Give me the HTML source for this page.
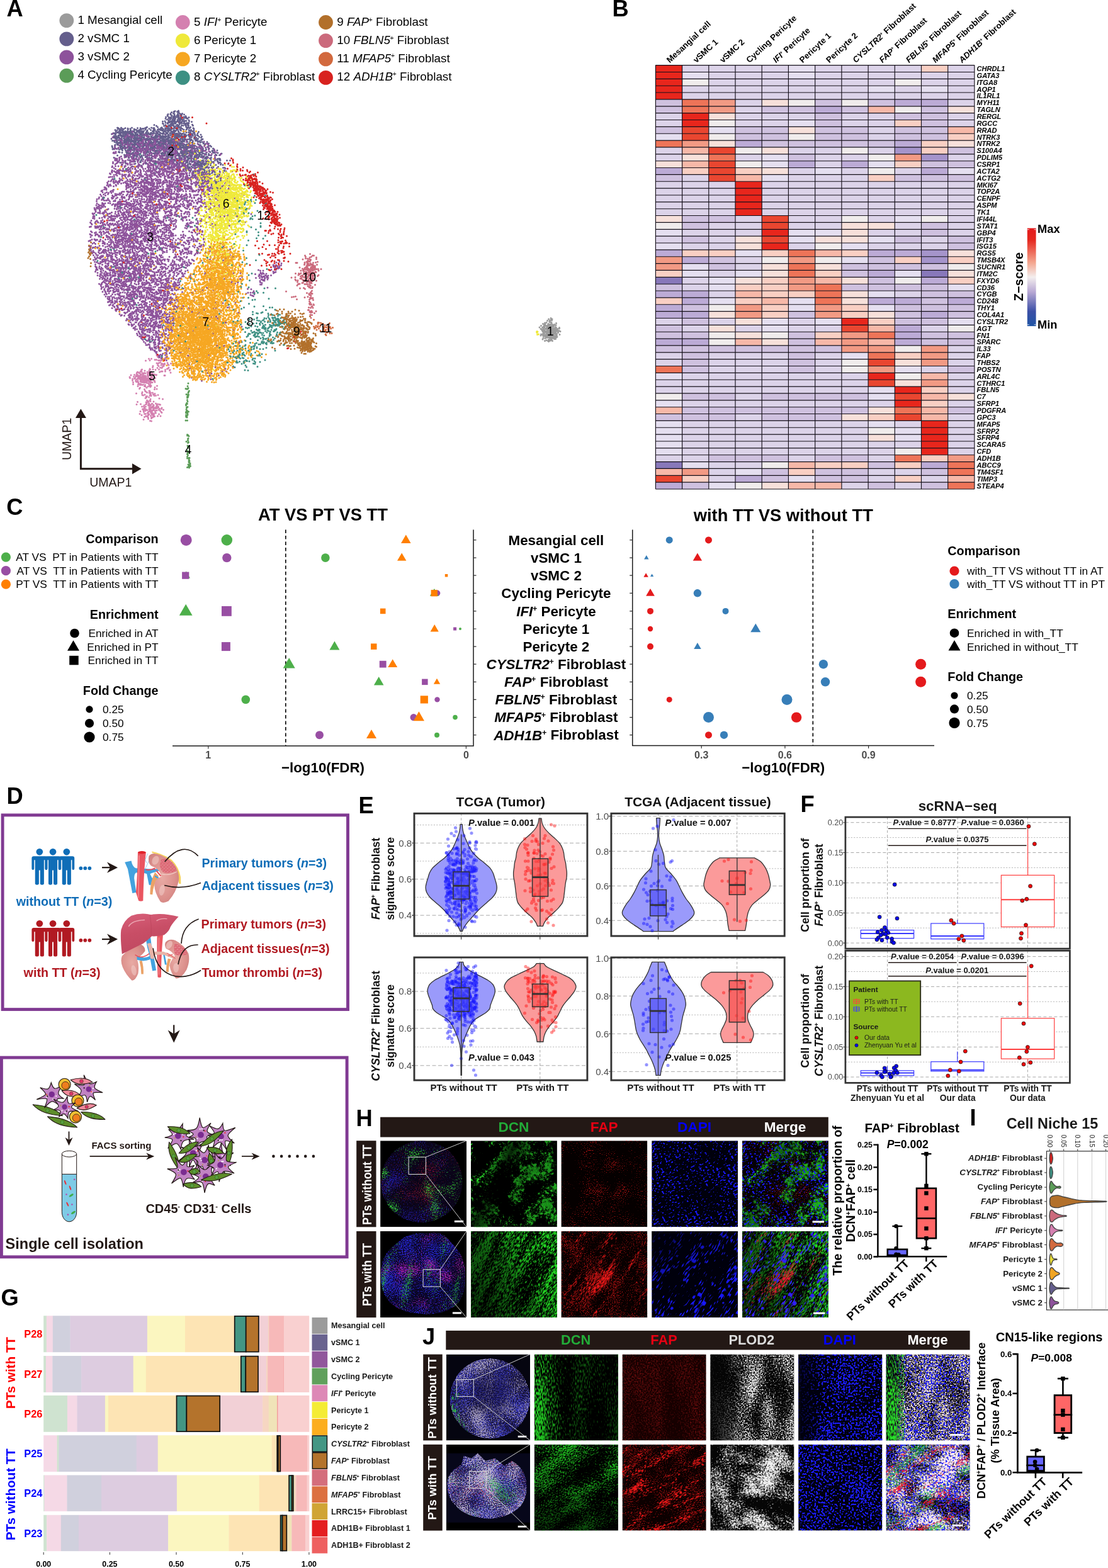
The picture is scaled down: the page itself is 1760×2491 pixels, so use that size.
<!DOCTYPE html>
<html lang="en"><head><meta charset="utf-8"><title>Figure</title>
<style>
html,body{margin:0;padding:0;background:#fff}
body{width:1760px;height:2491px;overflow:hidden}
svg{display:block;font-family:"Liberation Sans",Arial,Helvetica,sans-serif}
text{white-space:pre}
</style></head><body>
<svg width="1760" height="2491" viewBox="0 0 1760 2491">
<defs>
<linearGradient id="zsc" x1="0" y1="0" x2="0" y2="1"><stop offset="0" stop-color="#e31a1c"/><stop offset="0.12" stop-color="#e5281f"/><stop offset="0.35" stop-color="#f4a58e"/><stop offset="0.5" stop-color="#f3eeee"/><stop offset="0.65" stop-color="#b8a8d4"/><stop offset="0.85" stop-color="#3b4fa6"/><stop offset="1" stop-color="#1f55a5"/></linearGradient>
<radialGradient id="kid" cx="0.45" cy="0.5" r="0.7"><stop offset="0" stop-color="#e8aaa4"/><stop offset="0.6" stop-color="#dc908c"/><stop offset="1" stop-color="#c87a78"/></radialGradient><linearGradient id="liv" x1="0" y1="0" x2="0.3" y2="1"><stop offset="0" stop-color="#d8607a"/><stop offset="0.5" stop-color="#c84e66"/><stop offset="1" stop-color="#c04860"/></linearGradient><pattern id="tumtex" width="60" height="60" patternUnits="userSpaceOnUse"><circle cx="15" cy="15" r="11" fill="#eba0a4"/><circle cx="45" cy="40" r="12" fill="#e8969c"/><circle cx="20" cy="48" r="7" fill="#efb0b0"/><circle cx="48" cy="10" r="6" fill="#efb0b0"/></pattern>
<clipPath id="ovc1"><circle cx="65.7" cy="65.1" r="65"/></clipPath><clipPath id="ovc2"><path d="M1 72Q-2 40 25 20Q45 0 75 3Q100 -2 112 18Q132 35 135 62Q138 100 120 118Q95 135 62 131Q20 128 6 100Q1 88 1 72Z"/></clipPath>
<clipPath id="ovc3"><circle cx="69.5" cy="70.1" r="63.5"/></clipPath><clipPath id="ovc4"><path d="M2 68Q0 50 12 40L24 32L28 18L40 22L50 14L62 26L78 22L92 34L104 26Q120 34 126 52Q132 80 118 98Q100 116 70 118Q30 116 14 96Q2 84 2 68Z"/></clipPath><clipPath id="jarc"><path d="M16 45Q2 75 12 100L30 130L36 126Q18 95 22 50Z"/></clipPath><clipPath id="jleft"><rect width="30" height="137"/></clipPath>
<filter id="n1" x="0" y="0" width="1" height="1" color-interpolation-filters="sRGB"><feTurbulence type="fractalNoise" baseFrequency="0.02 0.02" numOctaves="2" seed="3" result="a"/><feTurbulence type="fractalNoise" baseFrequency="0.6 0.6" numOctaves="1" seed="4"/><feComposite in2="a" operator="arithmetic" k2="0.6" k3="0.4"/><feColorMatrix values="0 0 0 0 0.141 0 0 0 0 0.125 0 0 0 0 0.784 0 0 0 5 -2.75"/></filter><filter id="n2" x="0" y="0" width="1" height="1" color-interpolation-filters="sRGB"><feTurbulence type="fractalNoise" baseFrequency="0.02 0.02" numOctaves="2" seed="5" result="a"/><feTurbulence type="fractalNoise" baseFrequency="0.6 0.6" numOctaves="1" seed="6"/><feComposite in2="a" operator="arithmetic" k2="0.6" k3="0.4"/><feColorMatrix values="0 0 0 0 0.627 0 0 0 0 0.078 0 0 0 0 0.188 0 0 0 5 -2.85"/></filter><filter id="n3" x="0" y="0" width="1" height="1" color-interpolation-filters="sRGB"><feTurbulence type="fractalNoise" baseFrequency="0.03 0.03" numOctaves="2" seed="7" result="a"/><feTurbulence type="fractalNoise" baseFrequency="0.6 0.6" numOctaves="1" seed="8"/><feComposite in2="a" operator="arithmetic" k2="0.5" k3="0.5"/><feColorMatrix values="0 0 0 0 0.22 0 0 0 0 0.878 0 0 0 0 0.22 0 0 0 8 -4.7"/></filter><clipPath id="c1"><rect width="136.9" height="137.1"/></clipPath><filter id="n4" x="0" y="0" width="1" height="1" color-interpolation-filters="sRGB"><feTurbulence type="fractalNoise" baseFrequency="0.03 0.03" numOctaves="2" seed="4" result="a"/><feTurbulence type="fractalNoise" baseFrequency="0.22 0.22" numOctaves="2" seed="3"/><feComposite in2="a" operator="arithmetic" k2="0.5" k3="0.5"/><feColorMatrix values="0 0 0 0 0.173 0 0 0 0 0.902 0 0 0 0 0.173 0 0 0 10 -5.35"/></filter><filter id="n5" x="0" y="0" width="1" height="1" color-interpolation-filters="sRGB"><feTurbulence type="fractalNoise" baseFrequency="0.03 0.03" numOctaves="2" seed="4" result="a"/><feTurbulence type="fractalNoise" baseFrequency="0.6 0.6" numOctaves="1" seed="9"/><feComposite in2="a" operator="arithmetic" k2="0.45" k3="0.55"/><feColorMatrix values="0 0 0 0 0.122 0 0 0 0 0.722 0 0 0 0 0.122 0 0 0 8 -4.3"/></filter><linearGradient id="g6" x1="0" y1="0" x2="1" y2="0.5"><stop offset="0" stop-color="#000" stop-opacity="0"/><stop offset="0.25" stop-color="#000" stop-opacity="0"/><stop offset="0.42" stop-color="#000" stop-opacity="0.8"/><stop offset="0.6" stop-color="#000" stop-opacity="0.4"/><stop offset="1" stop-color="#000" stop-opacity="0.25"/></linearGradient><filter id="n7" x="0" y="0" width="1" height="1" color-interpolation-filters="sRGB"><feTurbulence type="fractalNoise" baseFrequency="0.03 0.03" numOctaves="2" seed="11" result="a"/><feTurbulence type="fractalNoise" baseFrequency="0.6 0.6" numOctaves="1" seed="12"/><feComposite in2="a" operator="arithmetic" k2="0.7" k3="0.3"/><feColorMatrix values="0 0 0 0 0.753 0 0 0 0 0.078 0 0 0 0 0.078 0 0 0 7 -4.1"/></filter><filter id="n8" x="0" y="0" width="1" height="1" color-interpolation-filters="sRGB"><feTurbulence type="fractalNoise" baseFrequency="0.02 0.02" numOctaves="1" seed="22" result="a"/><feTurbulence type="fractalNoise" baseFrequency="0.3 0.45" numOctaves="1" seed="21"/><feComposite in2="a" operator="arithmetic" k2="0.8" k3="0.2"/><feColorMatrix values="0 0 0 0 0.094 0 0 0 0 0.094 0 0 0 0 1 0 0 0 17 -9.6"/></filter><linearGradient id="g9" x1="0" y1="0" x2="1" y2="0.5"><stop offset="0" stop-color="#000" stop-opacity="0"/><stop offset="0.25" stop-color="#000" stop-opacity="0"/><stop offset="0.42" stop-color="#000" stop-opacity="0.8"/><stop offset="0.6" stop-color="#000" stop-opacity="0.4"/><stop offset="1" stop-color="#000" stop-opacity="0.25"/></linearGradient><linearGradient id="g10" x1="0" y1="0" x2="1" y2="0.5"><stop offset="0" stop-color="#000" stop-opacity="0"/><stop offset="0.3" stop-color="#000" stop-opacity="0.1"/><stop offset="0.42" stop-color="#000" stop-opacity="0.5"/><stop offset="0.6" stop-color="#000" stop-opacity="0.3"/><stop offset="1" stop-color="#000" stop-opacity="0.1"/></linearGradient><filter id="n11" x="0" y="0" width="1" height="1" color-interpolation-filters="sRGB"><feTurbulence type="fractalNoise" baseFrequency="0.02 0.02" numOctaves="1" seed="22" result="a"/><feTurbulence type="fractalNoise" baseFrequency="0.3 0.45" numOctaves="1" seed="21"/><feComposite in2="a" operator="arithmetic" k2="0.8" k3="0.2"/><feColorMatrix values="0 0 0 0 0.094 0 0 0 0 0.094 0 0 0 0 1 0 0 0 17 -9.5"/></filter><filter id="n12" x="0" y="0" width="1" height="1" color-interpolation-filters="sRGB"><feTurbulence type="fractalNoise" baseFrequency="0.02 0.02" numOctaves="2" seed="13" result="a"/><feTurbulence type="fractalNoise" baseFrequency="0.6 0.6" numOctaves="1" seed="14"/><feComposite in2="a" operator="arithmetic" k2="0.65" k3="0.35"/><feColorMatrix values="0 0 0 0 0.149 0 0 0 0 0.149 0 0 0 0 0.847 0 0 0 7 -3.5"/></filter><filter id="n13" x="0" y="0" width="1" height="1" color-interpolation-filters="sRGB"><feTurbulence type="fractalNoise" baseFrequency="0.025 0.025" numOctaves="2" seed="15" result="a"/><feTurbulence type="fractalNoise" baseFrequency="0.6 0.6" numOctaves="1" seed="16"/><feComposite in2="a" operator="arithmetic" k2="0.5" k3="0.5"/><feColorMatrix values="0 0 0 0 0.69 0 0 0 0 0.125 0 0 0 0 0.69 0 0 0 7 -3.85"/></filter><filter id="n14" x="0" y="0" width="1" height="1" color-interpolation-filters="sRGB"><feTurbulence type="fractalNoise" baseFrequency="0.01 0.04" numOctaves="2" seed="17" result="a"/><feTurbulence type="fractalNoise" baseFrequency="0.5 0.6" numOctaves="1" seed="18"/><feComposite in2="a" operator="arithmetic" k2="0.5" k3="0.5"/><feColorMatrix values="0 0 0 0 0.157 0 0 0 0 0.722 0 0 0 0 0.251 0 0 0 8 -4.5"/></filter><filter id="n15" x="0" y="0" width="1" height="1" color-interpolation-filters="sRGB"><feTurbulence type="fractalNoise" baseFrequency="0.008 0.07" numOctaves="3" seed="31" result="a"/><feTurbulence type="fractalNoise" baseFrequency="0.2 0.7" numOctaves="2" seed="32"/><feComposite in2="a" operator="arithmetic" k2="0.68" k3="0.32"/><feColorMatrix values="0 0 0 0 0.141 0 0 0 0 0.886 0 0 0 0 0.141 0 0 0 6 -2.68"/></filter><linearGradient id="g16" x1="0" y1="0.7" x2="1" y2="0.3"><stop offset="0" stop-color="#000" stop-opacity="0.7"/><stop offset="0.45" stop-color="#000" stop-opacity="0.45"/><stop offset="0.75" stop-color="#000" stop-opacity="0.05"/><stop offset="1" stop-color="#000" stop-opacity="0"/></linearGradient><filter id="n17" x="0" y="0" width="1" height="1" color-interpolation-filters="sRGB"><feTurbulence type="fractalNoise" baseFrequency="0.01 0.09" numOctaves="3" seed="41" result="a"/><feTurbulence type="fractalNoise" baseFrequency="0.2 0.7" numOctaves="2" seed="42"/><feComposite in2="a" operator="arithmetic" k2="0.5" k3="0.5"/><feColorMatrix values="0 0 0 0 0.941 0 0 0 0 0.094 0 0 0 0 0.094 0 0 0 7 -3.8"/></filter><filter id="n18" x="0" y="0" width="1" height="1" color-interpolation-filters="sRGB"><feTurbulence type="fractalNoise" baseFrequency="0.03 0.03" numOctaves="2" seed="45" result="a"/><feTurbulence type="fractalNoise" baseFrequency="0.6 0.6" numOctaves="1" seed="46"/><feComposite in2="a" operator="arithmetic" k2="0.7" k3="0.3"/><feColorMatrix values="0 0 0 0 0.627 0 0 0 0 0.063 0 0 0 0 0.063 0 0 0 7 -3.8"/></filter><filter id="n19" x="0" y="0" width="1" height="1" color-interpolation-filters="sRGB"><feTurbulence type="fractalNoise" baseFrequency="0.015 0.06" numOctaves="2" seed="52" result="a"/><feTurbulence type="fractalNoise" baseFrequency="0.12 0.5" numOctaves="1" seed="51"/><feComposite in2="a" operator="arithmetic" k2="0.7" k3="0.3"/><feColorMatrix values="0 0 0 0 0.094 0 0 0 0 0.094 0 0 0 0 1 0 0 0 16 -8.95"/></filter><linearGradient id="g20" x1="0" y1="0" x2="0.6" y2="0.8"><stop offset="0" stop-color="#00000c" stop-opacity="0.9"/><stop offset="0.45" stop-color="#00000c" stop-opacity="0.3"/><stop offset="1" stop-color="#00000c" stop-opacity="0"/></linearGradient><linearGradient id="g21" x1="0" y1="0.7" x2="1" y2="0.3"><stop offset="0" stop-color="#000" stop-opacity="0.7"/><stop offset="0.45" stop-color="#000" stop-opacity="0.45"/><stop offset="0.75" stop-color="#000" stop-opacity="0.05"/><stop offset="1" stop-color="#000" stop-opacity="0"/></linearGradient><filter id="n22" x="0" y="0" width="1" height="1" color-interpolation-filters="sRGB"><feTurbulence type="fractalNoise" baseFrequency="0.01 0.09" numOctaves="3" seed="41" result="a"/><feTurbulence type="fractalNoise" baseFrequency="0.2 0.7" numOctaves="2" seed="42"/><feComposite in2="a" operator="arithmetic" k2="0.5" k3="0.5"/><feColorMatrix values="0 0 0 0 0.941 0 0 0 0 0.094 0 0 0 0 0.188 0 0 0 7 -3.95"/></filter><filter id="n23" x="0" y="0" width="1" height="1" color-interpolation-filters="sRGB"><feTurbulence type="fractalNoise" baseFrequency="0.015 0.06" numOctaves="2" seed="52" result="a"/><feTurbulence type="fractalNoise" baseFrequency="0.12 0.5" numOctaves="1" seed="51"/><feComposite in2="a" operator="arithmetic" k2="0.7" k3="0.3"/><feColorMatrix values="0 0 0 0 0.188 0 0 0 0 0.125 0 0 0 0 1 0 0 0 16 -9.0"/></filter><filter id="n24" x="0" y="0" width="1" height="1" color-interpolation-filters="sRGB"><feTurbulence type="fractalNoise" baseFrequency="0.02 0.02" numOctaves="2" seed="103" result="a"/><feTurbulence type="fractalNoise" baseFrequency="0.6 0.6" numOctaves="1" seed="104"/><feComposite in2="a" operator="arithmetic" k2="0.7" k3="0.3"/><feColorMatrix values="0 0 0 0 0.204 0 0 0 0 0.204 0 0 0 0 0.753 0 0 0 7 -3.2"/></filter><filter id="n25" x="0" y="0" width="1" height="1" color-interpolation-filters="sRGB"><feTurbulence type="fractalNoise" baseFrequency="0.025 0.025" numOctaves="2" seed="105" result="a"/><feTurbulence type="fractalNoise" baseFrequency="0.6 0.6" numOctaves="1" seed="106"/><feComposite in2="a" operator="arithmetic" k2="0.6" k3="0.4"/><feColorMatrix values="0 0 0 0 0.667 0 0 0 0 0.635 0 0 0 0 0.769 0 0 0 7 -3.5"/></filter><radialGradient id="g26" cx="0.55" cy="0.45" r="0.35"><stop offset="0" stop-color="#0c0830" stop-opacity="0.5"/><stop offset="0.6" stop-color="#0c0830" stop-opacity="0.3"/><stop offset="1" stop-color="#0c0830" stop-opacity="0"/></radialGradient><filter id="n27" x="0" y="0" width="1" height="1" color-interpolation-filters="sRGB"><feTurbulence type="fractalNoise" baseFrequency="0.03 0.004" numOctaves="2" seed="107" result="a"/><feTurbulence type="fractalNoise" baseFrequency="0.5 0.15" numOctaves="1" seed="108"/><feComposite in2="a" operator="arithmetic" k2="0.6" k3="0.4"/><feColorMatrix values="0 0 0 0 0.188 0 0 0 0 0.816 0 0 0 0 0.251 0 0 0 6 -2.9"/></filter><clipPath id="c2"><rect width="133.2" height="136.8"/></clipPath><filter id="n28" x="0" y="0" width="1" height="1" color-interpolation-filters="sRGB"><feTurbulence type="fractalNoise" baseFrequency="0.03 0.004" numOctaves="2" seed="81" result="a"/><feTurbulence type="fractalNoise" baseFrequency="0.55 0.2" numOctaves="1" seed="82"/><feComposite in2="a" operator="arithmetic" k2="0.6" k3="0.4"/><feColorMatrix values="0 0 0 0 0.141 0 0 0 0 0.847 0 0 0 0 0.141 0 0 0 6 -2.9"/></filter><linearGradient id="g29" x1="0" y1="0" x2="1" y2="0"><stop offset="0" stop-color="#000" stop-opacity="0"/><stop offset="0.2" stop-color="#000" stop-opacity="0.25"/><stop offset="0.45" stop-color="#000" stop-opacity="0.55"/><stop offset="1" stop-color="#000" stop-opacity="0.7"/></linearGradient><filter id="n30" x="0" y="0" width="1" height="1" color-interpolation-filters="sRGB"><feTurbulence type="fractalNoise" baseFrequency="0.03 0.01" numOctaves="2" seed="91" result="a"/><feTurbulence type="fractalNoise" baseFrequency="0.5 0.4" numOctaves="1" seed="92"/><feComposite in2="a" operator="arithmetic" k2="0.7" k3="0.3"/><feColorMatrix values="0 0 0 0 0.502 0 0 0 0 0.063 0 0 0 0 0.063 0 0 0 3 -1.45"/></filter><filter id="n31" x="0" y="0" width="1" height="1" color-interpolation-filters="sRGB"><feTurbulence type="fractalNoise" baseFrequency="0.03 0.012" numOctaves="2" seed="61" result="a"/><feTurbulence type="fractalNoise" baseFrequency="0.45 0.45" numOctaves="2" seed="62"/><feComposite in2="a" operator="arithmetic" k2="0.6" k3="0.4"/><feColorMatrix values="0 0 0 0 0.91 0 0 0 0 0.91 0 0 0 0 0.91 0 0 0 6 -2.78"/></filter><linearGradient id="g32" x1="0" y1="0" x2="1" y2="0"><stop offset="0" stop-color="#050505" stop-opacity="0.9"/><stop offset="0.2" stop-color="#050505" stop-opacity="0.7"/><stop offset="0.4" stop-color="#050505" stop-opacity="0"/><stop offset="1" stop-color="#050505" stop-opacity="0"/></linearGradient><filter id="n33" x="0" y="0" width="1" height="1" color-interpolation-filters="sRGB"><feTurbulence type="fractalNoise" baseFrequency="0.02 0.02" numOctaves="1" seed="72" result="a"/><feTurbulence type="fractalNoise" baseFrequency="0.35 0.35" numOctaves="1" seed="71"/><feComposite in2="a" operator="arithmetic" k2="0.8" k3="0.2"/><feColorMatrix values="0 0 0 0 0.11 0 0 0 0 0.11 0 0 0 0 1 0 0 0 16 -8.35"/></filter><linearGradient id="g34" x1="0" y1="0" x2="1" y2="0"><stop offset="0" stop-color="#00000e" stop-opacity="0.9"/><stop offset="0.15" stop-color="#00000e" stop-opacity="0.6"/><stop offset="0.3" stop-color="#00000e" stop-opacity="0"/><stop offset="1" stop-color="#00000e" stop-opacity="0"/></linearGradient><filter id="n35" x="0" y="0" width="1" height="1" color-interpolation-filters="sRGB"><feTurbulence type="fractalNoise" baseFrequency="0.03 0.012" numOctaves="2" seed="61" result="a"/><feTurbulence type="fractalNoise" baseFrequency="0.45 0.45" numOctaves="2" seed="62"/><feComposite in2="a" operator="arithmetic" k2="0.7" k3="0.3"/><feColorMatrix values="0 0 0 0 0.965 0 0 0 0 0.902 0 0 0 0 0.902 0 0 0 6 -2.55"/></filter><filter id="n36" x="0" y="0" width="1" height="1" color-interpolation-filters="sRGB"><feTurbulence type="fractalNoise" baseFrequency="0.02 0.02" numOctaves="1" seed="72" result="a"/><feTurbulence type="fractalNoise" baseFrequency="0.35 0.35" numOctaves="1" seed="71"/><feComposite in2="a" operator="arithmetic" k2="0.8" k3="0.2"/><feColorMatrix values="0 0 0 0 0.125 0 0 0 0 0.125 0 0 0 0 0.941 0 0 0 16 -8.45"/></filter><linearGradient id="g37" x1="0" y1="0" x2="1" y2="0"><stop offset="0" stop-color="#020802" stop-opacity="0.95"/><stop offset="0.1" stop-color="#020802" stop-opacity="0.8"/><stop offset="0.22" stop-color="#020802" stop-opacity="0"/><stop offset="1" stop-color="#020802" stop-opacity="0"/></linearGradient><filter id="n38" x="0" y="0" width="1" height="1" color-interpolation-filters="sRGB"><feTurbulence type="fractalNoise" baseFrequency="0.02 0.006" numOctaves="2" seed="81" result="a"/><feTurbulence type="fractalNoise" baseFrequency="0.6 0.5" numOctaves="1" seed="82"/><feComposite in2="a" operator="arithmetic" k2="0.6" k3="0.4"/><feColorMatrix values="0 0 0 0 0.157 0 0 0 0 0.878 0 0 0 0 0.157 0 0 0 6 -2.75"/></filter><filter id="n39" x="0" y="0" width="1" height="1" color-interpolation-filters="sRGB"><feTurbulence type="fractalNoise" baseFrequency="0.03 0.004" numOctaves="2" seed="81" result="a"/><feTurbulence type="fractalNoise" baseFrequency="0.55 0.2" numOctaves="1" seed="82"/><feComposite in2="a" operator="arithmetic" k2="0.6" k3="0.4"/><feColorMatrix values="0 0 0 0 0.157 0 0 0 0 0.878 0 0 0 0 0.157 0 0 0 6 -3.0"/></filter><filter id="n40" x="0" y="0" width="1" height="1" color-interpolation-filters="sRGB"><feTurbulence type="fractalNoise" baseFrequency="0.02 0.02" numOctaves="2" seed="113" result="a"/><feTurbulence type="fractalNoise" baseFrequency="0.6 0.6" numOctaves="1" seed="114"/><feComposite in2="a" operator="arithmetic" k2="0.7" k3="0.3"/><feColorMatrix values="0 0 0 0 0.251 0 0 0 0 0.251 0 0 0 0 0.816 0 0 0 7 -3.25"/></filter><filter id="n41" x="0" y="0" width="1" height="1" color-interpolation-filters="sRGB"><feTurbulence type="fractalNoise" baseFrequency="0.025 0.025" numOctaves="2" seed="115" result="a"/><feTurbulence type="fractalNoise" baseFrequency="0.6 0.6" numOctaves="1" seed="116"/><feComposite in2="a" operator="arithmetic" k2="0.6" k3="0.4"/><feColorMatrix values="0 0 0 0 0.737 0 0 0 0 0.69 0 0 0 0 0.816 0 0 0 7 -3.3"/></filter><filter id="n42" x="0" y="0" width="1" height="1" color-interpolation-filters="sRGB"><feTurbulence type="fractalNoise" baseFrequency="0.02 0.02" numOctaves="2" seed="117" result="a"/><feTurbulence type="fractalNoise" baseFrequency="0.6 0.6" numOctaves="1" seed="118"/><feComposite in2="a" operator="arithmetic" k2="0.5" k3="0.5"/><feColorMatrix values="0 0 0 0 0.251 0 0 0 0 0.784 0 0 0 0 0.376 0 0 0 8 -4.55"/></filter><filter id="n43" x="0" y="0" width="1" height="1" color-interpolation-filters="sRGB"><feTurbulence type="fractalNoise" baseFrequency="0.02 0.02" numOctaves="2" seed="119" result="a"/><feTurbulence type="fractalNoise" baseFrequency="0.6 0.6" numOctaves="1" seed="120"/><feComposite in2="a" operator="arithmetic" k2="0.7" k3="0.3"/><feColorMatrix values="0 0 0 0 0.816 0 0 0 0 0.157 0 0 0 0 0.282 0 0 0 8 -4.85"/></filter><filter id="n44" x="0" y="0" width="1" height="1" color-interpolation-filters="sRGB"><feTurbulence type="fractalNoise" baseFrequency="0.015 0.03" numOctaves="3" seed="131" result="a"/><feTurbulence type="fractalNoise" baseFrequency="0.4 0.6" numOctaves="1" seed="132"/><feComposite in2="a" operator="arithmetic" k2="0.65" k3="0.35"/><feColorMatrix values="0 0 0 0 0.141 0 0 0 0 0.878 0 0 0 0 0.141 0 0 0 6 -2.85"/></filter><linearGradient id="g45" x1="0.5" y1="0" x2="0.3" y2="1"><stop offset="0" stop-color="#000" stop-opacity="0.1"/><stop offset="0.5" stop-color="#000" stop-opacity="0.3"/><stop offset="1" stop-color="#000" stop-opacity="0.7"/></linearGradient><filter id="n46" x="0" y="0" width="1" height="1" color-interpolation-filters="sRGB"><feTurbulence type="fractalNoise" baseFrequency="0.02 0.06" numOctaves="3" seed="141" result="a"/><feTurbulence type="fractalNoise" baseFrequency="0.25 0.6" numOctaves="2" seed="142"/><feComposite in2="a" operator="arithmetic" k2="0.5" k3="0.5"/><feColorMatrix values="0 0 0 0 0.957 0 0 0 0 0.094 0 0 0 0 0.094 0 0 0 8 -4.3"/></filter><filter id="n47" x="0" y="0" width="1" height="1" color-interpolation-filters="sRGB"><feTurbulence type="fractalNoise" baseFrequency="0.03 0.03" numOctaves="2" seed="145" result="a"/><feTurbulence type="fractalNoise" baseFrequency="0.6 0.6" numOctaves="1" seed="146"/><feComposite in2="a" operator="arithmetic" k2="0.7" k3="0.3"/><feColorMatrix values="0 0 0 0 0.627 0 0 0 0 0.063 0 0 0 0 0.063 0 0 0 6 -3.3"/></filter><filter id="n48" x="0" y="0" width="1" height="1" color-interpolation-filters="sRGB"><feTurbulence type="fractalNoise" baseFrequency="0.02 0.03" numOctaves="3" seed="151" result="a"/><feTurbulence type="fractalNoise" baseFrequency="0.45 0.45" numOctaves="2" seed="152"/><feComposite in2="a" operator="arithmetic" k2="0.55" k3="0.45"/><feColorMatrix values="0 0 0 0 0.941 0 0 0 0 0.941 0 0 0 0 0.941 0 0 0 6 -2.8"/></filter><filter id="n49" x="0" y="0" width="1" height="1" color-interpolation-filters="sRGB"><feTurbulence type="fractalNoise" baseFrequency="0.02 0.02" numOctaves="1" seed="162" result="a"/><feTurbulence type="fractalNoise" baseFrequency="0.35 0.35" numOctaves="1" seed="161"/><feComposite in2="a" operator="arithmetic" k2="0.8" k3="0.2"/><feColorMatrix values="0 0 0 0 0.11 0 0 0 0 0.11 0 0 0 0 1 0 0 0 16 -8.25"/></filter><filter id="n50" x="0" y="0" width="1" height="1" color-interpolation-filters="sRGB"><feTurbulence type="fractalNoise" baseFrequency="0.02 0.03" numOctaves="3" seed="151" result="a"/><feTurbulence type="fractalNoise" baseFrequency="0.45 0.45" numOctaves="2" seed="152"/><feComposite in2="a" operator="arithmetic" k2="0.55" k3="0.45"/><feColorMatrix values="0 0 0 0 0.965 0 0 0 0 0.91 0 0 0 0 0.965 0 0 0 6 -2.5"/></filter><filter id="n51" x="0" y="0" width="1" height="1" color-interpolation-filters="sRGB"><feTurbulence type="fractalNoise" baseFrequency="0.02 0.02" numOctaves="1" seed="162" result="a"/><feTurbulence type="fractalNoise" baseFrequency="0.35 0.35" numOctaves="1" seed="161"/><feComposite in2="a" operator="arithmetic" k2="0.8" k3="0.2"/><feColorMatrix values="0 0 0 0 0.157 0 0 0 0 0.157 0 0 0 0 1 0 0 0 16 -8.3"/></filter><filter id="n52" x="0" y="0" width="1" height="1" color-interpolation-filters="sRGB"><feTurbulence type="fractalNoise" baseFrequency="0.015 0.03" numOctaves="3" seed="131" result="a"/><feTurbulence type="fractalNoise" baseFrequency="0.4 0.6" numOctaves="1" seed="132"/><feComposite in2="a" operator="arithmetic" k2="0.5" k3="0.5"/><feColorMatrix values="0 0 0 0 0.141 0 0 0 0 0.784 0 0 0 0 0.235 0 0 0 7 -3.85"/></filter><filter id="n53" x="0" y="0" width="1" height="1" color-interpolation-filters="sRGB"><feTurbulence type="fractalNoise" baseFrequency="0.02 0.06" numOctaves="3" seed="141" result="a"/><feTurbulence type="fractalNoise" baseFrequency="0.25 0.6" numOctaves="2" seed="142"/><feComposite in2="a" operator="arithmetic" k2="0.5" k3="0.5"/><feColorMatrix values="0 0 0 0 0.957 0 0 0 0 0.094 0 0 0 0 0.188 0 0 0 8 -4.45"/></filter>
</defs>
<rect width="1760" height="2491" fill="#fff"/>
<g id="panelA">
<text x="10.5" y="26.3" font-size="36.3" font-weight="bold">A</text>
<circle cx="105.8" cy="32.6" r="11.4" fill="#9b9b9b"/>
<text x="123.4" y="38.3" font-size="18.8">1 Mesangial cell</text>
<circle cx="105.8" cy="61.9" r="11.4" fill="#645e8c"/>
<text x="123.4" y="67.1" font-size="18.8">2 vSMC 1</text>
<circle cx="105.8" cy="90.9" r="11.4" fill="#8d529b"/>
<text x="123.4" y="95.9" font-size="18.8">3 vSMC 2</text>
<circle cx="105.8" cy="120.2" r="11.4" fill="#5b9c58"/>
<text x="123.4" y="124.7" font-size="18.8">4 Cycling Pericyte</text>
<circle cx="290.3" cy="35.5" r="11.4" fill="#d480b0"/>
<text x="308" y="41.2" font-size="18.8">5 <tspan font-style="italic">IFI</tspan><tspan dx="-0.03em" dy="-0.62em" font-size="55%" font-style="normal">+</tspan><tspan dy="0.341em">​</tspan> Pericyte</text>
<circle cx="290.3" cy="64.6" r="11.4" fill="#efe93a"/>
<text x="308" y="70" font-size="18.8">6 Pericyte 1</text>
<circle cx="290.3" cy="93.9" r="11.4" fill="#f6a722"/>
<text x="308" y="98.8" font-size="18.8">7 Pericyte 2</text>
<circle cx="290.3" cy="123.4" r="11.4" fill="#3d9083"/>
<text x="308" y="127.6" font-size="18.8">8 <tspan font-style="italic">CYSLTR2</tspan><tspan dx="-0.03em" dy="-0.62em" font-size="55%" font-style="normal">+</tspan><tspan dy="0.341em">​</tspan> Fibroblast</text>
<circle cx="517.5" cy="35.5" r="11.4" fill="#b2702b"/>
<text x="535.3" y="41.2" font-size="18.8">9 <tspan font-style="italic">FAP</tspan><tspan dx="-0.03em" dy="-0.62em" font-size="55%" font-style="normal">+</tspan><tspan dy="0.341em">​</tspan> Fibroblast</text>
<circle cx="517.5" cy="64.6" r="11.4" fill="#cb6a7c"/>
<text x="535.3" y="70" font-size="18.8">10 <tspan font-style="italic">FBLN5</tspan><tspan dx="-0.03em" dy="-0.62em" font-size="55%" font-style="normal">+</tspan><tspan dy="0.341em">​</tspan> Fibroblast</text>
<circle cx="517.5" cy="93.9" r="11.4" fill="#d2693e"/>
<text x="535.3" y="98.8" font-size="18.8">11 <tspan font-style="italic">MFAP5</tspan><tspan dx="-0.03em" dy="-0.62em" font-size="55%" font-style="normal">+</tspan><tspan dy="0.341em">​</tspan> Fibroblast</text>
<circle cx="517.5" cy="123.4" r="11.4" fill="#d8221f"/>
<text x="535.3" y="127.6" font-size="18.8">12 <tspan font-style="italic">ADH1B</tspan><tspan dx="-0.03em" dy="-0.62em" font-size="55%" font-style="normal">+</tspan><tspan dy="0.341em">​</tspan> Fibroblast</text>
<path d="M1729 1031h0m13-2h0m1-15h0m3 9h0m0-3h0m2 10h0m2-19h0m1 5h0m3-2h0m13 13h0m13 26h0m-3-9h0m-1 7h0m-4-6h0m0 6h0m-6-18h0m-2 13h0m-3 1h0m-1-14h0m0 2h0m-1 14h0m-1-11h0m-3 0h0m-1-6h0m-2 18h0m-1-2h0m-1-11h0m-2 7h0m0-2h0m-2 9h0m0-19h0m-2 23h0m0-7h0m-3-16h0m0 9h0m-1-3h0m-2 2h0m0-5h0m-1 2h0m-1 5h0m0 13h0m-2-20h0m-2 17h0m-2-15h0m-1-3h0m0 18h0m-1-16h0m-1 17h0m-1-7h0m-2 7h0m-3-6h0m-2-12h0m-5 5h0m5 22h0m5 16h0m0-14h0m2 4h0m0 6h0m1-10h0m3 4h0m0-3h0m2 10h0m0-6h0m3-2h0m1-10h0m3 0h0m0 9h0m1 6h0m0-11h0m1-5h0m4 17h0m0-6h0m1-10h0m1 15h0m0 2h0m1-8h0m2 10h0m3-9h0m5 2h0m6 4h0m1 4h0m2-7h0m11-7h0m-23 20h0m-9-3h0m-10 1h0" stroke="#9b9b9b" stroke-width="6" stroke-linecap="round" fill="none" transform="scale(.5)"/>
<path d="M545 357h0m7-2h0m2 0h0m2-2h0m10 5h0m1-6h0m33 30h0m-4-5h0m-3-1h0m-4-2h0m-3-2h0m-1-8h0m-2 8h0m-3 8h0m-1-19h0m-1 18h0m-2-9h0m-1 7h0m-1-4h0m-3 4h0m-1 3h0m-2-8h0m-1-6h0m0 12h0m-1-3h0m-1-13h0m-3 5h0m-5 10h0m-1 2h0m0-10h0m-2-5h0m0 4h0m0-6h0m-1 19h0m-2-21h0m-1 12h0m-1 11h0m-3-16h0m-2 5h0m-2-8h0m-2 10h0m-3-1h0m-1 9h0m-9-10h0m-1 5h0m-153 29h0m3 1h0m9-1h0m52 1h0m9 0h0m15 0h0m4-2h0m2-1h0m20 3h0m3 0h0m0-10h0m21 10h0m3-2h0m3-13h0m0-6h0m2 8h0m2 6h0m11-9h0m1 2h0m1-4h0m1 13h0m2 5h0m2-21h0m3 9h0m1-10h0m1 9h0m2-7h0m1 5h0m2 4h0m1 3h0m1-1h0m0-5h0m2 10h0m2 3h0m0-16h0m8 6h0m5 9h0m0-5h0m2-5h0m0 9h0m1-11h0m1-6h0m3 16h0m2-11h0m1-6h0m3-2h0m4 0h0m0 4h0m0 3h0m3 6h0m3 5h0m3-11h0m1 6h0m2-6h0m1 12h0m3-18h0m10 11h0m2 3h0m25 29h0m-7-9h0m-2 12h0m-1-7h0m-2 5h0m-7-2h0m-3-13h0m-3 11h0m-3 4h0m-5-7h0m0-4h0m-2-3h0m-3 12h0m0 2h0m-8 2h0m0-19h0m-1 17h0m-5 1h0m-2-11h0m0-7h0m-5-3h0m-2 21h0m-6 0h0m-1-4h0m-2-5h0m0 8h0m0-10h0m-2-3h0m-1-5h0m-3 13h0m-3 1h0m-2-8h0m-1 12h0m-2-15h0m0 3h0m-2-3h0m0-6h0m-2 12h0m-1-2h0m-2 13h0m-2-11h0m-9-11h0m0 22h0m-1-3h0m0-16h0m-5 2h0m-6 1h0m-3 10h0m-2-14h0m0 10h0m-2 10h0m-3-7h0m0-10h0m-1-5h0m-2 2h0m-2 2h0m0 9h0m-1 5h0m-2-8h0m-3 7h0m-1-10h0m-6 3h0m-1 5h0m-3-12h0m-7 12h0m-5 1h0m-1 3h0m0-15h0m-1 10h0m-2 4h0m-2-18h0m-1 17h0m-2-4h0m-3 6h0m-2-10h0m-2 11h0m-1-6h0m-1-11h0m-5 4h0m-4-7h0m0 21h0m-5-6h0m0 3h0m-2-15h0m-1 4h0m-5 4h0m-3 8h0m0 3h0m0-5h0m-3-6h0m-2 5h0m-2-3h0m0 3h0m-2-4h0m-2-11h0m-2 7h0m-1 10h0m-2-10h0m-2 4h0m-1 3h0m-1 7h0m-2-18h0m0 12h0m-1-6h0m0-10h0m-4 16h0m-4-13h0m-1 5h0m-4 11h0m-3-11h0m-3 3h0m-2 2h0m0 8h0m-2-2h0m0 3h0m0-14h0m-1-3h0m-1 7h0m-6 7h0m0-14h0m-2 16h0m0-3h0m-4-18h0m0 13h0m-1 8h0m-1-21h0m-7 16h0m-2-2h0m-3 1h0m-3-1h0m-5 3h0m-1 15h0m7-4h0m1-5h0m2 19h0m2-17h0m1 6h0m3 5h0m1-3h0m3 11h0m2 2h0m2-19h0m1 17h0m0-15h0m1 2h0m1 15h0m2-14h0m1-9h0m11 3h0m0 11h0m5 7h0m3-2h0m1-6h0m0 4h0m1 4h0m1-12h0m2 13h0m0-19h0m2 10h0m0 3h0m1-12h0m1 8h0m2 11h0m12-10h0m2-11h0m0 9h0m1-11h0m0 7h0m3 0h0m0 10h0m2-11h0m2 4h0m0-5h0m1 16h0m2-2h0m0-19h0m3 17h0m1-12h0m3 6h0m2 0h0m1-8h0m0 4h0m1 11h0m1-3h0m1-4h0m2 11h0m8-10h0m3 2h0m1 8h0m5-9h0m0-12h0m0 3h0m2 15h0m0-5h0m5-4h0m0 13h0m2-16h0m0-5h0m1 8h0m4 2h0m1 9h0m1-17h0m2 15h0m0-11h0m1 7h0m1-7h0m2-7h0m3-1h0m1 20h0m2-10h0m2 7h0m1-17h0m1 19h0m3 0h0m2-16h0m1 10h0m2 5h0m2 5h0m2-13h0m3 10h0m2 2h0m0-17h0m2-4h0m1 22h0m3-8h0m0 7h0m1-22h0m0 3h0m2 14h0m4-17h0m2 21h0m2-4h0m1-12h0m1 14h0m2-7h0m0 4h0m2 3h0m3-11h0m0 8h0m2-15h0m1 21h0m3-13h0m0 13h0m3-9h0m2 6h0m1-13h0m2 3h0m1 8h0m4 0h0m0-10h0m4 15h0m1-19h0m2 10h0m2-11h0m3 16h0m6-2h0m0-10h0m0-5h0m1 12h0m1 5h0m1-4h0m1-4h0m1-5h0m2-3h0m0 9h0m6 0h0m5-1h0m2-1h0m0 11h0m7 1h0m2 0h0m1-5h0m4-11h0m3 4h0m1 6h0m1-1h0m5 2h0m6-13h0m0 13h0m3 5h0m3-16h0m2 6h0m1 8h0m48 27h0m-9-1h0m-5 2h0m-8-16h0m-4 10h0m-1-17h0m-4 11h0m-15 12h0m-1-4h0m-1-8h0m-3-2h0m-2-4h0m-3 0h0m-1 9h0m-3 8h0m-7-6h0m-1 7h0m-2-16h0m-2 14h0m0-21h0m-8 19h0m-5-9h0m-2 3h0m-4-12h0m0 22h0m-1-15h0m-4-6h0m0 17h0m-2-2h0m-1-13h0m-1 17h0m-3-10h0m-1 2h0m-1 2h0m-3-8h0m-3-2h0m-2 16h0m-3-21h0m0 8h0m-1-5h0m0 13h0m-1-15h0m-2 5h0m-2 5h0m-4-7h0m0 15h0m-1-6h0m-1-4h0m-4-9h0m-1 12h0m-2-5h0m-1 2h0m0 6h0m-3-12h0m-1-3h0m-1 7h0m-2 2h0m-2-5h0m-9 16h0m-2-2h0m-4-7h0m-1-4h0m0 8h0m-1 2h0m-2 5h0m-1-21h0m-1 22h0m0-11h0m-4-1h0m-2-2h0m-3 9h0m-5-11h0m-1 3h0m-1-5h0m-1 7h0m-1 6h0m-2-12h0m-1 2h0m-1-7h0m-1 14h0m-5-10h0m-1 18h0m-3-14h0m-1 4h0m-6-8h0m-1-2h0m0 17h0m-2-20h0m-3 11h0m-3-9h0m-2 15h0m-1 2h0m-1-13h0m-1-1h0m-4 16h0m-6-16h0m0-2h0m-2-3h0m-1 18h0m-1-10h0m0-3h0m-4 16h0m-2-21h0m-2 8h0m-2 10h0m0-16h0m0 21h0m-3-10h0m-6-3h0m-9 6h0m-2-16h0m-2 8h0m0-5h0m0 12h0m-4-3h0m-1-5h0m0-2h0m-1 6h0m-2 6h0m-3-6h0m-5-3h0m-2 2h0m-3-6h0m-4 11h0m-3-5h0m-2-3h0m-1 4h0m-4-9h0m-5 16h0m-1-7h0m0-6h0m-2 8h0m-3 6h0m-4-18h0m-4 16h0m-5-13h0m-3 14h0m-3-1h0m-4-9h0m17 30h0m22-2h0m6-9h0m12 10h0m7-7h0m6-6h0m2 13h0m5 3h0m6-11h0m5-5h0m6 14h0m2 5h0m4-14h0m0 8h0m6 6h0m0-19h0m0 9h0m4-4h0m1-3h0m1 9h0m7-3h0m4-4h0m12 12h0m6-9h0m2 3h0m13-3h0m4-2h0m1 9h0m6-4h0m1-8h0m2 0h0m3-1h0m2 11h0m1-5h0m0-5h0m1 16h0m2-5h0m1 6h0m6-1h0m1-4h0m1 9h0m0-3h0m1-12h0m3 12h0m0-5h0m1-13h0m4 5h0m3 12h0m8-13h0m1 6h0m2 2h0m1 2h0m0-6h0m1 12h0m3-3h0m4-16h0m2 19h0m0-8h0m2 2h0m2-15h0m0 3h0m0 3h0m2 7h0m1-3h0m3-1h0m1-8h0m9 14h0m4-13h0m1 8h0m1 8h0m6-12h0m5 2h0m2 11h0m1-3h0m1-2h0m2-11h0m6 16h0m2-18h0m2 16h0m2-6h0m3-6h0m2 13h0m2-1h0m1-5h0m3 5h0m0-16h0m4 16h0m0-10h0m7 3h0m1 7h0m3 0h0m4-9h0m4 14h0m1-20h0m3 18h0m0-7h0m7-9h0m4 0h0m3 6h0m7-5h0m5 7h0m7-5h0m27 22h0m-6 11h0m-17 3h0m-6-4h0m-2-11h0m-3-1h0m-1-4h0m-1 13h0m-4-5h0m0-7h0m-2 3h0m-6 2h0m-5 4h0m-5 1h0m-3 4h0m-8-2h0m0 4h0m-3 0h0m-2-8h0m-4 8h0m-2-2h0m-1 6h0m-3-2h0m-1-3h0m0-11h0m-3 10h0m0-2h0m-3 10h0m-1-9h0m-1 3h0m-2-4h0m-2-2h0m-1 11h0m0-3h0m-1-7h0m-2 8h0m0-11h0m-3 12h0m-4-19h0m0 18h0m-1-6h0m-1-10h0m-1 7h0m-2-10h0m0 12h0m0 9h0m-2-4h0m-2-9h0m-4 2h0m-2-6h0m-5 3h0m0 8h0m-1-2h0m-5 4h0m-1-6h0m-7-12h0m-10 14h0m-4-1h0m-5-7h0m-11 14h0m-7-7h0m-2-5h0m-2 5h0m-1-13h0m-3 5h0m-4-1h0m-14 7h0m-3-9h0m-1 7h0m-8-7h0m-28 8h0m-23 6h0m-8-14h0m-5 20h0m-1-18h0m-2 7h0m-2 0h0m-5-7h0m-1 2h0m-9 10h0m-19-11h0m-13 7h0m-16 1h0m37 12h0m74 21h0m4-13h0m47-7h0m23 10h0m17-12h0m12 0h0m0 2h0m2 1h0m3 11h0m4 0h0m3-13h0m7 21h0m19-14h0m0 11h0m6-17h0m6 19h0m2-12h0m7-5h0m9 0h0m11 6h0m18-8h0m16 18h0m5-15h0m4 11h0m-26 16h0m-2-5h0m-1 7h0m-27 11h0m-7-16h0m-10 3h0m0 13h0m-1-16h0m-1 7h0m-3-10h0m-7 18h0m0-14h0m-6 4h0m-6-4h0m-2 5h0m-2-7h0m-6-1h0m-9 2h0m-6 11h0m-6 1h0m49 16h0m3-1h0m23-8h0m8 4h0m6 17h0m9-2h0m6-19h0m3 13h0m3 0h0m7-10h0m2 10h0m19-12h0m1 14h0m-37 14h0m-3-1h0m-30 10h0" stroke="#645e8c" stroke-width="6" stroke-linecap="round" fill="none" transform="scale(.5)"/>
<path d="M607 431h0m-82-4h0m-26-5h0m-44 5h0m-97-2h0m0 11h0m27 4h0m2 15h0m1-9h0m1 9h0m8-14h0m2 3h0m7 7h0m7-2h0m11-2h0m14-6h0m5 13h0m23-12h0m1-8h0m4 14h0m12-12h0m10 16h0m1-5h0m5-2h0m8-2h0m2 11h0m9 0h0m10-9h0m3 5h0m19 0h0m98 0h0m32 24h0m-17 1h0m-2-17h0m-8-1h0m0 12h0m-14-1h0m-25-5h0m-5 15h0m-15-9h0m-10-12h0m0 11h0m-4-12h0m-21 15h0m-1-11h0m-9 13h0m-6 3h0m-3 0h0m-2-13h0m-7 13h0m-3-20h0m-5 10h0m0-8h0m-7 12h0m-4 5h0m-1-3h0m-10-13h0m-2 5h0m-6-3h0m-4 3h0m0 9h0m-1-16h0m-4 14h0m-3 5h0m-2-19h0m-12 13h0m0-3h0m-3 1h0m-1 3h0m-2-15h0m-3 16h0m-2 7h0m-4-6h0m-2 6h0m-5-2h0m-3-5h0m-3 7h0m-7-9h0m-1 3h0m-10-16h0m-9 2h0m-8 8h0m0 12h0m-6-22h0m-8 4h0m-13 0h0m-1 8h0m0 3h0m-8 0h0m-8 14h0m3 1h0m3 16h0m2-21h0m0 4h0m11 15h0m1-1h0m5-3h0m11 3h0m0-3h0m4 2h0m8 2h0m1-11h0m4-5h0m10 9h0m1-5h0m0 14h0m1-6h0m2-7h0m2-2h0m3 14h0m2-10h0m2 2h0m1-7h0m1-6h0m3 8h0m2 6h0m7-14h0m7 6h0m0-6h0m4 2h0m4 13h0m3 0h0m1 6h0m2-8h0m3-4h0m2 4h0m7 1h0m0 3h0m0-11h0m5 10h0m4 5h0m3-14h0m1-5h0m5 6h0m3-5h0m1 3h0m3 12h0m1 4h0m3-5h0m3-4h0m7-13h0m1 14h0m2 7h0m9-14h0m3 1h0m8 8h0m6-9h0m4-8h0m3 22h0m5-14h0m7 0h0m3 7h0m6-11h0m7 1h0m0 17h0m9-22h0m6 7h0m7-6h0m5 1h0m9 6h0m35-4h0m7-3h0m3 12h0m6-4h0m10 10h0m4-15h0m7 35h0m-34 6h0m-15-10h0m-20-3h0m-7 1h0m-11-1h0m-1 9h0m-9-11h0m-1 2h0m-4 15h0m-1-17h0m-1 2h0m-10 3h0m-2 8h0m-3-10h0m-3 5h0m-3-10h0m-2 19h0m0-6h0m-4-1h0m-2-3h0m-2-9h0m-10 7h0m0-8h0m-1 14h0m-7-2h0m-3-4h0m-1 8h0m-1-17h0m0 12h0m-3-9h0m0 15h0m-1-7h0m-3 0h0m-1-5h0m-4-2h0m0 4h0m-2 8h0m-3-4h0m-2 2h0m-1-6h0m-3 3h0m-1 5h0m-7-2h0m0-5h0m-3 12h0m0-9h0m-9-7h0m0 6h0m-4 7h0m-2 3h0m-2-4h0m0-19h0m-4 22h0m-4-22h0m0 13h0m-2 10h0m-4-21h0m-1 18h0m-2-16h0m0 12h0m-7-7h0m-6 9h0m-3-18h0m-10 3h0m-5 4h0m-16-5h0m-2 16h0m-2-9h0m-2-4h0m-1 15h0m-1-5h0m-7-11h0m0 12h0m0 3h0m-7 4h0m-2-15h0m-5 5h0m-5-1h0m0 6h0m-1 3h0m-6-20h0m-1 4h0m-2 5h0m-4 3h0m0-5h0m-1-8h0m-1 6h0m-1-5h0m-3 2h0m-1 15h0m-7-7h0m-10 36h0m7-10h0m0-10h0m0 17h0m1-5h0m5-9h0m5-6h0m3 19h0m2-5h0m3 6h0m1-20h0m1 23h0m11-8h0m2 1h0m1-3h0m5-10h0m0-3h0m6 16h0m2-8h0m4 6h0m1-3h0m4-3h0m3-4h0m1 15h0m1 3h0m3-14h0m9 11h0m4-18h0m4 17h0m1-13h0m7 15h0m1-6h0m2-12h0m3 2h0m3 5h0m8 9h0m4-4h0m6-10h0m4 8h0m2-7h0m0 3h0m0 12h0m7-13h0m1-4h0m1 20h0m0-17h0m4 4h0m2 5h0m2-13h0m0 3h0m3-2h0m1 17h0m3 1h0m3-14h0m1 4h0m0 8h0m2-18h0m6 6h0m0 16h0m2-8h0m1 5h0m1-10h0m1 13h0m2-11h0m1-4h0m1 2h0m2 2h0m3 3h0m1 5h0m5-11h0m4-2h0m1 12h0m2-2h0m1-12h0m4 8h0m1-10h0m5 2h0m2-4h0m7 4h0m2 15h0m1-4h0m0-10h0m7 8h0m0-9h0m2 18h0m1-22h0m0 15h0m4 0h0m4-3h0m0 2h0m6-6h0m1 12h0m2-6h0m2-9h0m0 16h0m6-15h0m2 15h0m2-16h0m1 11h0m5 5h0m7-17h0m1-4h0m2 13h0m7 0h0m2 9h0m3-12h0m1 3h0m5-2h0m5 6h0m18 5h0m14-15h0m8 4h0m29 1h0m11 27h0m-1 7h0m-26-14h0m-31 3h0m-1-5h0m-5-4h0m-3 6h0m-4 12h0m-2-4h0m-9 1h0m-2-1h0m0-9h0m-16 3h0m-1-8h0m-15 19h0m-8-7h0m-1 3h0m-3-13h0m-1 9h0m-2-6h0m-2 1h0m-1 4h0m-4-12h0m-2 0h0m-2 13h0m-2 9h0m0-23h0m-3 22h0m-1-2h0m0-18h0m-4 0h0m-6 12h0m-1-5h0m0-9h0m-4 9h0m-2 13h0m-4-21h0m-3 3h0m-2 1h0m-1 6h0m-3 7h0m-6-7h0m0-10h0m-4 7h0m-1 5h0m-2-7h0m-2-5h0m-1 19h0m-2 2h0m-3-6h0m-1-3h0m-2-10h0m-1 20h0m-4-18h0m-5 5h0m-1 9h0m0 2h0m-3-16h0m-3-4h0m0 2h0m-5 15h0m0-9h0m-1-2h0m0 14h0m-8-20h0m0 3h0m-1 14h0m-3 2h0m-2-13h0m-3 14h0m-1-13h0m-2 3h0m-1-7h0m-2 0h0m-1 13h0m-5-13h0m0 13h0m-1-3h0m-2 8h0m-4-9h0m-2-11h0m-1 12h0m0 6h0m-2 0h0m-2 2h0m-4-15h0m0 3h0m-3-8h0m-6 12h0m-4 2h0m-3-10h0m-3 9h0m-3 2h0m0 5h0m-6-10h0m-3-3h0m-7-2h0m-8 12h0m-10-16h0m-6 3h0m-1-4h0m-3 17h0m-5-4h0m-1 7h0m-7-16h0m-4 16h0m-5-12h0m-4 7h0m-2 0h0m-6-16h0m0 9h0m-5 1h0m-14 32h0m3 1h0m3 3h0m2-10h0m2-5h0m3 9h0m0-17h0m1 13h0m4-3h0m2-10h0m0 14h0m8-12h0m1 14h0m5-13h0m3 11h0m6-6h0m1-7h0m4-1h0m5 7h0m7-2h0m8 1h0m1 12h0m0-18h0m2 10h0m0 11h0m1-15h0m2 3h0m1-9h0m0 11h0m1 9h0m0-11h0m3 9h0m3-9h0m2 8h0m3-3h0m1-13h0m3 17h0m4-4h0m4 7h0m7-21h0m2 20h0m2-13h0m4-4h0m2-2h0m0 12h0m1 3h0m0-11h0m2-3h0m4 0h0m4 4h0m3 0h0m2 0h0m3-3h0m1 18h0m0-15h0m2-2h0m3-2h0m4 6h0m1-4h0m1 2h0m0 15h0m1-11h0m2 2h0m0 9h0m2-5h0m1-4h0m1-12h0m2 8h0m0 6h0m1 8h0m1-17h0m0 4h0m3 8h0m4 0h0m1-12h0m0 14h0m1 4h0m1-16h0m3-6h0m4 5h0m2-4h0m2 3h0m6 2h0m0-5h0m8 2h0m6 13h0m0-17h0m3 22h0m4-15h0m0 7h0m0-10h0m1 18h0m2-12h0m0 6h0m1-15h0m0 17h0m1-9h0m2 4h0m2-1h0m1 6h0m4-12h0m0 3h0m2-6h0m1 17h0m3-15h0m2 13h0m2-11h0m4 1h0m0 4h0m1 5h0m4-9h0m0 10h0m1-13h0m2 12h0m0 6h0m3-16h0m5-7h0m1 8h0m1 3h0m2 11h0m1-9h0m4-1h0m2 10h0m1-7h0m1-14h0m2 12h0m1 2h0m0-11h0m4 12h0m5-10h0m1 4h0m1 13h0m12-11h0m4-2h0m0-7h0m8 16h0m4-13h0m5 12h0m1-15h0m0 12h0m3-7h0m4-4h0m3 12h0m4-8h0m2 7h0m3-10h0m8 14h0m6-2h0m4-17h0m2 17h0m33-10h0m0 16h0m2-19h0m9 10h0m49 29h0m-7-4h0m-46-4h0m-16-3h0m-19 10h0m-6 4h0m-1-13h0m-2 4h0m-4 9h0m-10-21h0m0 17h0m-2-14h0m-2 1h0m0 13h0m-8-7h0m-5-7h0m-1 4h0m-4-1h0m-4 16h0m-6-17h0m-2-4h0m-1 16h0m-4 2h0m-1-15h0m-3 15h0m-1-12h0m-3-1h0m-7-4h0m-5-3h0m-2 7h0m-6-6h0m-4 18h0m-2-3h0m-2 5h0m-7-14h0m-7 15h0m-4-15h0m-2-3h0m0 13h0m-5-14h0m0 14h0m-1-10h0m-3 8h0m-15-2h0m-3-11h0m-1 14h0m-3-11h0m-1 7h0m-3 9h0m-1-21h0m-1 6h0m-4-6h0m-1 20h0m-1 3h0m-1-17h0m-1 5h0m0 5h0m-4-2h0m-1 7h0m-3-20h0m0 18h0m0-8h0m-1 5h0m-2 0h0m0-11h0m-3 16h0m-3-4h0m-2 6h0m-9-23h0m0 22h0m-2-4h0m-2-2h0m-1-15h0m-1 11h0m-1 7h0m-2-1h0m-1-5h0m-1-4h0m-1-2h0m0 13h0m-2-4h0m-5 6h0m-2-18h0m-1 5h0m-2 2h0m-2-1h0m0-8h0m-3-1h0m0 14h0m-2 8h0m-1-6h0m0-7h0m-3 13h0m-1-6h0m-4-9h0m-4-5h0m0 4h0m-3 7h0m-1-14h0m-3 10h0m-2 13h0m-4-7h0m-10 3h0m-4-8h0m-3-4h0m-2 2h0m-4 7h0m-1-9h0m-2 3h0m-6-2h0m-1 2h0m-1 7h0m-2-9h0m-1 13h0m-1-20h0m-10 17h0m-6-3h0m-4 4h0m-1-5h0m-14 2h0m-5-13h0m-2 6h0m-1-4h0m-1 16h0m-12-8h0m-6-2h0m-4 10h0m-4-19h0m-2 16h0m-3-7h0m-1-6h0m-3 2h0m0 16h0m-3-5h0m-11 15h0m6-2h0m1-4h0m8 8h0m3-6h0m2-2h0m6 19h0m7-10h0m2-5h0m1 14h0m5-5h0m6-12h0m1 3h0m3-7h0m7 15h0m3-9h0m4 16h0m2 0h0m6-12h0m1 9h0m2 2h0m2-18h0m3-1h0m2 13h0m2-12h0m2-1h0m0 14h0m11 7h0m4-3h0m1-16h0m3 19h0m0-23h0m3 15h0m2-14h0m5 8h0m1 6h0m2 2h0m3-6h0m3-9h0m3 14h0m0-5h0m8 3h0m3 2h0m1 7h0m0-9h0m1-6h0m2-6h0m7 7h0m1 10h0m1-3h0m4-15h0m2 1h0m0 11h0m8-5h0m1-6h0m1 18h0m4-19h0m3-1h0m1 4h0m1 16h0m3-9h0m6-3h0m2 0h0m10 9h0m0-6h0m3-1h0m1-7h0m5 10h0m7 3h0m0-11h0m1-5h0m3 16h0m1 4h0m4-17h0m0 14h0m4 4h0m6-19h0m3-1h0m1 6h0m1-4h0m7 0h0m5 5h0m1 12h0m2 3h0m0-7h0m0-10h0m1 6h0m6-8h0m2 12h0m6-11h0m0-5h0m9 12h0m1-3h0m7-2h0m0-3h0m2-3h0m0 16h0m1-3h0m1 6h0m5-18h0m1 10h0m6 3h0m1-2h0m2 2h0m5-12h0m0 2h0m5 8h0m5 10h0m1-4h0m3-3h0m0-10h0m4 11h0m5 2h0m0-16h0m10 8h0m1 9h0m13-18h0m4 15h0m2-5h0m13-5h0m1-4h0m8 0h0m7 10h0m24-10h0m11 44h0m-20-11h0m-16-9h0m-1 6h0m-4-5h0m-38 4h0m-8-8h0m-9 5h0m-6 7h0m-3 2h0m-1 6h0m-5-4h0m-7-8h0m-8-5h0m-4 0h0m-1 14h0m-3-15h0m0 4h0m-1 4h0m-4 5h0m-13-8h0m-3-5h0m-8 3h0m-2 11h0m-2-11h0m-3 9h0m-1-6h0m-2 15h0m-1-2h0m-5-20h0m-2 2h0m-2 7h0m-1-2h0m-4 4h0m-1 8h0m-1-14h0m-2 13h0m0 4h0m-7 0h0m-5-8h0m-1-3h0m-2 5h0m-1-6h0m0-7h0m-2-3h0m-3 19h0m-3-8h0m0-5h0m-2 1h0m-4 0h0m0-5h0m-2 10h0m-3 4h0m-1-15h0m-4 0h0m-1 19h0m-2-14h0m0 2h0m-4-6h0m-3 14h0m0-13h0m-2-2h0m-3 11h0m-1-4h0m-2 8h0m-4-11h0m-1 11h0m-1-13h0m-2 9h0m-5 8h0m-1-5h0m-3-6h0m-2 5h0m-1-7h0m-3 3h0m0 12h0m-4 0h0m-4-17h0m-6 4h0m-3 6h0m-4-1h0m-1 3h0m-5-17h0m-4 22h0m-1-5h0m-2-12h0m-3-5h0m-4 7h0m-2 4h0m-1 6h0m-6-3h0m-1 4h0m-6 0h0m0-18h0m-6 15h0m-3-3h0m-3-13h0m-2 19h0m-6-19h0m-1 12h0m0 3h0m-1-10h0m-1-5h0m-2 8h0m-2 14h0m-1-21h0m-2 6h0m-2-5h0m-1 13h0m-4-14h0m0 4h0m-2-1h0m-1 11h0m-4-15h0m-4 3h0m-12 13h0m-10-7h0m-1 14h0m-3-21h0m0 3h0m-2-3h0m-1 8h0m-1-2h0m-4-3h0m-5 7h0m0 9h0m0-16h0m-1 12h0m-2-9h0m-3 1h0m-10 9h0m-7 12h0m5 8h0m1-8h0m4-5h0m10 3h0m4 2h0m0-5h0m6 19h0m5-12h0m3 8h0m3-2h0m6-1h0m0-6h0m1 2h0m1 13h0m5-4h0m2-12h0m2 10h0m1 4h0m0 3h0m2-20h0m0 12h0m10 1h0m1-9h0m0 15h0m5-11h0m4-11h0m0 14h0m2-6h0m3 5h0m1 8h0m6-11h0m3-4h0m1 12h0m1-14h0m1 2h0m1-4h0m3 21h0m7-22h0m0 20h0m3-12h0m1 8h0m1-11h0m0 7h0m2-13h0m4 3h0m7-2h0m1 3h0m0 11h0m2-15h0m4 17h0m6-16h0m0 19h0m3-4h0m0-8h0m7 11h0m2-18h0m2 18h0m0-7h0m1-11h0m0 9h0m0 12h0m2-17h0m2-2h0m1 17h0m1-5h0m1-7h0m4 14h0m0-18h0m1 9h0m4-1h0m0-10h0m0 2h0m8 1h0m4-5h0m1 8h0m5 7h0m2 2h0m1-3h0m1-13h0m1 16h0m4-9h0m0-8h0m3 16h0m0-9h0m5 1h0m0 13h0m1-6h0m18 3h0m5 0h0m1-15h0m4-2h0m3 15h0m2-5h0m4-10h0m1 4h0m2 16h0m2-8h0m1-9h0m2 5h0m2 13h0m7-14h0m0-5h0m2 7h0m4-1h0m6 5h0m2 3h0m6-4h0m3 5h0m4 2h0m2-2h0m3-14h0m2 16h0m2-3h0m3-15h0m4-1h0m3 8h0m22-5h0m24 11h0m7-13h0m12 19h0m19-7h0m112-6h0m-19 26h0m-51-5h0m-54 10h0m-36 8h0m-8-7h0m-1-5h0m-1-5h0m-4 8h0m-11-3h0m-10 2h0m-3 7h0m-4-7h0m-2 10h0m-1-20h0m-12 2h0m-5-4h0m-16 3h0m-3-2h0m-1 13h0m-3-9h0m-2 0h0m-4 2h0m-2 6h0m-3-12h0m0 7h0m-1 8h0m-4-14h0m-2 17h0m-3-1h0m-4 4h0m0-18h0m0 14h0m-6-4h0m-2-14h0m0 18h0m-1-13h0m0 4h0m-7-3h0m-1 7h0m-2-3h0m-2-7h0m-1 3h0m-4 14h0m-1-13h0m-1 14h0m-3-13h0m0-8h0m-7 13h0m-3 7h0m0-4h0m-2-17h0m-1 8h0m0 7h0m-3-10h0m0 11h0m-4-6h0m-2 3h0m-1 9h0m-2-9h0m-1 7h0m-6-11h0m-1 10h0m-1-7h0m-1 4h0m-3-1h0m-3-6h0m-2-1h0m-2 9h0m-2-13h0m-1 10h0m-1 4h0m-7-5h0m0-11h0m-2 18h0m-3-18h0m0 15h0m-4-10h0m0 12h0m-1-2h0m0-4h0m-2-7h0m-1 16h0m-2-2h0m0-11h0m-1 8h0m-5 4h0m-1-3h0m0-8h0m-1 13h0m-2-21h0m-2 15h0m-1 5h0m-4-20h0m-2 16h0m-1-8h0m-3-7h0m0 13h0m-2 2h0m-3-11h0m-1 8h0m-2 4h0m-8-1h0m-3-16h0m-3 14h0m-4-9h0m-2 10h0m-4-8h0m-2 9h0m-6-13h0m-1-4h0m-3 0h0m-1 13h0m-1-9h0m-1-3h0m-3 16h0m-2-4h0m0-10h0m-4 17h0m-2-2h0m-4-9h0m-6 9h0m-7 1h0m0-10h0m-1 7h0m-1-14h0m-4 7h0m0 13h0m-1-17h0m-4 16h0m-7 1h0m0-14h0m-2-4h0m-4 3h0m0 7h0m-2-3h0m-10 5h0m-2-3h0m0-9h0m-3 6h0m2 28h0m3 3h0m9 2h0m2-16h0m2 14h0m1-18h0m8 0h0m2 18h0m0-9h0m6 10h0m5-12h0m8 13h0m2-10h0m2 7h0m1-11h0m4 13h0m0-3h0m3-7h0m1-8h0m4 12h0m8-1h0m1 3h0m4-3h0m0-7h0m3 0h0m4 5h0m0 4h0m1 6h0m0-18h0m3 17h0m4-18h0m0 13h0m0-11h0m8 14h0m1-6h0m2 9h0m0-14h0m2-1h0m1 18h0m0-21h0m2 19h0m5-17h0m0 2h0m0 3h0m1 3h0m3-5h0m4 4h0m3 1h0m0-4h0m1-7h0m1-1h0m2 8h0m1-6h0m1 5h0m2-4h0m3 3h0m2 16h0m1-8h0m3-14h0m1 10h0m1-8h0m1 16h0m1 4h0m2-16h0m1 17h0m1-13h0m5 4h0m4-13h0m0 13h0m0 2h0m3-7h0m9-9h0m2 8h0m1 11h0m1-17h0m3 9h0m2 3h0m2-6h0m1 12h0m2-13h0m1 14h0m6-19h0m0 14h0m0-16h0m2 23h0m4-7h0m1-11h0m3 10h0m1-15h0m0 7h0m3 5h0m0 6h0m3 4h0m2-17h0m2-3h0m1 13h0m1 4h0m1-3h0m5-6h0m2 6h0m1-5h0m5-5h0m1 13h0m3-1h0m1-14h0m4-1h0m6 8h0m8 7h0m0-18h0m2 4h0m9 5h0m5-2h0m26 9h0m7-12h0m8-3h0m5 14h0m4-15h0m0 2h0m16 17h0m5-8h0m1-7h0m6 17h0m10-4h0m34-17h0m22 11h0m-52 30h0m-21-15h0m-17 13h0m-2 4h0m-4-8h0m-5 1h0m-9-7h0m-4 7h0m-2-11h0m-1 4h0m-1 4h0m-3 10h0m-2-8h0m-1-8h0m-3 14h0m-6-3h0m-8-10h0m-7 9h0m-4-11h0m-1 5h0m-1-3h0m-2 13h0m-2 0h0m0-13h0m-2 5h0m-4-5h0m0 19h0m-7-20h0m-2 2h0m-4 10h0m0-9h0m-2 8h0m-4-14h0m-1 14h0m-1-12h0m-1 5h0m-3 16h0m-5-16h0m-1 9h0m-4-10h0m-7 12h0m-5-3h0m-1-14h0m-1 19h0m-1-16h0m0 9h0m-1 10h0m-7-2h0m-3-17h0m0-3h0m-2 4h0m0 7h0m-1-12h0m-2 21h0m-3-9h0m-2 8h0m-1-4h0m-2 7h0m-1-13h0m0 7h0m-1-10h0m0 13h0m0 3h0m0-10h0m-3-9h0m-1 10h0m-3-10h0m-1 19h0m-1-23h0m-3 5h0m-7 4h0m-2-1h0m-5 0h0m0 14h0m-1-7h0m-2-2h0m0-2h0m-4 6h0m-1-13h0m-1-3h0m-2 14h0m-1 7h0m-1-10h0m0-11h0m-1 19h0m0 3h0m-2-7h0m0 5h0m-2-19h0m-1 5h0m0 15h0m-1-18h0m-1 9h0m-1 5h0m0-13h0m-3-1h0m-2-2h0m0 17h0m-1 4h0m-3-20h0m-1 10h0m0 7h0m-2-18h0m-1 13h0m-1-9h0m0 7h0m-2 0h0m-2-3h0m0-7h0m-1 15h0m-1-2h0m0-13h0m-4 19h0m-1-17h0m-2 3h0m-3-5h0m-2 13h0m-2 4h0m0-15h0m-2-3h0m-5 3h0m-1-2h0m-2 15h0m-1-17h0m-1 8h0m0 4h0m-6-12h0m-1 8h0m-1 2h0m-1-7h0m-1 15h0m-2-15h0m-1 13h0m-2 2h0m-1-6h0m-4-5h0m-2 8h0m-8 1h0m-9 5h0m-7-5h0m-1 5h0m-2-17h0m-1 18h0m0-15h0m-5-7h0m-3-1h0m-1 18h0m-2 2h0m0-19h0m-4 15h0m-8 1h0m-4-8h0m0-7h0m-5 36h0m6-1h0m5 7h0m7-1h0m8-1h0m1 2h0m1-2h0m5-5h0m10-8h0m1 8h0m2-13h0m1 5h0m2 1h0m1-2h0m0 4h0m2 9h0m11-6h0m0-10h0m3 9h0m5-9h0m0 14h0m1 1h0m5-13h0m5 7h0m2 1h0m3 1h0m3-9h0m0 12h0m2-11h0m0 14h0m2-4h0m2-6h0m2 13h0m0-20h0m1 7h0m6 2h0m2-9h0m1 3h0m5 14h0m0 3h0m1-13h0m1-2h0m2 6h0m4-11h0m3 14h0m2-14h0m4 5h0m1 11h0m0-9h0m4-5h0m0 14h0m2 6h0m1-9h0m0-10h0m1-2h0m3 11h0m0 3h0m1-5h0m2 10h0m0-8h0m5 1h0m1-11h0m4 2h0m0 15h0m1-19h0m4 14h0m2-5h0m0 12h0m1-20h0m0 5h0m1 6h0m0-3h0m3 9h0m1-14h0m2 1h0m8 17h0m2-5h0m6-8h0m2-7h0m4 11h0m6-12h0m0 13h0m2 7h0m5 1h0m2-12h0m3-9h0m1 20h0m2-13h0m0 3h0m1-6h0m1 9h0m4-4h0m4 12h0m0-7h0m2 4h0m1-17h0m1 6h0m3-2h0m0 13h0m3 3h0m0-21h0m0 5h0m3 11h0m1-12h0m2 3h0m7 0h0m1 12h0m6-9h0m6 0h0m3 5h0m2 2h0m2-4h0m0-7h0m2 10h0m5 4h0m1-15h0m2 7h0m4 4h0m3-10h0m0 11h0m7-18h0m4 9h0m7 3h0m0-11h0m2 18h0m1 2h0m0-20h0m4 4h0m6-6h0m2 8h0m3-6h0m18 10h0m7 7h0m6-4h0m5 1h0m8-7h0m2 4h0m1-12h0m90 20h0m-8 21h0m-64-12h0m-27-4h0m-5 10h0m-6-2h0m-1 3h0m-7 2h0m-15-8h0m-5 6h0m-3-4h0m-2-7h0m-4-1h0m-5 10h0m-4 3h0m-2-8h0m-1-4h0m-2 6h0m-2 3h0m-1 6h0m-2-4h0m-2-8h0m-12 4h0m-2 7h0m-27-7h0m-7 0h0m-7-4h0m-6 18h0m-1-23h0m-2 19h0m-1-18h0m-6 3h0m-3 18h0m-8-8h0m-4 1h0m-1-3h0m-2 5h0m-1-13h0m-2 8h0m-4-11h0m-9 11h0m-2-3h0m-1 14h0m-2-16h0m0 14h0m-1-18h0m-3 17h0m-3-13h0m0-5h0m-1 15h0m-2-11h0m0 14h0m0 3h0m-3-20h0m-8 19h0m-1-13h0m-1-9h0m-3 14h0m-5 9h0m-1-5h0m-1-5h0m-2-2h0m-1 10h0m-3-11h0m-1-7h0m0 4h0m-7-7h0m-2 4h0m-1 15h0m-2-9h0m-2-3h0m-8-3h0m-1 16h0m0-18h0m-3 6h0m-1-7h0m-3 8h0m-1-3h0m-1 13h0m-4 0h0m-3-8h0m-4-6h0m-7 13h0m-12-5h0m-2 3h0m-4-15h0m-5 17h0m-1-8h0m-4-5h0m-6 5h0m0-6h0m-3 2h0m-3 6h0m0-11h0m-1 4h0m-1-3h0m-3 4h0m-4 15h0m-6-8h0m-2-10h0m-1 6h0m-2 10h0m-7-6h0m-7 6h0m-1-14h0m-1 4h0m-2 4h0m8 12h0m6 16h0m5 3h0m4 2h0m3-1h0m0-5h0m0-10h0m5 11h0m1-7h0m3-2h0m1 7h0m2-7h0m2 4h0m2 3h0m0 5h0m2-8h0m4 10h0m1-16h0m0-6h0m1 12h0m2 8h0m7-5h0m3-10h0m3 6h0m0 7h0m4-9h0m1 11h0m4 1h0m4-9h0m9-1h0m1 12h0m3 0h0m2-12h0m2 4h0m3-1h0m1-5h0m7-7h0m3 20h0m0-9h0m1-13h0m1 11h0m0-3h0m1-3h0m1 11h0m4-16h0m3 6h0m3-2h0m1 11h0m1-8h0m1 6h0m2-9h0m4 3h0m4-4h0m0 13h0m0-7h0m0 13h0m3-18h0m0 12h0m1-8h0m1-3h0m3-4h0m0 15h0m4 4h0m1-15h0m5 7h0m2-5h0m1-3h0m7-2h0m6 14h0m3-7h0m2-4h0m1 18h0m0-11h0m3-9h0m4 5h0m3-8h0m1 7h0m2 9h0m2-4h0m1-10h0m4 0h0m5 2h0m1 10h0m4 4h0m1-9h0m0-7h0m1 4h0m2 17h0m2-4h0m7-3h0m0-14h0m3 18h0m0-9h0m2 11h0m6-10h0m1-4h0m11 6h0m1-5h0m2-9h0m6 21h0m4-5h0m5-13h0m1 18h0m0-3h0m6-17h0m8 9h0m6-6h0m4 0h0m0 18h0m3-6h0m0-7h0m0 14h0m4-23h0m2 14h0m0 6h0m6-2h0m7-2h0m0-6h0m5 12h0m5-13h0m6 4h0m24-1h0m25 4h0m2-8h0m58 11h0m153-1h0m16 3h0m-1 6h0m-5 8h0m-11-9h0m0 15h0m-3-2h0m-1-2h0m-1-6h0m-2-4h0m-2 20h0m0-21h0m-47 16h0m-60-14h0m-38-2h0m-127 17h0m-1-16h0m0 2h0m-6 17h0m-1-12h0m-10-6h0m-1 5h0m-1 9h0m-1-16h0m-1 21h0m-2-12h0m-2 11h0m-1-10h0m0-7h0m-3 9h0m0-13h0m-6 4h0m-1-5h0m0 12h0m-1 4h0m-1 4h0m-4-19h0m0 22h0m-2-10h0m-2-7h0m0-4h0m-2 17h0m-2-3h0m-2 5h0m-2-19h0m-3 18h0m-3-13h0m-3 6h0m-5 2h0m-2-15h0m0 22h0m-5 1h0m-4-15h0m-2 6h0m-1 8h0m-2-22h0m-1 9h0m-2-9h0m-4 21h0m-2-2h0m-6-12h0m0 3h0m-4 3h0m-4 2h0m-3 8h0m-4-17h0m-1 3h0m0-8h0m-5 20h0m-1-5h0m-1-12h0m-2 6h0m-3-6h0m-2 9h0m0 9h0m-2-3h0m-1-17h0m-1 4h0m-2 6h0m-2 6h0m-2-12h0m0-4h0m-2 2h0m-7 10h0m-2-2h0m-2 8h0m-3-20h0m-6 14h0m-3 6h0m0-11h0m-1 6h0m-1-7h0m-1 15h0m-1-11h0m-2-12h0m-3 23h0m-3-12h0m-1-11h0m-5 16h0m-5 5h0m0 2h0m-1-10h0m-4-5h0m-1-5h0m-1 9h0m-1 5h0m-2-13h0m-4 18h0m-2-11h0m0 5h0m-2-5h0m-1-5h0m-1-3h0m-1 8h0m-2 5h0m-1 3h0m0 2h0m-2-4h0m0-6h0m-3 11h0m-1-13h0m-2 10h0m-3 2h0m-3 2h0m-2-19h0m-4 17h0m-3 2h0m0-23h0m-2 17h0m-4 2h0m-2-14h0m-1 14h0m0-3h0m-4 0h0m0 3h0m-4-7h0m0-11h0m-1 14h0m-3-1h0m-4-4h0m-2-3h0m-12 3h0m-1 11h0m-2-6h0m-3-9h0m-1 5h0m-8-2h0m0 4h0m-2-4h0m12 29h0m6-4h0m1-7h0m3 11h0m1 3h0m1 3h0m2-12h0m5 7h0m1-8h0m0-6h0m1 9h0m4 9h0m0-9h0m1 2h0m0-8h0m6 2h0m2 14h0m4-4h0m3-6h0m0-7h0m1 10h0m3-2h0m2 12h0m0-23h0m4 22h0m3 0h0m5-12h0m0 13h0m1-15h0m1 9h0m1-3h0m1-6h0m1-2h0m1-4h0m1 6h0m0 4h0m2 5h0m1-17h0m1 9h0m2 3h0m2-3h0m0-8h0m1 5h0m2 2h0m1 15h0m1-22h0m0 3h0m0 15h0m5-8h0m1-10h0m1 22h0m2-18h0m5 5h0m2-7h0m0 12h0m0-6h0m1 13h0m2-16h0m2 7h0m3-8h0m3 1h0m1-5h0m1 19h0m2-11h0m2 9h0m3 4h0m1-12h0m2 7h0m4-16h0m10 13h0m1 5h0m5 3h0m0-21h0m1 17h0m4-12h0m2 2h0m2 10h0m0-8h0m2 6h0m2-11h0m6 18h0m4-11h0m2 4h0m1-5h0m2 10h0m2-8h0m4 9h0m0-8h0m1-13h0m2 11h0m7-11h0m1 9h0m4-10h0m4 11h0m1-5h0m1-5h0m3 6h0m1 9h0m4-14h0m8 3h0m3 17h0m1-2h0m7 0h0m7 0h0m6-19h0m1 18h0m2 2h0m0-11h0m1-6h0m8-2h0m3 6h0m3-3h0m3 15h0m7-15h0m1 9h0m5 0h0m68-11h0m72 2h0m40-1h0m1-2h0m4 14h0m42-9h0m2 12h0m9-6h0m2-5h0m1 11h0m4-14h0m1 8h0m1 3h0m2 2h0m2-15h0m1 12h0m2-1h0m0-8h0m3 16h0m1-3h0m4-13h0m1 7h0m5 6h0m9-8h0m8-7h0m4-3h0m-33 27h0m-4-1h0m-4 8h0m-5 5h0m-1-11h0m-79 8h0m-10-7h0m-47 10h0m-24-15h0m-96 9h0m-8 9h0m-2-3h0m-1-16h0m-1 11h0m-2 12h0m0-4h0m-2-6h0m-1 9h0m-3-5h0m-6-12h0m-1 17h0m-3-1h0m-4-20h0m0 15h0m-5-11h0m-4 17h0m-1-21h0m-1 20h0m-4-4h0m-2-16h0m-1 9h0m-2 3h0m-3-10h0m-3 6h0m-5-3h0m-4 12h0m-1-13h0m-4-4h0m-2 9h0m0 3h0m-2 2h0m-6-12h0m-1 5h0m-3 2h0m-1-7h0m-1 17h0m-1-17h0m-3 10h0m-2 5h0m0-7h0m-3 0h0m-2-1h0m-3 4h0m-1-8h0m-4 10h0m-1 2h0m-2-8h0m-1-8h0m-5 7h0m-2 13h0m-1-20h0m-2 2h0m-2-3h0m-5 14h0m-6-15h0m-1 16h0m-3-13h0m0 3h0m-7-6h0m-6 0h0m-1 13h0m-6-7h0m-1-5h0m-4 22h0m-2-16h0m-2-3h0m0 17h0m-2-9h0m0 6h0m-2-12h0m-3 15h0m-7-9h0m-1-11h0m-4 6h0m-2-3h0m-1 5h0m0-2h0m-2-3h0m-2 4h0m-4-1h0m0 12h0m-2-3h0m-5-14h0m-2 16h0m-7-1h0m-2-4h0m-4-4h0m-1-9h0m-3 12h0m-3-8h0m-1 12h0m-4-11h0m0 8h0m-1 6h0m-3-18h0m0 9h0m-3-5h0m-4 4h0m-3 3h0m0 3h0m-3 2h0m-5-3h0m11 25h0m2-15h0m3 9h0m4 7h0m4 7h0m5-23h0m2 20h0m0-17h0m1 11h0m4-2h0m6 11h0m2-12h0m1-7h0m0 13h0m3-10h0m1 9h0m2-2h0m2-14h0m6 14h0m2 8h0m0-20h0m1 12h0m4 5h0m2-16h0m0 15h0m4-14h0m1 4h0m6 3h0m3 7h0m5-10h0m1 13h0m1-15h0m3 11h0m5-15h0m2 16h0m6-5h0m1 3h0m1-11h0m2 2h0m0 6h0m1 6h0m3-16h0m2-2h0m0 19h0m5 3h0m1-14h0m1 6h0m3-4h0m7-11h0m8 13h0m4-3h0m6 8h0m1-6h0m2 7h0m3-3h0m0-10h0m3 13h0m3-14h0m2 3h0m0 7h0m1-13h0m1 5h0m1 2h0m2 8h0m0-10h0m3 13h0m4-1h0m5-2h0m0-3h0m3 3h0m0 3h0m4-12h0m1 3h0m1-2h0m3 9h0m2-16h0m1 18h0m5-10h0m3-10h0m0 2h0m1 18h0m2-8h0m1-9h0m2 11h0m1-10h0m0 3h0m4-7h0m2 21h0m4-15h0m2 13h0m4-16h0m6 8h0m8 11h0m4-12h0m0-9h0m7 3h0m12 12h0m4-11h0m54 10h0m41-5h0m36 10h0m26 3h0m42-2h0m16-14h0m5 11h0m3-5h0m44-11h0m-45 27h0m-4-2h0m-162 7h0m-23 10h0m-50 2h0m-3-5h0m-3-2h0m-17 4h0m0-11h0m-1 5h0m-1 9h0m-9-19h0m-1 14h0m0-11h0m-1 6h0m-2 11h0m-1-6h0m-2-5h0m-3-11h0m-1 12h0m-4-5h0m0-5h0m-4 9h0m0 3h0m-1-12h0m-1 15h0m-4-1h0m-3 0h0m-2-6h0m-4 12h0m-2-15h0m-1 12h0m-3-13h0m-1 11h0m-3-2h0m-1-11h0m-2 8h0m-1-10h0m-4-2h0m-6 11h0m-7-5h0m-1-7h0m-2 9h0m-2 5h0m-2 7h0m-2-18h0m-1 4h0m0 3h0m0 12h0m-3-2h0m-2 3h0m-1-20h0m-2 2h0m-2 8h0m-3-13h0m-7 4h0m-3 8h0m-5 0h0m-3-11h0m-1 17h0m-3 1h0m-1-19h0m-1 9h0m-1 12h0m-1-16h0m-3 6h0m0-9h0m-5-2h0m-1 23h0m-3-11h0m0-10h0m-12 3h0m0 5h0m-2-4h0m-4 8h0m-6 7h0m-2 1h0m0-21h0m-3 8h0m0 3h0m0-11h0m-6 20h0m0-10h0m-9-3h0m-5 6h0m0-5h0m-2 10h0m-5 0h0m-6 4h0m0-8h0m-1-8h0m-1 5h0m13 12h0m1 19h0m2-8h0m5 3h0m1 2h0m2-15h0m5 10h0m1-11h0m2 11h0m1 11h0m0-5h0m10-7h0m9-9h0m0 22h0m2-13h0m2-5h0m5 4h0m6-6h0m1 4h0m5 14h0m2-2h0m1-10h0m4 4h0m1-4h0m1 11h0m1-20h0m0 2h0m3 6h0m1-6h0m4 14h0m2 1h0m2 1h0m0 4h0m2-20h0m2 8h0m3-2h0m5-2h0m2 5h0m2 5h0m4-9h0m3 1h0m1 5h0m1-12h0m3 2h0m0 6h0m2-6h0m1 12h0m3 1h0m3-2h0m2-6h0m1 11h0m5-15h0m0 7h0m5 12h0m0-10h0m1 8h0m0-10h0m3-9h0m4 2h0m0 5h0m2 3h0m5 1h0m0-7h0m0 12h0m2-3h0m4-6h0m7 4h0m4-13h0m4 4h0m3 7h0m1 11h0m10-18h0m1 19h0m3-1h0m6-21h0m3 12h0m8 0h0m5 6h0m37-1h0m1 3h0m83-20h0m8 7h0m36 8h0m20-14h0m11 31h0m-3 2h0m-8-7h0m-50 0h0m-66 5h0m-4 4h0m-75 2h0m-3-4h0m-6-11h0m-4 23h0m-1-8h0m-11 8h0m-2-11h0m-3-5h0m-2 6h0m-4 5h0m-4-11h0m-3-1h0m-3 5h0m0 11h0m-4-2h0m-2-14h0m-2 12h0m-1 5h0m-1-3h0m-2-11h0m-1 2h0m0 12h0m-8-1h0m-1-11h0m-1 3h0m-1 5h0m-2-2h0m-1-5h0m-2 6h0m-1-12h0m-1 10h0m-7-2h0m-1 2h0m-1-11h0m-6-4h0m-5 22h0m-3-20h0m-1 10h0m-2 3h0m0-10h0m0 17h0m-9-23h0m-1 5h0m-2 10h0m-1 4h0m-3-18h0m-5 4h0m-1 15h0m-1-13h0m-4 2h0m-3 5h0m-4-3h0m-1 4h0m-1 5h0m-3 2h0m0-7h0m-3-15h0m-9 10h0m-4 9h0m0-10h0m-5-8h0m-3 16h0m0-16h0m-3 18h0m-4-19h0m-1 5h0m-12-4h0m40 31h0m1 14h0m2-21h0m0 13h0m2-12h0m1 7h0m2-7h0m5 1h0m10 13h0m0-12h0m1 4h0m6-6h0m8 13h0m3-5h0m4-6h0m2 5h0m3 11h0m2-10h0m0-3h0m1 15h0m2-14h0m0 8h0m2 6h0m3-10h0m1 8h0m1-6h0m1-6h0m7 13h0m1-16h0m0 14h0m2-5h0m2-2h0m3-4h0m3 9h0m2 4h0m6-2h0m0-7h0m8-12h0m6 14h0m2-1h0m5-12h0m2 17h0m4-7h0m2 4h0m3-10h0m3 4h0m1 2h0m2 5h0m3-10h0m15 12h0m0-18h0m0 11h0m16-11h0m36 9h0m3-3h0m64-6h0m97 30h0m-24 4h0m-20 11h0m-87 1h0m-74-8h0m-12-12h0m-4 16h0m-3-18h0m-5 17h0m-7-7h0m-5 5h0m0 4h0m0-8h0m-7 6h0m0 6h0m-4-18h0m-7 4h0m0-7h0m-2 0h0m-1 20h0m-2-4h0m0-8h0m-4-5h0m-8 4h0m-2 8h0m0-7h0m0 3h0m-3-3h0m0-10h0m-1 17h0m-2-15h0m-4 1h0m-2 10h0m-5 0h0m-1 3h0m-3 0h0m-2-1h0m-4 1h0m-2-11h0m-2 14h0m-1-8h0m-2-9h0m0 13h0m-3-11h0m0 18h0m-1-5h0m-2 5h0m-4-14h0m-1 6h0m-10 0h0m-4-9h0m-2 11h0m-3-7h0m-4-8h0m-3 3h0m-1-3h0m25 26h0m2 3h0m2 6h0m1 6h0m1-4h0m2 7h0m0-7h0m3 0h0m1-12h0m4 19h0m3-16h0m1 9h0m1-5h0m6 3h0m2 10h0m2-12h0m2 13h0m0-23h0m0 15h0m11 8h0m1-16h0m2 1h0m4 14h0m3-9h0m1-11h0m2 12h0m4 3h0m0-9h0m2-1h0m10 7h0m0-10h0m2 2h0m5-2h0m1 19h0m2-9h0m19-6h0m28 6h0m3-11h0m40 7h0m151 18h0m-7 1h0m-104 7h0m-105-6h0m-5 5h0m-1-5h0m-2 1h0m-6 3h0m-4 10h0m-3-5h0m-14 8h0m-1-17h0m0 6h0m-7 0h0m0-8h0m-2 3h0m-1 2h0m-1 5h0m-1-3h0m-7 10h0m-2-7h0m-1-6h0m-3 8h0m-16-14h0m-2 12h0m-3-11h0m-4-1h0m-1 14h0m11 9h0m3 2h0m7 4h0m6-6h0m1 8h0m1 4h0m2-13h0m1 3h0m2 11h0m0 7h0m7-13h0m1-4h0m1 7h0m3 12h0m1-13h0m4-10h0m2 2h0m8 15h0m4 1h0m1 5h0m7-18h0m2 13h0m32-2h0m21-14h0m105 10h0m7 29h0m-41-17h0m-37 5h0m-4 15h0m-34-1h0m-57-13h0m-2 11h0m-1-10h0m-3-7h0m-1 12h0m-7 2h0m-2-13h0m0 8h0m-7-3h0m-1-5h0m-2 7h0m91 37h0m57-21h0m66 28h0m-24 13h0m-81-12h0m-5 19h0m32 10h0m29-5h0" stroke="#8d529b" stroke-width="6" stroke-linecap="round" fill="none" transform="scale(.5)"/>
<path d="M598 1218h0m0 15h0m-2-6h0m-3 9h0m2 28h0m0-4h0m1-6h0m2 4h0m0-10h0m1 6h0m-6 27h0m-2 7h0m0 24h0m1-11h0m3 10h0m1 4h0m0 3h0m1-10h0m2 0h0m-4 28h0m-1-10h0m6 60h0m-2-3h0m-6 20h0m5-8h0m2 10h0m2 30h0m-2 3h0m-3-22h0m-1 16h0m0 24h0m0-13h0m0 8h0m2-5h0m4 16h0m1-7h0m1 27h0m-2 4h0m0-16h0m-1 7h0" stroke="#5b9c58" stroke-width="6" stroke-linecap="round" fill="none" transform="scale(.5)"/>
<path d="M525 1137h0m-12 8h0m-2 1h0m-4-1h0m-4 0h0m-2-11h0m-3-5h0m-1 14h0m-5 0h0m-16 2h0m0 27h0m1 2h0m8-7h0m1-4h0m12-9h0m2 15h0m1-9h0m1-5h0m3 19h0m4-6h0m0-16h0m3 8h0m2 9h0m0-14h0m2 11h0m2-9h0m5 1h0m0-3h0m11 16h0m2-3h0m4 7h0m3-20h0m-1 29h0m-3-7h0m-14 3h0m-3 13h0m-10-13h0m-5 2h0m-19 7h0m-2 1h0m-2 5h0m-1-9h0m-2 3h0m-3 0h0m-4-12h0m-2 16h0m-2-2h0m-2-9h0m-4 15h0m-2-11h0m-2-8h0m-5 16h0m-6-3h0m-3-10h0m-2 14h0m-1-9h0m-2 8h0m-5 1h0m-1-11h0m-1 11h0m-3 2h0m-6 0h0m-9-5h0m-4 6h0m1 3h0m10 14h0m0 6h0m4-18h0m4 7h0m5 3h0m1-10h0m1 6h0m1 13h0m0-8h0m3-11h0m0-3h0m3 4h0m2-1h0m1-3h0m1 9h0m0 5h0m2-8h0m1 8h0m3 8h0m0-7h0m3-6h0m2-8h0m0 6h0m1 16h0m1-9h0m2-6h0m0-8h0m2 9h0m0-5h0m5-1h0m2 18h0m5-4h0m1-5h0m1-11h0m3 2h0m1 2h0m4 3h0m3 2h0m8 16h0m-19 0h0m-4 17h0m-1-18h0m-1 17h0m-4-14h0m-3 19h0m-4-3h0m-25-17h0m-5 23h0m22 6h0m9 4h0m1 3h0m2-4h0m10-10h0m1 19h0m2-10h0m15-1h0m7-2h0m4 11h0m11 2h0m-11 17h0m-3 7h0m0 3h0m-4-6h0m-2 2h0m-9-1h0m0-14h0m-1 17h0m-4 2h0m-4-8h0m-2-15h0m-2 14h0m-1 3h0m-1-8h0m-1-6h0m-4 1h0m-1-4h0m-2 12h0m-2 1h0m-12 7h0m-4-8h0m-10-7h0m-3 8h0m19 15h0m3 5h0m1-3h0m5 3h0m1 10h0m1-12h0m5 9h0m1 2h0m1-5h0m3-2h0m0 9h0m1-14h0m2-4h0m0 8h0m2-8h0m2 16h0m1-5h0m0 3h0m4 5h0m1-21h0m1 3h0m5 13h0m0-5h0m1-2h0m0-7h0m5-1h0m5 5h0m3-3h0m2 6h0m5-9h0m-4 26h0m-9 0h0m-10 1h0m-2-2h0m-3-1h0m-1 6h0m-4 3h0m-2-8h0m-2 16h0m-6-17h0m0 11h0m-3-7h0m-2-2h0m-7 3h0" stroke="#d480b0" stroke-width="6" stroke-linecap="round" fill="none" transform="scale(.5)"/>
<path d="M634 479h0m-46 13h0m146 32h0m-19 0h0m-34 2h0m-97 6h0m4 3h0m6 6h0m26 7h0m11-13h0m6 16h0m2-4h0m5-7h0m4 0h0m3 2h0m2-14h0m5 12h0m8 9h0m6-11h0m3-10h0m2 12h0m3 0h0m3-2h0m1 5h0m2 5h0m4-6h0m2 9h0m3 0h0m2-1h0m10-3h0m26-1h0m4-16h0m2 15h0m4-15h0m6 12h0m3-5h0m3 7h0m13 21h0m-8-1h0m-7-9h0m-5 18h0m-1-10h0m-3-3h0m-1 5h0m-4 4h0m-1-15h0m-1 17h0m-2-12h0m-2 6h0m-5-2h0m0-11h0m-1 5h0m-2-5h0m-1 8h0m-2 11h0m-1-9h0m0-10h0m-2 19h0m-3-7h0m0 9h0m0-5h0m-2-10h0m-2 17h0m-1-14h0m-6 3h0m0 9h0m0-15h0m-4 12h0m-1-11h0m0-7h0m-1 10h0m-1 4h0m-4 4h0m-4 0h0m-2-16h0m0 21h0m-5-15h0m0-3h0m0 13h0m-5-16h0m-9 5h0m-10 0h0m-2 13h0m-6-20h0m-4 5h0m-1 10h0m-10-5h0m-1-8h0m-1 13h0m-4-7h0m-1 4h0m-4 8h0m-14-4h0m-9 3h0m32 11h0m4 17h0m16-17h0m2-2h0m7 11h0m6-12h0m2-3h0m2 1h0m1 6h0m4 12h0m1-6h0m0-6h0m2-5h0m0 13h0m1-2h0m4-3h0m1 6h0m3-12h0m0 3h0m0 4h0m3 7h0m0-5h0m1 8h0m1-6h0m1 7h0m6-3h0m4 3h0m2-5h0m0-7h0m6 11h0m0-5h0m3-7h0m1 11h0m1-15h0m2-2h0m4 13h0m0-15h0m2 19h0m0-14h0m1 11h0m1-8h0m1-2h0m2-5h0m0 17h0m3-6h0m0-10h0m1 2h0m2 16h0m4-5h0m0 5h0m3-10h0m1-8h0m0 18h0m2-9h0m4-7h0m2 6h0m3 10h0m2-10h0m1 5h0m0 4h0m4-4h0m2 4h0m1-20h0m1 23h0m2-1h0m10-12h0m1 4h0m4-6h0m2 12h0m2-5h0m4 29h0m-5 0h0m-1-11h0m-1 14h0m-2-6h0m-3-6h0m-7-10h0m-4 7h0m0 13h0m0-10h0m-2 11h0m-1-17h0m-2 9h0m0 7h0m-7-14h0m-2 0h0m-1 16h0m-1-21h0m-2 8h0m0 4h0m-3-10h0m-3 0h0m-1 11h0m-1-3h0m-5-1h0m0-10h0m-2 20h0m-1-6h0m-3-5h0m0-5h0m-3 11h0m-3 0h0m0-6h0m-4 12h0m0-6h0m-1-13h0m-3 8h0m0-3h0m-5 4h0m-1-7h0m0 12h0m-3 4h0m0-7h0m-1-2h0m-2-11h0m-1 11h0m-4-10h0m-3 9h0m0-8h0m-1 11h0m-2-12h0m-1 15h0m-1-2h0m0 6h0m-2-4h0m-1-17h0m0 13h0m-3-1h0m-1-8h0m0 17h0m-3-10h0m-2-9h0m-1 13h0m-1 3h0m-1 3h0m-3-9h0m-1-7h0m0 9h0m-13 9h0m-1-12h0m-4 6h0m-1-4h0m-1-7h0m-1 17h0m-2-6h0m0-2h0m-10 3h0m7 6h0m1 14h0m7-10h0m4 14h0m2-9h0m1 12h0m1-15h0m1 12h0m1-18h0m2 9h0m6 13h0m1-13h0m1-6h0m4 8h0m0 4h0m1-6h0m5-6h0m8 9h0m2 8h0m1-5h0m4-4h0m4-11h0m3 0h0m7 22h0m1-19h0m1 13h0m1-11h0m4 18h0m2-5h0m1-18h0m0 3h0m1 18h0m3-15h0m4-4h0m2-1h0m2 10h0m2 12h0m0-5h0m0-17h0m2 9h0m0-5h0m2 9h0m2 4h0m2-5h0m1 5h0m2-13h0m1 12h0m0-8h0m3 8h0m2-8h0m4 7h0m1 5h0m1-3h0m1 5h0m0-23h0m1 6h0m2-5h0m4 0h0m1 22h0m3-13h0m0 9h0m2-4h0m6-14h0m5 2h0m5 12h0m5-6h0m8 7h0m-6 14h0m-6 2h0m-2 4h0m-2-10h0m-6 20h0m-5-4h0m0-7h0m-5 8h0m-1-3h0m-1-8h0m0 5h0m-3 2h0m-7-13h0m-4-1h0m-2 14h0m-2 8h0m-2-14h0m-2-6h0m-4 5h0m0-6h0m-3 18h0m0-10h0m-1-4h0m0-5h0m-5-1h0m-1 10h0m-3 5h0m0-14h0m-6 22h0m0-15h0m-1 11h0m-1-19h0m-3 18h0m-1-7h0m-1-4h0m-1-6h0m-1 4h0m0 12h0m-1-5h0m-2-11h0m-5 9h0m-1 5h0m0-11h0m-1 18h0m-1-4h0m0-5h0m0-11h0m-3 8h0m-2-4h0m-1 10h0m0-15h0m-3 16h0m-6-4h0m-1-2h0m-6-5h0m-1-3h0m-2 11h0m-1 4h0m-1-7h0m-1 2h0m-2 3h0m-1-11h0m-2 18h0m-4 0h0m0-7h0m-2-7h0m-2-3h0m0 17h0m-2-9h0m-1-3h0m-2-4h0m0-6h0m-7 11h0m-3 1h0m-5-10h0m-4 17h0m-3 0h0m-9 14h0m25 3h0m0 6h0m2-10h0m2-2h0m2 7h0m2 8h0m2-13h0m4 8h0m2-8h0m1-6h0m4 3h0m2 3h0m5 14h0m1-5h0m4-18h0m3 6h0m1 9h0m2-12h0m2-1h0m0 18h0m1-7h0m3-3h0m0 9h0m0 4h0m1-20h0m1 11h0m0-5h0m0 11h0m4-9h0m1-2h0m1 4h0m1 8h0m4-3h0m1-13h0m1-4h0m2-1h0m1 13h0m2 7h0m1-19h0m1 15h0m4-6h0m2-1h0m0 8h0m1 6h0m4-15h0m0 13h0m4-9h0m0-12h0m1 21h0m4-18h0m1 11h0m0 7h0m3-10h0m2-8h0m1 13h0m0-5h0m4-4h0m1 11h0m0-6h0m2-6h0m1 9h0m9-15h0m1 6h0m1 3h0m0 12h0m6-12h0m1 3h0m0-10h0m6-2h0m2 13h0m2 3h0m3-9h0m1 7h0m12-11h0m-13 41h0m-5-12h0m-7 2h0m-2 0h0m-3-1h0m-3 13h0m-1-14h0m-1 10h0m-1-13h0m-2 10h0m-4-11h0m-4 6h0m0-8h0m-11 15h0m-5 1h0m-2-3h0m-12 3h0m-2-9h0m0 13h0m-8 1h0m0-5h0m-1-13h0m0 15h0m-5-20h0m0 9h0m-4 3h0m-1-2h0m-3-5h0m-1 9h0m-1 3h0m-1-4h0m-1 7h0m-2 1h0m-2 1h0m-3-21h0m-3 21h0m0-10h0m0 3h0m-3 0h0m-2 3h0m-1 2h0m-6-19h0m-7 4h0m-3-5h0m-1 9h0m-5 1h0m-3 8h0m-5-4h0m0-12h0m-6 1h0m-2 18h0m-2-14h0m-2-4h0m-2 10h0m-3 4h0m4 25h0m8-17h0m5 22h0m1-11h0m7-2h0m7-7h0m2 15h0m4-14h0m5 15h0m7 3h0m1-15h0m3 14h0m1-12h0m5 5h0m4 4h0m1-16h0m2 3h0m0 3h0m1-7h0m1 15h0m1-14h0m1 3h0m3 1h0m1 12h0m3 0h0m2-3h0m1-8h0m1 15h0m3-9h0m10 6h0m4-17h0m1 20h0m2-13h0m3 14h0m2-13h0m9 3h0m1 5h0m0-14h0m6 6h0m7-5h0m2 3h0m5-2h0m1 8h0m1-7h0m19-7h0m-8 26h0m-8 4h0m-18 1h0m-4 0h0m-8-7h0m-14 7h0m-3 9h0m-1-5h0m-10 7h0m-2-14h0m-1 15h0m-2-14h0m-3 15h0m-1-17h0m-1 16h0m-1-14h0m0 4h0m-2 5h0m0 4h0m-4-6h0m-1 4h0m-3-11h0m0 9h0m-3-4h0m0-7h0m-1-2h0m-1 18h0m-6 1h0m0-11h0m0 9h0m-3-2h0m-1-4h0m-1 11h0m-3-16h0m-3 4h0m0-8h0m-1 11h0m-2 7h0m0-16h0m-1-3h0m-1 7h0m-1-3h0m-1 9h0m-5-14h0m-2 13h0m-6-6h0m-3 7h0m-1 3h0m-14 2h0m2 12h0m25 5h0m1-12h0m3 21h0m2-4h0m4-5h0m12-4h0m3 12h0m0-15h0m1 4h0m3 11h0m7-11h0m0-10h0m2 15h0m1 6h0m3-16h0m8 5h0m3 8h0m4-11h0m3 1h0m6 8h0m6 5h0m5-11h0m11 2h0m9 4h0m1-6h0m11 10h0m-45 21h0m-3 3h0m-7-3h0m-3-11h0m-16 13h0m-1-3h0m-7-14h0m-15 13h0m-1 4h0m-3-10h0m-11 10h0m-2 4h0m-6-5h0m-26-17h0m18 29h0m13 12h0m19 2h0m3-6h0m7 5h0m5 0h0m3-17h0m0 9h0m2 2h0m4 6h0m2-10h0m3 3h0m13-8h0m0 13h0m4-1h0m7 7h0m17-16h0m11 24h0m-17-4h0m-6 2h0m-19-3h0m-31 7h0m-3 4h0m-7 8h0m-2-3h0m-34-15h0m40 44h0m24-8h0m20-13h0m2-2h0m21 11h0m13 18h0m-27-5h0m-19 2h0m-12 13h0m-44 4h0m-45 3h0m13 5h0m116 13h0m8 5h0m-111 29h0m97 32h0m-15-2h0m-45-7h0m1030 70h0m-1092-1h0m-27-21h0m-10 4h0m36 31h0m1094-11h0m5 5h0m-971 27h0m-16 11h0m-155 31h0m-2 18h0m74 8h0" stroke="#efe93a" stroke-width="6" stroke-linecap="round" fill="none" transform="scale(.5)"/>
<path d="M623 417h0m-33 0h0m-26 34h0m87 10h0m-53 0h0m-2 24h0m83 20h0m-144 16h0m-154 16h0m15 9h0m152 5h0m73-12h0m-201 30h0m13 51h0m-95 46h0m-1 17h0m13 49h0m374 28h0m-3 1h0m-27-2h0m-20 4h0m-255-1h0m-58-9h0m-48 21h0m356 9h0m2-10h0m1 16h0m6-1h0m3-10h0m1-9h0m6 17h0m2-1h0m2-2h0m1-7h0m10-3h0m5-4h0m2 4h0m1 2h0m0 13h0m2-1h0m7-16h0m1 14h0m9-15h0m5 14h0m24 4h0m17 27h0m-2-7h0m-13 0h0m-4-2h0m-1-7h0m-6 14h0m-7-6h0m0-8h0m-4 11h0m-1-6h0m-4-1h0m-4 12h0m-1-11h0m-2-8h0m-4 9h0m-3-7h0m-4 14h0m-1-10h0m-3 12h0m-1-4h0m-2-12h0m-1 12h0m-1-10h0m-3 1h0m-9 3h0m-2 4h0m-3-9h0m0 13h0m-4-9h0m0 6h0m-5-17h0m0 13h0m-1-5h0m0-3h0m-3-5h0m-6 2h0m-2 20h0m-4-11h0m-1-11h0m-11 8h0m-2 5h0m-157 0h0m-160 13h0m82 5h0m28 13h0m28-19h0m144 21h0m11-18h0m5 15h0m3-2h0m1-11h0m1 7h0m10-7h0m1 2h0m1 6h0m4 2h0m4-14h0m4 17h0m4-5h0m2 8h0m1-7h0m5 2h0m5-1h0m2-10h0m3-1h0m0 14h0m4-8h0m0 5h0m1 6h0m2-2h0m0-16h0m2 4h0m3 14h0m2-18h0m5 17h0m2-15h0m6 12h0m2 2h0m1-4h0m2 1h0m2-11h0m2 4h0m2-10h0m0 6h0m7 3h0m3 5h0m6-3h0m1 10h0m0-19h0m1 3h0m1 14h0m2-19h0m7 23h0m2-22h0m2 17h0m3 0h0m3-9h0m1-3h0m2 17h0m3-17h0m13 3h0m1 15h0m-2 5h0m-5 15h0m-1-7h0m-6 6h0m-1-11h0m0 14h0m-5-3h0m-2-6h0m-8 5h0m0-9h0m-3 5h0m-4 7h0m-2-15h0m-1 5h0m-3 10h0m0-10h0m-4 0h0m0 12h0m-3-6h0m-3-17h0m0 15h0m-2-1h0m-3 5h0m-2-3h0m-2-6h0m-2-5h0m-2 16h0m-3-7h0m-5 0h0m0-6h0m-3 5h0m-4-7h0m0 7h0m-1-2h0m-1-7h0m-4-3h0m0 17h0m-5-7h0m-1 2h0m-2 8h0m-4 1h0m-3-13h0m-4 3h0m-3-12h0m0 18h0m-1-6h0m-2 3h0m-3 2h0m-3-4h0m-1-4h0m0-8h0m-2 17h0m-5-14h0m0 3h0m-2 4h0m-4-4h0m0 7h0m-6-6h0m-10-1h0m-7 1h0m0 3h0m-2 7h0m-5 4h0m-127-18h0m-11 12h0m-48-11h0m19 24h0m140 13h0m5 3h0m3-20h0m1 18h0m2-5h0m5 1h0m2 3h0m5 5h0m4-20h0m3 8h0m4-2h0m7 14h0m5-23h0m4 7h0m1 6h0m3 1h0m0-9h0m1 15h0m2-4h0m3 5h0m5-9h0m1 10h0m0-20h0m1 16h0m1 5h0m3-8h0m0 2h0m1-17h0m1 14h0m0-10h0m1 2h0m2 16h0m4-12h0m0-4h0m1 5h0m2 2h0m3 1h0m0-7h0m3 0h0m0 13h0m1-16h0m0 9h0m1 7h0m1-2h0m1-7h0m1 9h0m2-2h0m3 0h0m4-4h0m1-13h0m0 22h0m0-4h0m1-9h0m0-2h0m1-3h0m2 4h0m2 9h0m0-7h0m0-10h0m3 4h0m1 15h0m0-18h0m1 3h0m6 6h0m0 4h0m2-3h0m2-10h0m2 13h0m0-3h0m3 4h0m2-1h0m2 2h0m3-5h0m0-11h0m6 1h0m1 5h0m1-2h0m2 8h0m4-2h0m0 4h0m3-14h0m2 18h0m6-11h0m2 15h0m0-18h0m3 18h0m13-10h0m1 9h0m1-22h0m13 22h0m-3 18h0m-12-13h0m-4 8h0m0-5h0m-1 14h0m-1-20h0m-9 21h0m-1-13h0m-7-7h0m-3 18h0m-1-17h0m0 4h0m-3 6h0m-6 4h0m-5-4h0m-1 4h0m-2-6h0m-2 10h0m0-20h0m-1 7h0m-1 6h0m-1-11h0m-7 18h0m-1-8h0m-3-1h0m0 4h0m-1 3h0m0-9h0m-1-7h0m-1 4h0m-2 8h0m-1-11h0m-1 5h0m0 3h0m0-10h0m-1 1h0m0 18h0m-3 3h0m-1-4h0m-1-7h0m0 4h0m0-8h0m-2-2h0m-4 7h0m-5 10h0m0-23h0m-1 20h0m-1-8h0m-2-12h0m0 4h0m-1 4h0m-4 2h0m0 7h0m-2-13h0m-1-3h0m-2 1h0m-1 18h0m-1-3h0m-2-14h0m-1 8h0m-4 4h0m-1 6h0m-1-10h0m-1 7h0m-1-12h0m-3 0h0m-1 11h0m-3-7h0m-1 10h0m-1-11h0m-1 4h0m-3-12h0m-1 14h0m-5-15h0m-1 16h0m-7-7h0m-5-6h0m-2-2h0m-2 16h0m0 5h0m-3-5h0m-2-13h0m-8 17h0m-8-10h0m-9 0h0m-5 0h0m-1 10h0m-11-1h0m-33-9h0m-13 22h0m27-6h0m5-2h0m3 22h0m3-16h0m6 1h0m4-1h0m2 15h0m2 0h0m7-8h0m6 3h0m2 5h0m2-16h0m5 3h0m3 7h0m0 2h0m1-9h0m1-7h0m3 18h0m3 0h0m4-13h0m2 0h0m1 14h0m3-21h0m1 20h0m1-13h0m2 6h0m1 6h0m1-7h0m2-12h0m1 6h0m2 2h0m2 12h0m1-4h0m3-15h0m3 1h0m2 8h0m0 3h0m0-6h0m1-4h0m1 7h0m1 12h0m0-2h0m2-1h0m7-14h0m0 13h0m1 4h0m1-9h0m2-12h0m6 10h0m1 4h0m0-11h0m0 15h0m1-17h0m1 9h0m0-11h0m1 15h0m2 3h0m0-17h0m5 13h0m3 6h0m0-10h0m1-4h0m1-3h0m5 12h0m3-3h0m0 3h0m1-5h0m2-2h0m1 9h0m1 4h0m3-19h0m0 12h0m2-11h0m2 16h0m0 2h0m2-18h0m1 4h0m0 8h0m1-4h0m2 7h0m0 3h0m0-19h0m1 10h0m0 3h0m0-9h0m4-3h0m1 17h0m2-12h0m1 13h0m1-7h0m0 2h0m0-16h0m1 8h0m0 3h0m5-5h0m2-6h0m1 18h0m2-17h0m1 15h0m2 0h0m0 6h0m3-13h0m3 4h0m1-11h0m2 12h0m7-3h0m2-9h0m3 6h0m4 7h0m2 1h0m4-11h0m14 18h0m-13 21h0m-11-15h0m-2 14h0m-1-14h0m-1 18h0m-1-9h0m-3-1h0m-2 6h0m-4-18h0m-1 11h0m-1-2h0m-7 4h0m-2-8h0m-2 4h0m-3 2h0m-1-8h0m-2 16h0m-2 2h0m-6-14h0m-6 12h0m-1-6h0m0-3h0m-2-4h0m-1 2h0m-1-5h0m-1 18h0m-2-8h0m-2-4h0m-3-10h0m0 3h0m-5 8h0m-6-5h0m-2-4h0m-1 12h0m-2 1h0m-3-13h0m-2 13h0m0-3h0m-3 6h0m0-3h0m-3-6h0m0 3h0m-1 7h0m-1-6h0m-1-4h0m-1-5h0m-1 14h0m-3-13h0m-1 9h0m-1-6h0m-1-2h0m0 5h0m-5-3h0m-1 15h0m-6-8h0m-1 3h0m0-9h0m0 12h0m-3-13h0m-1 11h0m0-6h0m-3-1h0m0 6h0m-2-8h0m-2 8h0m-1-10h0m-2 10h0m0-3h0m-2-4h0m-3-4h0m-1 12h0m-1-10h0m-1 14h0m-3-18h0m-2 11h0m-3-4h0m-1-2h0m0-10h0m-1 2h0m-10 12h0m-1-7h0m-3-5h0m-5 14h0m0-11h0m0-5h0m-1 12h0m-1-8h0m-1 16h0m-2-13h0m0 3h0m0 4h0m-1-10h0m-2 4h0m-1 7h0m-1 5h0m-2-10h0m-1 11h0m-1-6h0m-1 3h0m0-10h0m-3 15h0m-3-5h0m0-18h0m-1 7h0m-3 9h0m-2-7h0m-3-2h0m-17 8h0m-172 15h0m117 8h0m49-4h0m6 13h0m2-16h0m2 0h0m3 7h0m2-4h0m9 0h0m2 1h0m3-8h0m1 3h0m4-2h0m2 14h0m1-9h0m1 3h0m3 6h0m0-2h0m4 5h0m0-21h0m0 2h0m1 11h0m5-9h0m1 6h0m2 10h0m0-19h0m4 6h0m4 4h0m0-7h0m0 13h0m2-13h0m2 16h0m1-19h0m3 4h0m0 13h0m1 5h0m2-14h0m1 13h0m0-5h0m2-17h0m3 2h0m7 6h0m6-5h0m1 16h0m2 4h0m2-8h0m4-7h0m5 6h0m0-14h0m1 17h0m1 4h0m1-19h0m3 19h0m1-11h0m0-6h0m1 4h0m1 8h0m2-2h0m0 4h0m1-16h0m2 4h0m0 5h0m2 1h0m5 5h0m1-10h0m1-3h0m2 12h0m0-6h0m1-4h0m4 16h0m3-6h0m0-5h0m1-8h0m3 7h0m2-3h0m1 10h0m2-14h0m2 8h0m3 2h0m9 4h0m1-3h0m5-3h0m1 12h0m2-3h0m2-4h0m2-10h0m4-3h0m5 6h0m8-5h0m1 5h0m2 7h0m1-3h0m2 2h0m6 8h0m1-16h0m2-1h0m2 15h0m0-12h0m3 1h0m2-10h0m4 18h0m3-7h0m0 25h0m-2-7h0m0-5h0m-2 18h0m-5-1h0m-1-6h0m-2-8h0m-1 17h0m-5-18h0m-6 0h0m-1 16h0m-2-14h0m-2 8h0m0-10h0m-4 2h0m-2 14h0m-3-16h0m-1 13h0m-3 4h0m0-17h0m-2 15h0m-6-8h0m-3 13h0m0-18h0m0 9h0m-1-11h0m-6 16h0m-1 4h0m-1-15h0m-2 16h0m-3-8h0m-4-3h0m0-4h0m-1 9h0m-2-14h0m-3 17h0m-2-12h0m-3-5h0m-1 17h0m0 3h0m0-10h0m-2 2h0m-3-11h0m-1 15h0m-2-6h0m-1 7h0m0-16h0m-4 6h0m-5 6h0m-2 7h0m-1-22h0m-3 4h0m-1 17h0m0-7h0m-2-1h0m-1 8h0m-1-18h0m-4 11h0m0 7h0m-2-22h0m-1 9h0m0 6h0m-3 6h0m0-18h0m-2 6h0m-1-8h0m0 13h0m-1-10h0m0 3h0m-5-4h0m-2 3h0m0 2h0m-2-8h0m-2 9h0m-2 3h0m-1-12h0m-2 8h0m-1-5h0m-1 15h0m0-8h0m-3-1h0m-3 0h0m0-5h0m0 13h0m-1 5h0m-1-17h0m0-4h0m-2-1h0m0 6h0m0 16h0m-4-15h0m0 2h0m-4-9h0m0 23h0m-2-9h0m-2 7h0m0-21h0m-1 19h0m-1-13h0m-3 3h0m0 4h0m-1 7h0m-2-5h0m-2-7h0m-3 2h0m-4 12h0m0-7h0m-8 0h0m-5 0h0m-3-4h0m-1-7h0m-2 5h0m-2-9h0m-4 7h0m-2 14h0m0-21h0m-4 8h0m-2-7h0m-1 7h0m-2 6h0m-9-1h0m-8-12h0m-26-1h0m-120 7h0m29 28h0m105 8h0m1-18h0m4 13h0m1-6h0m0 4h0m10 10h0m5 1h0m6-5h0m0 4h0m4-2h0m12 0h0m1-17h0m4 7h0m5 8h0m1-9h0m1 8h0m1 2h0m3-19h0m0 9h0m0 4h0m1-8h0m3 17h0m0-5h0m0-11h0m1 2h0m2 1h0m3 13h0m5-18h0m6 8h0m2-9h0m0 3h0m1 12h0m1-8h0m1-6h0m1 11h0m1-7h0m2 12h0m0 3h0m0-19h0m1 13h0m1-12h0m3 7h0m1-9h0m1 13h0m3-16h0m1 5h0m1 11h0m2-13h0m0 5h0m0 14h0m3-5h0m0-10h0m2 14h0m0-8h0m3 7h0m2-3h0m1-13h0m1 3h0m1 12h0m1-9h0m3-3h0m0 14h0m1-18h0m2 18h0m1-13h0m3 10h0m4 0h0m1-14h0m3 2h0m0-4h0m5 2h0m0 5h0m2 5h0m0 9h0m1-22h0m2 11h0m0-10h0m2 20h0m1-10h0m2-9h0m0 20h0m2-17h0m0 16h0m1-2h0m3-3h0m2 6h0m1-11h0m1-9h0m1 7h0m0-6h0m2 19h0m0-4h0m4-5h0m2-8h0m1 14h0m0-18h0m2 16h0m1-12h0m0-5h0m3 10h0m0 11h0m3-11h0m0-11h0m1 4h0m1 4h0m0 4h0m0 6h0m2-13h0m2 8h0m2-12h0m2 14h0m4 7h0m3-18h0m0 3h0m3 7h0m0 4h0m3-14h0m2 7h0m3 6h0m5 5h0m1-22h0m0 14h0m0-7h0m1 10h0m4-3h0m1 4h0m3-11h0m1-4h0m0 7h0m1 13h0m3-4h0m0-2h0m2-4h0m2-13h0m8 20h0m3-6h0m1-10h0m8 4h0m1 2h0m3 29h0m-2 2h0m-1-4h0m-1-4h0m-1 14h0m-2-15h0m-7 9h0m-2-11h0m-5 0h0m-3 10h0m-1 4h0m-4-5h0m0-12h0m-4 5h0m-3 1h0m-1 9h0m-3-2h0m0 2h0m-3 2h0m-2-11h0m0 4h0m-2 10h0m-1-12h0m-1 7h0m-1-9h0m-1-8h0m-4 21h0m-2-6h0m-2-2h0m-2 5h0m-3-16h0m0 15h0m-1 3h0m-3-4h0m-1 3h0m-3-7h0m-2 5h0m0-7h0m0-5h0m-3 4h0m-2 10h0m-1-20h0m-1 5h0m-1 6h0m0-11h0m-1 15h0m-1-9h0m-1 11h0m0-6h0m-2 2h0m-5-1h0m0 3h0m-1-8h0m0 2h0m-1 5h0m-2-7h0m-3-3h0m-2 17h0m0-9h0m-2 11h0m0-9h0m-1 3h0m-2-15h0m0 4h0m0 13h0m-4 0h0m-3 0h0m-4-8h0m-1 8h0m0-19h0m-4 12h0m0-11h0m0 18h0m-3-13h0m0 14h0m0-18h0m-1 13h0m-2-12h0m-2-3h0m-2 8h0m-1 6h0m-5-3h0m0 3h0m-1-14h0m-3 13h0m-1 4h0m0-17h0m-2 6h0m-1-4h0m0 11h0m-2 1h0m-1-8h0m0 15h0m-3-5h0m0-10h0m-2-3h0m-4 0h0m0 4h0m-2 7h0m-1-13h0m0 16h0m-2-3h0m-1-7h0m-2 9h0m-1 7h0m0-16h0m0 5h0m-1-8h0m0 12h0m-1 6h0m0-9h0m-2 4h0m-1-15h0m-4 19h0m0-6h0m-2-10h0m-4 9h0m-1 3h0m0-11h0m-3 5h0m-1-2h0m-1-8h0m0 16h0m-2-6h0m-2 7h0m-3-18h0m-1 7h0m-1 6h0m-1-9h0m-5 10h0m-1 3h0m0-17h0m-3 10h0m0-6h0m-1 18h0m-1-12h0m-5 4h0m-1 8h0m-1-3h0m-4-10h0m-4 3h0m-1-2h0m-2-5h0m-3-2h0m-3 20h0m-6-19h0m-5 7h0m-9 3h0m-5 9h0m-49-14h0m47 23h0m4 9h0m10-6h0m10 10h0m5-2h0m1-18h0m3 6h0m0 5h0m7-1h0m2-5h0m1 7h0m4-3h0m2 3h0m0-9h0m3 11h0m2 8h0m1-20h0m3 4h0m1 6h0m1 6h0m1-8h0m3-5h0m0 14h0m1-11h0m4 5h0m0-11h0m0 2h0m3 16h0m0-21h0m0 7h0m1 3h0m0 3h0m2-11h0m1 7h0m1-6h0m0 12h0m4-12h0m0 15h0m1-9h0m2 13h0m0-10h0m2 8h0m1-20h0m2 19h0m1 4h0m2-21h0m1 14h0m0-6h0m1 2h0m1-7h0m0 18h0m2-6h0m0-6h0m0 12h0m2-20h0m1 15h0m0-7h0m2-5h0m0-6h0m2 8h0m6 10h0m1-10h0m1 11h0m1-17h0m2 21h0m1-15h0m1-2h0m2 1h0m1 10h0m1-8h0m2-3h0m0 11h0m1-6h0m1 4h0m2-7h0m0 9h0m1-4h0m2 8h0m2-6h0m2 7h0m0-21h0m2 3h0m1 16h0m0-8h0m0 4h0m0-10h0m1 8h0m0-10h0m1-3h0m1 13h0m1 9h0m1-22h0m0 8h0m1 13h0m0-11h0m1 6h0m2-7h0m0 3h0m2-11h0m2 15h0m1-5h0m2 9h0m0-21h0m7 14h0m1-6h0m0 15h0m1-19h0m2 19h0m2-18h0m0 8h0m1-6h0m0-7h0m6 14h0m2-13h0m1 22h0m0-16h0m2-3h0m5 4h0m3 8h0m1-9h0m2-1h0m1 8h0m1-14h0m1 3h0m2 4h0m1 6h0m1-4h0m1-7h0m1-2h0m0 14h0m0-10h0m2 18h0m5-11h0m0-7h0m1 16h0m6-14h0m4 12h0m6-15h0m1 5h0m3 2h0m6-4h0m1 14h0m0-9h0m2-11h0m0 15h0m1 6h0m2-10h0m6 8h0m3-1h0m1-12h0m5 7h0m1 3h0m14 9h0m-5 19h0m-7-18h0m-3 3h0m-3 9h0m-1-3h0m-2 3h0m-1-5h0m0 12h0m-1-3h0m-3-11h0m-2 3h0m-4 9h0m-4 4h0m-5-21h0m-2 19h0m-4-17h0m-2 12h0m-1 5h0m0-20h0m-5 22h0m0-23h0m-1 20h0m-2-3h0m0 5h0m-3-19h0m-1-3h0m-1 18h0m0-8h0m-2-4h0m-1-6h0m-1 5h0m-2 15h0m-1-2h0m-1-14h0m0 16h0m-1-11h0m-1 10h0m0-6h0m-3-12h0m0 9h0m0 2h0m0 4h0m-2-7h0m0 14h0m-1-8h0m-3-6h0m-1-8h0m0 11h0m-4-10h0m-2 18h0m-1-3h0m-3-14h0m-2-1h0m-5 3h0m-3 18h0m-6-10h0m-1-2h0m-2 6h0m-1-6h0m-1-4h0m-2 11h0m0 3h0m-1 2h0m-1-12h0m-1-5h0m-2-3h0m-1 19h0m-1-21h0m-2 4h0m-1 13h0m-3-1h0m-6-13h0m-2 14h0m-1-3h0m-3 3h0m-3-1h0m0-17h0m-1 3h0m-1 11h0m-1-13h0m-1 14h0m-2-7h0m0 8h0m-4-9h0m-1 14h0m-3 1h0m-1-17h0m-1-3h0m-1 11h0m-4 1h0m-1-4h0m-3-5h0m0 13h0m0 3h0m-4-17h0m-1 8h0m-3-1h0m-1-2h0m-2-5h0m-3 3h0m-1 11h0m-2-6h0m0 3h0m0-8h0m0 12h0m-2-2h0m-2-11h0m0 3h0m-3 8h0m-1-8h0m-3 14h0m-1-7h0m-3-13h0m-6 9h0m-1-5h0m-1-5h0m-2 21h0m-1-11h0m-1 5h0m-1-3h0m-3-7h0m-1-4h0m-5 8h0m-2-9h0m-4 20h0m-3-2h0m-1-12h0m-1 15h0m-3-1h0m-12-3h0m-6 23h0m8-13h0m5-5h0m6 4h0m4 17h0m4-7h0m4-13h0m5 5h0m1 7h0m3 1h0m3-8h0m1 14h0m1-2h0m2-6h0m1-3h0m1-3h0m4 13h0m1-18h0m1 11h0m5-7h0m1 4h0m1-2h0m1 15h0m1-22h0m1 20h0m0-13h0m2-1h0m2 6h0m3 0h0m0-8h0m4-4h0m3 12h0m0 6h0m4 3h0m1-8h0m2-11h0m0 14h0m1-6h0m1-5h0m1 18h0m1-13h0m1 10h0m1-5h0m1-9h0m1 10h0m1 7h0m1-20h0m1 13h0m1 6h0m2-10h0m0-7h0m2-4h0m1 14h0m0-4h0m1-9h0m2 10h0m2-7h0m3 17h0m1-13h0m2 11h0m2-11h0m1 8h0m1 2h0m0-16h0m0 4h0m2 6h0m0-11h0m1 4h0m1 5h0m0-11h0m1 23h0m0-18h0m2 14h0m1-19h0m1 5h0m0 18h0m1-4h0m1-2h0m1-2h0m2 4h0m3 0h0m0-2h0m3-12h0m1 14h0m4-7h0m1-4h0m2 15h0m0-20h0m1 16h0m0-11h0m1 8h0m1 3h0m2-9h0m0 4h0m2-11h0m0 9h0m1 9h0m0-2h0m2-10h0m0 3h0m1-7h0m1 17h0m1-12h0m5-10h0m0 12h0m1 9h0m2-20h0m0 16h0m4-17h0m0 12h0m2-10h0m0 8h0m2 13h0m1-8h0m1 2h0m1 4h0m2 2h0m0-6h0m2-10h0m6-6h0m1 3h0m1 7h0m1 3h0m5 7h0m0-4h0m4 0h0m10 2h0m2-18h0m0 2h0m0 16h0m4-6h0m1-3h0m4 13h0m2-2h0m5-5h0m1-2h0m0-10h0m5-2h0m6 16h0m2-5h0m4-11h0m15 18h0m1-3h0m8-11h0m4 0h0m1 3h0m0-7h0m19 9h0m29 11h0m-14 9h0m-32 0h0m-2-3h0m-20 19h0m-8-21h0m-20 19h0m-4-14h0m-7 3h0m-7 2h0m-6 4h0m-1-3h0m-5 6h0m0-12h0m-2-6h0m-3 20h0m-2-19h0m-3-1h0m0 5h0m-1 11h0m-2-2h0m-2-6h0m-1-4h0m-2-2h0m-1 12h0m0-11h0m-1 3h0m-4-7h0m-3 18h0m-2-7h0m0 12h0m-1-4h0m0-5h0m0-10h0m-3 16h0m-2-19h0m-1 12h0m-1-12h0m-1 9h0m-1-8h0m-2 9h0m0 8h0m-1-11h0m-1 5h0m-2 9h0m-4-9h0m-2-10h0m-1 13h0m-1-4h0m-1-2h0m-3 3h0m-1 4h0m-1-11h0m0 16h0m-2-22h0m0 20h0m0-10h0m-1-6h0m-1 8h0m0-4h0m-4-1h0m-1 12h0m0 3h0m-2-17h0m-1 3h0m-2 9h0m-1-4h0m-1-7h0m0 14h0m-1-9h0m0 12h0m-1-6h0m-3 2h0m-3-2h0m-1-12h0m0-2h0m-3 14h0m-2 5h0m-1-6h0m0 4h0m0-10h0m-1-5h0m-2 3h0m-3 0h0m0 15h0m-3-16h0m0-6h0m-1 14h0m-3-5h0m-1 5h0m-1 4h0m0-19h0m-1 12h0m-2-9h0m-2 17h0m-1-5h0m-1-2h0m-2 3h0m-1-9h0m-1 16h0m0-18h0m-4 0h0m0 8h0m-2-1h0m-2-11h0m-2 13h0m-1 8h0m-2-4h0m-3 3h0m-3-14h0m-2-3h0m0 9h0m-1 3h0m-1-12h0m-2-4h0m-1 8h0m-1-6h0m-4 11h0m-2 7h0m0-14h0m-1 6h0m-4 1h0m-4 10h0m-2-18h0m-1 5h0m-1-10h0m-2 17h0m-1-9h0m0-3h0m-1 8h0m-2-4h0m-1-6h0m-1 8h0m-5-9h0m-25 17h0m11 14h0m22-5h0m0 15h0m0-10h0m5-8h0m2 2h0m1 9h0m1-11h0m2 5h0m0 9h0m6-6h0m5-3h0m0-6h0m1 12h0m1 6h0m1-8h0m3-8h0m2 2h0m0 19h0m1-17h0m0 15h0m3-20h0m0 2h0m2 8h0m2-5h0m2 7h0m3-12h0m2 9h0m1 2h0m2-11h0m0 6h0m0 3h0m2 1h0m4 5h0m2 6h0m0-4h0m1-2h0m0-10h0m1-2h0m0 15h0m5 4h0m0-5h0m2-2h0m4-8h0m0 12h0m5-5h0m1-7h0m1-5h0m1 2h0m1-4h0m0 7h0m8 1h0m1 10h0m3-12h0m3-7h0m0 9h0m1 3h0m6 6h0m1-15h0m1 13h0m2-5h0m1-11h0m2 12h0m1 8h0m0 2h0m2-5h0m1-9h0m4-7h0m2 0h0m0 8h0m1-5h0m3 1h0m0 4h0m0 12h0m1-2h0m2-7h0m1-7h0m7 6h0m1-3h0m4 12h0m4-5h0m3 0h0m2-10h0m1 8h0m6-11h0m4 4h0m0 5h0m1 3h0m1 9h0m3-23h0m0 13h0m0 5h0m3-16h0m1 5h0m10-1h0m9-6h0m1 5h0m1 9h0m-18 16h0m-5 11h0m-1 4h0m-1-7h0m-3 0h0m-2 5h0m0-3h0m-1-14h0m-2 10h0m-12 0h0m-2-2h0m-4-9h0m0 12h0m-6-2h0m-3 9h0m-5-2h0m-4-11h0m-1-7h0m0 18h0m-2-5h0m-2-5h0m-2 2h0m-2 9h0m-2-1h0m-2-17h0m-2 17h0m-1-3h0m-1-6h0m-5 9h0m-2-11h0m-2 9h0m0-12h0m-1 2h0m-4 14h0m-1-20h0m-2 12h0m-1 10h0m-3-20h0m0 4h0m-2 5h0m-2 5h0m0 2h0m-4 3h0m-4-9h0m-1 10h0m0-20h0m-1 3h0m0 14h0m-3-7h0m-1-2h0m-2 1h0m-2 1h0m-1-3h0m-1-8h0m-4 19h0m-4-2h0m-1-7h0m-2-5h0m-2 5h0m-1 4h0m-2-13h0m-5 2h0m-2 12h0m-3-7h0m-3-1h0m-1-4h0m35 27h0m1-7h0m1 4h0m5 2h0m2 2h0m4-6h0m15-2h0m2 6h0m44 1h0m1-3h0m8-3h0" stroke="#f6a722" stroke-width="6" stroke-linecap="round" fill="none" transform="scale(.5)"/>
<path d="M806 554h0m-344 17h0m101 21h0m214-3h0m13-1h0m-203 42h0m193 12h0m18-2h0m12 5h0m32 3h0m-24 22h0m-51-11h0m-385-1h0m-76 25h0m225 9h0m33-6h0m13 9h0m35-3h0m135-14h0m26-2h0m2 2h0m22 15h0m5-6h0m8-2h0m18 24h0m-69-5h0m-136-6h0m-25 21h0m-269 2h0m89 22h0m366-8h0m0 3h0m29-9h0m8 9h0m22 11h0m-7 9h0m-88-14h0m-184 33h0m220 2h0m-422 13h0m-52 37h0m349-10h0m111 14h0m14 5h0m-47 4h0m-360 42h0m277-13h0m139 20h0m-175 3h0m-45-1h0m-160 13h0m-7 18h0m43 5h0m130-14h0m146 14h0m65-16h0m25 12h0m60-9h0m-21 33h0m-65-3h0m-17 0h0m-8 11h0m-46-4h0m-3 2h0m-280-13h0m332 39h0m8-4h0m16-12h0m46 8h0m20 4h0m8 0h0m45 28h0m-26-6h0m-1 5h0m-16-3h0m-5-1h0m-10-4h0m-7-11h0m-11 7h0m-4 2h0m-11 2h0m-77-12h0m-45 13h0m-145 31h0m83-20h0m106 14h0m7 4h0m32-3h0m6 6h0m19-1h0m11-17h0m1 7h0m6 1h0m2 9h0m4-7h0m0 3h0m9-8h0m2-5h0m15 1h0m3 11h0m7-14h0m1 2h0m2 18h0m0-12h0m2-7h0m0 15h0m0-7h0m6 7h0m0-7h0m5-2h0m2 6h0m2 3h0m1-7h0m0-3h0m0 8h0m6-12h0m5 11h0m3-4h0m1 7h0m2-9h0m1 10h0m7 4h0m4 1h0m25 20h0m-45-14h0m-12-2h0m-5-1h0m0 11h0m-3-12h0m-6 20h0m-7-15h0m0-4h0m0 14h0m-2-12h0m-3-4h0m-1 7h0m-2 13h0m-1-10h0m-9 0h0m0 4h0m-4-1h0m-3-11h0m-2 8h0m-9-10h0m-4 15h0m-4-9h0m-3 9h0m-7 7h0m-10-3h0m-12-8h0m-7 12h0m-7-9h0m-151-6h0m-102-7h0m-57 45h0m322-8h0m4-6h0m2-4h0m11-3h0m3-1h0m2 10h0m3-4h0m2 9h0m0-14h0m4 12h0m6-10h0m4-3h0m10 16h0m2 3h0m9 1h0m6-2h0m5-10h0m0-5h0m3 5h0m13 11h0m6-13h0m2-6h0m8 2h0m1 4h0m1-6h0m19 4h0m24 4h0m-31 31h0m-16-11h0m-18-4h0m0 10h0m-4 1h0m-1-6h0m-2 2h0m-2 3h0m-13 4h0m-8-7h0m-3 4h0m-4-6h0m-1 4h0m-9 5h0m-6 9h0m-1-13h0m-5 7h0m-5 3h0m-10-11h0m-17 10h0m-10-12h0m-284-5h0m214 23h0m67 6h0m5 1h0m0-8h0m10 3h0m9 7h0m3 2h0m15-9h0m9-1h0m8 20h0m12-17h0m10-4h0m-4 39h0m-16-14h0m0 20h0m-16-11h0m-2 8h0m-4-8h0m-7-10h0m-12 18h0m-4-3h0m-3-14h0m-4 8h0m0 12h0m-4-13h0m-7 2h0m-22-6h0m-1 12h0m-10-14h0m-6 20h0m-98-3h0m115 16h0m10-12h0m17 4h0m7-2h0m8 12h0m22-11h0m5 1h0m8 9h0m-40 11h0m-136 4h0" stroke="#3d9083" stroke-width="6" stroke-linecap="round" fill="none" transform="scale(.5)"/>
<path d="M287 789h0m1-4h0m-1 25h0m-1-14h0m-1 11h0m-1-10h0m-1 18h0m0-23h0m-2 10h0m6 21h0m2 13h0m613 147h0m63 13h0m-3 10h0m-2-8h0m-5 9h0m-17-23h0m-1 14h0m-20-3h0m-5 6h0m-4 3h0m-12-14h0m0 6h0m-13-8h0m-1 8h0m-3 2h0m-7 4h0m-20 18h0m25 11h0m13-5h0m2-2h0m11-15h0m1 4h0m5-2h0m0 14h0m2-3h0m4-14h0m2 18h0m2-9h0m0 4h0m1-8h0m1 5h0m2 4h0m2-11h0m0 18h0m2-4h0m1 3h0m0 2h0m0-12h0m3 10h0m1-6h0m0-6h0m1-6h0m1 14h0m1 3h0m2-8h0m1 5h0m1-3h0m1-4h0m1 12h0m2-15h0m4-6h0m0 17h0m7-8h0m4 2h0m11 5h0m1-11h0m6 15h0m2-5h0m8 2h0m15 15h0m-18 5h0m-1-6h0m-3-1h0m-1 10h0m0-15h0m-1 2h0m-2-2h0m-2 12h0m-1-3h0m-6-2h0m0 4h0m-1 8h0m-2-6h0m0-4h0m-2-10h0m0 20h0m-2-5h0m-2-13h0m-9-2h0m0 9h0m-1-6h0m-2 5h0m-1 10h0m0 2h0m-1-15h0m-1 5h0m-2 0h0m-1-6h0m-2 13h0m0-14h0m0-3h0m0 9h0m-1-4h0m-2 8h0m0-3h0m-1-5h0m-1 2h0m-5 1h0m-3-1h0m-2 4h0m-1-5h0m-2 1h0m0 9h0m-1-15h0m-1 8h0m-3 8h0m-5-11h0m-1 4h0m-1-5h0m-3 7h0m-14-5h0m-37 39h0m24-10h0m6 3h0m1-2h0m8-6h0m0 13h0m2-20h0m6 2h0m4 18h0m4-17h0m8 9h0m1-6h0m1-5h0m3 20h0m2-15h0m1 7h0m3-9h0m0 19h0m2-21h0m2 9h0m0-4h0m3 6h0m2 5h0m1-3h0m0-6h0m3 3h0m2-11h0m4 8h0m3-3h0m5-3h0m9 11h0m0-7h0m0-5h0m3 0h0m0 10h0m3-11h0m0 9h0m1 2h0m3 2h0m2-5h0m3-8h0m4 16h0m2 3h0m7 3h0m4-4h0m10 16h0m-11-10h0m-1 4h0m-2-2h0m-3 2h0m-1 18h0m0-7h0m0-7h0m-4-9h0m-1 6h0m-1 16h0m0-19h0m-1 6h0m-1-7h0m0 19h0m0-3h0m-2-15h0m-3 13h0m-1-16h0m0 18h0m-7-5h0m-1 5h0m-1-6h0m0 4h0m-4 4h0m0-8h0m-1-9h0m-1 3h0m0 8h0m-6 0h0m-1-5h0m-3 8h0m0-3h0m-1-11h0m-1 9h0m-4-12h0m-2 7h0m-1 3h0m-5 8h0m-11 1h0m-2-9h0m-2 10h0m-1-16h0m-10-1h0m0 6h0m-7-9h0m-1 4h0m-7 7h0m-2-9h0m-2 14h0m-8-11h0m-27-4h0m-2 3h0m13 20h0m8 4h0m72-4h0m5 1h0m5 9h0m3-4h0m2-4h0m1 10h0m1-3h0m1-5h0m3 16h0m2-13h0m1-4h0m2 17h0m4-16h0m2-2h0m1 2h0m0 9h0m4-9h0m2 7h0m0 3h0m1-14h0m1 4h0m3 8h0m1-12h0m5 3h0m5 1h0" stroke="#b2702b" stroke-width="6" stroke-linecap="round" fill="none" transform="scale(.5)"/>
<path d="M997 812h0m-4 0h0m-8-5h0m-16 5h0m-1 26h0m14-15h0m2-5h0m3 7h0m2-9h0m6 19h0m10-17h0m4 14h0m11 23h0m-9 0h0m-5 0h0m-4 0h0m-1-10h0m-2 7h0m-1-4h0m-3 0h0m-1-6h0m-1-2h0m-2 7h0m0 9h0m-3-7h0m-1 10h0m0 4h0m-3-20h0m-4 14h0m-1-13h0m0-3h0m-1 18h0m-2-18h0m-2 4h0m0 11h0m-3-6h0m-3 2h0m-1 4h0m0-15h0m-6 13h0m-35 28h0m23-13h0m3 2h0m2 14h0m2-17h0m2 15h0m3-8h0m8 4h0m1-3h0m5 9h0m3-4h0m2-4h0m0-4h0m1-9h0m2 21h0m1-11h0m2-2h0m0-3h0m1 14h0m4-8h0m1 12h0m0-21h0m1 18h0m1-11h0m0-5h0m1 7h0m2 1h0m7-11h0m5 12h0m3-3h0m-14 14h0m-4 1h0m-6 2h0m-2 5h0m-2 7h0m-1-7h0m0-3h0m-4 1h0m-1 15h0m0-6h0m-5 0h0m-1-14h0m0 3h0m-4 11h0m-1-13h0m-5-1h0m-2 10h0m-8 3h0m-5 1h0m-1-12h0m-6 0h0m-31 35h0m73 7h0m6-5h0m3-4h0m1-9h0m0 18h0m1-21h0m1 35h0m-5 0h0m-1-7h0m-2 9h0m-1-3h0m-1-9h0m-1 21h0m-1-22h0m-4 7h0m-10 2h0m-25 6h0m-4-9h0m-12 2h0m54 33h0m4-9h0m1-6h0m1 16h0m7 0h0m2-11h0m1 2h0m2 26h0m-9-7h0m-2 2h0m-2 2h0m-2-1h0m-5-6h0m9 25h0" stroke="#cb6a7c" stroke-width="6" stroke-linecap="round" fill="none" transform="scale(.5)"/>
<path d="M1010 1029h0m3-4h0m6 1h0m7 3h0m31 12h0m-12-1h0m-3 4h0m0 4h0m-2-16h0m-3 8h0m-2 8h0m-3-15h0m-3 11h0m-1 9h0m-10-2h0m-2-13h0m-3 6h0m-3-8h0m-1 3h0m-5-4h0m-1 6h0m31 21h0m2 3h0m18-6h0" stroke="#d2693e" stroke-width="6" stroke-linecap="round" fill="none" transform="scale(.5)"/>
<path d="M611 373h0m-37-6h0m-7 20h0m-3 44h0m-2 6h0m57-1h0m135 86h0m-14-15h0m-14 12h0m-12 0h0m-152 20h0m7 6h0m3-6h0m151-3h0m27 9h0m3-17h0m1 3h0m10 11h0m0-5h0m7 5h0m1-10h0m13 8h0m10 5h0m24 3h0m-3 24h0m-3 0h0m-4-2h0m0-3h0m-2 2h0m-1-10h0m-4 13h0m-2-6h0m-2-9h0m-4 4h0m-1 11h0m-8 0h0m-2 1h0m-3 0h0m-9-16h0m-6 2h0m22 17h0m0 2h0m5 2h0m1 6h0m7-4h0m4 13h0m1-12h0m2 16h0m3-8h0m0-12h0m1 14h0m1-4h0m1-6h0m0 10h0m1-17h0m1 15h0m3-7h0m0-5h0m0 9h0m1 4h0m4-1h0m1 5h0m1-18h0m9 5h0m0 15h0m33 14h0m-8-2h0m-13-4h0m0 9h0m-3-5h0m0 2h0m-1-8h0m-2-4h0m-1 14h0m-4-8h0m-4 11h0m-3 3h0m-1-4h0m-1-12h0m-2 8h0m-1-8h0m-4-2h0m-4 3h0m-1 5h0m0-10h0m-1 13h0m0-5h0m-2-8h0m-1 6h0m-422 34h0m149-6h0m269-7h0m22 14h0m0-7h0m2-8h0m2 9h0m0-10h0m4 17h0m0-3h0m1-3h0m1 1h0m2-13h0m0 21h0m3-11h0m1 2h0m2-3h0m1 13h0m2-13h0m3 9h0m0-5h0m2 4h0m4-3h0m0 3h0m7-8h0m7 38h0m-3-3h0m-2 2h0m-1-8h0m-1-6h0m-4 4h0m0-7h0m-2 4h0m-1 9h0m0-13h0m-4 9h0m-1 3h0m-1-3h0m-1-10h0m-2 6h0m-1 6h0m-1-12h0m-6 9h0m0-7h0m-3 5h0m-2 35h0m16-5h0m1-16h0m1 14h0m2 2h0m5-5h0m2 10h0m2-3h0m1-8h0m2-9h0m2 6h0m0-7h0m1 13h0m1 9h0m0-2h0m1-13h0m2 15h0m0-10h0m2 9h0m3-15h0m2 9h0m6-6h0m1 10h0m5 21h0m-3 4h0m-3-9h0m0 9h0m-3-1h0m-1-9h0m-1 10h0m-2-16h0m-1-4h0m-2 4h0m0 5h0m-2 7h0m-1-14h0m-3 11h0m-2-3h0m-2-3h0m0-4h0m-8 7h0m-3 10h0m-3-20h0m-7-1h0m-304 20h0m-109 2h0m-102-15h0m286 31h0m16 0h0m219 6h0m5-10h0m1 3h0m15-13h0m9 8h0m2 14h0m17-6h0m1-6h0m4 34h0m-6-19h0m-2 10h0m-2 12h0m-2 0h0m0-13h0m-1-6h0m-1 9h0m-1-7h0m-7 5h0m-36 11h0m-521-11h0m483 25h0m23 5h0m4-8h0m35 2h0m4 12h0m6 0h0m1-6h0m0-15h0m6-2h0m1 5h0m9 15h0m7-17h0m12 3h0m0 9h0m3 23h0m-20-6h0m-9-3h0m-7 9h0m-2-9h0m-2 6h0m-10 3h0m-2 7h0m-15-4h0m-4 1h0m-18-4h0m-10 1h0m-197-8h0m-62 9h0m276 18h0m6 11h0m4-4h0m12-2h0m10 5h0m3-18h0m8 8h0m2 11h0m2-10h0m14-7h0m1 9h0m2-9h0m1-2h0m-26 35h0m-3-7h0m-18 13h0m-2-17h0m-2 15h0m-483 126h0m111-17h0m-25 36h0m-7 21h0m484 48h0m8 1h0m16-9h0m13-5h0m-36 27h0m-432 17h0m-2 25h0m412-20h0m3-1h0" stroke="#d8221f" stroke-width="6" stroke-linecap="round" fill="none" transform="scale(.5)"/>
<path d="M1725 1029h0m6-3h0m1 4h0m4-5h0m3-6h0m8-1h0m1 5h0m4 2h0m1 4h0m0-11h0m8 13h0m16 10h0m-4 13h0m-3-4h0m-1-4h0m-2 7h0m0-7h0m0-5h0m0 9h0m-1-7h0m-1-4h0m0 15h0m-1-14h0m-1 9h0m-1-6h0m0 8h0m-1 4h0m-2-9h0m0 8h0m-2-21h0m0 10h0m-1 12h0m0-7h0m0 3h0m-1-17h0m-1 21h0m0-5h0m0-5h0m-1-9h0m-1 18h0m-1-14h0m-2 12h0m0-17h0m0 11h0m-1-13h0m-1 14h0m0 2h0m0 6h0m-1-18h0m-1 5h0m0-7h0m-1 16h0m0-8h0m0-7h0m-1 17h0m-1-8h0m0-6h0m-1 9h0m0 4h0m0-17h0m-1 9h0m-1 11h0m-1-7h0m0 4h0m-1-6h0m-2 7h0m-1-8h0m0 10h0m-3-22h0m-1 15h0m0-7h0m-1 13h0m-1-5h0m0-7h0m-2 7h0m0-10h0m0 16h0m-3-14h0m-1 8h0m-4-4h0m0 21h0m7-6h0m2-2h0m3 1h0m3 6h0m2 6h0m1-10h0m0 3h0m1 9h0m2-4h0m0-6h0m3 2h0m0-5h0m1 19h0m0-10h0m1-10h0m2 6h0m1-3h0m2 8h0m0-12h0m1 6h0m1-8h0m0 4h0m0 13h0m2 4h0m0-19h0m1 12h0m1-8h0m2-4h0m0 15h0m0-7h0m2 9h0m0-14h0m1 5h0m0-8h0m1 15h0m0 4h0m2-9h0m1-7h0m1-4h0m2 9h0m1 6h0m0-12h0m1 4h0m1 6h0m3-13h0m-21 23h0m-3 2h0m-4 1h0m-2 2h0m-2-2h0m-10 0h0" stroke="#9b9b9b" stroke-width="6" stroke-linecap="round" fill="none" transform="scale(.5)"/>
<path d="M563 355h0m5 1h0m32 17h0m-8 0h0m-2-4h0m-6 9h0m-7-13h0m-3-2h0m0 18h0m-2 2h0m-1-22h0m-3 7h0m-3 2h0m-1 11h0m-3-9h0m-5 1h0m-1 10h0m-1-5h0m-2-3h0m0-5h0m-2 5h0m-2 4h0m-5-3h0m-1-15h0m-1 18h0m-5-3h0m-2-13h0m-1 6h0m-1-3h0m-1 14h0m-133 27h0m21-1h0m62 0h0m16-6h0m4 4h0m23-19h0m1 22h0m0-7h0m1-10h0m0 7h0m5 7h0m2-3h0m3-15h0m1 3h0m0 9h0m2-9h0m1 9h0m0 3h0m3 4h0m0-3h0m2-12h0m1 8h0m1-14h0m1 5h0m1-2h0m3-1h0m4 0h0m1 15h0m0-8h0m1 14h0m1-18h0m3-3h0m0 12h0m1 4h0m3-3h0m0 4h0m1-18h0m2 5h0m1-5h0m3 5h0m4-1h0m0 9h0m5 1h0m1-7h0m5 2h0m0-10h0m2 13h0m1-5h0m1 12h0m0-20h0m3 22h0m3-10h0m1 3h0m0 7h0m1-15h0m3 16h0m2-3h0m4-17h0m5 20h0m6 24h0m-2-8h0m-1-3h0m-1-11h0m-2 10h0m-1 12h0m-2-14h0m-3 8h0m-1-12h0m-4 9h0m-3-9h0m-1 7h0m-1 9h0m-4-20h0m-2 12h0m-4 8h0m-1-3h0m-5-1h0m-3 0h0m-3-17h0m0 18h0m-1-11h0m-2 8h0m-1-11h0m0-3h0m-7 17h0m-2-17h0m-2 3h0m0 16h0m-2-13h0m-1 13h0m0 3h0m-3-7h0m-1-4h0m-1 10h0m-1-9h0m-2 4h0m-3-16h0m0 13h0m-2 4h0m-1-15h0m0-3h0m0 9h0m-3-6h0m0 3h0m0 17h0m-1-9h0m0 3h0m-1-15h0m-2 5h0m-3 4h0m-1-5h0m-1-6h0m0 16h0m-3-16h0m0 17h0m-1-5h0m-2 6h0m0-7h0m-1-7h0m-4 6h0m-2-2h0m-2 9h0m0-16h0m-1 6h0m-6 16h0m-3-1h0m0-19h0m-1 16h0m-2-17h0m-3 2h0m0 9h0m-1 3h0m-1 7h0m-3-3h0m0-11h0m-2 13h0m-4-15h0m-1 6h0m0 3h0m-1-12h0m-1 6h0m-2-1h0m-4 5h0m-13-5h0m0-3h0m-1 11h0m-2-4h0m-2-13h0m-4 19h0m-1 3h0m-2-21h0m-1 13h0m0-2h0m-4-4h0m0 7h0m0 8h0m-1-12h0m0 7h0m-1-16h0m-4 9h0m0 9h0m-1-7h0m0 9h0m0-6h0m-1-11h0m-2 1h0m-1 2h0m-3 0h0m-2 2h0m-1-5h0m0 18h0m-3-4h0m-1-15h0m-1 17h0m-2-16h0m-1 5h0m0 12h0m-4-5h0m-1 5h0m-2-4h0m-1-7h0m-1 9h0m-1-6h0m-1 7h0m0-14h0m-3 7h0m-2-4h0m-1 4h0m-2-12h0m0 12h0m-1-14h0m-2 12h0m-1 4h0m0 4h0m-1-6h0m-2 3h0m0-6h0m-1 3h0m-1 9h0m0-3h0m-2-3h0m-3-15h0m-1 9h0m-2 5h0m-2-9h0m0-6h0m-2 12h0m0 9h0m-2-9h0m-1 4h0m0-6h0m0-7h0m-2 9h0m0-11h0m-1 4h0m-1 9h0m0-7h0m-4 4h0m-3-6h0m0 7h0m-4-3h0m-2 10h0m0-15h0m-9 34h0m5-13h0m0 13h0m3-9h0m3-4h0m1 19h0m0-21h0m1 16h0m0-11h0m2 12h0m2-11h0m0-3h0m2 10h0m0-7h0m0-5h0m6 15h0m1 4h0m2-1h0m2-15h0m0-3h0m0 9h0m4-8h0m2 14h0m0-15h0m0 21h0m0-14h0m2 12h0m1-9h0m0 11h0m1-6h0m3 2h0m1-8h0m1 4h0m1-8h0m2-6h0m1 4h0m0 2h0m0 8h0m3 3h0m0-6h0m1-3h0m2 2h0m1-7h0m1 12h0m1 4h0m1-16h0m0 13h0m1 2h0m0-11h0m1 4h0m1 7h0m0-16h0m2 13h0m3 4h0m0-11h0m3 8h0m0-10h0m1 15h0m2 2h0m0-14h0m0 7h0m1 3h0m1-14h0m0 9h0m1-3h0m2 2h0m1 10h0m2-16h0m0 4h0m1 4h0m0 8h0m2-16h0m2 7h0m2 1h0m0-15h0m0 7h0m3 9h0m1-3h0m4-9h0m2 15h0m0-14h0m2 3h0m1-3h0m0-2h0m1 6h0m3 8h0m1 5h0m0-3h0m1-10h0m4-1h0m0 4h0m5-2h0m2-2h0m1 15h0m1-2h0m1-8h0m1 6h0m2-1h0m0 3h0m1-19h0m2 5h0m5 9h0m2-13h0m0 9h0m3-1h0m1-5h0m1-4h0m1 14h0m2 2h0m1-14h0m2 7h0m2 12h0m3 0h0m1-14h0m1 10h0m1-12h0m1-3h0m1 2h0m1 9h0m1-13h0m1 4h0m1 10h0m1-6h0m1 3h0m1 4h0m0-14h0m2 7h0m1 7h0m1-2h0m1-3h0m1-7h0m1 13h0m2-8h0m1-9h0m3 11h0m0-5h0m2 3h0m0 6h0m1-8h0m0-5h0m1 10h0m1 8h0m3 0h0m1-15h0m3 6h0m0 11h0m1-3h0m3-1h0m1-8h0m3-10h0m1 17h0m1 5h0m1-19h0m2 6h0m1-7h0m4 17h0m1-19h0m1 20h0m1 2h0m1-22h0m0 2h0m6-3h0m0 22h0m1-13h0m1 7h0m1-7h0m3 13h0m0-6h0m1-7h0m1-8h0m0 17h0m1-6h0m12 2h0m3 5h0m5-17h0m3 13h0m0-10h0m0-5h0m1 13h0m3-2h0m1-7h0m0 9h0m8-4h0m3-7h0m2 9h0m2-5h0m2 7h0m3 6h0m0-10h0m7 9h0m3-5h0m2-11h0m3 8h0m3 12h0m11-3h0m19 21h0m-3 7h0m-3-13h0m-7 5h0m-1-7h0m-8 10h0m-1 3h0m-3-18h0m-5-3h0m-1 20h0m0-5h0m-8 1h0m-6-13h0m-3 16h0m-1-5h0m-9 1h0m-1-8h0m-2 9h0m-3 0h0m0-3h0m0-10h0m-1 6h0m-3 4h0m-2-7h0m-1 7h0m0 8h0m-3-20h0m-2 10h0m-3 2h0m-2 3h0m0-6h0m-4-2h0m-1 7h0m0-3h0m-3 11h0m0-19h0m-2 15h0m-1-14h0m0 5h0m-2 4h0m-2-3h0m-2 2h0m0-10h0m-3 15h0m0-4h0m-1-3h0m-2-6h0m-1 10h0m-1-4h0m-2-2h0m-1 5h0m0-11h0m-2 13h0m-1-15h0m-4 22h0m0-15h0m-2 2h0m-1 8h0m-3 0h0m-3-9h0m0 8h0m0-5h0m-1 7h0m0-14h0m-3 7h0m-2 5h0m-2-14h0m0 8h0m0-5h0m-3 11h0m0-14h0m-3-3h0m-1 14h0m-2-2h0m-1-10h0m-7 2h0m-3 13h0m-3-16h0m-1 12h0m0 3h0m0-10h0m-1 14h0m-1-20h0m-2 4h0m-2 4h0m0-5h0m-2 20h0m-4-22h0m-2 21h0m-6 0h0m-2-7h0m0-12h0m-4 10h0m-1 10h0m-1-2h0m0-14h0m-1 3h0m-4 13h0m0-11h0m0 4h0m-3-6h0m-1-3h0m0-2h0m-1 9h0m-2-1h0m-1 4h0m-4-15h0m-2-2h0m0 11h0m-2 12h0m-2-20h0m-1 15h0m-3-10h0m-3 11h0m-4-18h0m-2 10h0m0-7h0m-2 6h0m-2 5h0m-6-9h0m-3-5h0m0 10h0m-2-5h0m-3 12h0m-1-6h0m0-7h0m-1 17h0m-1-21h0m0 11h0m-1-9h0m-3 1h0m-2 4h0m0-5h0m-1 13h0m0 4h0m-3-15h0m-3-2h0m0 18h0m-3-8h0m-1-11h0m-1 17h0m-2-5h0m-2 4h0m0 4h0m-2-6h0m0-5h0m-1-8h0m-1 19h0m-2-2h0m-3-20h0m-1 2h0m-3 11h0m0 9h0m-1-18h0m-1 13h0m-6-2h0m-1-2h0m-1 9h0m-1-12h0m0 8h0m-3-10h0m0 8h0m0-14h0m-4 6h0m0-2h0m-8-2h0m-1-2h0m-7 11h0m0-6h0m-7 11h0m-1-6h0m5 33h0m15-18h0m1-1h0m2 2h0m8 1h0m10 10h0m4 2h0m1-9h0m2-4h0m4 3h0m1 15h0m4-13h0m2 9h0m2-9h0m6-4h0m1 16h0m0-8h0m3 2h0m5-6h0m1-8h0m2 17h0m1-15h0m1 8h0m8 7h0m0 3h0m3-4h0m18 2h0m4-17h0m0 2h0m3 16h0m3-19h0m4 12h0m0 8h0m0-15h0m7 1h0m4 2h0m1-6h0m3-3h0m4 0h0m1 6h0m6-6h0m7 10h0m0 6h0m3 6h0m2-14h0m1 6h0m3-8h0m3 1h0m3 9h0m3 6h0m2-11h0m1-6h0m1 6h0m1-9h0m1 4h0m2 3h0m1-9h0m0 6h0m6-2h0m1 8h0m1 6h0m7-8h0m5 4h0m2-12h0m4 6h0m3 5h0m3 9h0m1-20h0m1 4h0m0 16h0m2-14h0m2-6h0m1 8h0m3-10h0m1 19h0m2-3h0m2-11h0m0 9h0m4-4h0m1 7h0m1-15h0m0 4h0m1 14h0m1-12h0m1 11h0m1 4h0m2-22h0m2 22h0m2-8h0m1-14h0m1 5h0m1 6h0m0 4h0m2 5h0m1-5h0m0-12h0m4 3h0m4-7h0m1 4h0m3 16h0m0-19h0m1 5h0m0 11h0m1-3h0m3 0h0m0-3h0m2 1h0m1 10h0m3-15h0m0-2h0m1 11h0m3-5h0m2-8h0m3 1h0m1 4h0m2 14h0m2-6h0m6 4h0m1-13h0m3 16h0m1-3h0m5-7h0m13-10h0m12 10h0m33 17h0m-20 13h0m-2-7h0m0-11h0m-6 10h0m-7 9h0m-2-19h0m-13 8h0m-1-6h0m-1 18h0m-6-12h0m-4-2h0m-2 10h0m-1-16h0m-1 10h0m-4-11h0m-4 10h0m-5-4h0m-1 12h0m0-10h0m0 13h0m-5 1h0m-1-13h0m-5 8h0m0-10h0m-2 5h0m-2 4h0m-2-1h0m-3 7h0m0-5h0m-5-13h0m-1-3h0m-1 21h0m-3-13h0m-4-8h0m-3 18h0m-4-18h0m-3 20h0m-1-18h0m-2 3h0m0 4h0m-3 3h0m-3 4h0m-3-9h0m-1-6h0m-2 20h0m0-7h0m-2 6h0m-2-16h0m-5-4h0m-3 18h0m0-19h0m-3 7h0m-3 6h0m-1-13h0m-1 20h0m-7-13h0m-1-3h0m-1-2h0m-15 6h0m-4-5h0m-2-2h0m-1 10h0m-6-11h0m-10 8h0m-7-4h0m-4 0h0m-1-3h0m-6 12h0m-1-4h0m-4 1h0m-2 5h0m-9-12h0m-1 4h0m-2-1h0m-14 7h0m-16-6h0m-13-5h0m-6 7h0m-29 7h0m103 14h0m36-2h0m11 7h0m16-8h0m2 17h0m22-14h0m1 6h0m7-3h0m3-4h0m1-2h0m5 9h0m5-8h0m1 15h0m0-3h0m9 1h0m0-11h0m1-2h0m6 13h0m6-16h0m0 4h0m4 4h0m2 12h0m1-14h0m1-6h0m2 9h0m5 2h0m0 4h0m0 4h0m3-15h0m4 12h0m1-14h0m0-3h0m5 17h0m0 3h0m2-7h0m1 3h0m6-12h0m1 18h0m2-3h0m3-16h0m1 12h0m3 4h0m16-3h0m11-11h0m4 10h0m14 17h0m-26 8h0m0 6h0m-4-19h0m-13 18h0m-1-19h0m-10 13h0m-6-14h0m-3 3h0m-4 19h0m-8-14h0m-1 5h0m-9 7h0m-1-17h0m-31 6h0m-28-2h0m41 31h0m9-2h0m17 2h0m9 4h0m14-9h0m0 3h0m2 10h0m11-21h0m1 4h0m3-4h0m2 20h0m9 0h0m17 15h0m-23 10h0" stroke="#645e8c" stroke-width="6" stroke-linecap="round" fill="none" transform="scale(.5)"/>
<path d="M485 429h0m-17 2h0m-7-2h0m-20 2h0m-20-12h0m-15 8h0m-40 19h0m14-1h0m5 1h0m3 6h0m10-16h0m3-3h0m8-1h0m6 0h0m2 23h0m3-18h0m3-3h0m17 9h0m6-7h0m1 19h0m2-3h0m2 1h0m3-4h0m1-4h0m3-1h0m7-12h0m6 22h0m3-20h0m1 15h0m7-9h0m6 3h0m3 6h0m5-6h0m8-2h0m1-7h0m7 18h0m39-5h0m8 1h0m0 2h0m10-6h0m1 4h0m22 3h0m1-7h0m69 25h0m0-8h0m-4-5h0m-9 8h0m-1 15h0m-6-9h0m-3 8h0m0-4h0m-3-10h0m-4 2h0m-4-9h0m-3 9h0m-1 13h0m-4-2h0m-3-9h0m-6 11h0m-2-18h0m0 11h0m-7-11h0m-2 9h0m-13 5h0m-4 3h0m-10-3h0m-5-1h0m-6-3h0m-6-15h0m0 22h0m-4-11h0m-5 11h0m-1-6h0m-7-6h0m-1 6h0m-1-5h0m-2-3h0m-3 7h0m-1-10h0m-2 17h0m-4-2h0m-5-2h0m-1 4h0m-3-16h0m-1 6h0m-4 1h0m-5-3h0m-2 6h0m-1-5h0m-3-1h0m-1 7h0m0-4h0m-5-13h0m-3 18h0m-1-16h0m-5 6h0m-5 0h0m-1-4h0m-1 18h0m-1-15h0m-2-1h0m-3 14h0m-1-5h0m-2 3h0m0-18h0m-1 8h0m-3 13h0m-1-17h0m-8 10h0m-2-13h0m-1 5h0m-4 11h0m-2-1h0m-1-7h0m-3-3h0m-4 14h0m0-17h0m-3-2h0m-2 16h0m-2 4h0m-4-10h0m-4 0h0m-1 8h0m-1-11h0m-7 14h0m-2-16h0m-6-1h0m-2-3h0m0 12h0m-8-11h0m-1 11h0m-31-5h0m-2 7h0m-1 12h0m38 9h0m4-2h0m1 4h0m3-14h0m1 14h0m1 3h0m2-7h0m3-10h0m4 18h0m0 2h0m0 2h0m2-12h0m1 5h0m8-12h0m4 1h0m1 4h0m5-2h0m1 15h0m5-14h0m2-4h0m13 9h0m0-7h0m2-5h0m4 21h0m10-16h0m5 3h0m8 9h0m0-18h0m1 13h0m3 5h0m1 4h0m1-8h0m3 2h0m0-3h0m5-12h0m2 12h0m1-9h0m4 11h0m3 8h0m3-6h0m4-14h0m4 8h0m5 9h0m9-2h0m1-15h0m3 0h0m5-3h0m5 11h0m2-5h0m1 11h0m1-14h0m2 12h0m1-7h0m0-7h0m0 3h0m11 17h0m18-1h0m11-6h0m10 9h0m2-12h0m9 0h0m6 12h0m16-2h0m8-9h0m1-12h0m9 21h0m21-21h0m1 23h0m0-9h0m17-2h0m1-3h0m-22 29h0m-26-7h0m-29-7h0m-6 16h0m-6 4h0m-23 0h0m-2-17h0m0 3h0m-1 17h0m-1-5h0m-2-7h0m0 8h0m-5-17h0m-3 2h0m-5 8h0m-2 8h0m-5-13h0m-2 2h0m-1-9h0m-3 22h0m-1-5h0m-3 1h0m-2 5h0m-2-18h0m-3 2h0m0 9h0m-1 5h0m0-11h0m-2-3h0m-2 3h0m-2 8h0m-9 1h0m-1-18h0m-1 20h0m0-17h0m-3 0h0m-1 13h0m0 6h0m-3-23h0m-1 20h0m-1-18h0m-1 7h0m-4 13h0m-4-13h0m-1 9h0m0 3h0m-1-7h0m-5 3h0m-2-8h0m-3 2h0m-3 11h0m-6-13h0m-1-2h0m-5 0h0m-1 11h0m-3 2h0m0-4h0m-3-9h0m-1-2h0m-1 8h0m-1-13h0m-1 19h0m-1-14h0m-2 2h0m-2-6h0m-5 4h0m-1 8h0m-5 2h0m-2-7h0m-9 14h0m-2-3h0m-3-2h0m-1 5h0m-1-11h0m-5-9h0m-5 0h0m-1 4h0m-1 11h0m-1-7h0m-1-7h0m-2 5h0m-3 2h0m-6 1h0m-11 4h0m-3-8h0m-8 0h0m-2-2h0m0 14h0m-2-19h0m-15 3h0m-2 12h0m-4-9h0m-1-2h0m-6 11h0m-4 26h0m2-17h0m6 16h0m4 3h0m0-10h0m4 14h0m5-7h0m1-4h0m2 8h0m0-6h0m4-1h0m4-12h0m4 7h0m3 7h0m5-1h0m5-1h0m4-9h0m0 15h0m5-2h0m2-4h0m7-12h0m5 1h0m2 7h0m0 14h0m1-17h0m3 7h0m0 5h0m4-18h0m2 15h0m2-15h0m4 11h0m2 7h0m1 5h0m3-22h0m6 14h0m5-7h0m3 15h0m4-20h0m1-2h0m0 16h0m2-6h0m0-4h0m1 7h0m1-11h0m2 13h0m5-1h0m2 3h0m2-4h0m2-3h0m2 9h0m3-6h0m5 3h0m1 3h0m6-3h0m5-1h0m2-8h0m2 3h0m7-8h0m2-3h0m1 17h0m2-9h0m4 9h0m2-9h0m1-6h0m1 14h0m1-11h0m1 14h0m2-18h0m1 16h0m1-7h0m2 11h0m4 1h0m1-5h0m0-6h0m1-3h0m4 13h0m1-20h0m1 12h0m5-4h0m4-8h0m3 12h0m2-5h0m0 14h0m1-17h0m3 2h0m0-7h0m6 23h0m0-22h0m5 9h0m0 13h0m3-14h0m1 7h0m3-14h0m11 9h0m8-3h0m8 9h0m2-2h0m0-7h0m10-5h0m3-3h0m24 21h0m7-15h0m11 8h0m3 1h0m13-9h0m10 13h0m17-11h0m21 8h0m-35 21h0m-8-3h0m-22 8h0m-2-2h0m-3-2h0m-4 5h0m-1-8h0m-1 2h0m-2-2h0m-1 4h0m-4-14h0m-1 14h0m-1-12h0m-3 7h0m0-7h0m-4-1h0m-6 10h0m-7-12h0m-4 14h0m-1 5h0m-5-4h0m-5-8h0m-2-1h0m-1 7h0m-3-7h0m0-6h0m-4 11h0m-1 7h0m-3-4h0m-5-1h0m-3-4h0m-2 11h0m-1-18h0m-7 17h0m-3-9h0m0-7h0m-3 16h0m-2-2h0m-1-13h0m-1 5h0m-3-3h0m-1 17h0m0-11h0m-4 8h0m-1 2h0m-3-2h0m-1-11h0m0 13h0m-1-6h0m-2-16h0m-7 14h0m-1 5h0m-3-10h0m-2-3h0m-1 7h0m0-4h0m-6 4h0m-1 9h0m-2-18h0m-2 7h0m-8-3h0m-1 12h0m-2-12h0m-11-7h0m-4 7h0m0-7h0m-1 19h0m-2-2h0m-3-7h0m-1 12h0m-6-1h0m-1-18h0m0 12h0m-10-16h0m-1 18h0m-2-4h0m-1-8h0m0-5h0m0 16h0m-5-9h0m-6 2h0m-1 13h0m-1-17h0m0 14h0m-2-16h0m-1 18h0m0-10h0m-9-4h0m-2 14h0m-3-4h0m-3-12h0m-3 5h0m0-7h0m-3-3h0m-3 6h0m-7 11h0m-3-12h0m-2 15h0m-3-17h0m-1 17h0m0-6h0m-2-4h0m-4 12h0m-3-5h0m-2-17h0m0 4h0m-3 0h0m-1 4h0m-6 5h0m-1-11h0m-2 6h0m-4-4h0m-5 16h0m0-7h0m-1-6h0m-7 13h0m0-20h0m-13 2h0m-6 1h0m0 14h0m-1 5h0m-4-13h0m-3 11h0m-13 7h0m21 2h0m6 5h0m3-9h0m2 2h0m6-1h0m18 0h0m4 11h0m5 0h0m3 0h0m4-14h0m1 3h0m2 9h0m5-8h0m1 17h0m4-16h0m3 0h0m0 5h0m3 3h0m0-6h0m3 1h0m2 11h0m2-6h0m1-9h0m5 15h0m1-13h0m3 5h0m3 5h0m3 4h0m0-5h0m3-7h0m0-5h0m2 19h0m0-9h0m0 4h0m2-1h0m1-13h0m3 16h0m0-4h0m3 4h0m1-17h0m1 21h0m0-16h0m1 4h0m3-7h0m1 19h0m2-10h0m4-13h0m1 5h0m0-3h0m3 5h0m1 10h0m12-6h0m2 5h0m2 5h0m1-15h0m2 2h0m1 7h0m3 2h0m5-5h0m3 6h0m1-10h0m2-5h0m1 1h0m8 7h0m1-7h0m1 10h0m3-1h0m0 3h0m3-15h0m1 17h0m4-2h0m2-12h0m2-3h0m2 15h0m1-5h0m5 5h0m4-6h0m3-5h0m1-5h0m0 22h0m1-17h0m1-3h0m3 21h0m6-9h0m2-4h0m11 7h0m1-12h0m1 17h0m6-19h0m4 16h0m1 3h0m4-5h0m1 5h0m2-5h0m1-17h0m0 21h0m3-13h0m5-4h0m4 2h0m3-5h0m0 16h0m3-12h0m3 1h0m2-4h0m4 15h0m2 2h0m4-4h0m5 2h0m1-13h0m2 16h0m2-20h0m3 9h0m2-8h0m3 6h0m2 10h0m1-16h0m1 20h0m5 0h0m38-5h0m20 7h0m1 2h0m-31 10h0m-27-4h0m-2-7h0m-1 7h0m-7-5h0m-8 21h0m-3-6h0m-1-17h0m0 14h0m-6-1h0m-1-11h0m-3 18h0m0-19h0m-3 3h0m-4 6h0m-4 9h0m-10 1h0m-2-15h0m-1 4h0m-3-1h0m-5 12h0m-2-4h0m-12-8h0m-1-6h0m-5 19h0m-6-19h0m-1 16h0m-3-14h0m-4-2h0m-5 8h0m0 13h0m-2-2h0m-5-3h0m-2-15h0m-2-3h0m-1 9h0m-1 6h0m-3 0h0m-5-12h0m0 15h0m0-10h0m-4 14h0m-2-13h0m-3-6h0m-1 20h0m-1-5h0m-1-10h0m-4-3h0m-1 9h0m-2 1h0m-7-14h0m0 9h0m-1-5h0m0 18h0m-6-20h0m-2 15h0m-2-15h0m-3 3h0m-1 7h0m-2-7h0m-1 5h0m-1 11h0m-1-10h0m-1 8h0m-1-14h0m-3 8h0m-1-4h0m-6-7h0m-1-2h0m-4 1h0m0 7h0m-3 3h0m0-11h0m-1 15h0m0-10h0m-2 11h0m-6-3h0m-1-9h0m-1 2h0m0 6h0m-2-9h0m-3-4h0m0 14h0m-4-14h0m0 5h0m0 4h0m-1 10h0m-1 3h0m0-7h0m-2-10h0m-1 14h0m-1-2h0m-2-16h0m0 11h0m-2 0h0m0 11h0m-2-19h0m-1 10h0m-3 4h0m-1-15h0m-1 16h0m-2-8h0m-3 8h0m-1-7h0m-3-12h0m-3 0h0m-2 2h0m-3 3h0m-2 12h0m-1 6h0m-5-14h0m-1-8h0m-3 18h0m-4-8h0m-14-2h0m-5 0h0m-2 14h0m-1-12h0m-10 7h0m-5-1h0m-1 4h0m-4 0h0m-12-8h0m-1-6h0m-2 2h0m-8 8h0m-5-14h0m-3-3h0m-1 14h0m-27 25h0m1 7h0m17-1h0m1-13h0m2 2h0m0 13h0m3-10h0m0-9h0m6 9h0m9-1h0m4 10h0m9-16h0m2 9h0m1-14h0m4 11h0m7-8h0m2 14h0m3 4h0m1-6h0m5 0h0m3 7h0m1-14h0m3-5h0m5 1h0m3 11h0m2-4h0m1 7h0m2 0h0m4-9h0m2-2h0m0-8h0m12 23h0m5-1h0m4-20h0m2 15h0m4-16h0m1 19h0m4-13h0m1 16h0m4-3h0m5-11h0m2 8h0m10 1h0m3-8h0m1-3h0m1 14h0m2-3h0m1-18h0m1 17h0m0-5h0m3-8h0m1 9h0m1-4h0m0-8h0m0 5h0m0 9h0m1 3h0m2-1h0m2-6h0m0 9h0m1-12h0m6-2h0m2-6h0m1 15h0m2-13h0m2-1h0m5 1h0m1 14h0m1-5h0m3 9h0m2 3h0m4-16h0m1-3h0m3 1h0m3-4h0m5 5h0m0 12h0m3 5h0m4-4h0m9-14h0m0 4h0m2 8h0m4-8h0m4 0h0m4-2h0m3 11h0m1-4h0m1-5h0m1-8h0m2 2h0m2 9h0m8 0h0m0-11h0m5 8h0m3-8h0m0 16h0m0-10h0m2 16h0m4-20h0m4 10h0m3 1h0m6 1h0m3 7h0m2-22h0m2 22h0m2-17h0m7 15h0m9 0h0m4-10h0m7-3h0m3 6h0m2-3h0m2 7h0m1 4h0m23-12h0m2 14h0m11-3h0m7-12h0m5 4h0m11-8h0m43 2h0m45 33h0m-40-1h0m-38 0h0m-1-9h0m-17 18h0m-10-2h0m-4-14h0m-10-6h0m-2 12h0m-5 4h0m-10-16h0m-2 8h0m-11-1h0m-6 2h0m-4 9h0m-1 3h0m-8-14h0m-2 7h0m-6-6h0m-17-3h0m-2 2h0m0-5h0m-4 11h0m-4-3h0m-1-7h0m-9 19h0m-3-23h0m0 21h0m-1-13h0m-4 1h0m-6 10h0m-2-10h0m-3 6h0m-2-4h0m-1-2h0m-11 0h0m-4-2h0m-2 4h0m-3-6h0m-1 6h0m-6-5h0m0-4h0m-6 2h0m-1-3h0m-7 4h0m-1 9h0m-1-4h0m-2-9h0m-3 20h0m0-10h0m-1-6h0m-2-4h0m-3 11h0m-5 2h0m-2 7h0m0-7h0m-1-3h0m-3 10h0m-2 0h0m-1-16h0m-3-5h0m-5 10h0m-3 9h0m-3-13h0m-2-2h0m-2-3h0m0 5h0m-5 6h0m0-10h0m-3 11h0m-6 4h0m-4-12h0m-1 18h0m-1-3h0m0-7h0m-1-9h0m-2 0h0m-1 4h0m0 13h0m-5-19h0m-3 12h0m-1-3h0m-3 6h0m-2-12h0m-1 7h0m-3 5h0m0 2h0m-2-10h0m-1 6h0m0 7h0m-2-16h0m-5-5h0m0 13h0m0-8h0m-3 8h0m0-8h0m-2-3h0m-2 3h0m-3-4h0m-1 9h0m-3 10h0m-1-14h0m-1-7h0m0 5h0m-4 3h0m-1-7h0m-6 0h0m-2 2h0m-1 9h0m-1-9h0m-5 18h0m-4-6h0m0-6h0m-4 1h0m-2 7h0m-5-15h0m-1 6h0m-24 10h0m-7 3h0m-9-21h0m-3 11h0m-1 3h0m-8-12h0m-1 12h0m-3 0h0m-2-3h0m-1-7h0m-2 18h0m0-5h0m-4-4h0m-5 32h0m1-5h0m0-7h0m4 14h0m0-6h0m11-13h0m5 17h0m9-15h0m3-3h0m2 13h0m1-12h0m0 10h0m2 5h0m4-17h0m9 14h0m1-9h0m7 5h0m5 3h0m0 7h0m4-8h0m4-13h0m2 14h0m3 2h0m4-12h0m7-4h0m2 3h0m0 15h0m5-7h0m2 2h0m2 5h0m0-10h0m2-5h0m2 15h0m0-9h0m3-10h0m0 14h0m1 3h0m1-14h0m4-1h0m5 13h0m1-11h0m1 7h0m3 4h0m2 7h0m2-3h0m3-1h0m4-7h0m2-1h0m1 7h0m2 5h0m3-11h0m4-9h0m1 17h0m1-4h0m2-14h0m1 5h0m12 6h0m4-5h0m2 8h0m0-5h0m4 10h0m5-8h0m7 8h0m0 3h0m2 0h0m0-18h0m1 3h0m3 4h0m1-2h0m0-4h0m5-3h0m3 18h0m6-21h0m3 23h0m21-9h0m0-14h0m2 6h0m0 16h0m4-9h0m4 0h0m3 6h0m3-6h0m3-2h0m1-4h0m10 5h0m4-10h0m2 13h0m16-8h0m9 0h0m3 10h0m2-16h0m5 7h0m5 7h0m1-12h0m19 10h0m0-9h0m5 19h0m2-21h0m5 5h0m33 11h0m34-2h0m14-1h0m11-3h0m29 3h0m-24 30h0m-44-2h0m-16 0h0m-14-8h0m-15-11h0m-1 6h0m-3 0h0m-29 7h0m0-4h0m-5-6h0m-4 15h0m-3-1h0m-2-2h0m-3 6h0m-10-21h0m-21 9h0m0 13h0m-7 0h0m-1-6h0m-7-12h0m-5 13h0m-8 4h0m-6-4h0m-1 3h0m-7-12h0m-2 2h0m-2 10h0m-7 1h0m-2-10h0m-1-5h0m-3-1h0m-5 3h0m-1 13h0m-2-14h0m-3 0h0m-5 10h0m-2-8h0m-4 4h0m-1 5h0m-1-16h0m0 6h0m-2 1h0m-5 6h0m-1-7h0m-1 10h0m-1-6h0m-2 9h0m-5-17h0m-2-2h0m0 14h0m-1 2h0m-1-18h0m-6 1h0m-3 14h0m0-7h0m-1-3h0m-2 14h0m0-8h0m-1 12h0m-3-16h0m-3 0h0m0 13h0m-2-8h0m-2 3h0m0 7h0m-2-18h0m-3 11h0m-3-11h0m-1 14h0m-3-12h0m0 7h0m-3 3h0m-1-8h0m0-8h0m0 6h0m-3 7h0m0-10h0m-8 18h0m0 2h0m0-23h0m-8 3h0m-3 20h0m-1-23h0m-1 9h0m-2 2h0m-1 10h0m-1-17h0m0 12h0m-2-4h0m0 3h0m-8-9h0m0 15h0m-4-8h0m-1 9h0m-7-7h0m-2 2h0m-3 3h0m-4-4h0m-9-1h0m-2-11h0m-3 15h0m-3-5h0m-8 2h0m-6-3h0m-3 8h0m-4-8h0m-7-2h0m-10 12h0m-17 2h0m4-1h0m18 4h0m5-1h0m7 13h0m1-12h0m1 5h0m0 14h0m0-21h0m7 2h0m0 11h0m2 8h0m0-6h0m2-11h0m2-3h0m8 6h0m4-2h0m1 16h0m8-14h0m6-1h0m2 6h0m10 9h0m4-11h0m1-2h0m3 11h0m1-11h0m1-9h0m1 10h0m2 9h0m4-20h0m3 15h0m2-5h0m2-2h0m1 12h0m1-15h0m1 11h0m2-14h0m1 20h0m3-19h0m5 0h0m3 18h0m4-5h0m3-8h0m1 8h0m2 0h0m2-15h0m1 11h0m3-7h0m1 18h0m5-10h0m1-11h0m5 18h0m1-2h0m6-14h0m1 15h0m1-7h0m2 7h0m4 4h0m1-8h0m1 7h0m3-12h0m2 8h0m2 1h0m1-15h0m0 17h0m1-10h0m2-1h0m0-10h0m0 13h0m7 5h0m1-7h0m0 11h0m3-20h0m2 6h0m1 12h0m0-19h0m5 17h0m0-8h0m1 12h0m0-17h0m4-5h0m3 8h0m19 8h0m6-6h0m0 13h0m1-5h0m4-9h0m1 8h0m1-3h0m0-6h0m1-6h0m5 2h0m1 16h0m0-8h0m1-4h0m4 5h0m2 10h0m1-5h0m2 3h0m4 2h0m9-21h0m34 4h0m15 12h0m2-17h0m1 18h0m3-8h0m3-1h0m7-9h0m3 0h0m0 22h0m2-15h0m7 2h0m7 4h0m4 13h0m0 11h0m-6-13h0m-11 15h0m-2-2h0m-1 3h0m-1 6h0m-4-1h0m-2-4h0m-5-4h0m0 9h0m-1-5h0m-1-9h0m-3-5h0m-10 16h0m-3 1h0m-3-1h0m-35-1h0m-8-14h0m-3 14h0m-11-6h0m-4-1h0m-2 5h0m-4-6h0m-1 8h0m-7 3h0m-2-2h0m-6-7h0m-2-4h0m-2 13h0m-3-3h0m-1-9h0m-4-5h0m-2 17h0m-1-10h0m-2-3h0m-1-8h0m-1 22h0m-4-13h0m-5-3h0m-1-4h0m-1 20h0m-2-16h0m-2-2h0m-1 8h0m-2 6h0m-1-2h0m-8-11h0m-2-6h0m0 11h0m-1-3h0m-6 10h0m-5-11h0m-1 14h0m-1-18h0m-2 7h0m-1 13h0m-1-14h0m-7 14h0m-1-7h0m0 4h0m-1-14h0m-3-2h0m-3 17h0m-1-21h0m0 8h0m-3 12h0m-3-10h0m-2-7h0m-4 2h0m0 6h0m-2 7h0m-3 5h0m0-3h0m-2-10h0m-2 3h0m-2 2h0m-1 5h0m-4 3h0m0-16h0m-5 15h0m-6-11h0m-1 8h0m-1-9h0m-1 5h0m-3 2h0m-3 5h0m-3-13h0m-1 8h0m-3-7h0m-3 10h0m-2-6h0m0-6h0m-2 12h0m0-9h0m-4-8h0m-14 7h0m-6 0h0m-2-4h0m-2 3h0m-1-5h0m-15-1h0m-10 2h0m-4 13h0m-6-14h0m-1 14h0m-10-14h0m-5 16h0m-1-20h0m-1 21h0m-3 1h0m3 17h0m9-9h0m2 12h0m3-15h0m4 13h0m0-9h0m15 15h0m3 1h0m20-16h0m0 8h0m3 7h0m3-8h0m4 4h0m1-10h0m0-7h0m1 4h0m5 15h0m1-20h0m3 8h0m1 12h0m0-7h0m1 4h0m3-15h0m1 12h0m1 5h0m2-14h0m1 3h0m2 4h0m0-12h0m3 0h0m9 21h0m1-15h0m4 10h0m2 2h0m0-6h0m2 2h0m3-13h0m3 15h0m3-11h0m2 6h0m3 7h0m2-8h0m1 5h0m3-1h0m7 3h0m0 4h0m2-13h0m1 11h0m1-14h0m6 13h0m0-16h0m2 14h0m1 6h0m5-4h0m2-10h0m0 11h0m6-19h0m1 22h0m5-1h0m0-10h0m3 4h0m1 8h0m7-4h0m1-9h0m2-9h0m1 18h0m3 2h0m5-12h0m3 13h0m0-10h0m0 6h0m1-7h0m2-4h0m8 15h0m3-16h0m11 13h0m6-15h0m7-4h0m7 20h0m1-8h0m0-7h0m6 9h0m8 2h0m1-9h0m4 1h0m0-5h0m3 10h0m0-11h0m5 11h0m2 3h0m1-14h0m1 15h0m7-12h0m2-1h0m3 16h0m2-14h0m10 4h0m10 11h0m3 1h0m4-1h0m3-14h0m1 9h0m11-2h0m5 4h0m13 5h0m3-17h0m2 8h0m4-3h0m27 6h0m33-12h0m10 10h0m30 32h0m-9-23h0m-8 2h0m-68 8h0m-30 1h0m0-8h0m-7 16h0m-9-11h0m-1 6h0m-2-2h0m-6-6h0m-5 9h0m-3-5h0m-3-9h0m-15 8h0m-6 14h0m-9-2h0m-2 2h0m0-22h0m-4 3h0m-3 5h0m0-7h0m-10-2h0m-10 4h0m-11 3h0m-2 5h0m-4-10h0m0 17h0m-24-2h0m-3-5h0m-1-7h0m-6 13h0m-1-17h0m-2 2h0m-4 19h0m-4-11h0m-3 7h0m-3-1h0m-4-5h0m-14 8h0m-1-14h0m-6 11h0m-2 2h0m-2-11h0m-4-5h0m-4 12h0m-3 6h0m-7-10h0m-2-5h0m-3 7h0m-3-1h0m-1-11h0m-1 2h0m0 7h0m-2 1h0m-1 2h0m-3-1h0m-1 2h0m-1 9h0m-4 0h0m-3-19h0m0 17h0m-7-15h0m-3 3h0m0 6h0m-6-4h0m-3-9h0m0 9h0m-4-1h0m0 13h0m0-6h0m-1-12h0m-2 7h0m-1-7h0m-8 16h0m-1-10h0m-1-7h0m-1 8h0m-1 8h0m-2-8h0m-4 10h0m0-19h0m-2 14h0m-4 4h0m0-6h0m-4-14h0m-6 9h0m-2 10h0m0 3h0m-3-13h0m-3 2h0m-4-8h0m-11 14h0m-7-8h0m-9-2h0m-1-6h0m-2-2h0m10 34h0m4 6h0m2-7h0m0-3h0m4 0h0m2-5h0m5 3h0m4-4h0m0 3h0m5-2h0m2 13h0m12-6h0m10 6h0m5-14h0m1 9h0m0-5h0m2 12h0m2-16h0m1 7h0m2 2h0m6 3h0m2 4h0m2 5h0m1-18h0m2 6h0m1 9h0m4-4h0m1-7h0m2 6h0m3-13h0m3 4h0m1 2h0m1 16h0m1-4h0m7 3h0m0-6h0m1-4h0m2-1h0m4 8h0m2-9h0m0 11h0m1-5h0m3 1h0m1-2h0m0 5h0m1 3h0m1-20h0m4 20h0m0-21h0m3 1h0m1 9h0m3 11h0m2-11h0m1 8h0m5-9h0m5 8h0m3-8h0m4 3h0m0-5h0m4-8h0m2 22h0m0-10h0m4 3h0m3-9h0m3 16h0m4-1h0m1-15h0m1 7h0m1-11h0m5 13h0m3-1h0m2 6h0m2-15h0m1 9h0m2-13h0m2 21h0m2-7h0m1 3h0m13 4h0m1-10h0m1 2h0m5-7h0m1 4h0m2 0h0m7-10h0m2 7h0m4 15h0m9-15h0m17 3h0m5 4h0m2-13h0m6 6h0m10-1h0m0 6h0m1-11h0m1 6h0m11 8h0m7-13h0m2-3h0m2 23h0m7-4h0m4 2h0m6-10h0m55-11h0m10 9h0m31 2h0m7-7h0m172 11h0m0 15h0m-4 7h0m-1-4h0m-2-4h0m-7 4h0m-5-2h0m-7 10h0m-26 3h0m-9 0h0m-192-7h0m-34-10h0m-10 8h0m-1-9h0m-10 4h0m-17 8h0m0 4h0m-11-8h0m-6-7h0m-1 8h0m-18-9h0m-1 9h0m-4-3h0m0 15h0m-4-11h0m-3 3h0m-2-8h0m-6 10h0m-18-16h0m-9 18h0m0 2h0m-2-14h0m-2-3h0m0-3h0m-2 18h0m-3-3h0m-5-14h0m-3 20h0m-4-18h0m0 11h0m-3-5h0m-1 12h0m-2-8h0m-5 6h0m-2-13h0m-1 9h0m-3-16h0m-1 9h0m-1 5h0m-1 4h0m-3 3h0m0-18h0m-3 8h0m-1 6h0m-6 0h0m-1 5h0m-1-14h0m0 6h0m-1-9h0m-2-1h0m-1 2h0m-2-3h0m-1 10h0m-1-12h0m-3 3h0m-2 10h0m-2-5h0m-10-1h0m-2 14h0m0-10h0m-3 0h0m-5 11h0m-4-20h0m-8 10h0m-3-13h0m-1 11h0m0-7h0m-3-2h0m-1 12h0m-1-5h0m-1 2h0m-3-6h0m-2 12h0m-4 4h0m-1-13h0m-4 3h0m-1-3h0m-8-4h0m-4 3h0m-4-3h0m-1 19h0m-7-3h0m-2-6h0m-1-13h0m-3 14h0m-2 8h0m-10-6h0m-4-1h0m-1 2h0m-2-12h0m0-6h0m0 23h0m7 12h0m0-8h0m7 19h0m1-12h0m1-4h0m2 11h0m4 6h0m1-3h0m5-16h0m1 8h0m1 9h0m2-10h0m5-6h0m1 17h0m8-11h0m1-9h0m2 15h0m0-7h0m0 13h0m11-10h0m1-9h0m1 17h0m1-14h0m1 5h0m1-7h0m6-5h0m1 6h0m0 9h0m2-3h0m10-8h0m1 12h0m3 0h0m4 0h0m3-3h0m5 0h0m3 8h0m0-8h0m3 1h0m0-10h0m6 7h0m1-3h0m0 14h0m2-4h0m5 3h0m2-11h0m0 6h0m1-14h0m0 12h0m3 0h0m1-10h0m0 3h0m0 2h0m7-3h0m3 15h0m2-16h0m1 7h0m0-5h0m1 15h0m1-22h0m0 14h0m0 3h0m1-6h0m0-7h0m1 3h0m0 16h0m1-6h0m3-7h0m4 1h0m3 2h0m5-11h0m1 3h0m1 3h0m4 2h0m3-5h0m2 3h0m8 15h0m2-12h0m4 0h0m3-6h0m1 3h0m1 11h0m3-18h0m0 22h0m9-5h0m2 3h0m4 0h0m4-9h0m1 3h0m5-5h0m3-2h0m1 15h0m2-10h0m7-10h0m0 17h0m3-6h0m2-14h0m1 8h0m0 3h0m10 4h0m0 7h0m11-9h0m6 10h0m7-1h0m1-2h0m4-17h0m1 2h0m2 4h0m5-4h0m17 12h0m1-7h0m46-3h0m17 15h0m45 0h0m29-18h0m21 18h0m62-10h0m3-10h0m4 5h0m8 9h0m3-5h0m5 7h0m1-3h0m3-3h0m24-12h0m-26 24h0m-11 2h0m-4-1h0m-3-1h0m-1 16h0m-1-16h0m-3 9h0m-71 0h0m-21 1h0m-165 6h0m-4-12h0m0 15h0m-1-9h0m-7 7h0m-4-9h0m-4 14h0m0-8h0m-12-4h0m-3-2h0m0 12h0m0 2h0m-1-19h0m-3 8h0m-2-10h0m0 5h0m-1 8h0m0 3h0m-3-4h0m-1 10h0m-10-12h0m-1 8h0m-1-19h0m0 23h0m0-10h0m-2-10h0m-6 12h0m-3-15h0m-3 14h0m0 4h0m-2-10h0m-3 15h0m-4-16h0m0-4h0m-12 15h0m-7-9h0m-5-6h0m-2 8h0m-7 4h0m-2 3h0m-2-2h0m-1-3h0m-6 9h0m-1-17h0m-3-2h0m0 9h0m-1 11h0m-1-16h0m-11 6h0m0-9h0m-3 18h0m-2-1h0m-2-19h0m-3 2h0m0 15h0m-1-9h0m-1-4h0m-4-3h0m-1 16h0m-2-16h0m-1 20h0m-1-18h0m-5 12h0m-1-11h0m-1-5h0m-2 14h0m-3 8h0m-1-7h0m0-10h0m0 4h0m-2 4h0m-1 7h0m-1-12h0m-1 9h0m-1 5h0m-2-5h0m-1-13h0m-1 7h0m-3 9h0m-1-21h0m-1 19h0m-4-3h0m-1-16h0m-1 6h0m-2 9h0m0 7h0m-3-17h0m-1 3h0m-2 2h0m-4 3h0m-3-8h0m0 12h0m0-6h0m-1 4h0m-6-10h0m-1 11h0m-4-10h0m-2 15h0m-4 0h0m-2-17h0m-2-3h0m-6 6h0m-9 14h0m1 9h0m1-4h0m9 4h0m2 7h0m2-13h0m1 20h0m5-13h0m0 6h0m1-3h0m4-4h0m4-3h0m1-2h0m4 1h0m5 12h0m4-14h0m4 6h0m1 6h0m3 10h0m1-14h0m3 1h0m9-3h0m4 11h0m3-11h0m6 2h0m4 2h0m2 8h0m2-13h0m1 5h0m4-3h0m1 2h0m1 12h0m4-20h0m1 22h0m0-8h0m3-15h0m4 15h0m0-11h0m2 19h0m2-9h0m0-9h0m2-4h0m1 9h0m5-6h0m1 4h0m2-5h0m1 12h0m1 4h0m0 2h0m1-17h0m2 10h0m3 1h0m0 5h0m4-17h0m3 5h0m2 5h0m0-13h0m2 2h0m1 6h0m3-6h0m3 3h0m2 7h0m0-10h0m3 16h0m1-17h0m1 6h0m1 15h0m1-11h0m2-8h0m1 7h0m3 7h0m5-17h0m0 9h0m3-1h0m8 15h0m4-2h0m2-1h0m1-18h0m1 9h0m0 2h0m5-4h0m0 4h0m2-1h0m0 4h0m2-15h0m6 15h0m4 5h0m7-19h0m0 11h0m0 4h0m0-11h0m4 8h0m1 6h0m2-18h0m5 8h0m3 11h0m0-15h0m7-2h0m1 4h0m10 0h0m5-7h0m41 17h0m9-6h0m23-2h0m14-8h0m27 16h0m42 1h0m61-13h0m1 12h0m8 0h0m12 0h0m0 5h0m-12 2h0m-236 7h0m-5 11h0m-2-2h0m-1-17h0m-4 12h0m-1 5h0m-3-3h0m-4-4h0m-2 5h0m-3-13h0m-2 8h0m-1 9h0m-2-4h0m-4-14h0m0 13h0m-2 2h0m0-11h0m-2 13h0m-2-1h0m-1 2h0m-9-17h0m-1 9h0m-2 1h0m-1-3h0m-3 10h0m-1-6h0m-2 4h0m-1 2h0m0-10h0m-1 4h0m-5-3h0m-1 2h0m0-11h0m-2 7h0m-3 10h0m-3-12h0m-1-5h0m-1 16h0m-2-3h0m-1-7h0m-1 5h0m-2 11h0m-2-22h0m-2 7h0m0 2h0m-2 3h0m-4-10h0m-3 14h0m-8-9h0m-1 3h0m-2-4h0m-2 1h0m0-8h0m0 22h0m-5-15h0m-1 10h0m-1-11h0m-7 3h0m-3-9h0m-6 3h0m0 5h0m-2 13h0m-1-14h0m-1-7h0m-3 17h0m-3-15h0m-1 13h0m-1 7h0m-1-18h0m-2 0h0m0 12h0m0-10h0m-2 7h0m-2-8h0m0 9h0m-2 9h0m-2-15h0m-1-7h0m-1 7h0m-2 4h0m-5 6h0m-7 5h0m0-18h0m-2 12h0m-2-1h0m0-10h0m-2 4h0m-1 3h0m-1-10h0m-8 13h0m-5 6h0m-1-22h0m-1 20h0m0-8h0m-8 9h0m-4-17h0m-5 12h0m0-9h0m0 15h0m0-10h0m-12-6h0m-4-6h0m11 24h0m4 10h0m4-2h0m2-6h0m5-1h0m1 7h0m5-4h0m4 18h0m5-6h0m7-8h0m1 14h0m1-16h0m1-4h0m7 3h0m1 2h0m5-5h0m0 20h0m3-6h0m0-15h0m2 10h0m0 3h0m4 9h0m0-21h0m2 19h0m1-5h0m4-12h0m1 2h0m0 6h0m2 4h0m11 1h0m0-11h0m4 0h0m13 11h0m4 0h0m4 1h0m3-18h0m4 22h0m0-5h0m2-13h0m6 19h0m1-10h0m3 7h0m3 3h0m5-8h0m9-15h0m3 5h0m3 1h0m1-5h0m1 16h0m4 3h0m0-18h0m5 18h0m2-10h0m7-5h0m3 10h0m2-9h0m0 12h0m1-7h0m2-3h0m0-6h0m1 18h0m3-19h0m1 19h0m8-15h0m5-5h0m2 3h0m2 3h0m1-5h0m8 21h0m2-12h0m1 11h0m0-9h0m3-10h0m4 13h0m6 0h0m6 4h0m4 2h0m4-9h0m51-4h0m45 12h0m8 0h0m22-17h0m15 14h0m-22 10h0m-14 19h0m-39-22h0m-38 7h0m-62 5h0m-1 10h0m-8-14h0m-1 13h0m-6-7h0m-3 2h0m-13-1h0m-4-12h0m0 18h0m-1-12h0m-3 5h0m-1-10h0m-3-1h0m0 3h0m-2 11h0m-3-6h0m0 3h0m-2-4h0m-1-5h0m-1 12h0m-1-17h0m-4 20h0m-3-15h0m0 13h0m0-11h0m-2 11h0m-2-15h0m0 3h0m-3 2h0m0-7h0m-3 0h0m0 3h0m-4 5h0m-2-6h0m0 14h0m-2-8h0m-5 6h0m-8-7h0m-1-3h0m-2 17h0m-3-3h0m-3-11h0m-1-7h0m-2 7h0m-7-8h0m-2 21h0m-1-16h0m-1 3h0m0 5h0m-1-12h0m-7 11h0m-5-5h0m-1 13h0m-6-7h0m-2-9h0m-3 14h0m-1-14h0m-3 4h0m-6 4h0m-18 2h0m-11-10h0m32 30h0m2-5h0m12 11h0m3 6h0m0-15h0m3-7h0m1 10h0m3-4h0m1 16h0m7-19h0m0 13h0m3-6h0m1-3h0m3 15h0m1-17h0m0 14h0m6 4h0m2-10h0m2-6h0m0 16h0m3-4h0m8-17h0m0 3h0m3 9h0m3-5h0m4 2h0m2-10h0m1 18h0m4-9h0m3-7h0m2-1h0m4-2h0m1 8h0m1-8h0m2 19h0m1-4h0m2-9h0m2-3h0m0 18h0m1-16h0m1 12h0m6-12h0m2 12h0m0-4h0m1-9h0m5 0h0m2 5h0m0 3h0m6-12h0m6 15h0m1-12h0m4 15h0m1-4h0m0-14h0m2 8h0m3 10h0m4-5h0m1 5h0m5-8h0m1-6h0m0 15h0m3-14h0m5 2h0m24-5h0m12 17h0m59-17h0m40 2h0m25 13h0m25 23h0m-81-2h0m-47 5h0m-68 4h0m-1-16h0m0 9h0m-3-3h0m-6-5h0m-1 8h0m-1-11h0m0 9h0m-6-6h0m-4-4h0m-8 5h0m-4-9h0m-2 7h0m-6 0h0m-1-3h0m0-4h0m-5 22h0m-1-18h0m-2 16h0m-1-20h0m-1 4h0m-3 2h0m-6-1h0m-4 1h0m0 14h0m-2-17h0m-2 14h0m0-3h0m-2 9h0m-1-23h0m-3 5h0m-2 17h0m-3-20h0m-8 16h0m-4-4h0m-1-4h0m-3 5h0m-4-12h0m-1 7h0m-1-6h0m-2 19h0m-1-2h0m0-21h0m-11 11h0m-5 0h0m-14-11h0m25 28h0m2 5h0m6 4h0m8-5h0m1-6h0m5 1h0m1 14h0m0-9h0m11 1h0m5 9h0m8 2h0m1-7h0m1 10h0m1-7h0m1-16h0m8 2h0m1 13h0m1-7h0m5-5h0m2 11h0m1 5h0m2 2h0m3-5h0m4-8h0m2 1h0m6-5h0m2 3h0m5-2h0m5 13h0m1-8h0m4-4h0m56-3h0m84 1h0m82 29h0m-48 10h0m-22-1h0m-4-13h0m-114 4h0m-31 1h0m-5 12h0m-4-21h0m-9 8h0m0 9h0m-3-8h0m-2-5h0m-13-3h0m-3 16h0m0-18h0m-10 1h0m-2 5h0m0 4h0m0 12h0m-2-13h0m-8-3h0m-4 2h0m0 14h0m-1-6h0m-7 0h0m-6-6h0m-5-4h0m-3-6h0m25 31h0m4-5h0m7 8h0m6 7h0m7-16h0m3-1h0m11 20h0m8-12h0m2-1h0m1-5h0m2 6h0m0 4h0m10-10h0m35 15h0m25-13h0m33 3h0m120 25h0m-155-6h0m-84 4h0m-2 5h0m-8-8h0m97 26h0m2 13h0m14-16h0m67 13h0m32 5h0m25-5h0m-35 13h0m-34 7h0m-6 7h0m-7-9h0m-5-9h0" stroke="#8d529b" stroke-width="6" stroke-linecap="round" fill="none" transform="scale(.5)"/>
<path d="M601 1242h0m-2 3h0m-3-9h0m-6-1h0m2 18h0m3 18h0m2-9h0m-1 31h0m0-17h0m-1 7h0m-2 11h0m-2-9h0m0 24h0m0 10h0m2-13h0m0-10h0m2 9h0m-1 16h0m-3 3h0m-1 12h0m5 45h0m0 3h0m2 23h0m0-7h0m1-7h0m0 30h0m-1-3h0m-1 14h0m0 6h0m4 18h0m0-3h0m5 26h0m-1-5h0m0-4h0m-2-7h0m-2-1h0m0 4h0m0 12h0m-1 3h0m-1-7h0m-3 9h0" stroke="#5b9c58" stroke-width="6" stroke-linecap="round" fill="none" transform="scale(.5)"/>
<path d="M481 1140h0m-8 0h0m-10 6h0m-12 28h0m35 0h0m8 1h0m10-12h0m1-10h0m13 8h0m2 2h0m5 12h0m6-3h0m1-19h0m2 5h0m2 2h0m-12 33h0m-8-13h0m-19 11h0m-1 1h0m-4-2h0m-11-3h0m-1-6h0m0 15h0m-5-9h0m-1-2h0m0-3h0m-3 13h0m-1 2h0m0-14h0m-1 10h0m0-5h0m-7 6h0m-3 5h0m0-5h0m-1-9h0m-1 12h0m-1-9h0m-2 10h0m0-8h0m-1-4h0m-1 10h0m-1 3h0m-1-18h0m-1-5h0m-1 22h0m-1-10h0m-1 4h0m-2 5h0m-3-13h0m-2 14h0m-2-16h0m0 9h0m-3-3h0m-1 5h0m-6-2h0m-6 18h0m0-5h0m8-2h0m4 11h0m0-7h0m7-6h0m0 18h0m4 2h0m0-19h0m1 22h0m1-11h0m0-5h0m1 13h0m4 3h0m0-19h0m3 3h0m1 3h0m1 2h0m0-10h0m2 2h0m2 6h0m0 6h0m1-8h0m2-3h0m1 9h0m1-12h0m1 11h0m1 4h0m1-11h0m1 4h0m1-6h0m1-4h0m1 17h0m1-10h0m0 4h0m4 3h0m0-12h0m1 21h0m0-14h0m2-4h0m2 10h0m2 0h0m0-14h0m8 13h0m1-13h0m5 35h0m-6-5h0m-1 6h0m-13-8h0m-2-1h0m-10 4h0m-4-4h0m-1 14h0m-2-15h0m0 10h0m-7 9h0m-7-14h0m-2 3h0m8 15h0m1 5h0m8-1h0m2 11h0m11-3h0m1-14h0m2 8h0m2-5h0m1-3h0m1 7h0m5-7h0m2 5h0m3 4h0m2-6h0m17 35h0m-8-2h0m-3 2h0m0 9h0m-3-13h0m-1 13h0m-6-8h0m-4-4h0m0 8h0m-2-8h0m-3 11h0m-1-19h0m-1 14h0m-3 6h0m0-12h0m-2 2h0m-1 3h0m-2-11h0m-3 4h0m-2-3h0m-1 14h0m-5-4h0m-1 4h0m-13 23h0m2-8h0m4 12h0m7-10h0m0-10h0m2 16h0m0-19h0m4 4h0m5 3h0m3 14h0m3-17h0m5 10h0m0-8h0m0 2h0m3 3h0m1 10h0m1-12h0m2-3h0m0 11h0m3-10h0m0 13h0m2-20h0m4 16h0m3-8h0m7 12h0m7-7h0m1-10h0m1 12h0m5-9h0m-31 22h0m-7 14h0m0-12h0m-10 1h0m-8-5h0m-7 11h0" stroke="#d480b0" stroke-width="6" stroke-linecap="round" fill="none" transform="scale(.5)"/>
<path d="M619 488h0m61 34h0m-11-7h0m-3 3h0m-4-9h0m-2 8h0m-2 7h0m-22-15h0m-15-4h0m-43 8h0m45 37h0m25-18h0m13 15h0m8-8h0m0 2h0m25-6h0m3 2h0m5 0h0m5 5h0m10 5h0m4 2h0m12-7h0m2 1h0m5-2h0m4-1h0m3 3h0m47 26h0m-10-3h0m-2-6h0m-17 6h0m-1 6h0m-18-2h0m-2-2h0m-1-12h0m-1-3h0m-5 20h0m-1-7h0m-5 2h0m-1 6h0m-1-14h0m-2 8h0m-1 7h0m-2-18h0m-5 16h0m0-16h0m-6-5h0m-3 14h0m-4-12h0m-3 6h0m-8 5h0m-3 9h0m-5-2h0m-4-5h0m-3-3h0m-6-7h0m0 13h0m-1 3h0m-6 0h0m0-14h0m-2 2h0m-3 7h0m-1-11h0m-4 8h0m-3 4h0m-1-11h0m-12 3h0m-4 9h0m-12 24h0m10-16h0m1 9h0m3-8h0m11 19h0m1-14h0m2 11h0m2-1h0m10-5h0m1-8h0m1 2h0m9-5h0m1 3h0m0 9h0m4-5h0m1 14h0m1-4h0m6-5h0m4-9h0m0 4h0m0-2h0m4 13h0m0-15h0m1 2h0m0 3h0m1 6h0m2-13h0m0 8h0m2-5h0m3 1h0m0-6h0m3 3h0m1-4h0m1 22h0m4-22h0m0 12h0m1 6h0m1-4h0m3-1h0m1-7h0m0 3h0m10 0h0m3 14h0m3-15h0m1 3h0m0 8h0m3-9h0m2 3h0m1-13h0m2 13h0m1 10h0m1-19h0m1 17h0m1-4h0m3-4h0m1 8h0m1-20h0m5 22h0m1-10h0m3-2h0m2 12h0m1-11h0m5-10h0m2 3h0m4 18h0m19 8h0m-2 4h0m-10-5h0m-1-2h0m-1 15h0m-3-11h0m-2 7h0m0-5h0m0 8h0m-4-1h0m0-6h0m-4 5h0m-7-12h0m-1-3h0m-1 15h0m-1 6h0m-1-2h0m0-10h0m-4 7h0m-2 5h0m-1-21h0m-2 17h0m0-3h0m-1-4h0m-3 12h0m0-5h0m-2-15h0m-1 12h0m-1 4h0m-1-2h0m0-14h0m-2 18h0m-2-9h0m-1-12h0m-1 9h0m0 9h0m-3-4h0m0-14h0m0 21h0m-1-9h0m-1 7h0m-1-15h0m-1 9h0m0 5h0m-1 3h0m-2-2h0m0-14h0m-1 2h0m-4 9h0m-1 4h0m-1-15h0m0 12h0m-2 5h0m-2-19h0m-1 11h0m0-6h0m-1 12h0m-1-16h0m-3 0h0m-1 16h0m-2-4h0m-1-14h0m-1 18h0m0-10h0m0-5h0m-1 8h0m-1 10h0m-1-17h0m0 8h0m-1 6h0m-1-4h0m-3-7h0m-6-2h0m-3-7h0m-3 6h0m-2 5h0m-2-9h0m0 13h0m-1-9h0m-6 4h0m0-5h0m-2 9h0m-11-6h0m-15 5h0m1 27h0m11 5h0m1-4h0m6-1h0m5-2h0m2 0h0m1 2h0m1-15h0m1 16h0m2-1h0m4-15h0m0 9h0m1 8h0m2-17h0m1 21h0m3-4h0m2-17h0m0 17h0m1 3h0m1-5h0m1-10h0m0-6h0m1 22h0m2-16h0m0 3h0m1 7h0m0-14h0m2-1h0m0 8h0m0 8h0m3-14h0m0 4h0m1 11h0m1 4h0m1-16h0m1 7h0m0 4h0m0-7h0m1-5h0m0 2h0m1 8h0m0-5h0m1-2h0m0-5h0m1 16h0m0-6h0m1 2h0m0-6h0m0-5h0m2 15h0m1-12h0m1 3h0m0 9h0m0-19h0m0 16h0m1-11h0m1 3h0m1 11h0m2-11h0m1 10h0m1-6h0m1 3h0m0-12h0m1-2h0m0 8h0m1 4h0m1 7h0m1-14h0m2 2h0m2 13h0m1-9h0m0-11h0m0 13h0m1-6h0m2 9h0m0-17h0m1 4h0m2 15h0m1-14h0m1 3h0m2 4h0m1 2h0m2-14h0m2 20h0m4-18h0m0 8h0m1-3h0m1 14h0m3 0h0m1-20h0m0 4h0m2 10h0m1-8h0m0-3h0m1 7h0m1-3h0m5 3h0m1 7h0m2-8h0m1 12h0m0-5h0m2 1h0m5-14h0m6 9h0m4 6h0m3-3h0m1 6h0m5-5h0m1 6h0m3-20h0m-3 25h0m-2 9h0m-6 2h0m-2 1h0m-1-13h0m-5 11h0m-5-1h0m0 9h0m-4 1h0m-1-19h0m-3 0h0m0 3h0m0 9h0m0-14h0m-2 10h0m-2 3h0m-5 6h0m0-11h0m0 13h0m-2-19h0m-2 14h0m0-11h0m0-6h0m-1 3h0m0 9h0m-1 7h0m-3-12h0m0 3h0m0 9h0m-2-16h0m-3 19h0m0-15h0m-3 3h0m-1-3h0m0-5h0m0 17h0m-3-3h0m0-15h0m-1 4h0m-2 15h0m-2-12h0m0 9h0m-2 5h0m0-23h0m-1 11h0m0 9h0m-1-6h0m-1 7h0m-2-17h0m-2 17h0m-1-13h0m0-5h0m-4 11h0m-1-11h0m-2 16h0m0-10h0m-3-2h0m-1-7h0m-2 18h0m-1-11h0m-1-3h0m-1-4h0m-2 23h0m-1-10h0m-1 8h0m-1-16h0m0 4h0m-1 6h0m-1 8h0m-4-8h0m-1-3h0m-1 6h0m0 3h0m-2-18h0m-2 8h0m0 8h0m-2-18h0m-1 12h0m-3 10h0m0-11h0m-1-10h0m-6 17h0m-3-16h0m0 13h0m-3 3h0m-2-1h0m-11-2h0m-1-13h0m-4 18h0m-14-8h0m-5 13h0m3 20h0m1-9h0m6 1h0m7-3h0m1 3h0m1 7h0m5-4h0m9-16h0m3 2h0m4 9h0m4-8h0m1 8h0m1 8h0m7-1h0m0-12h0m0 4h0m3-6h0m0-2h0m3 15h0m2 0h0m1-7h0m1 4h0m1-5h0m2-2h0m1-3h0m4 17h0m2-2h0m1-17h0m2-1h0m0 3h0m2 0h0m2-5h0m1 9h0m3 14h0m1-19h0m2 19h0m2-17h0m1 15h0m2-20h0m0 4h0m3-3h0m0 11h0m2-1h0m0-5h0m1 9h0m1 1h0m1-3h0m0-11h0m1 15h0m2-14h0m2 6h0m0 8h0m2-16h0m1 11h0m4-7h0m9-5h0m3 22h0m1-3h0m0-12h0m1 6h0m1 5h0m3-1h0m1-7h0m2 6h0m4-12h0m1 12h0m6-2h0m5-13h0m-6 39h0m-3-9h0m-1-3h0m-1 13h0m0-7h0m-15 4h0m-4-1h0m-3 4h0m0-11h0m-1 13h0m0-16h0m-1 11h0m-4-8h0m-1 6h0m-4-7h0m-3-4h0m0 4h0m-1 13h0m0-11h0m-2-8h0m-3 16h0m-3-5h0m0-5h0m-1 8h0m0-12h0m-3 12h0m-2-9h0m-1-3h0m-1 13h0m0 3h0m-1 3h0m-2-5h0m-2 1h0m0-3h0m-1-6h0m-2 3h0m0-7h0m-3 14h0m-1 5h0m0-21h0m-1 18h0m-1-13h0m0 9h0m0-14h0m-3 19h0m-2-19h0m-3 4h0m-1 13h0m-1-15h0m-1 14h0m-2-10h0m-1 2h0m-1 4h0m-1 6h0m-1-12h0m-2 4h0m-5 10h0m0-9h0m-2-5h0m-1 13h0m-3-14h0m-1 14h0m-3-9h0m-1-12h0m-1 16h0m-3 3h0m-12-11h0m-5-3h0m-13-5h0m-12 32h0m4 8h0m24 1h0m3 0h0m0-14h0m2-2h0m16 6h0m3 3h0m0 4h0m1 7h0m1-15h0m0 8h0m6 6h0m1-17h0m0 12h0m2 5h0m1-4h0m0-6h0m2-6h0m2 10h0m0 8h0m2-17h0m4-2h0m3 9h0m2 7h0m6 3h0m1-11h0m0 9h0m1-16h0m1 4h0m3-3h0m1-3h0m4 0h0m2 4h0m0 8h0m2-10h0m5 6h0m7-5h0m1-4h0m8 17h0m1-17h0m2 8h0m0 8h0m2-16h0m5 7h0m2 6h0m3-9h0m5 12h0m4 1h0m6-8h0m-1 26h0m-3-7h0m-6 13h0m-12-8h0m-9 3h0m-4 3h0m-2-12h0m-5 10h0m-7-1h0m0-11h0m-3 0h0m-3-1h0m-6 13h0m-4 0h0m0-7h0m-10-3h0m-5 16h0m-2-17h0m0 2h0m-1 4h0m-1 7h0m0-11h0m-1 17h0m-3-21h0m0 2h0m-5 6h0m-2 7h0m-1 4h0m0-6h0m-7-7h0m0 13h0m-3-19h0m-3 12h0m-2-7h0m-1 15h0m-1-15h0m-12-5h0m-2 6h0m-7 4h0m-3-4h0m-4 13h0m20 14h0m0-5h0m7 15h0m10-8h0m2-10h0m4 13h0m10 1h0m7-6h0m1-5h0m6 11h0m3-14h0m2 21h0m9-19h0m4 3h0m1 8h0m7-7h0m8-3h0m9 13h0m3-2h0m1-8h0m2-8h0m5 39h0m-5-14h0m-6 18h0m-1-14h0m-18 10h0m-2 4h0m0-19h0m-2 15h0m-2-10h0m0 8h0m-4-11h0m0 20h0m-1-4h0m-3-9h0m-6-3h0m-3 3h0m-1-5h0m-5 3h0m0 11h0m-2-5h0m-1-2h0m-1 6h0m-11-16h0m-7 3h0m-1 14h0m-14-8h0m-4-6h0m-10 0h0m22 20h0m12 13h0m8-11h0m5 12h0m10 1h0m14 7h0m7-12h0m4-4h0m10 14h0m19 13h0m-9 13h0m-26-21h0m-9 6h0m0-5h0m-9 1h0m0 17h0m-1 3h0m-15-19h0m-4 2h0m0 14h0m-34-9h0m17 27h0m9 2h0m10-9h0m14 5h0m15-5h0m7-3h0m18 11h0m0-5h0m-14 18h0m-33-2h0m-62 25h0m64 19h0m3 8h0m-106 26h0m37-7h0m104-1h0m977 94h0m-2-1h0m-1020-18h0m-127 5h0m1148 23h0m-1056 49h0m27 63h0" stroke="#efe93a" stroke-width="6" stroke-linecap="round" fill="none" transform="scale(.5)"/>
<path d="M582 417h0m-32 13h0m9 15h0m46 9h0m11 2h0m-50 11h0m-30 41h0m-151 22h0m35 18h0m9-19h0m86 2h0m114 24h0m-236 12h0m41 9h0m88 34h0m-148-9h0m116 40h0m122 21h0m-91 2h0m-105 8h0m83 3h0m67 2h0m-75 38h0m-185-3h0m332 23h0m74 19h0m-138 13h0m-271 22h0m11-1h0m245-12h0m58 0h0m28 8h0m0 7h0m9-1h0m9 1h0m0-23h0m8 7h0m7 10h0m1-9h0m1 6h0m3-4h0m8-8h0m6 18h0m0-8h0m1-7h0m2 17h0m7-12h0m1 12h0m5-10h0m3-10h0m3 17h0m17-5h0m24 30h0m-1-13h0m0 16h0m-3-4h0m-3 3h0m0-9h0m-6-1h0m0-7h0m-2 16h0m-4-5h0m-4 6h0m-3-14h0m-2-2h0m0 5h0m-6 12h0m-3-18h0m-8 8h0m-1 2h0m-1-11h0m-4 11h0m-1 8h0m-2-7h0m-2 6h0m-2-20h0m-2 14h0m-3-7h0m-2 12h0m0-17h0m-6-2h0m-1 3h0m-3 2h0m-1-3h0m-2 19h0m-1-4h0m-6-10h0m-1 3h0m-11 3h0m-1-8h0m-2 5h0m-6 10h0m-6-1h0m-2-2h0m-9-9h0m-79-4h0m-163 17h0m230 9h0m5 12h0m8-9h0m10 0h0m4-4h0m5 4h0m3 3h0m1-5h0m4 11h0m5-8h0m0-9h0m4 17h0m0-6h0m2-6h0m2-2h0m3-3h0m10 8h0m1-11h0m1 11h0m2-5h0m7-5h0m4 3h0m1 13h0m0 2h0m4-17h0m1 21h0m2-18h0m0 5h0m2-10h0m0 13h0m4 0h0m1 8h0m3-20h0m0 8h0m1-6h0m1 14h0m0-4h0m1-12h0m4 19h0m0-10h0m3-8h0m0 5h0m1 6h0m3 3h0m0-7h0m5-1h0m2-7h0m7 21h0m6-12h0m1 8h0m1 5h0m1-20h0m3-3h0m12 10h0m0-7h0m-4 37h0m-3-16h0m-3 21h0m-1-19h0m-8 17h0m-1 2h0m-6-19h0m-5 15h0m0-12h0m-4-5h0m-3 17h0m-8 3h0m-2-12h0m-1 14h0m-3-5h0m-1 4h0m0-11h0m-1 3h0m-1-6h0m-3-2h0m-1 9h0m-1 3h0m-1-16h0m-1 13h0m-1-9h0m-1 18h0m-2-7h0m0-5h0m0 11h0m-2-14h0m-1 3h0m-2 8h0m-4-13h0m-1 4h0m-3-9h0m0 20h0m-2 0h0m-1-20h0m-1 9h0m0 2h0m-2-8h0m0 19h0m-1-15h0m-2 12h0m-1-19h0m0 16h0m-3-6h0m-1-2h0m0 14h0m-3-21h0m-1 10h0m0 4h0m-4-13h0m-1 11h0m-2-9h0m-3 3h0m-3 14h0m-2-9h0m-3 2h0m0-9h0m-4 9h0m-1 8h0m0-20h0m0 16h0m-1-2h0m-4-3h0m-1 8h0m-5-21h0m-1 3h0m-3 18h0m-7-1h0m-1-11h0m-1 7h0m-1 4h0m-2-16h0m-3 1h0m-1 17h0m-4-11h0m-4 6h0m-245 0h0m-22-8h0m42 34h0m84 0h0m71 1h0m30 2h0m29-17h0m3 14h0m3-13h0m5 16h0m4-7h0m11-8h0m3-4h0m4 5h0m2 8h0m4 0h0m2 1h0m2-5h0m4-4h0m0 7h0m4-11h0m3 6h0m0-10h0m5 18h0m1-9h0m2 0h0m1 7h0m2 0h0m0 4h0m0-19h0m1 13h0m1-10h0m0 15h0m1-18h0m1 17h0m1-9h0m3 0h0m2-3h0m1-4h0m2 1h0m2-4h0m4 1h0m1 9h0m0 8h0m2-12h0m2 16h0m1-8h0m1 3h0m1 4h0m0-17h0m1 19h0m2-2h0m3-4h0m1-17h0m0 12h0m1 6h0m1 5h0m1-23h0m0 14h0m0-8h0m0 11h0m1-14h0m1-2h0m7 18h0m0-18h0m0 22h0m2-13h0m0 12h0m6-12h0m2-6h0m0 4h0m2-2h0m0 17h0m1-14h0m2 7h0m1-3h0m0 9h0m3-21h0m2 6h0m4 13h0m0 3h0m4-20h0m5 11h0m6-12h0m1 14h0m2-2h0m3-1h0m3-2h0m1-10h0m4 5h0m14-2h0m0 12h0m-3 27h0m-9-19h0m-4 0h0m-7 22h0m-6-19h0m-1 12h0m-2-10h0m-1 15h0m-3-13h0m-3-2h0m-2 7h0m-2 3h0m-3 5h0m0-5h0m-1-12h0m-2-2h0m-1 13h0m-1-14h0m-3 8h0m0 13h0m-2-15h0m-2 7h0m-1-6h0m0 13h0m-2-4h0m-3 0h0m0-10h0m-3 1h0m0 15h0m-1-8h0m-3 2h0m-2 7h0m0-5h0m0-11h0m-2-1h0m-3 5h0m-1 6h0m0 4h0m-4-9h0m-1-4h0m-1 3h0m-1-6h0m-2-2h0m-1 19h0m-2-3h0m-1-3h0m-1 2h0m0-7h0m-4-9h0m0 20h0m-2-14h0m-1-2h0m0 11h0m-3-3h0m-1 3h0m-1-16h0m0 9h0m0-7h0m0 17h0m-3 1h0m-2 1h0m0-8h0m-2-7h0m0 5h0m-1 6h0m-2-9h0m0 14h0m0-9h0m-3 2h0m0-10h0m0 14h0m-1-5h0m-1 4h0m-5-5h0m-3 2h0m-2-6h0m-1 12h0m-4-16h0m-2-5h0m-1 9h0m0 13h0m-2-13h0m-2 5h0m-5-14h0m-2 14h0m-1-3h0m-1 5h0m-4-3h0m-1 3h0m-10-4h0m-4-8h0m-5 10h0m-5-10h0m-5 7h0m-3-9h0m-1 11h0m-5 3h0m-11-1h0m-34 6h0m-13-6h0m-183-4h0m183 21h0m22 10h0m9-15h0m13 18h0m8-3h0m2-7h0m1-10h0m2 7h0m1-6h0m1 6h0m4 11h0m1-16h0m1-4h0m4 19h0m2-1h0m9-14h0m0 12h0m2 7h0m3-14h0m5 6h0m1-8h0m5 0h0m5 8h0m6-3h0m0 11h0m1-18h0m3 12h0m1 5h0m4-21h0m3 21h0m1-12h0m10-3h0m1 11h0m2 5h0m0-13h0m2-9h0m8 6h0m3-5h0m1 20h0m1-4h0m0-10h0m5 10h0m0-11h0m1 7h0m1-9h0m1-2h0m2-3h0m0 13h0m0 4h0m2-12h0m1-4h0m1 5h0m1-6h0m3 5h0m0 2h0m1 16h0m1-16h0m3-7h0m2 8h0m2 11h0m0-18h0m1 3h0m0 18h0m7-4h0m1-7h0m1 3h0m1 4h0m1-15h0m2 1h0m1 17h0m1 2h0m1-23h0m0 11h0m3 10h0m1-6h0m5-2h0m0-9h0m0 4h0m2-8h0m3 15h0m2-9h0m2 16h0m1-3h0m0-11h0m0-7h0m2 20h0m6-12h0m2 5h0m0 8h0m3-10h0m0-9h0m1-3h0m1 9h0m4 12h0m8 1h0m4 11h0m-9 1h0m-10-1h0m-3-1h0m-8 0h0m-2 14h0m-2-15h0m-2 8h0m-2 4h0m-1-3h0m-3-16h0m-4 3h0m-2 18h0m-5-4h0m-5-4h0m-2-12h0m0 3h0m-2 8h0m-1-9h0m-1 6h0m0-9h0m-1 16h0m-8-11h0m-4 13h0m-2 5h0m0-7h0m-3 1h0m0-11h0m-2 17h0m0-10h0m-2-11h0m-1 20h0m-1-9h0m0-9h0m-5 16h0m0-20h0m0 22h0m0-11h0m-1-4h0m-2 16h0m-1-14h0m-1 8h0m-1 3h0m-1-13h0m0 3h0m-1-10h0m-1 22h0m-1-22h0m0 3h0m-4-1h0m-4 6h0m-1 12h0m-4 2h0m-3 1h0m-1-19h0m-2 16h0m-4 2h0m-2-9h0m-4-12h0m-3 21h0m-4 1h0m-1-22h0m0 15h0m-2-5h0m0-9h0m-3 3h0m-7 1h0m-5 4h0m-1-2h0m-4 12h0m-2-2h0m0 5h0m-1-23h0m-3 23h0m0-4h0m-4 1h0m-3 0h0m0-6h0m-1-10h0m0 12h0m-2-15h0m-5 20h0m-2-20h0m-2 21h0m-1-8h0m-2-13h0m-3 18h0m-3-7h0m-4-7h0m-1 10h0m-5 4h0m-2-8h0m-4 1h0m-2 8h0m-2-17h0m-1 9h0m-8 4h0m-8-16h0m-1 17h0m-40 4h0m-111 15h0m125 9h0m13-5h0m7-8h0m1 13h0m3-2h0m4 0h0m4-14h0m4 4h0m1 9h0m3-15h0m9 19h0m3-17h0m2-5h0m0 17h0m1 4h0m3-3h0m3-4h0m0-7h0m4-2h0m2 16h0m1 2h0m0-23h0m1 3h0m2 3h0m4 5h0m0 3h0m4 0h0m2-8h0m2-4h0m1 2h0m4 3h0m2-7h0m2 7h0m3 2h0m0 7h0m1-3h0m7-1h0m4-8h0m0 17h0m2-4h0m0-11h0m1-3h0m2 1h0m1 18h0m3 0h0m1-22h0m0 14h0m2 1h0m0-8h0m3 0h0m1 16h0m1-13h0m1-8h0m1 13h0m1 3h0m0 3h0m2-6h0m2 6h0m4-7h0m5 1h0m0 4h0m2-7h0m1-6h0m2 16h0m2-14h0m1-7h0m3 13h0m0-11h0m2-1h0m1 11h0m3 8h0m1-9h0m0 6h0m1-10h0m1-6h0m0 9h0m1-7h0m0 14h0m3-10h0m4 7h0m2 8h0m4-9h0m0-7h0m1 10h0m2-3h0m0 8h0m2-21h0m1 4h0m0 2h0m2 4h0m0 12h0m4-13h0m1-7h0m2-1h0m0 7h0m1 2h0m4 9h0m2-5h0m4-6h0m1-6h0m1 9h0m0 3h0m1 8h0m2-23h0m1 10h0m1-7h0m1-2h0m1 3h0m5 18h0m1-4h0m8 0h0m2-6h0m11-1h0m0 3h0m3 4h0m2-3h0m3-14h0m1 45h0m-4-8h0m-3 8h0m-7-19h0m-1 5h0m-1 14h0m0-8h0m-2 0h0m-10 0h0m-1-2h0m0 11h0m-3-7h0m-9-12h0m-2-1h0m-4 13h0m-2-2h0m-3 6h0m-1-20h0m-1 3h0m-3 6h0m-3-8h0m-2 5h0m-2 13h0m-1-19h0m-4 5h0m-2 7h0m-1-7h0m-3 4h0m0 5h0m-2-11h0m0 14h0m0-5h0m-2 3h0m-1-15h0m-1 18h0m-2-9h0m-1 5h0m0-8h0m-3 8h0m-2-6h0m-1-8h0m-2 16h0m0-9h0m-1-2h0m-2 0h0m0 14h0m0-11h0m-2 14h0m0-21h0m-1 7h0m-3-4h0m0 14h0m0-10h0m-1 13h0m-3-3h0m-1-6h0m-1-6h0m-2 4h0m-1 5h0m-1 3h0m-4-11h0m0 3h0m-1-8h0m-1 21h0m-1-12h0m-3-6h0m-1 7h0m-3 9h0m-3-21h0m0 21h0m0-7h0m-1 9h0m-4-13h0m-2 7h0m-1-15h0m-1 18h0m-2 0h0m-3-19h0m0 12h0m-1 6h0m-1 3h0m-1-3h0m-1-8h0m-1 4h0m-3-2h0m-2 1h0m0 3h0m-4-13h0m0 13h0m-1 2h0m0-4h0m-1-13h0m-1 9h0m-3 8h0m-3-3h0m0-8h0m-3 15h0m-2-17h0m-1 11h0m-1 5h0m-2-8h0m-3-10h0m-1 16h0m0-7h0m-1 4h0m-1-8h0m-2-3h0m0 13h0m-2-18h0m0 13h0m-2-13h0m-1 7h0m-3 11h0m-1-10h0m0-4h0m-3 6h0m-1 8h0m0 4h0m-6-7h0m-2-6h0m0 12h0m-2-5h0m-4-11h0m-1 10h0m-8-5h0m-10-10h0m-4 7h0m-3 11h0m-2-2h0m-10 14h0m8 10h0m6 4h0m13-19h0m1 5h0m3-3h0m0 12h0m3-15h0m4 13h0m4-6h0m4-1h0m0 4h0m1 3h0m2 7h0m1-18h0m0 13h0m2-5h0m1-5h0m2 8h0m1-10h0m5 16h0m1-6h0m2-4h0m1 9h0m1-18h0m2 19h0m1-12h0m0 3h0m2-5h0m1 4h0m0-7h0m2 5h0m0 7h0m1-3h0m1 9h0m2-5h0m2 7h0m2-3h0m1-20h0m0 11h0m2 11h0m2-2h0m1-2h0m0-17h0m2 11h0m3-3h0m0 14h0m2-22h0m1 17h0m1-8h0m1-3h0m1 13h0m0-7h0m2-11h0m1 8h0m5 9h0m0 4h0m2-8h0m0-7h0m1 2h0m0-5h0m2 18h0m1-22h0m0 13h0m1-8h0m0 4h0m1-10h0m1 10h0m1 4h0m1 8h0m1-3h0m1-10h0m2 6h0m0-4h0m1 12h0m2-9h0m1-10h0m0 13h0m0 2h0m1-17h0m1 8h0m1-3h0m1 8h0m1-9h0m0 15h0m1-13h0m1 2h0m5 1h0m1 4h0m0-10h0m0 15h0m1 2h0m1-7h0m1 5h0m2-11h0m1-3h0m1 16h0m0-18h0m1 11h0m2-13h0m2 14h0m0 3h0m1-11h0m2 8h0m1-14h0m1 3h0m0 2h0m1 13h0m3-5h0m2 4h0m2-3h0m1-6h0m0-7h0m1 2h0m2-1h0m0 5h0m1 13h0m1-5h0m1 5h0m2-13h0m2 9h0m6-4h0m2-11h0m3 5h0m2 14h0m2-3h0m3-3h0m1-10h0m0 8h0m2-4h0m3-6h0m2 19h0m1-22h0m0 10h0m5-2h0m2-2h0m3-4h0m8 8h0m2-11h0m1 17h0m2 2h0m7-15h0m2 12h0m2-16h0m2 14h0m2 2h0m1 6h0m2-1h0m4-2h0m1-6h0m5 1h0m1 4h0m-6 9h0m-4 11h0m-4-11h0m-4-2h0m-2 11h0m-1-9h0m-1-3h0m-1 13h0m-3-4h0m-1 3h0m-1 9h0m-9-12h0m-3 0h0m-5 7h0m-2-10h0m-5 11h0m-2-10h0m-3-5h0m-2 2h0m0 12h0m-3-7h0m-3 3h0m0-11h0m-1 20h0m-1-13h0m-1-8h0m0 15h0m-1 2h0m-2 5h0m-1-22h0m-2 23h0m0-9h0m-2-9h0m-1 7h0m0 3h0m-2 4h0m0-6h0m-3 7h0m0 3h0m-2-17h0m-1-5h0m0 3h0m-1 4h0m0 15h0m0-8h0m-1-4h0m-1-7h0m-1 13h0m0 3h0m-2-19h0m-2 16h0m-2-13h0m-1 16h0m-1 3h0m-1-8h0m0-9h0m0 3h0m-1-5h0m0 14h0m-3-14h0m-3 13h0m0 5h0m-1-14h0m0-3h0m-2 1h0m-1-3h0m-1 11h0m0-4h0m0 13h0m-1-6h0m-1-13h0m-1 9h0m0 2h0m0 4h0m0-8h0m-1-5h0m0 17h0m-1-15h0m-1-5h0m0 20h0m-3-15h0m-1 6h0m0-10h0m-2 5h0m0 13h0m-3-16h0m-2 9h0m0 6h0m0-10h0m-1 6h0m-1-12h0m0 14h0m-1-8h0m-1-4h0m-1 2h0m-1 14h0m-1-3h0m0-18h0m0 14h0m-3-13h0m0 18h0m-1-14h0m-2 2h0m0 13h0m0-17h0m-2 9h0m-3 7h0m-2-19h0m0 14h0m-2-8h0m-1 11h0m0-8h0m-3-11h0m-1 14h0m0-9h0m-3 16h0m0-11h0m-2-3h0m-1-2h0m-1 17h0m0-11h0m-2-7h0m0 17h0m-2-19h0m-2 18h0m-1-17h0m-2 17h0m-1-12h0m-2 10h0m0-8h0m-4-2h0m0 8h0m-1 4h0m-9 1h0m-1-6h0m-1-13h0m-1 6h0m0 15h0m-2-9h0m-1-4h0m-2 10h0m-4-19h0m-3 2h0m-2-2h0m-3 19h0m-1-18h0m0 13h0m-1 7h0m-1-16h0m-1 11h0m-3-2h0m-3-8h0m-1 6h0m-1-6h0m-4-5h0m-5-1h0m0 12h0m-1-6h0m-5 1h0m-7-1h0m-7 19h0m1 6h0m3 11h0m6-2h0m10-2h0m1-11h0m0 8h0m1 6h0m1-4h0m1 8h0m1-21h0m2 5h0m0 5h0m0 3h0m1 5h0m1-4h0m4-6h0m1 2h0m1 6h0m1-13h0m0 16h0m6-12h0m2 11h0m1-19h0m2 18h0m1 3h0m1 2h0m1-22h0m0 14h0m1-8h0m2-3h0m3 12h0m0 5h0m1-10h0m3-3h0m0 3h0m5-7h0m0 15h0m0-11h0m2-2h0m3 5h0m1 9h0m1-5h0m1-9h0m0-5h0m1 15h0m2-1h0m2-1h0m3-1h0m2 9h0m2-5h0m1-16h0m0 7h0m2-3h0m1-5h0m3 17h0m0-7h0m0 4h0m1 8h0m0-18h0m1 13h0m1-3h0m1 7h0m1-20h0m0 12h0m0 6h0m1-13h0m1 10h0m0 7h0m1-10h0m1-3h0m2 13h0m1-5h0m0-9h0m1-3h0m0 9h0m0-14h0m0 12h0m2-9h0m1 12h0m0 3h0m1-8h0m0-10h0m1 3h0m1 16h0m1 3h0m2-20h0m2 1h0m2-1h0m1-2h0m0 7h0m1 6h0m1 5h0m1-13h0m1 13h0m0-8h0m1-5h0m2-4h0m1 21h0m2-5h0m1-13h0m1 12h0m3-12h0m2 17h0m0-19h0m2 16h0m0-8h0m0 12h0m2-16h0m0 7h0m1 5h0m1-14h0m0-2h0m2 9h0m0-10h0m0 16h0m0-11h0m1 13h0m1-7h0m0-10h0m1 20h0m1-5h0m0-12h0m2 10h0m1 2h0m0-7h0m1 10h0m2-11h0m1-3h0m3 3h0m2 12h0m1-3h0m1-10h0m0-5h0m2 18h0m1-6h0m1-5h0m1 6h0m2-17h0m1 20h0m0-7h0m4 8h0m2-18h0m2 17h0m4 2h0m0-11h0m3 5h0m1 2h0m0 3h0m2-10h0m1-5h0m1 8h0m0 6h0m2-3h0m1-10h0m8 3h0m2 11h0m6-14h0m0-6h0m9 8h0m2-5h0m2-3h0m2 2h0m1 6h0m3-2h0m1 12h0m2-15h0m3 1h0m1-2h0m1 5h0m48 25h0m-11 9h0m-2 3h0m-25-14h0m-6 13h0m-7 1h0m-1-19h0m-7 2h0m-7 8h0m-1-3h0m-6 8h0m-3-3h0m-5 3h0m-3-11h0m0 4h0m-2 1h0m-1-5h0m-3-3h0m-2 8h0m-1-2h0m-4-2h0m0 6h0m-2 9h0m-3-16h0m-2 5h0m-5-7h0m0 12h0m0 4h0m-3-20h0m-3 9h0m0 2h0m-1-8h0m-3 13h0m-1-9h0m0 5h0m-1-12h0m-1 16h0m-2-14h0m-1 17h0m-1 2h0m-2-14h0m-1 3h0m-1-6h0m0 12h0m-1 2h0m-1-15h0m-1-2h0m0 8h0m-2-5h0m0 2h0m0 11h0m-1 5h0m-1-15h0m0-5h0m-2 2h0m-1-4h0m0 14h0m-2-13h0m0 12h0m-1-5h0m0-4h0m-1 10h0m-2-6h0m-2 8h0m-1-4h0m-1-9h0m-1 18h0m-1-13h0m0 5h0m-2 6h0m0-14h0m-2 4h0m0 4h0m-1-6h0m0 14h0m0-20h0m-1 10h0m-1 5h0m0-3h0m-1-13h0m-1 8h0m-1 5h0m0 9h0m-1-21h0m0 5h0m-2 6h0m0-9h0m-1 5h0m-1-2h0m-1 5h0m0 4h0m-1 7h0m-1-11h0m-2-1h0m0 6h0m-1-10h0m-2 6h0m-1-10h0m-2 12h0m0 7h0m0-19h0m-1 7h0m-1-7h0m-2 7h0m-1-5h0m0 3h0m-1 8h0m-2 4h0m-1-11h0m-1 9h0m-1-14h0m-1-3h0m-1 20h0m-1-13h0m-1-4h0m-4 14h0m0-8h0m0 3h0m-2 2h0m0-8h0m-1 14h0m-2 3h0m0-8h0m0-8h0m-3 14h0m-3-10h0m-1 3h0m-2-5h0m0 13h0m-3-8h0m-1 9h0m0-23h0m-1 2h0m-1 13h0m-2-13h0m0 11h0m-1-9h0m-1 15h0m-2-13h0m-2-5h0m-1 6h0m-1-2h0m-2-5h0m0 22h0m0-6h0m-1-10h0m-1 7h0m-1 7h0m-1 2h0m-2-9h0m-2-5h0m-1-5h0m0 12h0m-3 4h0m-1 3h0m0-21h0m-1 16h0m-1-17h0m-1 5h0m0 17h0m-1-10h0m-2-11h0m-1 5h0m-2 10h0m-1 3h0m-4 0h0m0-14h0m-4-3h0m-2 2h0m-1 9h0m-1 4h0m-1-5h0m-3 6h0m0-10h0m-1-4h0m-3 10h0m-7-3h0m-3-5h0m-1-4h0m-2 5h0m-7 16h0m-2 4h0m14 2h0m11 5h0m9 5h0m0-5h0m3 9h0m1-11h0m1-2h0m1 11h0m5-9h0m0 14h0m1-20h0m3 21h0m1-3h0m3-16h0m2 15h0m0-11h0m1-5h0m6 0h0m1 10h0m1 8h0m0-16h0m2 1h0m2 13h0m1-14h0m2 2h0m0 14h0m2-10h0m1 7h0m2-15h0m2 10h0m0 3h0m2-1h0m0 8h0m4-4h0m0-10h0m2 8h0m0-8h0m1 5h0m1-9h0m2 5h0m3 11h0m1-21h0m3 1h0m0 4h0m0 3h0m4-6h0m1 15h0m1-14h0m1 4h0m2 2h0m1 5h0m3-7h0m1 4h0m0-9h0m5 2h0m0 17h0m2-17h0m1 4h0m0 13h0m1-3h0m0-4h0m1-4h0m1 3h0m1-12h0m0 9h0m2-7h0m2 8h0m0 2h0m1-10h0m0 14h0m0-10h0m1 16h0m3-12h0m1 7h0m0-10h0m0 14h0m3-8h0m0 3h0m0-9h0m3 8h0m1 5h0m1-11h0m1 3h0m1-12h0m1 4h0m2 6h0m0 5h0m2-5h0m1-5h0m1 16h0m1-14h0m1 5h0m2-9h0m0 12h0m0-9h0m2 13h0m2-9h0m1-10h0m0 5h0m3-5h0m1 15h0m1 4h0m0-14h0m3-1h0m2 12h0m2-2h0m1-10h0m1-4h0m1 5h0m0 14h0m1-1h0m1-15h0m1 11h0m0-8h0m4 4h0m1-4h0m1 8h0m4 2h0m2-11h0m1 3h0m3-5h0m1 5h0m2 8h0m1-14h0m0 7h0m1 12h0m2-10h0m0 7h0m0-10h0m2-1h0m2-8h0m1 19h0m5-4h0m2-6h0m0-3h0m3-6h0m1 2h0m10 7h0m0 2h0m7 7h0m1-13h0m0 4h0m8 10h0m8-7h0m0 4h0m2-9h0m2 2h0m1-7h0m1 3h0m8 0h0m7 4h0m4 5h0m5-13h0m2 16h0m0 6h0m3-9h0m27-1h0m4 5h0m-9 7h0m-14 0h0m-14 9h0m-31-10h0m-1 9h0m-5-4h0m-7 14h0m-3 4h0m-3-5h0m-6-15h0m0 6h0m-3 12h0m-2-2h0m-3-1h0m-1-10h0m0 12h0m0-20h0m-4 23h0m-15-21h0m-3 16h0m-6-11h0m0 11h0m-2-8h0m-1 3h0m0-8h0m-1 16h0m-1-14h0m-6-2h0m-4 1h0m0 2h0m-2 6h0m-2 2h0m-2-8h0m-1 6h0m-1 3h0m-2-15h0m-1 15h0m-3-12h0m-1 1h0m-1 12h0m-1 3h0m-2-10h0m-5-10h0m0 13h0m-1 8h0m-1-18h0m0 13h0m-2-3h0m-1-13h0m-2 1h0m-1 19h0m-1-10h0m-1-7h0m-2-2h0m-3 2h0m-1 5h0m-2 13h0m0-8h0m-2-1h0m-1-13h0m-1 12h0m-1 8h0m-1-20h0m-1 4h0m-2-2h0m-3 12h0m-1-10h0m-2 11h0m-1-13h0m0 3h0m-3 16h0m-1-16h0m-2 2h0m-2-1h0m-1 15h0m-1 2h0m-1-12h0m-5-7h0m-1-4h0m-1 10h0m-4-2h0m0 11h0m-3-4h0m-1-7h0m-2 10h0m-3-7h0m-1-4h0m-2-5h0m-2 14h0m-1-11h0m-3 13h0m0-8h0m-1 11h0m0-20h0m-2 21h0m-6-1h0m-1-19h0m-1 14h0m-3-8h0m-3-5h0m-3 8h0m-1-10h0m-7 18h0m-7 1h0m-1-10h0m0-8h0m-10 8h0m-1 2h0m-5-1h0m0-9h0m-12 10h0m30 20h0m1-6h0m9 6h0m3-2h0m2 7h0m1-3h0m4-6h0m2 4h0m2 13h0m2-19h0m3 6h0m3 2h0m3 6h0m2 4h0m1-13h0m3 15h0m5 0h0m0-10h0m0 3h0m0-11h0m4 0h0m0 15h0m3 4h0m4-12h0m1 3h0m5-2h0m0 4h0m3-14h0m0 14h0m5-15h0m1 11h0m3 7h0m1-12h0m0 5h0m2 7h0m1 3h0m1-11h0m3 4h0m1 4h0m1-12h0m2-7h0m1 2h0m0 16h0m1-4h0m12-12h0m0 10h0m1 2h0m1-5h0m6-5h0m2 3h0m2 6h0m3 9h0m0-19h0m1 5h0m1 6h0m3 0h0m0 3h0m1 3h0m1 3h0m2-11h0m1 4h0m1-9h0m1-6h0m7 5h0m1-5h0m2 3h0m0 18h0m2-18h0m1 10h0m1-12h0m1 5h0m1 12h0m2 3h0m3-15h0m0 9h0m3 1h0m3-8h0m0 11h0m5 3h0m3-23h0m1 9h0m1-2h0m10 14h0m2-11h0m1 7h0m0-2h0m7-15h0m0 9h0m7 8h0m-8 7h0m-6 10h0m-12-9h0m-3 8h0m-2 1h0m-4-2h0m-1 7h0m-2-13h0m-1 20h0m-1-13h0m-11 11h0m0-10h0m-1 6h0m-4-12h0m-1-2h0m-3 14h0m-8-12h0m-6 6h0m-3-8h0m-1 4h0m-7 5h0m-1-7h0m-4-3h0m-4 22h0m-10-6h0m-2-12h0m-1 11h0m-1 5h0m-2-21h0m-14 9h0m0 7h0m0 3h0m-4-13h0m-2 15h0m-1-16h0m-6 11h0m-4-15h0m0 19h0m-2-1h0m0-10h0m-16 12h0m-10-15h0m31 18h0m18 1h0m6 5h0m3-6h0m9 5h0m11 1h0m3-3h0m5 10h0m4-6h0m1-7h0m1 3h0m7-3h0m3 14h0m4-6h0m3 7h0m2-13h0m3-2h0m1 14h0" stroke="#f6a722" stroke-width="6" stroke-linecap="round" fill="none" transform="scale(.5)"/>
<path d="M445 490h0m50 31h0m-95 16h0m-36 31h0m431 26h0m48 27h0m-34 1h0m-480 7h0m425 9h0m24 9h0m9-11h0m10-1h0m16 0h0m32 11h0m-61 17h0m-3 3h0m-4-16h0m-16 10h0m29 17h0m37-5h0m1 46h0m-26-22h0m-7 0h0m-33 5h0m-143 16h0m-192-20h0m371 25h0m30-1h0m-7 27h0m-6 9h0m-26 7h0m-468-11h0m189 37h0m196-4h0m38-11h0m80 35h0m-51-14h0m-145 1h0m-134 2h0m-23 7h0m-120-13h0m293 42h0m139-15h0m30 7h0m35 28h0m-264-6h0m-175 3h0m-48-4h0m27 18h0m24 16h0m29-1h0m165 5h0m10-15h0m174 3h0m10-5h0m-31 33h0m-12 25h0m9-15h0m42 20h0m11-2h0m18 0h0m3-14h0m-30 36h0m-8 1h0m-381-4h0m13 20h0m293-1h0m81 6h0m81 26h0m-15-16h0m-12 14h0m-9 3h0m-1 6h0m-37-12h0m-12-4h0m0 8h0m-243-9h0m149 36h0m46-7h0m10 12h0m28-2h0m0-14h0m14 0h0m8 12h0m2-18h0m17 19h0m1-10h0m6 4h0m5-10h0m5 12h0m6-9h0m2 5h0m14 1h0m1-13h0m2 5h0m5 0h0m0 18h0m2-19h0m2 19h0m3-2h0m0-5h0m3 5h0m4-2h0m3 0h0m8-3h0m15 10h0m-17 8h0m-3 3h0m-3-7h0m-11-4h0m-10 13h0m-2 2h0m-1-14h0m-2 13h0m0 4h0m-1-20h0m-4 3h0m-3 6h0m-5 13h0m-8-10h0m-1 6h0m-7-18h0m0 20h0m-3-14h0m-2 3h0m-3-3h0m-2 4h0m-8 6h0m-3 3h0m-4-1h0m-7-14h0m-13 1h0m-7 4h0m-10 0h0m-121-7h0m-87 1h0m-6 31h0m173 4h0m48-3h0m6-6h0m2 16h0m13-10h0m2-5h0m5-5h0m2 11h0m1-6h0m4 8h0m4-14h0m1 19h0m2-17h0m3 6h0m3-6h0m0 21h0m3-13h0m4 11h0m5-21h0m8 12h0m11 4h0m13-6h0m21 30h0m-46-11h0m-5-3h0m-3 7h0m-3 2h0m-8-5h0m-9 8h0m-8-13h0m-9 11h0m-2 9h0m-8 2h0m-2-1h0m-18-19h0m0 13h0m-18 3h0m-13-13h0m0 13h0m-8-7h0m-10 11h0m-142-18h0m-113-1h0m76 30h0m174-4h0m3 6h0m11 4h0m4-5h0m10-1h0m7 12h0m1-17h0m8 17h0m0-3h0m4-3h0m1 7h0m23-3h0m1-14h0m7-1h0m5 11h0m15-11h0m6 16h0m42-11h0m-54 16h0m-9 21h0m-9-8h0m-10 5h0m-9-1h0m-7 0h0m-14-19h0m-1 21h0m-1-14h0m-3-4h0m-2 2h0m-3 14h0m-1-8h0m-3-4h0m-15-2h0m-219-1h0m208 20h0m24 15h0m9-15h0m25 9h0m8 16h0m-112 27h0" stroke="#3d9083" stroke-width="6" stroke-linecap="round" fill="none" transform="scale(.5)"/>
<path d="M283 780h0m6-10h0m1 34h0m-4 0h0m-6 16h0m8 26h0m601 137h0m96 22h0m-31-9h0m-4-9h0m-22 17h0m0-14h0m-5 6h0m-5 6h0m-2 3h0m0-15h0m-5 7h0m-2 1h0m-31-12h0m-18 14h0m5 26h0m25-7h0m5-11h0m0 16h0m2 1h0m1-16h0m2 1h0m1 11h0m2 9h0m4-21h0m2 6h0m1 2h0m2-4h0m2 16h0m2-13h0m3 13h0m4-11h0m0 2h0m6-11h0m2 4h0m2 18h0m1-18h0m3-2h0m0 4h0m2-6h0m3 10h0m3 12h0m7-8h0m2 6h0m0-8h0m7-3h0m4-5h0m4 5h0m3 7h0m10-2h0m8 4h0m0 2h0m-6 12h0m-5 13h0m-3-9h0m-3 8h0m-3 0h0m-4-17h0m-3-1h0m-5 8h0m-2-3h0m-1 7h0m-1-2h0m-2 9h0m0-3h0m-1-16h0m0 11h0m-1-7h0m-3 12h0m0-5h0m-2-12h0m-4 20h0m0-15h0m-1 6h0m-3-2h0m0 3h0m-3 4h0m-1 4h0m-3-18h0m-2-3h0m0 20h0m-1-5h0m-2-13h0m-1-3h0m-9 4h0m-2 9h0m-1-11h0m-1 20h0m-5-15h0m-2 7h0m-6 8h0m-2-14h0m-35 38h0m26-15h0m8 4h0m3 1h0m6 3h0m0-3h0m1-8h0m3 16h0m0-3h0m2-17h0m2 19h0m0-17h0m2 13h0m0 6h0m1-17h0m3 6h0m0 9h0m1-4h0m1-9h0m3-4h0m2 20h0m4-14h0m1 9h0m5 6h0m1-18h0m3-4h0m1 13h0m0 5h0m1-14h0m4 7h0m0-12h0m0 2h0m0 4h0m0 11h0m3-15h0m0 12h0m5 2h0m3-6h0m1 8h0m3-2h0m0 4h0m1-14h0m2 6h0m4 5h0m3-11h0m0 9h0m2-15h0m0 11h0m3 9h0m4-2h0m17-15h0m6 2h0m1 5h0m2 36h0m-3-2h0m-4-12h0m-3-2h0m-6 4h0m0 11h0m-1-21h0m0 12h0m-2 7h0m-1-9h0m-1 7h0m-1-5h0m-2 3h0m0 4h0m-1-6h0m-1-9h0m-1 19h0m0-10h0m0-7h0m-2 8h0m0-5h0m0 11h0m-1-15h0m-3 9h0m-1-4h0m0 11h0m-1-5h0m-2-1h0m0-10h0m0 18h0m-1-12h0m-1 10h0m-1-12h0m-2-3h0m-1 3h0m-1 7h0m-4 3h0m-1-9h0m-2 13h0m-2-4h0m-7-11h0m-1-4h0m-3-1h0m-7-1h0m-2 2h0m-5 6h0m-4-7h0m-6-2h0m-1 17h0m-4 1h0m0-11h0m-6 2h0m-2 2h0m-19-10h0m-25 0h0m64 27h0m12-1h0m19 0h0m3 13h0m4-17h0m5 2h0m1 9h0m1-6h0m1-5h0m1 8h0m3-7h0m2 7h0m3-1h0m2 2h0m6-2h0m0 3h0m2-7h0m4 6h0m3-2h0" stroke="#b2702b" stroke-width="6" stroke-linecap="round" fill="none" transform="scale(.5)"/>
<path d="M940 835h0m4 0h0m18-11h0m6 10h0m3-13h0m0-5h0m3 16h0m2 4h0m1-14h0m0 17h0m1-11h0m0 4h0m3-2h0m0 8h0m3-7h0m2-3h0m1 9h0m16-3h0m2-11h0m7 37h0m-5-19h0m-5 22h0m-1-13h0m-2 7h0m-2-7h0m-1-7h0m-1 7h0m-1 10h0m0-5h0m0-10h0m-2 14h0m-1-6h0m0-12h0m-2 16h0m-2-16h0m0 12h0m-3 8h0m-1-5h0m-4-3h0m-2 0h0m-1-3h0m0-3h0m-1 7h0m-1-5h0m-2 14h0m-1-7h0m-5 6h0m-2-6h0m-1 4h0m-7 0h0m-4-10h0m-14 31h0m1-12h0m9 5h0m7 4h0m3 8h0m1-10h0m3 3h0m3-12h0m1 3h0m1 12h0m2-12h0m2 2h0m3-4h0m0 4h0m1-6h0m0 4h0m2 9h0m0-11h0m6-2h0m1 4h0m2 4h0m1 7h0m1 6h0m1-21h0m1 5h0m2 7h0m2 2h0m1 7h0m0-21h0m2 19h0m2-18h0m1 7h0m5 18h0m-4 13h0m-10-11h0m-1 6h0m0-9h0m-2 2h0m0 6h0m-1 9h0m-3-10h0m-1 11h0m-3-20h0m-4 6h0m-1 2h0m-6-4h0m-5-1h0m-1 6h0m-14 4h0m-4-6h0m-1 11h0m-6-19h0m15 28h0m12-1h0m4 3h0m6 13h0m7-18h0m5 17h0m0-15h0m1 19h0m7 19h0m-4-5h0m-4-2h0m-4 6h0m-50-9h0m50 22h0m6 2h0m1 7h0m2-1h0m12 16h0m-12 3h0m-1 9h0m-3-8h0m-2-4h0m0 11h0m-5-15h0" stroke="#cb6a7c" stroke-width="6" stroke-linecap="round" fill="none" transform="scale(.5)"/>
<path d="M997 1016h0m13 9h0m13 4h0m24-2h0m4 17h0m-2-5h0m-5 11h0m-2-12h0m-9 14h0m-1-13h0m0 11h0m-4-10h0m-1 6h0m-1-8h0m-1 15h0m-7-20h0m-12 15h0m-7-4h0m-2-6h0m40 18h0m3 0h0m8 3h0" stroke="#d2693e" stroke-width="6" stroke-linecap="round" fill="none" transform="scale(.5)"/>
<path d="M579 374h0m-50 27h0m16 5h0m17 1h0m94-15h0m-52 35h0m-54 1h0m-3 7h0m20 8h0m11-7h0m9-2h0m-27 28h0m-13 0h0m188 41h0m6 14h0m-1-6h0m-9 15h0m-167-17h0m190 30h0m32 5h0m6 4h0m22 20h0m0-7h0m-3-3h0m0-5h0m-8 16h0m0-14h0m-2 14h0m-2-6h0m-3 2h0m0 9h0m-1-15h0m-1 5h0m-2 5h0m-1 3h0m-1-14h0m0 8h0m-2 5h0m-1-11h0m0 13h0m-6-6h0m0-12h0m-3 1h0m-5 15h0m-10-14h0m-1-3h0m-189 34h0m5 4h0m197-7h0m11-4h0m0 8h0m5 9h0m4-16h0m1 8h0m0-10h0m0 4h0m1 8h0m1-4h0m3-3h0m1-8h0m1 2h0m1 10h0m1-11h0m1 14h0m1-4h0m2-6h0m2 4h0m0 11h0m2-19h0m3 17h0m2 1h0m4 3h0m5-7h0m2 5h0m1-3h0m5 2h0m15 5h0m-1 20h0m-2-8h0m-6-2h0m-1 5h0m-2-16h0m-2 23h0m0-14h0m0 9h0m-1 3h0m0-7h0m0-12h0m-1 15h0m-4-2h0m0 7h0m-1-15h0m0-6h0m-4 15h0m0-14h0m0 18h0m-1-11h0m-2 12h0m-1 2h0m-2-9h0m0-14h0m-1 19h0m0-14h0m-1 5h0m-2 6h0m0-14h0m-3 2h0m-2 10h0m-2-12h0m-2 3h0m-164-2h0m-110 13h0m-111-2h0m118 33h0m276-21h0m8 4h0m3-3h0m0 18h0m2-16h0m3 4h0m2 8h0m1 3h0m3-11h0m0 14h0m1-4h0m1-3h0m1-5h0m1-8h0m1 15h0m1-15h0m3 14h0m0-3h0m1-3h0m1-11h0m2 1h0m0 11h0m0-5h0m2 2h0m0-5h0m1 18h0m2-14h0m1 12h0m1 3h0m1-20h0m2 9h0m1-8h0m0 19h0m12 5h0m-2 17h0m-5-3h0m-3 2h0m0-3h0m0-16h0m-3 19h0m-1-5h0m-1-2h0m0 10h0m-2-16h0m0 15h0m0-5h0m-1-6h0m-2 10h0m-1-12h0m-1-9h0m-1 14h0m-1-8h0m-4 2h0m0-6h0m-3 2h0m-5 13h0m-2-12h0m-338-4h0m-71 36h0m418-4h0m4-7h0m5 20h0m3-21h0m2 4h0m3 2h0m4-1h0m0-3h0m3 14h0m2-6h0m2 8h0m1-8h0m1-10h0m3 6h0m1 5h0m2 5h0m2-16h0m1 22h0m5 18h0m-6-2h0m-2-8h0m-1 11h0m-2-6h0m-3 2h0m0-5h0m-1-7h0m-2 2h0m0 4h0m-3-7h0m-4 8h0m0-4h0m-1 8h0m-1-13h0m-522 4h0m37 23h0m465 10h0m3 0h0m9 1h0m14 8h0m4-16h0m18 11h0m0-5h0m2-5h0m9 14h0m3-16h0m7 25h0m-17-5h0m-7 0h0m-3 18h0m-22-19h0m-45 22h0m-276 1h0m281 22h0m23 2h0m11-12h0m31 0h0m7-6h0m7 10h0m1-9h0m6-1h0m1-4h0m3 3h0m-9 36h0m-5-7h0m-1-4h0m-3 6h0m-8-5h0m-11 12h0m-10-4h0m-1 7h0m-471 21h0m452-4h0m14-12h0m6 10h0m7 2h0m44 1h0m-22 24h0m-8-14h0m-13 16h0m-12-8h0m-14-5h0m-16 0h0m-37-2h0m-276 81h0m-132 57h0m122-3h0m448 77h0m-502 18h0m6-1h0m62 74h0" stroke="#d8221f" stroke-width="6" stroke-linecap="round" fill="none" transform="scale(.5)"/>
<text x="271.7" y="247.4" font-size="19.5" text-anchor="middle">2</text>
<text x="359.3" y="329.6" font-size="19.5" text-anchor="middle">6</text>
<text x="419" y="348.6" font-size="19.5" text-anchor="middle">12</text>
<text x="238.5" y="382.9" font-size="19.5" text-anchor="middle">3</text>
<text x="491.2" y="446.8" font-size="19.5" text-anchor="middle">10</text>
<text x="326.7" y="517.8" font-size="19.5" text-anchor="middle">7</text>
<text x="397.1" y="517.8" font-size="19.5" text-anchor="middle">8</text>
<text x="471.1" y="533.2" font-size="19.5" text-anchor="middle">9</text>
<text x="517.3" y="527.9" font-size="19.5" text-anchor="middle">11</text>
<text x="241.5" y="603.7" font-size="19.5" text-anchor="middle">5</text>
<text x="298.9" y="720.8" font-size="19.5" text-anchor="middle">4</text>
<text x="874.2" y="532.6" font-size="19.5" text-anchor="middle">1</text>
<path d="M128.4 662V744.8H212" stroke="#231815" stroke-width="3" fill="none"/>
<path d="M128.4 649.5l8.5 14.5h-17z" fill="#231815"/>
<path d="M224.5 744.8l-14.5 -8.5v17z" fill="#231815"/>
<text x="175.8" y="772.6" font-size="19.5" text-anchor="middle" fill="#231815">UMAP1</text>
<text font-size="19.5" text-anchor="middle" fill="#231815" transform="translate(113 697.5) rotate(-90)">UMAP1</text>
</g>
<g id="panelB">
<text x="972.5" y="25.6" font-size="36.3" font-weight="bold">B</text>
<rect x="1041.4" y="103.6" width="506.5" height="673.4" fill="#dcd3e9"/>
<path d="M1463.5 429.4h42.2v10.9h-42.2zM1041.4 440.3h42.2v10.9h-42.2zM1041.4 733.6h42.2v10.9h-42.2z" fill="#8878ba"/>
<path d="M1421.3 233.9h42.2v10.9h-42.2zM1463.5 244.8h42.2v10.9h-42.2zM1463.5 396.9h42.2v10.9h-42.2zM1463.5 407.7h42.2v10.9h-42.2z" fill="#a594cb"/>
<path d="M1421.3 157.9h84.4v10.9h-84.4zM1294.7 168.8h42.2v10.9h-42.2zM1168 223.1h42.2v10.9h-42.2zM1421.3 223.1h42.2v10.9h-42.2zM1252.4 255.7h42.2v10.9h-42.2zM1336.9 255.7h42.2v10.9h-42.2zM1041.4 266.5h42.2v10.9h-42.2zM1463.5 266.5h42.2v10.9h-42.2zM1041.4 396.9h42.2v10.9h-42.2zM1379.1 396.9h84.4v10.9h-84.4zM1083.6 407.7h42.2v10.9h-42.2zM1379.1 429.4h42.2v10.9h-42.2zM1463.5 440.3h42.2v10.9h-42.2zM1041.4 462h84.4v10.9h-84.4zM1083.6 472.9h42.2v10.9h-42.2zM1379.1 472.9h84.4v10.9h-84.4zM1505.7 472.9h42.2v10.9h-42.2zM1041.4 483.7h42.2v10.9h-42.2zM1041.4 494.6h84.4v10.9h-84.4zM1463.5 494.6h42.2v10.9h-42.2zM1421.3 516.3h42.2v10.9h-42.2zM1421.3 527.2h42.2v10.9h-42.2zM1041.4 538.1h84.4v10.9h-84.4zM1421.3 538.1h42.2v10.9h-42.2zM1463.5 733.6h42.2v10.9h-42.2zM1168 755.3h42.2v10.9h-42.2zM1041.4 766.1h42.2v10.9h-42.2z" fill="#bcabd6"/>
<path d="M1041.4 157.9h42.2v10.9h-42.2zM1294.7 157.9h42.2v10.9h-42.2zM1379.1 157.9h42.2v10.9h-42.2zM1041.4 168.8h42.2v10.9h-42.2zM1210.2 168.8h84.4v10.9h-84.4zM1336.9 168.8h42.2v10.9h-42.2zM1463.5 168.8h42.2v10.9h-42.2zM1294.7 179.6h42.2v10.9h-42.2zM1421.3 179.6h84.4v10.9h-84.4zM1294.7 190.5h42.2v10.9h-42.2zM1463.5 190.5h42.2v10.9h-42.2zM1041.4 201.4h42.2v10.9h-42.2zM1168 201.4h84.4v10.9h-84.4zM1294.7 201.4h84.4v10.9h-84.4zM1421.3 201.4h84.4v10.9h-84.4zM1168 212.2h84.4v10.9h-84.4zM1294.7 212.2h84.4v10.9h-84.4zM1421.3 212.2h84.4v10.9h-84.4zM1210.2 223.1h211v10.9h-211zM1505.7 233.9h42.2v10.9h-42.2zM1252.4 244.8h42.2v10.9h-42.2zM1463.5 255.7h84.4v10.9h-84.4zM1041.4 277.4h42.2v10.9h-42.2zM1421.3 277.4h126.6v10.9h-126.6zM1083.6 342.5h84.4v10.9h-84.4zM1083.6 353.4h42.2v10.9h-42.2zM1463.5 353.4h42.2v10.9h-42.2zM1463.5 364.3h42.2v10.9h-42.2zM1083.6 375.1h42.2v10.9h-42.2zM1421.3 375.1h42.2v10.9h-42.2zM1505.7 375.1h42.2v10.9h-42.2zM1505.7 386h42.2v10.9h-42.2zM1125.8 407.7h42.2v10.9h-42.2zM1379.1 407.7h42.2v10.9h-42.2zM1125.8 418.6h42.2v10.9h-42.2zM1336.9 418.6h168.8v10.9h-168.8zM1336.9 429.4h42.2v10.9h-42.2zM1379.1 440.3h42.2v10.9h-42.2zM1041.4 451.2h42.2v10.9h-42.2zM1336.9 451.2h168.8v10.9h-168.8zM1463.5 462h84.4v10.9h-84.4zM1463.5 472.9h42.2v10.9h-42.2zM1083.6 483.7h42.2v10.9h-42.2zM1421.3 483.7h126.6v10.9h-126.6zM1252.4 494.6h42.2v10.9h-42.2zM1421.3 494.6h42.2v10.9h-42.2zM1505.7 494.6h42.2v10.9h-42.2zM1083.6 505.5h42.2v10.9h-42.2zM1421.3 505.5h84.4v10.9h-84.4zM1041.4 516.3h42.2v10.9h-42.2zM1041.4 527.2h84.4v10.9h-84.4zM1252.4 527.2h42.2v10.9h-42.2zM1463.5 527.2h84.4v10.9h-84.4zM1252.4 538.1h42.2v10.9h-42.2zM1463.5 538.1h84.4v10.9h-84.4zM1041.4 548.9h295.5v10.9h-295.5zM1083.6 559.8h42.2v10.9h-42.2zM1252.4 559.8h42.2v10.9h-42.2zM1083.6 570.6h42.2v10.9h-42.2zM1252.4 570.6h42.2v10.9h-42.2zM1083.6 581.5h42.2v10.9h-42.2zM1252.4 581.5h42.2v10.9h-42.2zM1505.7 581.5h42.2v10.9h-42.2zM1083.6 624.9h84.4v10.9h-84.4zM1210.2 624.9h168.8v10.9h-168.8zM1083.6 646.7h295.5v10.9h-295.5zM1505.7 646.7h42.2v10.9h-42.2zM1041.4 657.5h126.6v10.9h-126.6zM1210.2 657.5h126.6v10.9h-126.6zM1125.8 722.7h126.6v10.9h-126.6zM1294.7 722.7h84.4v10.9h-84.4zM1379.1 733.6h42.2v10.9h-42.2zM1210.2 744.4h42.2v10.9h-42.2zM1294.7 744.4h84.4v10.9h-84.4zM1463.5 744.4h42.2v10.9h-42.2zM1210.2 755.3h42.2v10.9h-42.2zM1294.7 755.3h84.4v10.9h-84.4zM1083.6 766.1h42.2v10.9h-42.2zM1379.1 766.1h42.2v10.9h-42.2zM1463.5 766.1h42.2v10.9h-42.2z" fill="#cfc1df"/>
<path d="M1252.4 103.6h42.2v10.9h-42.2zM1083.6 114.5h42.2v10.9h-42.2zM1252.4 114.5h42.2v10.9h-42.2zM1379.1 136.2h42.2v10.9h-42.2zM1463.5 136.2h42.2v10.9h-42.2zM1252.4 190.5h42.2v10.9h-42.2zM1125.8 201.4h42.2v10.9h-42.2zM1041.4 212.2h42.2v10.9h-42.2zM1210.2 244.8h42.2v10.9h-42.2zM1210.2 255.7h42.2v10.9h-42.2zM1379.1 255.7h42.2v10.9h-42.2zM1294.7 266.5h42.2v10.9h-42.2zM1505.7 266.5h42.2v10.9h-42.2zM1210.2 277.4h42.2v10.9h-42.2zM1421.3 342.5h42.2v10.9h-42.2zM1041.4 364.3h42.2v10.9h-42.2zM1252.4 364.3h84.4v10.9h-84.4zM1252.4 375.1h42.2v10.9h-42.2zM1379.1 375.1h42.2v10.9h-42.2zM1041.4 386h42.2v10.9h-42.2zM1336.9 386h42.2v10.9h-42.2zM1168 396.9h42.2v10.9h-42.2zM1336.9 407.7h42.2v10.9h-42.2zM1083.6 418.6h42.2v10.9h-42.2zM1083.6 429.4h42.2v10.9h-42.2zM1168 429.4h42.2v10.9h-42.2zM1421.3 429.4h42.2v10.9h-42.2zM1125.8 440.3h42.2v10.9h-42.2zM1125.8 451.2h42.2v10.9h-42.2zM1505.7 451.2h42.2v10.9h-42.2zM1379.1 462h42.2v10.9h-42.2zM1125.8 472.9h42.2v10.9h-42.2zM1252.4 472.9h42.2v10.9h-42.2zM1252.4 483.7h42.2v10.9h-42.2zM1379.1 483.7h42.2v10.9h-42.2zM1210.2 505.5h42.2v10.9h-42.2zM1294.7 505.5h42.2v10.9h-42.2zM1505.7 505.5h42.2v10.9h-42.2zM1210.2 516.3h42.2v10.9h-42.2zM1336.9 559.8h42.2v10.9h-42.2zM1421.3 581.5h42.2v10.9h-42.2zM1041.4 592.4h42.2v10.9h-42.2zM1379.1 614.1h42.2v10.9h-42.2zM1379.1 624.9h42.2v10.9h-42.2zM1041.4 635.8h42.2v10.9h-42.2zM1041.4 668.4h42.2v10.9h-42.2zM1379.1 668.4h42.2v10.9h-42.2zM1041.4 679.2h42.2v10.9h-42.2zM1421.3 679.2h42.2v10.9h-42.2zM1041.4 690.1h42.2v10.9h-42.2zM1421.3 690.1h42.2v10.9h-42.2zM1041.4 701h42.2v10.9h-42.2zM1041.4 711.8h42.2v10.9h-42.2zM1083.6 733.6h42.2v10.9h-42.2zM1168 744.4h42.2v10.9h-42.2zM1252.4 755.3h42.2v10.9h-42.2zM1125.8 766.1h42.2v10.9h-42.2z" fill="#e5dff0"/>
<path d="M1083.6 125.3h42.2v10.9h-42.2zM1421.3 125.3h42.2v10.9h-42.2zM1252.4 157.9h42.2v10.9h-42.2zM1336.9 157.9h42.2v10.9h-42.2zM1421.3 168.8h42.2v10.9h-42.2zM1125.8 190.5h42.2v10.9h-42.2zM1125.8 212.2h42.2v10.9h-42.2zM1252.4 212.2h42.2v10.9h-42.2zM1168 233.9h42.2v10.9h-42.2zM1336.9 233.9h42.2v10.9h-42.2zM1379.1 244.8h42.2v10.9h-42.2zM1168 255.7h42.2v10.9h-42.2zM1379.1 266.5h42.2v10.9h-42.2zM1336.9 342.5h42.2v10.9h-42.2zM1463.5 342.5h42.2v10.9h-42.2zM1041.4 353.4h42.2v10.9h-42.2zM1294.7 386h42.2v10.9h-42.2zM1210.2 407.7h42.2v10.9h-42.2zM1294.7 407.7h42.2v10.9h-42.2zM1505.7 418.6h42.2v10.9h-42.2zM1421.3 440.3h42.2v10.9h-42.2zM1125.8 483.7h42.2v10.9h-42.2zM1505.7 516.3h42.2v10.9h-42.2zM1125.8 527.2h42.2v10.9h-42.2zM1210.2 527.2h42.2v10.9h-42.2zM1125.8 538.1h42.2v10.9h-42.2zM1421.3 548.9h42.2v10.9h-42.2zM1336.9 570.6h42.2v10.9h-42.2zM1336.9 581.5h42.2v10.9h-42.2zM1421.3 592.4h42.2v10.9h-42.2zM1041.4 624.9h42.2v10.9h-42.2zM1379.1 679.2h42.2v10.9h-42.2zM1421.3 711.8h42.2v10.9h-42.2zM1210.2 733.6h42.2v10.9h-42.2zM1168 766.1h42.2v10.9h-42.2z" fill="#f0ecec"/>
<path d="M1210.2 157.9h42.2v10.9h-42.2zM1505.7 168.8h42.2v10.9h-42.2zM1125.8 179.6h42.2v10.9h-42.2zM1252.4 201.4h42.2v10.9h-42.2zM1125.8 223.1h42.2v10.9h-42.2zM1505.7 223.1h42.2v10.9h-42.2zM1210.2 233.9h42.2v10.9h-42.2zM1083.6 244.8h42.2v10.9h-42.2zM1041.4 255.7h42.2v10.9h-42.2zM1210.2 266.5h42.2v10.9h-42.2zM1041.4 342.5h42.2v10.9h-42.2zM1336.9 353.4h84.4v10.9h-84.4zM1336.9 364.3h42.2v10.9h-42.2zM1168 375.1h42.2v10.9h-42.2zM1294.7 375.1h84.4v10.9h-84.4zM1168 386h42.2v10.9h-42.2zM1505.7 396.9h42.2v10.9h-42.2zM1210.2 418.6h42.2v10.9h-42.2zM1294.7 418.6h42.2v10.9h-42.2zM1210.2 429.4h42.2v10.9h-42.2zM1505.7 429.4h42.2v10.9h-42.2zM1168 440.3h42.2v10.9h-42.2zM1336.9 440.3h42.2v10.9h-42.2zM1336.9 462h42.2v10.9h-42.2zM1336.9 472.9h42.2v10.9h-42.2zM1125.8 494.6h42.2v10.9h-42.2zM1379.1 494.6h42.2v10.9h-42.2zM1168 505.5h42.2v10.9h-42.2zM1125.8 516.3h42.2v10.9h-42.2zM1168 527.2h42.2v10.9h-42.2zM1210.2 538.1h42.2v10.9h-42.2zM1421.3 570.6h42.2v10.9h-42.2zM1421.3 603.2h42.2v10.9h-42.2zM1505.7 624.9h42.2v10.9h-42.2zM1379.1 646.7h42.2v10.9h-42.2zM1336.9 657.5h42.2v10.9h-42.2zM1379.1 690.1h42.2v10.9h-42.2zM1210.2 766.1h42.2v10.9h-42.2z" fill="#f7e0da"/>
<path d="M1463.5 103.6h42.2v10.9h-42.2zM1421.3 190.5h42.2v10.9h-42.2zM1505.7 212.2h42.2v10.9h-42.2zM1463.5 223.1h42.2v10.9h-42.2zM1463.5 233.9h42.2v10.9h-42.2zM1421.3 255.7h42.2v10.9h-42.2zM1083.6 266.5h42.2v10.9h-42.2zM1168 266.5h42.2v10.9h-42.2zM1379.1 277.4h42.2v10.9h-42.2zM1083.6 396.9h84.4v10.9h-84.4zM1210.2 396.9h42.2v10.9h-42.2zM1336.9 396.9h42.2v10.9h-42.2zM1421.3 407.7h42.2v10.9h-42.2zM1505.7 407.7h42.2v10.9h-42.2zM1041.4 429.4h42.2v10.9h-42.2zM1294.7 429.4h42.2v10.9h-42.2zM1210.2 440.3h42.2v10.9h-42.2zM1505.7 440.3h42.2v10.9h-42.2zM1168 451.2h84.4v10.9h-84.4zM1210.2 462h84.4v10.9h-84.4zM1041.4 472.9h42.2v10.9h-42.2zM1168 472.9h42.2v10.9h-42.2zM1210.2 483.7h42.2v10.9h-42.2zM1336.9 483.7h42.2v10.9h-42.2zM1210.2 494.6h42.2v10.9h-42.2zM1336.9 494.6h42.2v10.9h-42.2zM1379.1 505.5h42.2v10.9h-42.2zM1294.7 527.2h42.2v10.9h-42.2zM1421.3 559.8h42.2v10.9h-42.2zM1463.5 614.1h42.2v10.9h-42.2zM1463.5 635.8h42.2v10.9h-42.2zM1379.1 657.5h42.2v10.9h-42.2zM1463.5 722.7h42.2v10.9h-42.2zM1294.7 733.6h84.4v10.9h-84.4zM1421.3 733.6h42.2v10.9h-42.2zM1252.4 744.4h42.2v10.9h-42.2zM1083.6 755.3h42.2v10.9h-42.2zM1421.3 755.3h42.2v10.9h-42.2z" fill="#f9cfc3"/>
<path d="M1379.1 168.8h42.2v10.9h-42.2zM1505.7 201.4h42.2v10.9h-42.2zM1083.6 233.9h42.2v10.9h-42.2zM1083.6 255.7h42.2v10.9h-42.2zM1168 277.4h42.2v10.9h-42.2zM1294.7 396.9h42.2v10.9h-42.2zM1294.7 440.3h42.2v10.9h-42.2zM1168 462h42.2v10.9h-42.2zM1210.2 472.9h42.2v10.9h-42.2zM1379.1 516.3h42.2v10.9h-42.2zM1168 538.1h42.2v10.9h-42.2zM1294.7 538.1h42.2v10.9h-42.2zM1379.1 538.1h42.2v10.9h-42.2zM1463.5 592.4h42.2v10.9h-42.2zM1463.5 624.9h42.2v10.9h-42.2zM1041.4 646.7h42.2v10.9h-42.2zM1463.5 646.7h42.2v10.9h-42.2zM1463.5 657.5h42.2v10.9h-42.2zM1252.4 733.6h42.2v10.9h-42.2zM1041.4 744.4h42.2v10.9h-42.2zM1505.7 755.3h42.2v10.9h-42.2zM1252.4 766.1h84.4v10.9h-84.4z" fill="#f7b8a8"/>
<path d="M1125.8 157.9h42.2v10.9h-42.2zM1125.8 168.8h42.2v10.9h-42.2zM1083.6 223.1h42.2v10.9h-42.2zM1421.3 244.8h42.2v10.9h-42.2zM1041.4 407.7h42.2v10.9h-42.2zM1252.4 407.7h42.2v10.9h-42.2zM1041.4 418.6h42.2v10.9h-42.2zM1252.4 440.3h42.2v10.9h-42.2zM1252.4 451.2h42.2v10.9h-42.2zM1168 483.7h42.2v10.9h-42.2zM1294.7 483.7h42.2v10.9h-42.2zM1168 494.6h42.2v10.9h-42.2zM1294.7 494.6h42.2v10.9h-42.2zM1336.9 527.2h42.2v10.9h-42.2zM1336.9 538.1h42.2v10.9h-42.2zM1336.9 548.9h84.4v10.9h-84.4zM1463.5 548.9h42.2v10.9h-42.2zM1463.5 559.8h42.2v10.9h-42.2zM1463.5 570.6h42.2v10.9h-42.2zM1379.1 581.5h42.2v10.9h-42.2zM1463.5 603.2h42.2v10.9h-42.2zM1505.7 722.7h42.2v10.9h-42.2zM1083.6 744.4h42.2v10.9h-42.2z" fill="#f29a84"/>
<path d="M1083.6 157.9h42.2v10.9h-42.2zM1083.6 168.8h42.2v10.9h-42.2zM1041.4 223.1h42.2v10.9h-42.2zM1125.8 244.8h42.2v10.9h-42.2zM1252.4 396.9h42.2v10.9h-42.2zM1252.4 418.6h42.2v10.9h-42.2zM1252.4 429.4h42.2v10.9h-42.2zM1294.7 451.2h42.2v10.9h-42.2zM1294.7 462h42.2v10.9h-42.2zM1294.7 472.9h42.2v10.9h-42.2zM1379.1 527.2h42.2v10.9h-42.2zM1379.1 559.8h42.2v10.9h-42.2zM1041.4 581.5h42.2v10.9h-42.2zM1421.3 646.7h42.2v10.9h-42.2zM1421.3 722.7h42.2v10.9h-42.2zM1505.7 733.6h42.2v10.9h-42.2zM1505.7 744.4h42.2v10.9h-42.2zM1505.7 766.1h42.2v10.9h-42.2z" fill="#ee7458"/>
<path d="M1083.6 201.4h42.2v10.9h-42.2zM1083.6 212.2h42.2v10.9h-42.2zM1125.8 233.9h42.2v10.9h-42.2zM1125.8 255.7h42.2v10.9h-42.2zM1125.8 266.5h42.2v10.9h-42.2zM1125.8 277.4h42.2v10.9h-42.2zM1210.2 342.5h42.2v10.9h-42.2zM1210.2 353.4h42.2v10.9h-42.2zM1210.2 375.1h42.2v10.9h-42.2zM1336.9 516.3h42.2v10.9h-42.2zM1379.1 570.6h42.2v10.9h-42.2zM1379.1 603.2h42.2v10.9h-42.2zM1421.3 624.9h42.2v10.9h-42.2zM1421.3 657.5h42.2v10.9h-42.2zM1041.4 755.3h42.2v10.9h-42.2z" fill="#e94630"/>
<path d="M1041.4 103.6h42.2v10.9h-42.2zM1041.4 114.5h42.2v10.9h-42.2zM1041.4 125.3h42.2v10.9h-42.2zM1041.4 136.2h42.2v10.9h-42.2zM1041.4 147h42.2v10.9h-42.2zM1083.6 179.6h42.2v10.9h-42.2zM1083.6 190.5h42.2v10.9h-42.2zM1168 288.2h42.2v10.9h-42.2zM1168 299.1h42.2v10.9h-42.2zM1168 310h42.2v10.9h-42.2zM1168 320.8h42.2v10.9h-42.2zM1168 331.7h42.2v10.9h-42.2zM1210.2 364.3h42.2v10.9h-42.2zM1210.2 386h42.2v10.9h-42.2zM1336.9 505.5h42.2v10.9h-42.2zM1379.1 592.4h42.2v10.9h-42.2zM1421.3 614.1h42.2v10.9h-42.2zM1421.3 635.8h42.2v10.9h-42.2zM1463.5 668.4h42.2v10.9h-42.2zM1463.5 679.2h42.2v10.9h-42.2zM1463.5 690.1h42.2v10.9h-42.2zM1463.5 701h42.2v10.9h-42.2zM1463.5 711.8h42.2v10.9h-42.2z" fill="#e8261c"/>
<path d="M1041.4 103.6H1547.9M1041.4 114.5H1547.9M1041.4 125.3H1547.9M1041.4 136.2H1547.9M1041.4 147H1547.9M1041.4 157.9H1547.9M1041.4 168.8H1547.9M1041.4 179.6H1547.9M1041.4 190.5H1547.9M1041.4 201.4H1547.9M1041.4 212.2H1547.9M1041.4 223.1H1547.9M1041.4 233.9H1547.9M1041.4 244.8H1547.9M1041.4 255.7H1547.9M1041.4 266.5H1547.9M1041.4 277.4H1547.9M1041.4 288.2H1547.9M1041.4 299.1H1547.9M1041.4 310H1547.9M1041.4 320.8H1547.9M1041.4 331.7H1547.9M1041.4 342.5H1547.9M1041.4 353.4H1547.9M1041.4 364.3H1547.9M1041.4 375.1H1547.9M1041.4 386H1547.9M1041.4 396.9H1547.9M1041.4 407.7H1547.9M1041.4 418.6H1547.9M1041.4 429.4H1547.9M1041.4 440.3H1547.9M1041.4 451.2H1547.9M1041.4 462H1547.9M1041.4 472.9H1547.9M1041.4 483.7H1547.9M1041.4 494.6H1547.9M1041.4 505.5H1547.9M1041.4 516.3H1547.9M1041.4 527.2H1547.9M1041.4 538.1H1547.9M1041.4 548.9H1547.9M1041.4 559.8H1547.9M1041.4 570.6H1547.9M1041.4 581.5H1547.9M1041.4 592.4H1547.9M1041.4 603.2H1547.9M1041.4 614.1H1547.9M1041.4 624.9H1547.9M1041.4 635.8H1547.9M1041.4 646.7H1547.9M1041.4 657.5H1547.9M1041.4 668.4H1547.9M1041.4 679.2H1547.9M1041.4 690.1H1547.9M1041.4 701H1547.9M1041.4 711.8H1547.9M1041.4 722.7H1547.9M1041.4 733.6H1547.9M1041.4 744.4H1547.9M1041.4 755.3H1547.9M1041.4 766.1H1547.9M1041.4 777H1547.9M1041.4 103.6V777M1083.6 103.6V777M1125.8 103.6V777M1168 103.6V777M1210.2 103.6V777M1252.4 103.6V777M1294.7 103.6V777M1336.9 103.6V777M1379.1 103.6V777M1421.3 103.6V777M1463.5 103.6V777M1505.7 103.6V777M1547.9 103.6V777" stroke="#15101a" stroke-width="1.15" fill="none"/>
<g font-size="11.1" font-weight="bold" font-style="italic"><text x="1551.5" y="112.9">CHRDL1</text><text x="1551.5" y="123.8">GATA3</text><text x="1551.5" y="134.7">ITGA8</text><text x="1551.5" y="145.5">AQP1</text><text x="1551.5" y="156.4">IL1RL1</text><text x="1551.5" y="167.2">MYH11</text><text x="1551.5" y="178.1">TAGLN</text><text x="1551.5" y="189">RERGL</text><text x="1551.5" y="199.8">RGCC</text><text x="1551.5" y="210.7">RRAD</text><text x="1551.5" y="221.5">NTRK3</text><text x="1551.5" y="232.4">NTRK2</text><text x="1551.5" y="243.3">S100A4</text><text x="1551.5" y="254.1">PDLIM5</text><text x="1551.5" y="265">CSRP1</text><text x="1551.5" y="275.8">ACTA2</text><text x="1551.5" y="286.7">ACTG2</text><text x="1551.5" y="297.6">MKI67</text><text x="1551.5" y="308.4">TOP2A</text><text x="1551.5" y="319.3">CENPF</text><text x="1551.5" y="330.2">ASPM</text><text x="1551.5" y="341">TK1</text><text x="1551.5" y="351.9">IFI44L</text><text x="1551.5" y="362.7">STAT1</text><text x="1551.5" y="373.6">GBP4</text><text x="1551.5" y="384.5">IFIT3</text><text x="1551.5" y="395.3">ISG15</text><text x="1551.5" y="406.2">RGS5</text><text x="1551.5" y="417">TMSB4X</text><text x="1551.5" y="427.9">SUCNR1</text><text x="1551.5" y="438.8">ITM2C</text><text x="1551.5" y="449.6">FXYD6</text><text x="1551.5" y="460.5">CD36</text><text x="1551.5" y="471.4">CYGB</text><text x="1551.5" y="482.2">CD248</text><text x="1551.5" y="493.1">THY1</text><text x="1551.5" y="503.9">COL4A1</text><text x="1551.5" y="514.8">CYSLTR2</text><text x="1551.5" y="525.7">AGT</text><text x="1551.5" y="536.5">FN1</text><text x="1551.5" y="547.4">SPARC</text><text x="1551.5" y="558.2">IL33</text><text x="1551.5" y="569.1">FAP</text><text x="1551.5" y="580">THBS2</text><text x="1551.5" y="590.8">POSTN</text><text x="1551.5" y="601.7">ARL4C</text><text x="1551.5" y="612.5">CTHRC1</text><text x="1551.5" y="623.4">FBLN5</text><text x="1551.5" y="634.3">C7</text><text x="1551.5" y="645.1">SFRP1</text><text x="1551.5" y="656">PDGFRA</text><text x="1551.5" y="666.9">GPC3</text><text x="1551.5" y="677.7">MFAP5</text><text x="1551.5" y="688.6">SFRP2</text><text x="1551.5" y="699.4">SFRP4</text><text x="1551.5" y="710.3">SCARA5</text><text x="1551.5" y="721.2">CFD</text><text x="1551.5" y="732">ADH1B</text><text x="1551.5" y="742.9">ABCC9</text><text x="1551.5" y="753.7">TM4SF1</text><text x="1551.5" y="764.6">TIMP3</text><text x="1551.5" y="775.5">STEAP4</text></g>
<text font-size="13.3" font-weight="bold" transform="translate(1064 100.6) rotate(-43)">Mesangial cell</text>
<text font-size="13.3" font-weight="bold" transform="translate(1106.2 100.6) rotate(-43)">vSMC 1</text>
<text font-size="13.3" font-weight="bold" transform="translate(1148.4 100.6) rotate(-43)">vSMC 2</text>
<text font-size="13.3" font-weight="bold" transform="translate(1190.6 100.6) rotate(-43)">Cycling Pericyte</text>
<text font-size="13.3" font-weight="bold" transform="translate(1232.8 100.6) rotate(-43)"><tspan font-style="italic">IFI</tspan><tspan dx="-0.03em" dy="-0.62em" font-size="56%" font-style="normal">+</tspan><tspan dy="0.347em">​</tspan> Pericyte</text>
<text font-size="13.3" font-weight="bold" transform="translate(1275 100.6) rotate(-43)">Pericyte 1</text>
<text font-size="13.3" font-weight="bold" transform="translate(1317.3 100.6) rotate(-43)">Pericyte 2</text>
<text font-size="13.3" font-weight="bold" transform="translate(1359.5 100.6) rotate(-43)"><tspan font-style="italic">CYSLTR2</tspan><tspan dx="-0.03em" dy="-0.62em" font-size="56%" font-style="normal">+</tspan><tspan dy="0.347em">​</tspan> Fibroblast</text>
<text font-size="13.3" font-weight="bold" transform="translate(1401.7 100.6) rotate(-43)"><tspan font-style="italic">FAP</tspan><tspan dx="-0.03em" dy="-0.62em" font-size="56%" font-style="normal">+</tspan><tspan dy="0.347em">​</tspan> Fibroblast</text>
<text font-size="13.3" font-weight="bold" transform="translate(1443.9 100.6) rotate(-43)"><tspan font-style="italic">FBLN5</tspan><tspan dx="-0.03em" dy="-0.62em" font-size="56%" font-style="normal">+</tspan><tspan dy="0.347em">​</tspan> Fibroblast</text>
<text font-size="13.3" font-weight="bold" transform="translate(1486.1 100.6) rotate(-43)"><tspan font-style="italic">MFAP5</tspan><tspan dx="-0.03em" dy="-0.62em" font-size="56%" font-style="normal">+</tspan><tspan dy="0.347em">​</tspan> Fibroblast</text>
<text font-size="13.3" font-weight="bold" transform="translate(1528.3 100.6) rotate(-43)"><tspan font-style="italic">ADH1B</tspan><tspan dx="-0.03em" dy="-0.62em" font-size="56%" font-style="normal">+</tspan><tspan dy="0.347em">​</tspan> Fibroblast</text>
<rect x="1631.8" y="362.5" width="13.8" height="155.6" fill="url(#zsc)"/>
<path d="M1631.8 364.7h3M1642.6 364.7h3M1631.8 515.8h3M1642.6 515.8h3" stroke="#fff" stroke-width=".8"/>
<text x="1648" y="370.2" font-size="18.3" font-weight="bold">Max</text>
<text x="1648" y="521.6" font-size="18.3" font-weight="bold">Min</text>
<text font-size="20" text-anchor="middle" font-weight="bold" transform="translate(1625.2 439.5) rotate(-90)">Z−score</text>
</g>
<g id="panelC">
<text x="10.2" y="818.1" font-size="36.3" font-weight="bold">C</text>
<text x="513" y="826.8" font-size="27.3" text-anchor="middle" font-weight="bold">AT VS PT VS TT</text>
<text x="1244.3" y="827.6" font-size="27.3" text-anchor="middle" font-weight="bold">with TT VS without TT</text>
<path d="M274 1185H752V841.5" stroke="#1a1a1a" stroke-width="1.5" fill="none"/>
<path d="M752 857.9h4.5M752 886.1h4.5M752 914.2h4.5M752 942.3h4.5M752 970.9h4.5M752 999h4.5M752 1027.1h4.5M752 1055.2h4.5M752 1083.3h4.5M752 1111.4h4.5M752 1139.6h4.5M752 1167.7h4.5M330.8 1185v4.5M740.4 1185v4.5M1004.7 857.9h-4.5M1004.7 886.1h-4.5M1004.7 914.2h-4.5M1004.7 942.3h-4.5M1004.7 970.9h-4.5M1004.7 999h-4.5M1004.7 1027.1h-4.5M1004.7 1055.2h-4.5M1004.7 1083.3h-4.5M1004.7 1111.4h-4.5M1004.7 1139.6h-4.5M1004.7 1167.7h-4.5M1114.2 1184.5v4.5M1246.9 1184.5v4.5M1379.6 1184.5v4.5" stroke="#333" stroke-width="1.2" fill="none"/>
<path d="M1004.7 841.5V1184.5H1484" stroke="#1a1a1a" stroke-width="1.5" fill="none"/>
<line x1="453.8" y1="841.5" x2="453.8" y2="1185" stroke="#000" stroke-width="1.6" stroke-dasharray="5.5 4"/>
<line x1="1291.3" y1="841.5" x2="1291.3" y2="1184.5" stroke="#000" stroke-width="1.6" stroke-dasharray="5.5 4"/>
<circle cx="295.7" cy="857.9" r="9" fill="#984ea3"/>
<circle cx="360.3" cy="857.9" r="8.8" fill="#4daf4a"/>
<path d="M644.8 849.6L652.6 863L637 863Z" fill="#ff7f00"/>
<circle cx="360.3" cy="886.1" r="7.2" fill="#984ea3"/>
<circle cx="516.9" cy="886.1" r="6.8" fill="#4daf4a"/>
<path d="M638.2 878.4L645.4 890.8L631 890.8Z" fill="#ff7f00"/>
<path d="M295.7 907.4L302 918.4L289.4 918.4Z" fill="#4daf4a"/>
<rect x="289.1" y="908.6" width="11.2" height="11.2" fill="#984ea3"/>
<rect x="706.8" y="912" width="4.5" height="4.5" fill="#ff7f00"/>
<circle cx="694.5" cy="942.3" r="4.8" fill="#984ea3"/>
<path d="M689.8 934.9L696.7 946.8L682.9 946.8Z" fill="#4daf4a"/>
<rect x="684.6" y="937.1" width="10.3" height="10.3" fill="#ff7f00"/>
<path d="M295.2 959.8L305.6 977.7L284.8 977.7Z" fill="#4daf4a"/>
<rect x="352" y="963" width="15.8" height="15.8" fill="#984ea3"/>
<rect x="603.9" y="966.6" width="8.6" height="8.6" fill="#ff7f00"/>
<path d="M690.2 991.9L696.8 1003.4L683.6 1003.4Z" fill="#ff7f00"/>
<rect x="720.1" y="996.5" width="5" height="5" fill="#984ea3"/>
<circle cx="731" cy="999" r="2" fill="#4daf4a"/>
<rect x="351.9" y="1020.1" width="14" height="14" fill="#984ea3"/>
<path d="M531.4 1018.5L539.4 1032.4L523.4 1032.4Z" fill="#4daf4a"/>
<rect x="589" y="1022.4" width="9.5" height="9.5" fill="#ff7f00"/>
<path d="M459.2 1045L468.7 1061.4L449.7 1061.4Z" fill="#4daf4a"/>
<rect x="602.8" y="1049.8" width="10.8" height="10.8" fill="#984ea3"/>
<path d="M623.7 1047.2L631.2 1060.1L616.2 1060.1Z" fill="#ff7f00"/>
<path d="M601.7 1075L609.5 1088.4L593.9 1088.4Z" fill="#4daf4a"/>
<rect x="670.1" y="1078.6" width="9.5" height="9.5" fill="#984ea3"/>
<path d="M694 1077.7L699.2 1086.7L688.8 1086.7Z" fill="#ff7f00"/>
<circle cx="390.3" cy="1111.4" r="6.8" fill="#4daf4a"/>
<rect x="667.7" y="1105.3" width="12.2" height="12.2" fill="#ff7f00"/>
<circle cx="694.5" cy="1111.4" r="4.2" fill="#984ea3"/>
<circle cx="657" cy="1139.6" r="5.5" fill="#984ea3"/>
<path d="M665.4 1130.3L674 1145.3L656.8 1145.3Z" fill="#ff7f00"/>
<circle cx="723" cy="1139.6" r="3.8" fill="#4daf4a"/>
<circle cx="507.5" cy="1167.7" r="6.5" fill="#984ea3"/>
<path d="M590 1159.1L598 1173L582 1173Z" fill="#ff7f00"/>
<circle cx="694" cy="1167.7" r="4" fill="#4daf4a"/>
<circle cx="1063.2" cy="857.9" r="5.5" fill="#377eb8"/>
<circle cx="1125.5" cy="857.9" r="5.5" fill="#e41a1c"/>
<path d="M1026.8 882.1L1030.5 888.6L1023.1 888.6Z" fill="#377eb8"/>
<path d="M1107.9 878.4L1115.1 890.8L1100.7 890.8Z" fill="#e41a1c"/>
<path d="M1026.1 910.2L1029.8 916.7L1022.4 916.7Z" fill="#e41a1c"/>
<path d="M1035.6 911.4L1038.2 915.9L1033 915.9Z" fill="#377eb8"/>
<path d="M1033 934.9L1039.9 946.8L1026.1 946.8Z" fill="#e41a1c"/>
<circle cx="1107.9" cy="942.3" r="6.2" fill="#377eb8"/>
<circle cx="1033" cy="970.9" r="5" fill="#e41a1c"/>
<circle cx="1152.5" cy="970.9" r="5" fill="#377eb8"/>
<circle cx="1033" cy="999" r="4.2" fill="#e41a1c"/>
<path d="M1200.3 990.4L1208.3 1004.3L1192.2 1004.3Z" fill="#377eb8"/>
<circle cx="1033" cy="1027.1" r="5" fill="#e41a1c"/>
<path d="M1107.9 1020.9L1113.7 1030.9L1102.2 1030.9Z" fill="#377eb8"/>
<circle cx="1307.9" cy="1055.2" r="7.2" fill="#377eb8"/>
<circle cx="1462.6" cy="1055.2" r="8.5" fill="#e41a1c"/>
<circle cx="1311" cy="1083.3" r="7.2" fill="#377eb8"/>
<circle cx="1462.6" cy="1083.3" r="8.5" fill="#e41a1c"/>
<circle cx="1063.2" cy="1111.4" r="4.5" fill="#e41a1c"/>
<circle cx="1250" cy="1111.4" r="8.5" fill="#377eb8"/>
<circle cx="1125.5" cy="1139.6" r="8.5" fill="#377eb8"/>
<circle cx="1265.1" cy="1139.6" r="8.2" fill="#e41a1c"/>
<circle cx="1125.5" cy="1167.7" r="5.5" fill="#e41a1c"/>
<circle cx="1150" cy="1167.7" r="6.2" fill="#377eb8"/>
<text x="330.8" y="1204.8" font-size="16" text-anchor="middle" font-weight="bold" fill="#4d4d4d">1</text>
<text x="740.4" y="1204.8" font-size="16" text-anchor="middle" font-weight="bold" fill="#4d4d4d">0</text>
<text x="1114.2" y="1204.8" font-size="16" text-anchor="middle" font-weight="bold" fill="#4d4d4d">0.3</text>
<text x="1246.9" y="1204.8" font-size="16" text-anchor="middle" font-weight="bold" fill="#4d4d4d">0.6</text>
<text x="1379.6" y="1204.8" font-size="16" text-anchor="middle" font-weight="bold" fill="#4d4d4d">0.9</text>
<text x="513" y="1226.7" font-size="22.3" text-anchor="middle" font-weight="bold">−log10(FDR)</text>
<text x="1244.3" y="1226.7" font-size="22.3" text-anchor="middle" font-weight="bold">−log10(FDR)</text>
<text x="883.4" y="865.7" font-size="22.4" text-anchor="middle" font-weight="bold">Mesangial cell</text>
<text x="883.4" y="893.9" font-size="22.4" text-anchor="middle" font-weight="bold">vSMC 1</text>
<text x="883.4" y="922" font-size="22.4" text-anchor="middle" font-weight="bold">vSMC 2</text>
<text x="883.4" y="950.1" font-size="22.4" text-anchor="middle" font-weight="bold">Cycling Pericyte</text>
<text x="883.4" y="978.7" font-size="22.4" text-anchor="middle" font-weight="bold"><tspan font-style="italic">IFI</tspan><tspan dx="-0.03em" dy="-0.62em" font-size="56%" font-style="normal">+</tspan><tspan dy="0.347em">​</tspan> Pericyte</text>
<text x="883.4" y="1006.8" font-size="22.4" text-anchor="middle" font-weight="bold">Pericyte 1</text>
<text x="883.4" y="1034.9" font-size="22.4" text-anchor="middle" font-weight="bold">Pericyte 2</text>
<text x="883.4" y="1063" font-size="22.4" text-anchor="middle" font-weight="bold"><tspan font-style="italic">CYSLTR2</tspan><tspan dx="-0.03em" dy="-0.62em" font-size="56%" font-style="normal">+</tspan><tspan dy="0.347em">​</tspan> Fibroblast</text>
<text x="883.4" y="1091.1" font-size="22.4" text-anchor="middle" font-weight="bold"><tspan font-style="italic">FAP</tspan><tspan dx="-0.03em" dy="-0.62em" font-size="56%" font-style="normal">+</tspan><tspan dy="0.347em">​</tspan> Fibroblast</text>
<text x="883.4" y="1119.2" font-size="22.4" text-anchor="middle" font-weight="bold"><tspan font-style="italic">FBLN5</tspan><tspan dx="-0.03em" dy="-0.62em" font-size="56%" font-style="normal">+</tspan><tspan dy="0.347em">​</tspan> Fibroblast</text>
<text x="883.4" y="1147.4" font-size="22.4" text-anchor="middle" font-weight="bold"><tspan font-style="italic">MFAP5</tspan><tspan dx="-0.03em" dy="-0.62em" font-size="56%" font-style="normal">+</tspan><tspan dy="0.347em">​</tspan> Fibroblast</text>
<text x="883.4" y="1175.5" font-size="22.4" text-anchor="middle" font-weight="bold"><tspan font-style="italic">ADH1B</tspan><tspan dx="-0.03em" dy="-0.62em" font-size="56%" font-style="normal">+</tspan><tspan dy="0.347em">​</tspan> Fibroblast</text>
<text x="251.6" y="862.6" font-size="19.8" text-anchor="end" font-weight="bold">Comparison</text>
<circle cx="9.4" cy="885.1" r="7.6" fill="#4daf4a"/>
<text x="251.6" y="891.1" font-size="17.3" text-anchor="end">AT VS  PT in Patients with TT</text>
<circle cx="9.4" cy="906.7" r="7.6" fill="#984ea3"/>
<text x="251.6" y="912.7" font-size="17.3" text-anchor="end">AT VS  TT in Patients with TT</text>
<circle cx="9.4" cy="928.2" r="7.6" fill="#ff7f00"/>
<text x="251.6" y="934.2" font-size="17.3" text-anchor="end">PT VS  TT in Patients with TT</text>
<text x="251.6" y="983" font-size="19.8" text-anchor="end" font-weight="bold">Enrichment</text>
<circle cx="118.5" cy="1006" r="7.3" fill="#000"/>
<text x="251.6" y="1012" font-size="17.3" text-anchor="end">Enriched in AT</text>
<path d="M116.5 1017.3L126 1033.8L107 1033.8Z" fill="#000"/>
<text x="251.6" y="1034" font-size="17.3" text-anchor="end">Enriched in PT</text>
<rect x="110.2" y="1041.8" width="14.5" height="14.5" fill="#000"/>
<text x="251.6" y="1055" font-size="17.3" text-anchor="end">Enriched in TT</text>
<text x="251.6" y="1104" font-size="19.8" text-anchor="end" font-weight="bold">Fold Change</text>
<circle cx="142" cy="1126.9" r="5.6" fill="#000"/>
<text x="163" y="1133" font-size="17.3">0.25</text>
<circle cx="142" cy="1149" r="7.1" fill="#000"/>
<text x="163" y="1155.1" font-size="17.3">0.50</text>
<circle cx="142" cy="1171" r="8.6" fill="#000"/>
<text x="163" y="1177.1" font-size="17.3">0.75</text>
<text x="1505.3" y="882.4" font-size="19.8" font-weight="bold">Comparison</text>
<circle cx="1516" cy="907" r="7.6" fill="#e41a1c"/>
<text x="1536" y="913" font-size="17.3">with_TT VS without TT in AT</text>
<circle cx="1516" cy="927.7" r="7.6" fill="#377eb8"/>
<text x="1536" y="933.7" font-size="17.3">with_TT VS without TT in PT</text>
<text x="1505.3" y="982.4" font-size="19.8" font-weight="bold">Enrichment</text>
<circle cx="1516" cy="1005.7" r="7.3" fill="#000"/>
<text x="1536" y="1011.7" font-size="17.3">Enriched in with_TT</text>
<path d="M1516 1017L1525.5 1033.5L1506.5 1033.5Z" fill="#000"/>
<text x="1536" y="1033.7" font-size="17.3">Enriched in without_TT</text>
<text x="1505.3" y="1081.8" font-size="19.8" font-weight="bold">Fold Change</text>
<circle cx="1516" cy="1105" r="5.6" fill="#000"/>
<text x="1536" y="1111.1" font-size="17.3">0.25</text>
<circle cx="1516" cy="1126.4" r="7.1" fill="#000"/>
<text x="1536" y="1132.5" font-size="17.3">0.50</text>
<circle cx="1516" cy="1148.4" r="8.6" fill="#000"/>
<text x="1536" y="1154.5" font-size="17.3">0.75</text>
</g>
<g id="panelD">
<text x="10.5" y="1277.3" font-size="36.3" font-weight="bold">D</text>
<rect x="4.1" y="1294.9" width="548.4" height="308.7" fill="none" stroke="#803a92" stroke-width="4.9"/>
<rect x="2.4" y="1680.1" width="548.7" height="316.7" fill="none" stroke="#803a92" stroke-width="4.9"/>
<line x1="276.2" y1="1628.3" x2="276.2" y2="1644.5" stroke="#231815" stroke-width="2.2"/><path d="M276.2 1656.5l-9.5 -20l9.5 6l9.5 -6z" fill="#231815"/>
<g transform="translate(20 1330) scale(0.19113)">
<circle cx="224" cy="122" r="28" fill="#0f6db7"/><path d="M159 175q0 -17 17 -17h96q17 0 17 17v87q0 10 -10 10t-10 -10v-72h-8v195q0 11 -16 11t-16 -11v-110h-10v110q0 11 -16 11t-16 -11v-195h-8v72q0 10 -10 10t-10 -10z" fill="#0f6db7"/>
<circle cx="335" cy="122" r="28" fill="#0f6db7"/><path d="M270 175q0 -17 17 -17h96q17 0 17 17v87q0 10 -10 10t-10 -10v-72h-8v195q0 11 -16 11t-16 -11v-110h-10v110q0 11 -16 11t-16 -11v-195h-8v72q0 10 -10 10t-10 -10z" fill="#0f6db7"/>
<circle cx="449" cy="122" r="28" fill="#0f6db7"/><path d="M384 175q0 -17 17 -17h96q17 0 17 17v87q0 10 -10 10t-10 -10v-72h-8v195q0 11 -16 11t-16 -11v-110h-10v110q0 11 -16 11t-16 -11v-195h-8v72q0 10 -10 10t-10 -10z" fill="#0f6db7"/>
<circle cx="567" cy="258" r="15" fill="#0f6db7"/>
<circle cx="603" cy="258" r="15" fill="#0f6db7"/>
<circle cx="640" cy="258" r="15" fill="#0f6db7"/>
<circle cx="224" cy="718" r="28" fill="#b11a22"/><path d="M159 771q0 -17 17 -17h96q17 0 17 17v87q0 10 -10 10t-10 -10v-72h-8v195q0 11 -16 11t-16 -11v-110h-10v110q0 11 -16 11t-16 -11v-195h-8v72q0 10 -10 10t-10 -10z" fill="#b11a22"/>
<circle cx="335" cy="718" r="28" fill="#b11a22"/><path d="M270 771q0 -17 17 -17h96q17 0 17 17v87q0 10 -10 10t-10 -10v-72h-8v195q0 11 -16 11t-16 -11v-110h-10v110q0 11 -16 11t-16 -11v-195h-8v72q0 10 -10 10t-10 -10z" fill="#b11a22"/>
<circle cx="449" cy="718" r="28" fill="#b11a22"/><path d="M384 771q0 -17 17 -17h96q17 0 17 17v87q0 10 -10 10t-10 -10v-72h-8v195q0 11 -16 11t-16 -11v-110h-10v110q0 11 -16 11t-16 -11v-195h-8v72q0 10 -10 10t-10 -10z" fill="#b11a22"/>
<circle cx="567" cy="857" r="15" fill="#b11a22"/>
<circle cx="603" cy="857" r="15" fill="#b11a22"/>
<circle cx="640" cy="857" r="15" fill="#b11a22"/>
</g>
<line x1="162" y1="1378.2" x2="176.8" y2="1378.2" stroke="#231815" stroke-width="2.2"/><path d="M187 1378.2l-17 -8.6l5.1 8.6l-5.1 8.6z" fill="#231815"/>
<line x1="162" y1="1492.1" x2="176.8" y2="1492.1" stroke="#231815" stroke-width="2.2"/><path d="M187 1492.1l-17 -8.6l5.1 8.6l-5.1 8.6z" fill="#231815"/>
<text x="25.7" y="1438.6" font-size="19.7" font-weight="bold" fill="#0f6db7">without TT (<tspan font-style="italic">n</tspan>=3)</text>
<text x="37.6" y="1551.7" font-size="19.7" font-weight="bold" fill="#b11a22">with TT (<tspan font-style="italic">n</tspan>=3)</text>
<text x="320.4" y="1378.1" font-size="19.7" font-weight="bold" fill="#0f6db7">Primary tumors (<tspan font-style="italic">n</tspan>=3)</text>
<text x="320.4" y="1414.4" font-size="19.7" font-weight="bold" fill="#0f6db7">Adjacent tissues (<tspan font-style="italic">n</tspan>=3)</text>
<text x="319.5" y="1474.8" font-size="19.7" font-weight="bold" fill="#b11a22">Primary tumors (<tspan font-style="italic">n</tspan>=3)</text>
<text x="319.5" y="1513.5" font-size="19.7" font-weight="bold" fill="#b11a22">Adjacent tissues(<tspan font-style="italic">n</tspan>=3)</text>
<text x="320.4" y="1551.5" font-size="19.7" font-weight="bold" fill="#b11a22">Tumor thrombi (<tspan font-style="italic">n</tspan>=3)</text>
<g transform="translate(190 1340) scale(0.08631)"><path d="M95 345L215 318Q235 430 300 455L470 462Q560 470 640 475L730 455L740 500L640 530Q600 540 560 560L600 640L680 620L700 660L600 690L570 770L540 760L500 560Q400 520 300 540Q270 560 268 640L305 900L235 915L150 470Z" fill="#43a2de"/><path d="M335 165Q330 600 300 900L350 1055Q390 1070 432 1055Q445 500 485 165Z" fill="#ea5560"/><path d="M360 220Q350 600 345 1000" stroke="#f6a0a4" stroke-width="22" fill="none" opacity=".6"/><ellipse cx="410" cy="165" rx="75" ry="25" fill="#e1232b"/><path d="M650 530Q560 700 560 935L605 940Q615 760 720 600Z" fill="#eba266"/><path d="M480 480Q560 500 640 460L760 600" stroke="#ea4a55" stroke-width="22" fill="none"/><path d="M640 500L730 470M650 600L720 640" stroke="#43a2de" stroke-width="28" fill="none"/><path d="M520 185L470 300L500 360M545 310L470 470" stroke="#43a2de" stroke-width="6" fill="none"/><path d="M592 145Q800 190 960 300Q1090 430 1125 620L1128 745L1090 740Q1090 500 950 330Q800 220 600 175Z" fill="#f6d35c"/><path d="M540 230Q600 150 760 215Q940 290 1030 420Q1110 560 1085 700Q1040 900 900 1060Q800 1110 750 1070Q640 900 640 760Q650 650 770 610Q730 460 600 420Q510 380 540 230Z" fill="url(#kid)"/><path d="M760 300Q860 250 960 340Q1040 430 1040 510Q940 560 820 540Q750 500 740 400Z" fill="#d9606e"/><path d="M760 300Q860 250 960 340Q1040 430 1040 510Q940 560 820 540Q750 500 740 400Z" fill="url(#tumtex)"/><path d="M770 560Q900 600 1050 520" stroke="#f4d4d0" stroke-width="14" fill="none" opacity=".8"/><ellipse cx="660" cy="310" rx="60" ry="85" fill="#f2cfcb" opacity=".55" transform="rotate(25 660 310)"/><ellipse cx="780" cy="860" rx="50" ry="100" fill="#f4d2ce" opacity=".5" transform="rotate(10 780 860)"/><path d="M1445 230Q1165 -60 830 335M1495 725Q1150 860 825 770" stroke="#231815" stroke-width="19" fill="none"/></g>
<g transform="translate(180 1430) scale(0.09864)"><path d="M140 900Q250 760 450 715Q520 760 510 820Q470 880 380 940Q420 1050 400 1180Q360 1290 300 1295Q200 1200 150 1080Q110 980 140 900Z" fill="url(#kid)"/><ellipse cx="330" cy="1130" rx="40" ry="85" fill="#f4d2ce" opacity=".5" transform="rotate(-10 330 1130)"/><path d="M840 680Q900 610 1000 650Q1150 730 1210 860Q1240 980 1180 1120Q1100 1260 1010 1262Q930 1200 905 1050Q930 960 990 900Q960 830 850 780Q820 730 840 680Z" fill="url(#kid)"/><path d="M990 700Q1080 720 1150 780Q1200 840 1180 880Q1080 900 1000 880Q960 800 990 700Z" fill="#d9606e"/><path d="M990 700Q1080 720 1150 780Q1200 840 1180 880Q1080 900 1000 880Q960 800 990 700Z" fill="url(#tumtex)"/><ellipse cx="1010" cy="1090" rx="45" ry="75" fill="#f4d2ce" opacity=".5"/><ellipse cx="900" cy="720" rx="45" ry="70" fill="#f4d0cc" opacity=".6" transform="rotate(30 900 720)"/><path d="M420 980Q450 1080 450 1190L485 1190Q490 1070 460 970Z" fill="#eba266"/><path d="M880 940Q850 1040 850 1150L890 1160Q890 1050 930 950Z" fill="#eba266"/><path d="M520 600L600 600Q620 800 650 900L690 1130L630 1140L590 920Q540 760 520 600Z" fill="#43a2de"/><path d="M590 900Q500 950 380 900L380 960Q500 1000 600 950ZM820 830L860 1040L830 1040L800 860Z" fill="#43a2de"/><path d="M350 880Q450 960 580 860" stroke="#ea4a55" stroke-width="14" fill="none"/><path d="M705 560L800 560Q770 900 770 1240Q740 1255 715 1240Q700 900 705 560Z" fill="#ea5560"/><path d="M735 600Q730 900 735 1200" stroke="#f6a0a4" stroke-width="16" fill="none" opacity=".6"/><path d="M545 700L600 690Q640 780 660 830L800 830Q900 860 980 900L960 940Q860 900 800 880L660 880L650 950L600 940Q580 800 545 700Z" fill="#e9b4a8"/><path d="M860 850L1000 940M880 900L960 870" stroke="#ea4a55" stroke-width="10" fill="none"/><path d="M140 870Q110 600 125 480Q160 330 290 250Q420 205 560 225Q600 240 640 228Q820 210 1050 265Q960 360 920 430Q900 500 820 560Q700 590 620 580Q560 640 480 700Q330 770 140 870Z" fill="url(#liv)"/><path d="M590 240Q620 400 610 575" stroke="#b84058" stroke-width="10" fill="none" opacity=".6"/><path d="M250 420Q300 330 500 320" stroke="#f4c0c8" stroke-width="16" fill="none" opacity=".75" stroke-linecap="round"/><path d="M700 330Q760 290 860 300" stroke="#f4c0c8" stroke-width="14" fill="none" opacity=".75" stroke-linecap="round"/><path d="M1375 305Q1110 400 1095 700M1365 720Q1100 710 1045 1035M1410 1130C1100 1330 700 1250 640 775" stroke="#231815" stroke-width="16.5" fill="none"/></g>
<g transform="translate(40 1690) scale(0.22195)"><path d="M55 292C106 348 173 364 268 372C215 317 137 299 55 292Z" fill="#5e8e2a" stroke="#231815" stroke-width="5" stroke-linejoin="round"/><circle cx="160" cy="334" r="13" fill="#58a040" stroke="#2c5a16" stroke-width="2.5"/><path d="M160 378C211 434 278 449 372 455C319 400 241 384 160 378Z" fill="#5e8e2a" stroke="#231815" stroke-width="5" stroke-linejoin="round"/><circle cx="265" cy="418" r="13" fill="#58a040" stroke="#2c5a16" stroke-width="2.5"/><path d="M400 345C442 391 496 399 572 398C529 353 466 344 400 345Z" fill="#5e8e2a" stroke="#231815" stroke-width="5" stroke-linejoin="round"/><circle cx="485" cy="373" r="12" fill="#58a040" stroke="#2c5a16" stroke-width="2.5"/><path d="M82 255Q144 228 146 218Q148 207 107 170Q152 186 164 179Q176 172 186 135Q198 172 210 176Q221 181 265 155Q234 200 238 213Q240 227 273 248Q235 246 230 253Q224 261 239 295Q206 268 192 270Q178 269 138 316Q161 259 155 252Q149 244 82 255Z" fill="#c183c3" stroke="#231815" stroke-width="5.5" stroke-linejoin="miter"/><circle cx="190" cy="219" r="21" fill="#7a2c90"/><circle cx="201" cy="253" r="5" fill="#fff"/><circle cx="222" cy="231" r="5" fill="#fff"/><circle cx="154" cy="238" r="5" fill="#fff"/><circle cx="154" cy="220" r="5" fill="#e8202a"/><circle cx="154" cy="225" r="5" fill="#b8905a"/><circle cx="159" cy="233" r="5" fill="#231815"/><path d="M555 206Q494 201 488 209Q483 217 502 259Q474 231 464 233Q455 236 444 274Q439 230 429 225Q420 220 369 248Q404 206 401 191Q400 177 353 145Q413 159 421 151Q429 143 420 80Q450 141 462 143Q475 147 510 129Q493 159 497 171Q500 184 555 206Z" fill="#c183c3" stroke="#231815" stroke-width="5.5" stroke-linejoin="miter"/><circle cx="455" cy="182" r="20" fill="#7a2c90"/><circle cx="478" cy="201" r="5" fill="#fff"/><circle cx="486" cy="176" r="5" fill="#fff"/><circle cx="474" cy="205" r="5" fill="#fff"/><circle cx="474" cy="201" r="5" fill="#e8202a"/><circle cx="460" cy="157" r="5" fill="#b8905a"/><circle cx="422" cy="173" r="5" fill="#231815"/><circle cx="282" cy="148" r="43" fill="#f2c232" stroke="#231815" stroke-width="5"/><circle cx="288" cy="155" r="27" fill="#ee7e1e" stroke="#231815" stroke-width="3.5"/><path d="M325 115C368 155 416 151 482 132C438 94 382 99 325 115Z" fill="#f08a9c" stroke="#231815" stroke-width="5" stroke-linejoin="round"/><circle cx="403" cy="125" r="13" fill="#e0306a" stroke="#2c5a16" stroke-width="2.5"/><path d="M262 192C293 237 337 241 400 232C367 188 316 184 262 192Z" fill="#f08a9c" stroke="#231815" stroke-width="5" stroke-linejoin="round"/><circle cx="330" cy="214" r="13" fill="#e0306a" stroke="#2c5a16" stroke-width="2.5"/><circle cx="376" cy="264" r="43" fill="#f2c232" stroke="#231815" stroke-width="5"/><circle cx="382" cy="271" r="27" fill="#ee7e1e" stroke="#231815" stroke-width="3.5"/><path d="M306 391Q288 360 277 359Q267 357 241 380Q256 344 250 337Q246 329 204 329Q236 314 238 303Q241 293 202 252Q258 281 270 275Q283 272 302 232Q302 275 311 282Q319 289 359 280Q330 302 331 310Q331 319 381 340Q323 335 315 344Q306 353 306 391Z" fill="#c183c3" stroke="#231815" stroke-width="5.5" stroke-linejoin="miter"/><circle cx="282" cy="309" r="19" fill="#7a2c90"/><circle cx="311" cy="331" r="5" fill="#fff"/><circle cx="286" cy="346" r="5" fill="#fff"/><circle cx="264" cy="336" r="5" fill="#fff"/><circle cx="314" cy="307" r="5" fill="#e8202a"/><circle cx="254" cy="299" r="5" fill="#b8905a"/><circle cx="296" cy="339" r="5" fill="#231815"/><path d="M370 318C416 343 457 328 510 296C463 272 415 290 370 318Z" fill="#f08a9c" stroke="#231815" stroke-width="5" stroke-linejoin="round"/><circle cx="440" cy="308" r="12" fill="#e0306a" stroke="#2c5a16" stroke-width="2.5"/><circle cx="360" cy="380" r="43" fill="#f2c232" stroke="#231815" stroke-width="5"/><circle cx="366" cy="387" r="27" fill="#ee7e1e" stroke="#231815" stroke-width="3.5"/><path d="M1186 479Q1151 504 1152 513Q1153 522 1209 540Q1144 541 1133 554Q1120 564 1114 612Q1097 574 1084 571Q1071 566 1021 605Q1058 552 1053 542Q1049 533 999 528Q1050 516 1052 507Q1055 498 1026 470Q1069 482 1084 475Q1100 471 1127 429Q1125 472 1134 480Q1143 488 1186 479Z" fill="#c183c3" stroke="#231815" stroke-width="5.5" stroke-linejoin="miter"/><circle cx="1094" cy="516" r="22" fill="#7a2c90"/><circle cx="1063" cy="505" r="5" fill="#fff"/><circle cx="1075" cy="498" r="5" fill="#fff"/><circle cx="1127" cy="504" r="5" fill="#fff"/><circle cx="1132" cy="523" r="5" fill="#e8202a"/><circle cx="1071" cy="530" r="5" fill="#b8905a"/><circle cx="1115" cy="550" r="5" fill="#231815"/><path d="M1160 476Q1210 476 1222 464Q1238 454 1249 386Q1261 453 1272 457Q1282 461 1329 424Q1298 473 1303 484Q1308 496 1346 508Q1304 514 1300 522Q1297 531 1322 561Q1286 551 1267 558Q1248 560 1211 605Q1227 543 1219 535Q1212 525 1169 526Q1203 511 1203 503Q1203 496 1160 476Z" fill="#c183c3" stroke="#231815" stroke-width="5.5" stroke-linejoin="miter"/><circle cx="1257" cy="509" r="22" fill="#7a2c90"/><circle cx="1251" cy="467" r="5" fill="#fff"/><circle cx="1265" cy="466" r="5" fill="#fff"/><circle cx="1232" cy="535" r="5" fill="#fff"/><circle cx="1287" cy="481" r="5" fill="#e8202a"/><circle cx="1221" cy="524" r="5" fill="#b8905a"/><circle cx="1278" cy="477" r="5" fill="#231815"/><path d="M1320 444Q1368 470 1382 465Q1396 461 1414 426Q1416 470 1426 477Q1435 484 1504 457Q1450 500 1451 514Q1450 529 1497 568Q1440 546 1433 552Q1426 559 1442 617Q1408 563 1395 562Q1382 560 1343 599Q1360 551 1353 538Q1347 525 1309 511Q1349 505 1353 496Q1356 486 1320 444Z" fill="#c183c3" stroke="#231815" stroke-width="5.5" stroke-linejoin="miter"/><circle cx="1401" cy="520" r="22" fill="#7a2c90"/><circle cx="1398" cy="544" r="5" fill="#fff"/><circle cx="1388" cy="550" r="5" fill="#fff"/><circle cx="1409" cy="545" r="5" fill="#fff"/><circle cx="1430" cy="494" r="5" fill="#e8202a"/><circle cx="1362" cy="529" r="5" fill="#b8905a"/><circle cx="1382" cy="548" r="5" fill="#231815"/><path d="M1429 786Q1395 728 1380 726Q1366 722 1310 764Q1349 711 1345 703Q1341 695 1285 695Q1340 677 1343 666Q1347 655 1320 619Q1361 640 1372 635Q1385 631 1404 566Q1407 632 1420 640Q1430 649 1491 637Q1441 670 1441 683Q1439 697 1472 730Q1429 713 1422 719Q1414 725 1429 786Z" fill="#c183c3" stroke="#231815" stroke-width="5.5" stroke-linejoin="miter"/><circle cx="1387" cy="684" r="22" fill="#7a2c90"/><circle cx="1424" cy="675" r="5" fill="#fff"/><circle cx="1416" cy="693" r="5" fill="#fff"/><circle cx="1410" cy="658" r="5" fill="#fff"/><circle cx="1380" cy="644" r="5" fill="#e8202a"/><circle cx="1375" cy="716" r="5" fill="#b8905a"/><circle cx="1420" cy="683" r="5" fill="#231815"/><path d="M1099 694Q1153 653 1152 639Q1153 626 1119 596Q1163 610 1171 603Q1179 597 1172 535Q1199 588 1213 591Q1227 596 1278 566Q1246 612 1250 626Q1253 640 1310 666Q1243 661 1234 672Q1224 681 1233 744Q1208 688 1201 688Q1193 689 1174 739Q1178 685 1169 678Q1160 671 1099 694Z" fill="#c183c3" stroke="#231815" stroke-width="5.5" stroke-linejoin="miter"/><circle cx="1202" cy="640" r="22" fill="#7a2c90"/><circle cx="1170" cy="614" r="5" fill="#fff"/><circle cx="1169" cy="664" r="5" fill="#fff"/><circle cx="1225" cy="622" r="5" fill="#fff"/><circle cx="1234" cy="624" r="5" fill="#e8202a"/><circle cx="1223" cy="665" r="5" fill="#b8905a"/><circle cx="1171" cy="611" r="5" fill="#231815"/><path d="M1204 768Q1241 717 1236 703Q1233 688 1175 660Q1242 668 1248 660Q1255 651 1231 598Q1269 639 1280 637Q1292 635 1313 581Q1313 645 1325 655Q1334 668 1396 669Q1345 690 1342 702Q1339 715 1364 748Q1324 732 1311 739Q1297 744 1281 808Q1277 738 1268 734Q1259 729 1204 768Z" fill="#c183c3" stroke="#231815" stroke-width="5.5" stroke-linejoin="miter"/><circle cx="1284" cy="689" r="22" fill="#7a2c90"/><circle cx="1253" cy="678" r="5" fill="#fff"/><circle cx="1260" cy="692" r="5" fill="#fff"/><circle cx="1300" cy="661" r="5" fill="#fff"/><circle cx="1299" cy="660" r="5" fill="#e8202a"/><circle cx="1270" cy="723" r="5" fill="#b8905a"/><circle cx="1309" cy="714" r="5" fill="#231815"/><path d="M1020 450C1057 498 1108 505 1180 500C1141 453 1082 446 1020 450Z" fill="#5e8e2a" stroke="#231815" stroke-width="5" stroke-linejoin="round"/><circle cx="1099" cy="477" r="13" fill="#58a040" stroke="#2c5a16" stroke-width="2.5"/><path d="M1030 560C1017 631 1047 688 1100 760C1110 689 1075 622 1030 560Z" fill="#5e8e2a" stroke="#231815" stroke-width="5" stroke-linejoin="round"/><circle cx="1062" cy="660" r="13" fill="#58a040" stroke="#2c5a16" stroke-width="2.5"/><path d="M1100 640C1159 646 1197 614 1240 560C1181 555 1138 592 1100 640Z" fill="#5e8e2a" stroke="#231815" stroke-width="5" stroke-linejoin="round"/><circle cx="1171" cy="601" r="13" fill="#58a040" stroke="#2c5a16" stroke-width="2.5"/><path d="M1250 590C1320 586 1366 546 1420 480C1351 485 1297 533 1250 590Z" fill="#5e8e2a" stroke="#231815" stroke-width="5" stroke-linejoin="round"/><circle cx="1336" cy="536" r="13" fill="#58a040" stroke="#2c5a16" stroke-width="2.5"/><path d="M1300 600C1324 645 1363 649 1420 640C1394 596 1348 593 1300 600Z" fill="#5e8e2a" stroke="#231815" stroke-width="5" stroke-linejoin="round"/><circle cx="1359" cy="622" r="13" fill="#58a040" stroke="#2c5a16" stroke-width="2.5"/><path d="M1480 540C1433 593 1430 654 1440 740C1484 686 1487 614 1480 540Z" fill="#5e8e2a" stroke="#231815" stroke-width="5" stroke-linejoin="round"/><circle cx="1457" cy="639" r="13" fill="#58a040" stroke="#2c5a16" stroke-width="2.5"/><path d="M1320 640C1295 682 1312 712 1350 750C1372 708 1351 672 1320 640Z" fill="#5e8e2a" stroke="#231815" stroke-width="5" stroke-linejoin="round"/><circle cx="1332" cy="695" r="13" fill="#58a040" stroke="#2c5a16" stroke-width="2.5"/><path d="M1017 752Q1081 754 1089 744Q1096 734 1074 670Q1115 727 1125 726Q1136 725 1167 663Q1153 730 1161 736Q1168 742 1211 727Q1182 759 1183 775Q1182 792 1211 826Q1169 814 1156 822Q1143 828 1132 882Q1122 823 1112 819Q1102 815 1048 856Q1083 804 1078 790Q1075 776 1017 752Z" fill="#c183c3" stroke="#231815" stroke-width="5.5" stroke-linejoin="miter"/><circle cx="1135" cy="775" r="22" fill="#7a2c90"/><circle cx="1101" cy="760" r="5" fill="#fff"/><circle cx="1095" cy="767" r="5" fill="#fff"/><circle cx="1106" cy="756" r="5" fill="#fff"/><circle cx="1164" cy="768" r="5" fill="#e8202a"/><circle cx="1098" cy="797" r="5" fill="#b8905a"/><circle cx="1097" cy="761" r="5" fill="#231815"/><path d="M1234 721Q1273 760 1288 758Q1303 758 1345 705Q1327 768 1337 782Q1344 798 1386 813Q1337 819 1333 827Q1330 836 1357 871Q1322 853 1310 859Q1298 863 1284 923Q1276 855 1263 848Q1253 839 1196 852Q1243 823 1242 814Q1241 806 1198 789Q1244 791 1250 782Q1256 773 1234 721Z" fill="#c183c3" stroke="#231815" stroke-width="5.5" stroke-linejoin="miter"/><circle cx="1292" cy="807" r="22" fill="#7a2c90"/><circle cx="1267" cy="839" r="5" fill="#fff"/><circle cx="1320" cy="833" r="5" fill="#fff"/><circle cx="1315" cy="834" r="5" fill="#fff"/><circle cx="1289" cy="841" r="5" fill="#e8202a"/><circle cx="1255" cy="803" r="5" fill="#b8905a"/><circle cx="1265" cy="834" r="5" fill="#231815"/><path d="M1306 726Q1346 714 1354 699Q1364 686 1354 631Q1388 682 1399 681Q1411 682 1446 625Q1433 684 1442 695Q1451 706 1512 705Q1455 727 1453 738Q1451 748 1496 784Q1434 763 1421 771Q1407 777 1388 845Q1387 777 1379 773Q1371 769 1331 799Q1355 760 1351 749Q1346 738 1306 726Z" fill="#c183c3" stroke="#231815" stroke-width="5.5" stroke-linejoin="miter"/><circle cx="1397" cy="725" r="22" fill="#7a2c90"/><circle cx="1416" cy="699" r="5" fill="#fff"/><circle cx="1407" cy="700" r="5" fill="#fff"/><circle cx="1369" cy="751" r="5" fill="#fff"/><circle cx="1431" cy="733" r="5" fill="#e8202a"/><circle cx="1383" cy="693" r="5" fill="#b8905a"/><circle cx="1430" cy="723" r="5" fill="#231815"/><path d="M1130 860C1163 900 1203 898 1260 880C1226 841 1178 845 1130 860Z" fill="#5e8e2a" stroke="#231815" stroke-width="5" stroke-linejoin="round"/><circle cx="1194" cy="872" r="13" fill="#58a040" stroke="#2c5a16" stroke-width="2.5"/><path d="M1260 830C1332 852 1396 831 1480 790C1408 769 1333 794 1260 830Z" fill="#5e8e2a" stroke="#231815" stroke-width="5" stroke-linejoin="round"/><circle cx="1370" cy="812" r="13" fill="#58a040" stroke="#2c5a16" stroke-width="2.5"/><path d="M1170 770C1194 805 1218 796 1250 770C1226 737 1198 748 1170 770Z" fill="#5e8e2a" stroke="#231815" stroke-width="5" stroke-linejoin="round"/><circle cx="1210" cy="772" r="13" fill="#58a040" stroke="#2c5a16" stroke-width="2.5"/><path d="M1100 700C1151 717 1187 694 1230 650C1179 634 1137 661 1100 700Z" fill="#5e8e2a" stroke="#231815" stroke-width="5" stroke-linejoin="round"/><circle cx="1165" cy="677" r="13" fill="#58a040" stroke="#2c5a16" stroke-width="2.5"/><path d="M263 790V1060C263 1105 290 1130 315 1130C340 1130 368 1105 368 1060V790Z" fill="#7ecbe6"/><path d="M263 645V1060C263 1105 290 1130 315 1130C340 1130 368 1105 368 1060V645M263 790H368" fill="none" stroke="#231815" stroke-width="4.5"/><ellipse cx="315" cy="645" rx="52.5" ry="22" fill="#fff" stroke="#231815" stroke-width="4.5"/><ellipse cx="287" cy="850" rx="17" ry="5" fill="#e8303a" transform="rotate(70 287 850)"/><ellipse cx="322" cy="888" rx="17" ry="5" fill="#e8303a" transform="rotate(70 322 888)"/><ellipse cx="303" cy="1005" rx="17" ry="5" fill="#e8303a" transform="rotate(65 303 1005)"/><ellipse cx="330" cy="942" rx="18" ry="7" fill="#3fae4a" transform="rotate(-35 330 942)"/><ellipse cx="345" cy="1065" rx="18" ry="7" fill="#3fae4a" transform="rotate(-35 345 1065)"/><circle cx="352" cy="828" r="6" fill="#b050b0"/><circle cx="295" cy="935" r="6" fill="#b050b0"/><circle cx="335" cy="1007" r="6" fill="#b050b0"/><circle cx="306" cy="1080" r="6" fill="#b050b0"/></g>
<line x1="109.5" y1="1797.5" x2="109.5" y2="1812.2" stroke="#231815" stroke-width="1.8"/><path d="M109.5 1820l-6 -13l6 3.9l6 -3.9z" fill="#231815"/>
<text x="145.4" y="1825.1" font-size="15" font-weight="bold" fill="#231815">FACS sorting</text>
<line x1="142.6" y1="1836.9" x2="237.4" y2="1836.9" stroke="#231815" stroke-width="1.7"/><path d="M245.2 1836.9l-13 -5.5l3.9 5.5l-3.9 5.5z" fill="#231815"/>
<line x1="384" y1="1836.9" x2="404.8" y2="1836.9" stroke="#231815" stroke-width="1.7"/><path d="M412.6 1836.9l-13 -5.5l3.9 5.5l-3.9 5.5z" fill="#231815"/>
<circle cx="434.4" cy="1836.9" r="2.3" fill="#231815"/>
<circle cx="447.1" cy="1836.9" r="2.3" fill="#231815"/>
<circle cx="459.8" cy="1836.9" r="2.3" fill="#231815"/>
<circle cx="472.5" cy="1836.9" r="2.3" fill="#231815"/>
<circle cx="485.2" cy="1836.9" r="2.3" fill="#231815"/>
<circle cx="497.9" cy="1836.9" r="2.3" fill="#231815"/>
<text x="231.4" y="1926.7" font-size="20" font-weight="bold" fill="#231815">CD45<tspan dx="-0.03em" dy="-0.62em" font-size="56%" font-style="normal">-</tspan><tspan dy="0.347em">​</tspan> CD31<tspan dx="-0.03em" dy="-0.62em" font-size="56%" font-style="normal">-</tspan><tspan dy="0.347em">​</tspan> Cells</text>
<text x="8.6" y="1984" font-size="23.5" font-weight="bold" fill="#231815">Single cell isolation</text>
</g>
<g id="panelE">
<text x="569.5" y="1291.9" font-size="36.3" font-weight="bold">E</text>
<text x="795.2" y="1281" font-size="20.9" text-anchor="middle" font-weight="bold" fill="#111">TCGA (Tumor)</text>
<text x="1108.5" y="1281" font-size="20.9" text-anchor="middle" font-weight="bold" fill="#111">TCGA (Adjacent tissue)</text>
<rect x="658" y="1292.3" width="274.9" height="194.7" fill="#fff"/><path d="M658 1339.3H932.9M658 1396.7H932.9M658 1454.1H932.9" stroke="#a8a8a8" stroke-width="1" stroke-dasharray="6 3.5" fill="none"/><path d="M658 1310.6H932.9M658 1368H932.9M658 1425.4H932.9M658 1482.8H932.9" stroke="#b8b8b8" stroke-width="1" stroke-dasharray="2.2 2.2" fill="none"/><path d="M732.6 1292.3V1487M857.8 1292.3V1487" stroke="#a8a8a8" stroke-width="1" stroke-dasharray="4 3" fill="none"/>
<path d="M731.1 1309.6L734.3 1309.6C734.4 1310.6 734.4 1313.2 734.7 1315.5C735 1317.8 735.5 1320.8 736.3 1323.4C737 1326 738 1328.7 739 1331.3C740.1 1333.9 741.4 1336.6 742.6 1339.2C743.8 1341.8 744.7 1344.4 746.1 1347.1C747.6 1349.7 749.3 1352.3 751.5 1355C753.7 1357.6 756.4 1360.2 759.4 1362.9C762.3 1365.5 766.1 1368.1 769.2 1370.7C772.3 1373.4 775.8 1376 778.1 1378.6C780.4 1381.3 781.8 1383.9 783 1386.5C784.3 1389.2 784.8 1391.8 785.6 1394.4C786.4 1397.1 787.3 1399.7 788 1402.3C788.6 1404.9 789.4 1407.6 789.3 1410.2C789.3 1412.8 788.8 1415.5 787.6 1418.1C786.3 1420.7 784.4 1423.4 782 1426C779.6 1428.6 776.1 1431.2 773.2 1433.9C770.2 1436.5 767.1 1439.1 764.3 1441.8C761.5 1444.4 758.9 1447 756.4 1449.7C753.9 1452.3 751.8 1454.9 749.5 1457.5C747.2 1460.2 744.7 1462.8 742.6 1465.4C740.5 1468.1 738.4 1471 737.1 1473.3C735.7 1475.7 734.8 1478.6 734.3 1479.6L731.1 1479.6C730.7 1478.6 729.8 1475.7 728.4 1473.3C727 1471 724.9 1468.1 722.9 1465.4C720.8 1462.8 718.3 1460.2 716 1457.5C713.7 1454.9 711.5 1452.3 709 1449.7C706.6 1447 704 1444.4 701.2 1441.8C698.4 1439.1 695.2 1436.5 692.3 1433.9C689.3 1431.2 685.8 1428.6 683.4 1426C681 1423.4 679.1 1420.7 677.9 1418.1C676.7 1415.5 676.2 1412.8 676.1 1410.2C676 1407.6 676.9 1404.9 677.5 1402.3C678.1 1399.7 679 1397.1 679.9 1394.4C680.7 1391.8 681.2 1389.2 682.4 1386.5C683.7 1383.9 685 1381.3 687.3 1378.6C689.6 1376 693.1 1373.4 696.2 1370.7C699.3 1368.1 703.1 1365.5 706.1 1362.9C709 1360.2 711.8 1357.6 714 1355C716.2 1352.3 717.8 1349.7 719.3 1347.1C720.8 1344.4 721.7 1341.8 722.9 1339.2C724 1336.6 725.4 1333.9 726.4 1331.3C727.5 1328.7 728.4 1326 729.2 1323.4C729.9 1320.8 730.4 1317.8 730.7 1315.5C731.1 1313.2 731.1 1310.6 731.1 1309.6Z" fill="#9a9afb" stroke="#333" stroke-width="1.3" stroke-linejoin="round"/><path d="M1493 2632h0m-46-2h0m66 44h0m-90-8h0m-4 43h0m6-21h0m25 8h0m6 2h0m13 12h0m7-11h0m29 12h0m2 20h0m-48-14h0m-6 11h0m-6 5h0m-13-2h0m-3-4h0m-6-7h0m-1 14h0m-1-19h0m3 38h0m14-6h0m7 1h0m2-5h0m11-7h0m3 23h0m3-23h0m3 6h0m16 14h0m9 0h0m15-1h0m0 5h0m-4 7h0m-7-3h0m0 2h0m-6 6h0m-6 9h0m-2-6h0m0-3h0m-1 8h0m-2-10h0m-3 0h0m-4 5h0m-9-2h0m-1-12h0m-2 7h0m-8 1h0m-11 3h0m-2-3h0m-1-6h0m-2 17h0m-9-1h0m-5-4h0m-1-7h0m-7 4h0m-1 29h0m1-14h0m2 8h0m3 12h0m1-7h0m2-3h0m1-3h0m2 10h0m10-5h0m17-9h0m1 13h0m12-11h0m0 3h0m26-10h0m9-1h0m6 15h0m-18 31h0m-1-1h0m-4-12h0m-1 14h0m0-5h0m-3-7h0m-23 12h0m-1-16h0m-5 11h0m0-14h0m-5-2h0m-8 13h0m-10-7h0m-3 5h0m0-12h0m-7 9h0m-3-7h0m5 22h0m1 8h0m5-6h0m2 9h0m3 4h0m2-12h0m1 1h0m7 10h0m2-4h0m0 1h0m15 10h0m7-22h0m7 17h0m0-6h0m1-9h0m3 0h0m3 3h0m7 7h0m1 8h0m1-3h0m6-17h0m16 19h0m4-13h0m-5 30h0m-2 10h0m-2-18h0m-6 13h0m-7-15h0m-18-1h0m-2 1h0m-16 12h0m-5-8h0m-15 9h0m-12 8h0m-5-14h0m-1 10h0m-2 17h0m5 9h0m7-15h0m22 15h0m4-11h0m22-7h0m1 5h0m1 6h0m9-12h0m7 0h0m20 8h0m-17 36h0m-34-4h0m-14-8h0m-10-2h0m-11-1h0m-3 14h0m32 9h0m20 12h0m30-18h0" stroke="#0000ff" stroke-width="10.4" stroke-linecap="round" fill="none" transform="scale(.5)" opacity=".42"/><path d="M1434 2648h0m15-6h0m43 37h0m-20 1h0m-18-12h0m-36 42h0m33 1h0m1-18h0m2 16h0m2-4h0m16 1h0m39-9h0m2 1h0m0 36h0m-24-17h0m-12-2h0m0 4h0m-5 16h0m-7-4h0m-26 4h0m-15-7h0m0-12h0m-5 42h0m10-20h0m1 5h0m6 3h0m6-5h0m3-2h0m1-1h0m1 5h0m4-7h0m7 23h0m4-17h0m1 17h0m24-16h0m5 8h0m8 1h0m5 5h0m9 3h0m-5 8h0m-9-5h0m-2 7h0m-5 11h0m-4-18h0m-2 18h0m-6-5h0m-1-4h0m-10 3h0m-17-2h0m-1-9h0m-8 1h0m-4 18h0m-2 0h0m-8-11h0m0-1h0m-5-8h0m-4 11h0m-5 26h0m3-10h0m9 14h0m3-17h0m6 4h0m15 13h0m2 1h0m1 0h0m1-12h0m4 3h0m8 0h0m2-3h0m0-3h0m5 3h0m1 8h0m1 2h0m4-4h0m4 2h0m1 6h0m1-7h0m2-6h0m18-9h0m5 13h0m2-4h0m-4 26h0m0-1h0m-1 9h0m-6 0h0m-12-6h0m-3 0h0m-14-12h0m-7 14h0m-14-10h0m0 2h0m-2 8h0m-23-6h0m-1-6h0m-3-2h0m-3 9h0m-2 27h0m1 0h0m2-8h0m4-2h0m1-1h0m4-2h0m7 20h0m7-9h0m8-11h0m3 5h0m8-1h0m5 10h0m8 3h0m2-17h0m4 8h0m8-4h0m0 10h0m1 5h0m21 27h0m-17-1h0m-1-16h0m-4 8h0m-18-11h0m-5 0h0m-8 2h0m-2 17h0m-13-13h0m0 6h0m-15-5h0m-2-8h0m-7 1h0m-3 2h0m1 37h0m7-6h0m9 6h0m7-12h0m36 6h0m1-2h0m29 21h0m-48-4h0m-16 22h0m1 0h0m14 10h0m41-11h0m-80 28h0" stroke="#0000ff" stroke-width="10.4" stroke-linecap="round" fill="none" transform="scale(.5)" opacity=".42"/><path d="M1443 2655h0m31 0h0m24-8h0m16 30h0m-2-1h0m-2 10h0m-18-11h0m-64 31h0m8 5h0m6-14h0m9-1h0m37 10h0m4-12h0m5 28h0m-2 0h0m-10 7h0m-34-15h0m-9 34h0m11-9h0m2 19h0m3-16h0m7 2h0m7-2h0m9 11h0m0 4h0m20 0h0m3-15h0m1-6h0m8 30h0m-6-2h0m-5 6h0m-11 12h0m-1-12h0m-1 13h0m-4-9h0m-8-11h0m-3 10h0m0 10h0m-9-5h0m-2-11h0m-4 4h0m-14 2h0m-1 7h0m-2-14h0m-1 7h0m0-7h0m-5 6h0m-4-10h0m-2 14h0m-14-14h0m2 30h0m3 0h0m3 4h0m1 0h0m10-6h0m2 15h0m7-21h0m9 7h0m2 9h0m3 5h0m6-19h0m1 12h0m2 4h0m24-8h0m1-4h0m3 15h0m0-1h0m3-1h0m3-4h0m0 6h0m4-6h0m8 28h0m-5-16h0m-3 2h0m-14-3h0m-21 11h0m-7-12h0m-2-1h0m-16 2h0m-7 20h0m-4-7h0m-2 4h0m-2 0h0m-3-16h0m-5 13h0m-6-2h0m1 28h0m10-12h0m0 2h0m4-3h0m1 15h0m0-14h0m4 1h0m6-7h0m14 8h0m8 6h0m14 5h0m9-19h0m1 0h0m5 7h0m3 10h0m7-17h0m2 19h0m2-19h0m6 27h0m-2 3h0m-12 7h0m-7 10h0m-10-15h0m-2 7h0m-5-12h0m0-1h0m-6 9h0m-3-8h0m-6 20h0m-2-4h0m-9 3h0m-1-3h0m-2-6h0m-20-12h0m18 31h0m2-1h0m1-4h0m2 5h0m16 5h0m12 5h0m14 4h0m4-15h0m2 2h0m4 4h0m7-4h0m5-2h0m1 27h0m-31-6h0m0 2h0m-7 5h0m-1-1h0m-2 2h0m-5-9h0m-2 11h0m-9-6h0m-7 27h0m4 0h0" stroke="#0000ff" stroke-width="10.4" stroke-linecap="round" fill="none" transform="scale(.5)" opacity=".42"/><line x1="732.7" y1="1325.4" x2="732.7" y2="1479.6" stroke="#3a3a3a" stroke-width="1.4"/><rect x="719.9" y="1385.1" width="25.6" height="43.2" fill="#4444f6" stroke="#333" stroke-width="1.5" fill-opacity=".6"/><line x1="719.9" y1="1407.2" x2="745.5" y2="1407.2" stroke="#333" stroke-width="2.8"/>
<path d="M856 1300.1L860 1300.1C860.2 1301.4 860.3 1305.1 861.1 1307.6C862 1310.2 863.1 1312.9 864.9 1315.5C866.7 1318.1 869.2 1320.8 871.8 1323.4C874.4 1326 877.9 1328.7 880.7 1331.3C883.5 1333.9 886.5 1336.6 888.6 1339.2C890.6 1341.8 892 1344.4 893.1 1347.1C894.3 1349.7 894.9 1352.3 895.5 1355C896 1357.6 896 1360.2 896.5 1362.9C897 1365.5 897.9 1368.1 898.4 1370.7C898.9 1373.4 899.1 1376 899.4 1378.6C899.7 1381.3 900.3 1383.9 900.4 1386.5C900.5 1389.2 900.3 1391.8 900 1394.4C899.7 1397.1 898.9 1399.7 898.4 1402.3C898 1404.9 897.8 1407.6 897.4 1410.2C897.1 1412.8 896.8 1415.5 896.5 1418.1C896.1 1420.7 896 1423.4 895.5 1426C895 1428.6 894.8 1431.2 893.5 1433.9C892.2 1436.5 889.9 1439.1 887.6 1441.8C885.3 1444.4 882.5 1447 879.7 1449.7C876.9 1452.3 873.3 1454.9 870.8 1457.5C868.3 1460.2 866.3 1463.1 864.9 1465.4C863.5 1467.7 862.8 1470.4 862.3 1471.4L853.7 1471.4C853.2 1470.4 852.5 1467.7 851.1 1465.4C849.7 1463.1 847.6 1460.2 845.2 1457.5C842.7 1454.9 839.1 1452.3 836.3 1449.7C833.5 1447 830.7 1444.4 828.4 1441.8C826.1 1439.1 823.8 1436.5 822.5 1433.9C821.2 1431.2 821 1428.6 820.5 1426C820 1423.4 819.9 1420.7 819.5 1418.1C819.2 1415.5 818.9 1412.8 818.5 1410.2C818.2 1407.6 818 1404.9 817.5 1402.3C817.1 1399.7 816.3 1397.1 816 1394.4C815.6 1391.8 815.5 1389.2 815.6 1386.5C815.7 1383.9 816.2 1381.3 816.6 1378.6C816.9 1376 817.1 1373.4 817.5 1370.7C818 1368.1 819 1365.5 819.5 1362.9C820 1360.2 820 1357.6 820.5 1355C821.1 1352.3 821.7 1349.7 822.9 1347.1C824 1344.4 825.3 1341.8 827.4 1339.2C829.5 1336.6 832.5 1333.9 835.3 1331.3C838.1 1328.7 841.6 1326 844.2 1323.4C846.8 1320.8 849.3 1318.1 851.1 1315.5C852.9 1312.9 854 1310.2 854.8 1307.6C855.7 1305.1 855.8 1301.4 856 1300.1Z" fill="#fb9a9a" stroke="#333" stroke-width="1.3" stroke-linejoin="round"/><path d="M1729 2664h0m-5 15h0m-13 4h0m-4-9h0m-40 9h0m1 10h0m5 5h0m4 13h0m71 19h0m-35 0h0m-35-13h0m50 29h0m24 13h0m-22 15h0m-16-13h0m-30 37h0m27-12h0m18 1h0m10 6h0m2 13h0m14 0h0m4 1h0m-8 21h0m-6-15h0m-12 1h0m-17-6h0m-9 6h0m-22 19h0m13 13h0m15-4h0m14 9h0m31 6h0m-19 6h0m-44-7h0m-19 32h0m25-3h0m22 6h0m-35 37h0m53 4h0" stroke="#ff0000" stroke-width="10.4" stroke-linecap="round" fill="none" transform="scale(.5)" opacity=".42"/><path d="M1693 2655h0m39 0h0m-29 11h0m-13 7h0m-14 12h0m-9-20h0m11 44h0m18 1h0m19-4h0m3 12h0m-49 18h0m6 20h0m3 2h0m32 1h0m1-22h0m18 10h0m15-8h0m16 15h0m-27 21h0m-16 4h0m-6-12h0m-41 2h0m-1 9h0m10 21h0m17-13h0m7 0h0m53 11h0m-62 31h0m-9-6h0m-17 8h0m52 23h0m31 9h0m-81 32h0m34-2h0m16 1h0m17 2h0m0 25h0m21 20h0" stroke="#ff0000" stroke-width="10.4" stroke-linecap="round" fill="none" transform="scale(.5)" opacity=".42"/><path d="M1762 2624h0m-11-4h0m-9 52h0m-40 0h0m-5 38h0m1-8h0m12-1h0m47-11h0m2 11h0m-4 13h0m-7 12h0m-16-13h0m-7 7h0m-19-8h0m-10 15h0m-18 9h0m25 1h0m31 8h0m-24 35h0m-11-20h0m-11 14h0m-3-8h0m-9 0h0m-6 27h0m62 5h0m7 2h0m-12 24h0m-7 4h0m-20 13h0m13-9h0m-2 29h0m-8 12h0m-7-9h0m-5 0h0m-2 5h0m55 32h0m8-11h0m-2 17h0" stroke="#ff0000" stroke-width="10.4" stroke-linecap="round" fill="none" transform="scale(.5)" opacity=".42"/><line x1="858" y1="1300.1" x2="858" y2="1471.4" stroke="#3a3a3a" stroke-width="1.4"/><rect x="845.6" y="1364.2" width="24.9" height="59.8" fill="#f64444" stroke="#333" stroke-width="1.5" fill-opacity=".6"/><line x1="845.6" y1="1393.6" x2="870.4" y2="1393.6" stroke="#333" stroke-width="2.8"/>
<text x="744" y="1311.6" font-size="14.7" font-weight="bold" fill="#111"><tspan font-style="italic">P</tspan>.value = 0.001</text>
<rect x="658" y="1292.3" width="274.9" height="194.7" fill="none" stroke="#333" stroke-width="2.9"/><path d="M732.6 1488v4.5M857.8 1488v4.5M657 1339.3h-3M657 1396.7h-3M657 1454.1h-3" stroke="#333" stroke-width="1.1" fill="none"/><text x="654.2" y="1344.5" font-size="15" text-anchor="end" fill="#4d4d4d">0.8</text><text x="654.2" y="1401.9" font-size="15" text-anchor="end" fill="#4d4d4d">0.6</text><text x="654.2" y="1459.3" font-size="15" text-anchor="end" fill="#4d4d4d">0.4</text>
<rect x="970.9" y="1292.3" width="275.3" height="194.7" fill="#fff"/><path d="M970.9 1296.6H1246.2M970.9 1352.3H1246.2M970.9 1407.5H1246.2M970.9 1462.3H1246.2" stroke="#a8a8a8" stroke-width="1" stroke-dasharray="6 3.5" fill="none"/><path d="M970.9 1324.4H1246.2M970.9 1379.9H1246.2M970.9 1434.9H1246.2" stroke="#b8b8b8" stroke-width="1" stroke-dasharray="2.2 2.2" fill="none"/><path d="M1045.5 1292.3V1487M1170.7 1292.3V1487" stroke="#a8a8a8" stroke-width="1" stroke-dasharray="4 3" fill="none"/>
<path d="M1042.6 1299.7L1048.5 1299.7C1048.4 1301.4 1048.2 1306.3 1047.9 1309.6C1047.6 1312.9 1047 1316.2 1046.7 1319.5C1046.5 1322.7 1046.3 1326 1046.5 1329.3C1046.7 1332.6 1047.1 1335.9 1047.9 1339.2C1048.7 1342.5 1050.4 1345.8 1051.5 1349C1052.5 1352.3 1053.8 1355.6 1054.4 1358.9C1055.1 1362.2 1054.9 1365.5 1055.4 1368.8C1055.9 1372.1 1055.6 1375.4 1057.4 1378.6C1059.2 1381.9 1063.5 1385.2 1066.3 1388.5C1069.1 1391.8 1072 1395.1 1074.1 1398.4C1076.3 1401.7 1077.4 1404.9 1079.1 1408.2C1080.7 1411.5 1082.2 1414.8 1084 1418.1C1085.8 1421.4 1087.7 1424.7 1089.9 1428C1092.1 1431.2 1095.2 1434.5 1097.2 1437.8C1099.3 1441.1 1101.6 1445.1 1102.4 1447.7C1103.1 1450.3 1103 1451.3 1101.8 1453.6C1100.5 1455.9 1097.8 1458.9 1094.9 1461.5C1091.9 1464.1 1087.8 1466.8 1084 1469.4C1080.2 1472 1074.6 1475.6 1072.2 1477.3C1069.7 1479 1069.7 1479.3 1069.2 1479.6L1021.9 1479.6C1021.4 1479.3 1021.4 1479 1018.9 1477.3C1016.4 1475.6 1010.9 1472 1007.1 1469.4C1003.3 1466.8 999.2 1464.1 996.2 1461.5C993.3 1458.9 990.6 1455.9 989.3 1453.6C988.1 1451.3 988 1450.3 988.7 1447.7C989.5 1445.1 991.8 1441.1 993.9 1437.8C995.9 1434.5 999 1431.2 1001.2 1428C1003.4 1424.7 1005.3 1421.4 1007.1 1418.1C1008.9 1414.8 1010.4 1411.5 1012 1408.2C1013.7 1404.9 1014.8 1401.7 1016.9 1398.4C1019.1 1395.1 1022 1391.8 1024.8 1388.5C1027.6 1385.2 1031.9 1381.9 1033.7 1378.6C1035.5 1375.4 1035.2 1372.1 1035.7 1368.8C1036.2 1365.5 1036 1362.2 1036.7 1358.9C1037.3 1355.6 1038.5 1352.3 1039.6 1349C1040.7 1345.8 1042.4 1342.5 1043.2 1339.2C1044 1335.9 1044.4 1332.6 1044.6 1329.3C1044.8 1326 1044.6 1322.7 1044.4 1319.5C1044.1 1316.2 1043.5 1312.9 1043.2 1309.6C1042.9 1306.3 1042.7 1301.4 1042.6 1299.7Z" fill="#9a9afb" stroke="#333" stroke-width="1.3" stroke-linejoin="round"/><path d="M2075 2632h0m32 111h0m23-4h0m-12 44h0m-50-15h0m10 39h0m53-21h0m-86 40h0m91 28h0m-17 8h0m-11 7h0m-24 8h0m-13-4h0m60 14h0m-9 17h0m-32 21h0m46 3h0m2 6h0m-66 23h0" stroke="#0000ff" stroke-width="10.4" stroke-linecap="round" fill="none" transform="scale(.5)" opacity=".42"/><path d="M2088 2625h0m-4 110h0m9 11h0m-42 59h0m1-13h0m38 11h0m-21 12h0m38 51h0m-40-4h0m-11 1h0m56 18h0m25 8h0m-19 23h0m-56 5h0m-17 17h0m21 10h0m53-13h0m15 13h0" stroke="#0000ff" stroke-width="10.4" stroke-linecap="round" fill="none" transform="scale(.5)" opacity=".42"/><path d="M2140 2605h0m-58 95h0m53 35h0m-42 63h0m35-2h0m-25 20h0m-14 13h0m0-15h0m-36 22h0m5 7h0m7-11h0m72 45h0m-1-15h0m-31 7h0m-10 2h0m19 51h0m-66-2h0m8 17h0" stroke="#0000ff" stroke-width="10.4" stroke-linecap="round" fill="none" transform="scale(.5)" opacity=".42"/><line x1="1045.5" y1="1357.9" x2="1045.5" y2="1479.6" stroke="#3a3a3a" stroke-width="1.4"/><rect x="1032.7" y="1413.6" width="25.6" height="41.4" fill="#4444f6" stroke="#333" stroke-width="1.5" fill-opacity=".6"/><line x1="1032.7" y1="1437.8" x2="1058.4" y2="1437.8" stroke="#333" stroke-width="2.8"/>
<path d="M1143.2 1362.9L1198.4 1362.9C1200.1 1363.8 1205.4 1366.1 1208.3 1368.8C1211.2 1371.4 1213.8 1375.4 1215.8 1378.6C1217.8 1381.9 1219 1385.2 1220.1 1388.5C1221.3 1391.8 1221.9 1395.4 1222.5 1398.4C1223.1 1401.3 1223.9 1403.6 1223.7 1406.3C1223.5 1408.9 1222.9 1411.5 1221.1 1414.1C1219.4 1416.8 1216.2 1419.4 1213.2 1422C1210.3 1424.7 1206.5 1427.3 1203.4 1429.9C1200.2 1432.6 1196.9 1434.9 1194.5 1437.8C1192.1 1440.8 1190.3 1444.4 1189 1447.7C1187.6 1451 1187.2 1454.3 1186.6 1457.5C1186 1460.8 1186.1 1464 1185.6 1467.4C1185.1 1470.9 1184 1476.5 1183.6 1478.3L1158 1478.3C1157.7 1476.5 1156.5 1470.9 1156 1467.4C1155.5 1464 1155.6 1460.8 1155 1457.5C1154.5 1454.3 1154 1451 1152.7 1447.7C1151.4 1444.4 1149.5 1440.8 1147.1 1437.8C1144.7 1434.9 1141.4 1432.6 1138.3 1429.9C1135.1 1427.3 1131.4 1424.7 1128.4 1422C1125.4 1419.4 1122.3 1416.8 1120.5 1414.1C1118.8 1411.5 1118.2 1408.9 1117.9 1406.3C1117.7 1403.6 1118.5 1401.3 1119.1 1398.4C1119.7 1395.4 1120.4 1391.8 1121.5 1388.5C1122.6 1385.2 1123.9 1381.9 1125.8 1378.6C1127.8 1375.4 1130.4 1371.4 1133.3 1368.8C1136.2 1366.1 1141.6 1363.8 1143.2 1362.9Z" fill="#fb9a9a" stroke="#333" stroke-width="1.3" stroke-linejoin="round"/><path d="M2387 2738h0m-1 27h0m-2 10h0m-17-3h0m-25 17h0m9 138h0" stroke="#ff0000" stroke-width="10.4" stroke-linecap="round" fill="none" transform="scale(.5)" opacity=".42"/><path d="M2314 2731h0m25 76h0m46 17h0m-21 12h0m-53 35h0m22 51h0" stroke="#ff0000" stroke-width="10.4" stroke-linecap="round" fill="none" transform="scale(.5)" opacity=".42"/><path d="M2301 2736h0m-7 63h0m20 1h0m27-8h0m-20 42h0m50 90h0" stroke="#ff0000" stroke-width="10.4" stroke-linecap="round" fill="none" transform="scale(.5)" opacity=".42"/><line x1="1170.8" y1="1362.9" x2="1170.8" y2="1464.5" stroke="#3a3a3a" stroke-width="1.4"/><rect x="1158.4" y="1383.6" width="25.3" height="37.7" fill="#f64444" stroke="#333" stroke-width="1.5" fill-opacity=".6"/><line x1="1158.4" y1="1405.9" x2="1183.6" y2="1405.9" stroke="#333" stroke-width="2.8"/>
<text x="1056.4" y="1311.6" font-size="14.7" font-weight="bold" fill="#111"><tspan font-style="italic">P</tspan>.value = 0.007</text>
<rect x="970.9" y="1292.3" width="275.3" height="194.7" fill="none" stroke="#333" stroke-width="2.9"/><path d="M1045.5 1488v4.5M1170.7 1488v4.5M969.9 1296.6h-3M969.9 1352.3h-3M969.9 1407.5h-3M969.9 1462.3h-3" stroke="#333" stroke-width="1.1" fill="none"/><text x="967.1" y="1301.8" font-size="15" text-anchor="end" fill="#4d4d4d">1.0</text><text x="967.1" y="1357.5" font-size="15" text-anchor="end" fill="#4d4d4d">0.8</text><text x="967.1" y="1412.7" font-size="15" text-anchor="end" fill="#4d4d4d">0.6</text><text x="967.1" y="1467.5" font-size="15" text-anchor="end" fill="#4d4d4d">0.4</text>
<rect x="658" y="1521" width="274.9" height="195.1" fill="#fff"/><path d="M658 1575H932.9M658 1633.7H932.9M658 1692.8H932.9" stroke="#a8a8a8" stroke-width="1" stroke-dasharray="6 3.5" fill="none"/><path d="M658 1545.9H932.9M658 1604.3H932.9M658 1663.2H932.9" stroke="#b8b8b8" stroke-width="1" stroke-dasharray="2.2 2.2" fill="none"/><path d="M732.6 1521V1716.1M857.8 1521V1716.1" stroke="#a8a8a8" stroke-width="1" stroke-dasharray="4 3" fill="none"/>
<path d="M729.8 1528.3L735.7 1528.3C735.9 1529.2 735.9 1531.8 737.1 1533.7C738.2 1535.5 740 1537.6 742.6 1539.6C745.1 1541.6 748.8 1543.5 752.4 1545.5C756.1 1547.5 760.5 1549.5 764.3 1551.4C768.1 1553.4 772.1 1555.4 775.1 1557.3C778.2 1559.3 780.7 1561.3 782.4 1563.3C784.2 1565.2 784.9 1567.2 785.6 1569.2C786.2 1571.2 786.5 1573.1 786.4 1575.1C786.3 1577.1 785.7 1578.7 785 1581C784.3 1583.3 783 1586.3 782 1588.9C781.1 1591.5 779.8 1594.5 779.1 1596.8C778.4 1599.1 778.9 1600.7 777.7 1602.7C776.5 1604.7 774.7 1606.7 772.2 1608.6C769.6 1610.6 765.4 1612.6 762.3 1614.6C759.2 1616.5 755.9 1618.2 753.4 1620.5C751 1622.8 749.2 1625.7 747.5 1628.4C745.9 1631 745.1 1633 743.6 1636.3C742.1 1639.5 740.1 1644.1 738.6 1648.1C737.2 1652 735.9 1656 735.1 1659.9C734.3 1663.9 734 1667.2 733.7 1671.8C733.4 1676.4 733.6 1681.5 733.5 1687.5C733.4 1693.6 733.3 1704.8 733.3 1708.3L732.1 1708.3C732.1 1704.8 732 1693.6 731.9 1687.5C731.9 1681.5 732 1676.4 731.7 1671.8C731.5 1667.2 731.2 1663.9 730.4 1659.9C729.5 1656 728.2 1652 726.8 1648.1C725.4 1644.1 723.3 1639.5 721.9 1636.3C720.4 1633 719.6 1631 717.9 1628.4C716.3 1625.7 714.5 1622.8 712 1620.5C709.5 1618.2 706.3 1616.5 703.1 1614.6C700 1612.6 695.8 1610.6 693.3 1608.6C690.7 1606.7 688.9 1604.7 687.7 1602.7C686.6 1600.7 687.1 1599.1 686.4 1596.8C685.6 1594.5 684.4 1591.5 683.4 1588.9C682.4 1586.3 681.2 1583.3 680.4 1581C679.7 1578.7 679.2 1577.1 679.1 1575.1C679 1573.1 679.2 1571.2 679.9 1569.2C680.5 1567.2 681.3 1565.2 683 1563.3C684.7 1561.3 687.3 1559.3 690.3 1557.3C693.3 1555.4 697.4 1553.4 701.2 1551.4C704.9 1549.5 709.4 1547.5 713 1545.5C716.6 1543.5 720.3 1541.6 722.9 1539.6C725.4 1537.6 727.2 1535.5 728.4 1533.7C729.5 1531.8 729.5 1529.2 729.8 1528.3Z" fill="#9a9afb" stroke="#333" stroke-width="1.3" stroke-linejoin="round"/><path d="M1487 3071h0m-24 16h0m15-12h0m2 6h0m31 21h0m0 17h0m-5-7h0m-8-16h0m-9 6h0m-11 15h0m-18-4h0m-2-2h0m-9-8h0m-4 16h0m-7-1h0m-16 0h0m-2-8h0m-1 22h0m2 11h0m7 0h0m0-21h0m2 19h0m6-17h0m5 2h0m0 16h0m0-19h0m1-3h0m3 7h0m2-2h0m3 12h0m3-14h0m1 6h0m3-6h0m5 11h0m3 3h0m0-16h0m1 10h0m8 6h0m6-13h0m11 19h0m9-12h0m3-7h0m3 16h0m1-18h0m1 1h0m0 7h0m2 7h0m3-16h0m1 1h0m1 40h0m0-18h0m-1 21h0m-6-13h0m-4 1h0m-11 5h0m-2 8h0m0-14h0m-10-2h0m-7 5h0m-1 4h0m-14 4h0m0-6h0m-4-2h0m-11-6h0m0 3h0m-9-6h0m-5 6h0m-7 15h0m-3-1h0m9 14h0m0 9h0m10 1h0m5 1h0m3-3h0m3-14h0m12-6h0m4 5h0m1-2h0m4 13h0m0-3h0m6-9h0m8 5h0m0-7h0m0 17h0m12-15h0m5 9h0m1-5h0m3-4h0m2 9h0m2 7h0m3-16h0m0 15h0m1-17h0m0 42h0m-4-13h0m-3 5h0m-5 5h0m-4 1h0m-4-16h0m-6 3h0m-2 15h0m-2-12h0m-9-3h0m-2 15h0m0 1h0m-8-21h0m-6 4h0m-6-4h0m-12 5h0m-11-1h0m0 14h0m-3-12h0m-4 11h0m-4-11h0m-1 29h0m9-9h0m14 6h0m2 9h0m5-8h0m9 11h0m1-9h0m3 1h0m13-5h0m3 9h0m19-5h0m0 4h0m8 6h0m0-16h0m2 21h0m-20 5h0m-8-2h0m-6 11h0m-22-11h0m-13 7h0m-13-6h0m9 19h0m66 8h0m5-1h0m1 2h0m-10 34h0m-22-2h0m-50-7h0m58 43h0m24 58h0" stroke="#0000ff" stroke-width="10.4" stroke-linecap="round" fill="none" transform="scale(.5)" opacity=".42"/><path d="M1456 3060h0m-10 23h0m7 8h0m1-19h0m29 7h0m22-6h0m6 20h0m3 6h0m0 8h0m-1-5h0m-5 0h0m-2 2h0m-1 10h0m-1 0h0m-10-9h0m0 1h0m-2 1h0m-6 0h0m-2 12h0m-14-2h0m-2-3h0m-19 4h0m-14-1h0m-4-21h0m-3 10h0m-5 2h0m-1 11h0m5 21h0m12-14h0m3 15h0m6-1h0m7-4h0m4-1h0m2-4h0m1-4h0m4 6h0m5 1h0m4-5h0m2 6h0m8-1h0m4-9h0m4 16h0m4-17h0m17 7h0m0-7h0m-2 20h0m-1 19h0m-16 3h0m-1-2h0m-2 2h0m-1-8h0m-3-3h0m-2-6h0m-6 14h0m-3 1h0m-8 1h0m-11-13h0m-4 8h0m0-8h0m-2 11h0m-2 3h0m-7-9h0m0-10h0m-5-2h0m0 4h0m-3-3h0m-2 7h0m-1 3h0m-15 14h0m4 19h0m12-6h0m1-4h0m1-9h0m4-1h0m9 8h0m17 14h0m7-12h0m1-4h0m3 12h0m0-5h0m5-11h0m0 15h0m1-15h0m3 10h0m3-6h0m2-7h0m4 18h0m10-5h0m0-5h0m3 7h0m2-13h0m5 21h0m-5 10h0m-1 5h0m-4-7h0m-4-5h0m-3 6h0m-8 15h0m-1-6h0m-6-17h0m-2 7h0m-2 6h0m-3-7h0m-6 14h0m-7 2h0m-2-11h0m0-8h0m-5 17h0m-7-7h0m-9 6h0m-10-8h0m-1 7h0m-9-5h0m-2-9h0m-1 43h0m13-16h0m1 12h0m16-3h0m10-13h0m2 18h0m2 2h0m2-8h0m8-15h0m2 11h0m3 2h0m2-8h0m1 17h0m15-21h0m3 8h0m6 2h0m1-2h0m8 37h0m-3-2h0m-13-12h0m-17 10h0m-41-8h0m-11 26h0m5 1h0m6 34h0m-2-11h0m39 24h0m37 92h0" stroke="#0000ff" stroke-width="10.4" stroke-linecap="round" fill="none" transform="scale(.5)" opacity=".42"/><path d="M1511 3069h0m-93 14h0m31-1h0m0 10h0m8-4h0m42 2h0m2-4h0m10 6h0m4 21h0m-2-9h0m-2-1h0m-1 14h0m-18-9h0m-9 2h0m-7 0h0m-4-3h0m-12 2h0m-10 0h0m-4 4h0m-7 6h0m-21 21h0m1-14h0m4 6h0m3-5h0m0 9h0m8-12h0m1 0h0m13-4h0m7 3h0m8 16h0m5-16h0m5 1h0m1 3h0m1-5h0m2 10h0m12 11h0m2-1h0m3-6h0m0-14h0m10 3h0m4 4h0m1 2h0m4 17h0m-2 14h0m-17 4h0m-1 0h0m-4-14h0m-6-8h0m-1 21h0m-2-18h0m-4 14h0m-6 2h0m0-7h0m-4-7h0m-6 16h0m-4-21h0m-3 2h0m-3 13h0m-3-13h0m-1-1h0m-2 3h0m-2 3h0m-5 13h0m-4-3h0m-1-16h0m-2 16h0m-2 4h0m-7-21h0m-3 26h0m8 4h0m2 3h0m3-8h0m5 10h0m2 12h0m0-8h0m4 1h0m2-13h0m2 0h0m9 14h0m0-3h0m1-14h0m6 8h0m1-7h0m6 21h0m3-2h0m19-14h0m6 12h0m7-4h0m0 3h0m10 16h0m-4 1h0m-5 2h0m-6-2h0m0 13h0m-1-9h0m-5-12h0m-5 4h0m0 8h0m-1 8h0m-1-15h0m-5-6h0m-6 0h0m-1 19h0m-1-18h0m-8 12h0m-2 4h0m-4 4h0m-1 0h0m-4-15h0m-4 4h0m-2 3h0m-6-4h0m0 7h0m-7-17h0m-5 13h0m-6-10h0m28 26h0m4 6h0m1 1h0m6-3h0m15 0h0m4-6h0m8 4h0m2 3h0m5-8h0m5 25h0m-1 8h0m-73 6h0m-1 5h0m-8-21h0m3 41h0m30 3h0m1-8h0m1-9h0m45 13h0m3 26h0m-18-18h0m-41-1h0m-15 5h0m68 27h0m-31 43h0m-30 22h0" stroke="#0000ff" stroke-width="10.4" stroke-linecap="round" fill="none" transform="scale(.5)" opacity=".42"/><line x1="732.7" y1="1528.3" x2="732.7" y2="1708.3" stroke="#3a3a3a" stroke-width="1.4"/><rect x="719.9" y="1569.2" width="25.6" height="37.5" fill="#4444f6" stroke="#333" stroke-width="1.5" fill-opacity=".6"/><line x1="719.9" y1="1586" x2="745.5" y2="1586" stroke="#333" stroke-width="2.8"/>
<path d="M852.1 1530.7L863.9 1530.7C864.6 1531.5 865.2 1533.8 867.9 1535.6C870.5 1537.5 875.6 1539.6 879.7 1541.6C883.8 1543.5 888.4 1545.5 892.5 1547.5C896.6 1549.5 901.2 1551.4 904.4 1553.4C907.5 1555.4 909.5 1557.3 911.3 1559.3C913 1561.3 914 1563.6 914.6 1565.2C915.2 1566.9 915.2 1567.5 914.8 1569.2C914.4 1570.8 913.7 1572.8 912.2 1575.1C910.8 1577.4 908.5 1580.4 906.3 1583C904.2 1585.6 901.6 1588.3 899.4 1590.9C897.3 1593.5 895.1 1596.1 893.5 1598.8C891.9 1601.4 890.9 1604 889.6 1606.7C888.2 1609.3 887.3 1611.9 885.6 1614.6C884 1617.2 881.8 1619.8 879.7 1622.4C877.6 1625.1 874.8 1627.7 872.8 1630.3C870.7 1633 868.9 1635.6 867.5 1638.2C866 1640.9 865.1 1643.3 864.3 1646.1C863.5 1648.9 863.2 1653.5 862.9 1655L853.1 1655C852.8 1653.5 852.4 1648.9 851.7 1646.1C850.9 1643.3 849.9 1640.9 848.5 1638.2C847.1 1635.6 845.2 1633 843.2 1630.3C841.2 1627.7 838.4 1625.1 836.3 1622.4C834.2 1619.8 832 1617.2 830.4 1614.6C828.7 1611.9 827.7 1609.3 826.4 1606.7C825.1 1604 824.1 1601.4 822.5 1598.8C820.8 1596.1 818.7 1593.5 816.6 1590.9C814.4 1588.3 811.8 1585.6 809.7 1583C807.5 1580.4 805.2 1577.4 803.7 1575.1C802.3 1572.8 801.6 1570.8 801.2 1569.2C800.8 1567.5 800.8 1566.9 801.4 1565.2C802 1563.6 803 1561.3 804.7 1559.3C806.4 1557.3 808.5 1555.4 811.6 1553.4C814.8 1551.4 819.4 1549.5 823.5 1547.5C827.6 1545.5 832.2 1543.5 836.3 1541.6C840.4 1539.6 845.5 1537.5 848.1 1535.6C850.8 1533.8 851.4 1531.5 852.1 1530.7Z" fill="#fb9a9a" stroke="#333" stroke-width="1.3" stroke-linejoin="round"/><path d="M1677 3085h0m11 5h0m10-5h0m32 32h0m-4-15h0m-6 15h0m-20-18h0m-1 20h0m-7-4h0m-9-6h0m-3 2h0m-3-2h0m-8-2h0m12 13h0m11 0h0m0 5h0m33 4h0m6 10h0m20-15h0m9 30h0m-5 10h0m-37-20h0m-22 12h0m-9-10h0m-4 6h0m-5 12h0m45 27h0m14-3h0m17-11h0m1 8h0m-4 15h0m-20-3h0m-7 2h0m-33 40h0m26-7h0m49 17h0m-57-8h0m-4 8h0m54 25h0" stroke="#ff0000" stroke-width="10.4" stroke-linecap="round" fill="none" transform="scale(.5)" opacity=".42"/><path d="M1670 3071h0m94 36h0m0 3h0m-9-6h0m-11 14h0m-7-15h0m-10-3h0m-2 6h0m-49 20h0m1 15h0m25-1h0m1-9h0m12 4h0m21 8h0m4-20h0m24 27h0m-17 6h0m-9 4h0m-6-5h0m-29 11h0m-5 0h0m30 17h0m19-9h0m15 31h0m-30-8h0m-36 2h0m-1 4h0m-23-7h0m-5 23h0m47 2h0m12 14h0m18-18h0m4 0h0m9 30h0m-3-6h0m-13 19h0m-31-15h0m43 35h0" stroke="#ff0000" stroke-width="10.4" stroke-linecap="round" fill="none" transform="scale(.5)" opacity=".42"/><path d="M1678 3076h0m59 41h0m-11 1h0m-16-11h0m-10 1h0m-4 6h0m-19-6h0m0 9h0m22 18h0m9 1h0m11-10h0m37 3h0m10-8h0m-2 32h0m-5-3h0m-2 9h0m-17-10h0m-4 2h0m0 14h0m-16-19h0m-13 12h0m-12-5h0m-1 6h0m-15-8h0m0 18h0m0 7h0m2 6h0m8-10h0m22 10h0m55 14h0m-41 11h0m-8 4h0m-9-17h0m57 37h0m1 31h0m-36-22h0m-9 1h0m-2 22h0" stroke="#ff0000" stroke-width="10.4" stroke-linecap="round" fill="none" transform="scale(.5)" opacity=".42"/><line x1="858" y1="1530.7" x2="858" y2="1655" stroke="#3a3a3a" stroke-width="1.4"/><rect x="845.6" y="1563.3" width="24.9" height="36.1" fill="#f64444" stroke="#333" stroke-width="1.5" fill-opacity=".6"/><line x1="845.6" y1="1579" x2="870.4" y2="1579" stroke="#333" stroke-width="2.8"/>
<text x="744" y="1684.6" font-size="14.7" font-weight="bold" fill="#111"><tspan font-style="italic">P</tspan>.value = 0.043</text>
<rect x="658" y="1521" width="274.9" height="195.1" fill="none" stroke="#333" stroke-width="2.9"/><path d="M732.6 1717.1v4.5M857.8 1717.1v4.5M657 1575h-3M657 1633.7h-3M657 1692.8h-3" stroke="#333" stroke-width="1.1" fill="none"/><text x="654.2" y="1580.2" font-size="15" text-anchor="end" fill="#4d4d4d">0.8</text><text x="654.2" y="1638.9" font-size="15" text-anchor="end" fill="#4d4d4d">0.6</text><text x="654.2" y="1698" font-size="15" text-anchor="end" fill="#4d4d4d">0.4</text>
<rect x="970.9" y="1521" width="275.3" height="195.1" fill="#fff"/><path d="M970.9 1522.3H1246.2M970.9 1582.3H1246.2M970.9 1642.3H1246.2M970.9 1702.3H1246.2" stroke="#a8a8a8" stroke-width="1" stroke-dasharray="6 3.5" fill="none"/><path d="M970.9 1552.3H1246.2M970.9 1612.3H1246.2M970.9 1672.3H1246.2" stroke="#b8b8b8" stroke-width="1" stroke-dasharray="2.2 2.2" fill="none"/><path d="M1045.5 1521V1716.1M1170.7 1521V1716.1" stroke="#a8a8a8" stroke-width="1" stroke-dasharray="4 3" fill="none"/>
<path d="M1035.7 1528.3L1055.4 1528.3C1055.9 1529.6 1057.4 1533.1 1058.4 1535.6C1059.4 1538.2 1060.2 1540.9 1061.3 1543.5C1062.5 1546.2 1063.8 1548.8 1065.3 1551.4C1066.8 1554.1 1068.2 1556.7 1070.2 1559.3C1072.2 1561.9 1075 1564.6 1077.1 1567.2C1079.2 1569.8 1081.4 1572.5 1083 1575.1C1084.7 1577.7 1086 1580.4 1087 1583C1088 1585.6 1088.6 1588.6 1088.9 1590.9C1089.3 1593.2 1089.6 1594.5 1089.3 1596.8C1089.1 1599.1 1088.1 1602.1 1087.4 1604.7C1086.6 1607.3 1085.7 1610 1085 1612.6C1084.3 1615.2 1083.9 1617.8 1083.4 1620.5C1082.9 1623.1 1082.5 1625.7 1082 1628.4C1081.6 1631 1081.3 1633.6 1080.7 1636.3C1080 1638.9 1079.2 1641.5 1078.1 1644.1C1077 1646.8 1075.6 1649.4 1074.1 1652C1072.7 1654.7 1070.9 1657.3 1069.2 1659.9C1067.6 1662.6 1065.8 1665.2 1064.3 1667.8C1062.8 1670.5 1061.7 1673.1 1060.3 1675.7C1059 1678.3 1057.6 1681 1056.4 1683.6C1055.2 1686.2 1054 1688.9 1053 1691.5C1052.1 1694.1 1051.1 1696.6 1050.5 1699.4C1049.8 1702.2 1049.3 1706.8 1049.1 1708.3L1042 1708.3C1041.8 1706.8 1041.3 1702.2 1040.6 1699.4C1040 1696.6 1039 1694.1 1038 1691.5C1037.1 1688.9 1035.9 1686.2 1034.7 1683.6C1033.5 1681 1032.1 1678.3 1030.7 1675.7C1029.4 1673.1 1028.3 1670.5 1026.8 1667.8C1025.3 1665.2 1023.5 1662.6 1021.9 1659.9C1020.2 1657.3 1018.4 1654.7 1016.9 1652C1015.5 1649.4 1014.1 1646.8 1013 1644.1C1011.9 1641.5 1011.1 1638.9 1010.4 1636.3C1009.8 1633.6 1009.5 1631 1009 1628.4C1008.6 1625.7 1008.2 1623.1 1007.7 1620.5C1007.2 1617.8 1006.7 1615.2 1006.1 1612.6C1005.4 1610 1004.4 1607.3 1003.7 1604.7C1003 1602.1 1002 1599.1 1001.7 1596.8C1001.5 1594.5 1001.7 1593.2 1002.1 1590.9C1002.5 1588.6 1003.1 1585.6 1004.1 1583C1005.1 1580.4 1006.4 1577.7 1008.1 1575.1C1009.7 1572.5 1011.8 1569.8 1014 1567.2C1016.1 1564.6 1018.9 1561.9 1020.9 1559.3C1022.9 1556.7 1024.3 1554.1 1025.8 1551.4C1027.3 1548.8 1028.6 1546.2 1029.8 1543.5C1030.9 1540.9 1031.7 1538.2 1032.7 1535.6C1033.7 1533.1 1035.2 1529.6 1035.7 1528.3Z" fill="#9a9afb" stroke="#333" stroke-width="1.3" stroke-linejoin="round"/><path d="M2103 3081h0m23 23h0m-5 12h0m-8-6h0m-40-10h0m20 40h0m47-10h0m-3 28h0m-41 8h0m34 28h0m-19 20h0m-46-5h0m70 33h0m-24 6h0m-58-1h0m-10 27h0m1-7h0m95 51h0m-85 65h0" stroke="#0000ff" stroke-width="10.4" stroke-linecap="round" fill="none" transform="scale(.5)" opacity=".42"/><path d="M2118 3085h0m2 28h0m-76 12h0m34 18h0m-8 9h0m-7 29h0m0 20h0m-19 18h0m87-3h0m-71 29h0m-17 9h0m67 21h0m22-5h0m-23 31h0m-47 15h0m40 12h0m26-5h0m-6 62h0" stroke="#0000ff" stroke-width="10.4" stroke-linecap="round" fill="none" transform="scale(.5)" opacity=".42"/><path d="M2126 3105h0m-18 7h0m-40 3h0m57 36h0m-68 6h0m83 49h0m-88 1h0m-8 18h0m16 9h0m35-17h0m38 12h0m-22 27h0m-1 0h0m-34 14h0m43 6h0m-37 43h0m12 39h0m-22-15h0" stroke="#0000ff" stroke-width="10.4" stroke-linecap="round" fill="none" transform="scale(.5)" opacity=".42"/><line x1="1045.5" y1="1528.3" x2="1045.5" y2="1708.3" stroke="#3a3a3a" stroke-width="1.4"/><rect x="1032.7" y="1586.3" width="25.6" height="54.1" fill="#4444f6" stroke="#333" stroke-width="1.5" fill-opacity=".6"/><line x1="1032.7" y1="1606.1" x2="1058.4" y2="1606.1" stroke="#333" stroke-width="2.8"/>
<path d="M1129.4 1544.5L1212.2 1544.5C1213.6 1545.3 1218 1547.6 1220.1 1549.5C1222.3 1551.3 1223.8 1553.4 1225.1 1555.4C1226.3 1557.3 1227.3 1559.3 1227.6 1561.3C1228 1563.3 1227.9 1565.2 1227 1567.2C1226.2 1569.2 1224.8 1570.8 1222.5 1573.1C1220.2 1575.4 1216.4 1578.4 1213.2 1581C1210 1583.7 1206.3 1586.3 1203.4 1588.9C1200.4 1591.5 1197.7 1594.2 1195.5 1596.8C1193.3 1599.4 1191.5 1602.1 1190.1 1604.7C1188.8 1607.3 1187.9 1610 1187.6 1612.6C1187.3 1615.2 1187.5 1617.8 1188.2 1620.5C1188.8 1623.1 1190.3 1625.7 1191.5 1628.4C1192.7 1631 1194.6 1634 1195.5 1636.3C1196.4 1638.6 1197 1640.2 1197.1 1642.2C1197.2 1644.1 1196.8 1645.7 1196.1 1648.1C1195.3 1650.5 1193.1 1655 1192.5 1656.4L1149.1 1656.4C1148.5 1655 1146.3 1650.5 1145.6 1648.1C1144.8 1645.7 1144.5 1644.1 1144.6 1642.2C1144.7 1640.2 1145.2 1638.6 1146.2 1636.3C1147.1 1634 1148.9 1631 1150.1 1628.4C1151.3 1625.7 1152.8 1623.1 1153.5 1620.5C1154.1 1617.8 1154.4 1615.2 1154 1612.6C1153.7 1610 1152.8 1607.3 1151.5 1604.7C1150.2 1602.1 1148.4 1599.4 1146.2 1596.8C1144 1594.2 1141.2 1591.5 1138.3 1588.9C1135.3 1586.3 1131.6 1583.7 1128.4 1581C1125.2 1578.4 1121.4 1575.4 1119.1 1573.1C1116.8 1570.8 1115.4 1569.2 1114.6 1567.2C1113.7 1565.2 1113.7 1563.3 1114 1561.3C1114.3 1559.3 1115.3 1557.3 1116.6 1555.4C1117.8 1553.4 1119.4 1551.3 1121.5 1549.5C1123.6 1547.6 1128.1 1545.3 1129.4 1544.5Z" fill="#fb9a9a" stroke="#333" stroke-width="1.3" stroke-linejoin="round"/><path d="M2389 3100h0m-38 15h0m-13 1h0m42 97h0m5 91h0m-24-8h0" stroke="#ff0000" stroke-width="10.4" stroke-linecap="round" fill="none" transform="scale(.5)" opacity=".42"/><path d="M2364 3140h0m-10 12h0m-35-4h0m-20 6h0m56 32h0m3-13h0" stroke="#ff0000" stroke-width="10.4" stroke-linecap="round" fill="none" transform="scale(.5)" opacity=".42"/><path d="M2385 3117h0m-29 6h0m27 14h0m-43 90h0m20 8h0m-24 51h0" stroke="#ff0000" stroke-width="10.4" stroke-linecap="round" fill="none" transform="scale(.5)" opacity=".42"/><line x1="1170.8" y1="1544.5" x2="1170.8" y2="1656.4" stroke="#3a3a3a" stroke-width="1.4"/><rect x="1158.4" y="1557.9" width="25.3" height="65.9" fill="#f64444" stroke="#333" stroke-width="1.5" fill-opacity=".6"/><line x1="1158.4" y1="1571.7" x2="1183.6" y2="1571.7" stroke="#333" stroke-width="2.8"/>
<text x="1056.4" y="1684.6" font-size="14.7" font-weight="bold" fill="#111"><tspan font-style="italic">P</tspan>.value = 0.025</text>
<rect x="970.9" y="1521" width="275.3" height="195.1" fill="none" stroke="#333" stroke-width="2.9"/><path d="M1045.5 1717.1v4.5M1170.7 1717.1v4.5M969.9 1522.3h-3M969.9 1582.3h-3M969.9 1642.3h-3M969.9 1702.3h-3" stroke="#333" stroke-width="1.1" fill="none"/><text x="967.1" y="1527.5" font-size="15" text-anchor="end" fill="#4d4d4d">1.0</text><text x="967.1" y="1587.5" font-size="15" text-anchor="end" fill="#4d4d4d">0.8</text><text x="967.1" y="1647.5" font-size="15" text-anchor="end" fill="#4d4d4d">0.6</text><text x="967.1" y="1707.5" font-size="15" text-anchor="end" fill="#4d4d4d">0.4</text>
<text x="736.6" y="1732.5" font-size="15" text-anchor="middle" font-weight="bold" fill="#1a1a1a">PTs without TT</text>
<text x="861.8" y="1732.5" font-size="15" text-anchor="middle" font-weight="bold" fill="#1a1a1a">PTs with TT</text>
<text x="1049.5" y="1732.5" font-size="15" text-anchor="middle" font-weight="bold" fill="#1a1a1a">PTs without TT</text>
<text x="1174.7" y="1732.5" font-size="15" text-anchor="middle" font-weight="bold" fill="#1a1a1a">PTs with TT</text>
<text font-size="17.7" text-anchor="middle" font-weight="bold" fill="#111" transform="translate(602.5 1395.9) rotate(-90)"><tspan font-style="italic">FAP</tspan><tspan dx="-0.03em" dy="-0.62em" font-size="56%" font-style="normal">+</tspan><tspan dy="0.347em">​</tspan> Fibroblast</text>
<text font-size="17.7" text-anchor="middle" font-weight="bold" fill="#111" transform="translate(625.5 1395.9) rotate(-90)">signature score</text>
<text font-size="17.7" text-anchor="middle" font-weight="bold" fill="#111" transform="translate(602.5 1629.8) rotate(-90)"><tspan font-style="italic">CYSLTR2</tspan><tspan dx="-0.03em" dy="-0.62em" font-size="56%" font-style="normal">+</tspan><tspan dy="0.347em">​</tspan> Fibroblast</text>
<text font-size="17.7" text-anchor="middle" font-weight="bold" fill="#111" transform="translate(625.5 1629.8) rotate(-90)">signature score</text>
</g>
<g id="panelF">
<text x="1271.5" y="1290" font-size="36.3" font-weight="bold">F</text>
<text x="1521.2" y="1287.8" font-size="22.4" text-anchor="middle" font-weight="bold" fill="#1a1a1a">scRNA−seq</text>
<rect x="1342.9" y="1298.1" width="356.5" height="209" fill="#fff"/><path d="M1342.9 1306.7H1699.4M1342.9 1354.5H1699.4M1342.9 1402.6H1699.4M1342.9 1450.4H1699.4M1342.9 1498.1H1699.4" stroke="#a8a8a8" stroke-width="1" stroke-dasharray="5 3.5" fill="none"/><path d="M1342.9 1330.6H1699.4M1342.9 1378.5H1699.4M1342.9 1426.5H1699.4M1342.9 1474.2H1699.4" stroke="#b8b8b8" stroke-width="1" stroke-dasharray="2.2 2.2" fill="none"/><path d="M1409.6 1298.1V1507.1M1521.2 1298.1V1507.1M1632.4 1298.1V1507.1" stroke="#a8a8a8" stroke-width="1" stroke-dasharray="4 3" fill="none"/>
<line x1="1409.4" y1="1460" x2="1409.4" y2="1477.6" stroke="#3a3aff" stroke-width="1.2"/><line x1="1409.4" y1="1490.8" x2="1409.4" y2="1498.5" stroke="#3a3aff" stroke-width="1.2"/><rect x="1367.3" y="1477.6" width="84.3" height="13.1" fill="#fff" stroke="#3a3aff" stroke-width="1.2"/><line x1="1367.3" y1="1483.1" x2="1451.6" y2="1483.1" stroke="#3a3aff" stroke-width="2"/>
<line x1="1520.8" y1="1461.6" x2="1520.8" y2="1467" stroke="#3a3aff" stroke-width="1.2"/><line x1="1520.8" y1="1491.7" x2="1520.8" y2="1493.7" stroke="#3a3aff" stroke-width="1.2"/><rect x="1478.8" y="1467" width="84" height="24.7" fill="#fff" stroke="#3a3aff" stroke-width="1.2"/><line x1="1478.8" y1="1486.9" x2="1562.8" y2="1486.9" stroke="#3a3aff" stroke-width="2"/>
<line x1="1632.6" y1="1312.5" x2="1632.6" y2="1390.4" stroke="#ff4040" stroke-width="1.2"/><line x1="1632.6" y1="1472.5" x2="1632.6" y2="1490.4" stroke="#ff4040" stroke-width="1.2"/><rect x="1590.4" y="1390.4" width="84.3" height="82.1" fill="#fff" stroke="#ff4040" stroke-width="1.2"/><line x1="1590.4" y1="1429.2" x2="1674.7" y2="1429.2" stroke="#ff4040" stroke-width="2"/>
<circle cx="1421.1" cy="1405.2" r="3" fill="#0808ee" stroke="#111" stroke-width=".7"/><circle cx="1397.1" cy="1456.8" r="3" fill="#0808ee" stroke="#111" stroke-width=".7"/><circle cx="1425" cy="1459" r="3" fill="#0808ee" stroke="#111" stroke-width=".7"/><circle cx="1405.4" cy="1473.5" r="3" fill="#0808ee" stroke="#111" stroke-width=".7"/><circle cx="1400.6" cy="1477.9" r="3" fill="#0808ee" stroke="#111" stroke-width=".7"/><circle cx="1407.7" cy="1478.3" r="3" fill="#0808ee" stroke="#111" stroke-width=".7"/><circle cx="1394.2" cy="1480.8" r="3" fill="#0808ee" stroke="#111" stroke-width=".7"/><circle cx="1410.9" cy="1481.8" r="3" fill="#0808ee" stroke="#111" stroke-width=".7"/><circle cx="1402.5" cy="1483.4" r="3" fill="#0808ee" stroke="#111" stroke-width=".7"/><circle cx="1399" cy="1485.6" r="3" fill="#0808ee" stroke="#111" stroke-width=".7"/><circle cx="1406.7" cy="1484" r="3" fill="#0808ee" stroke="#111" stroke-width=".7"/><circle cx="1395.2" cy="1489.8" r="3" fill="#0808ee" stroke="#111" stroke-width=".7"/><circle cx="1409.3" cy="1489.5" r="3" fill="#0808ee" stroke="#111" stroke-width=".7"/><circle cx="1416.6" cy="1491.4" r="3" fill="#0808ee" stroke="#111" stroke-width=".7"/><circle cx="1392.9" cy="1492.7" r="3" fill="#0808ee" stroke="#111" stroke-width=".7"/><circle cx="1400.9" cy="1493.7" r="3" fill="#0808ee" stroke="#111" stroke-width=".7"/><circle cx="1417" cy="1495.9" r="3" fill="#0808ee" stroke="#111" stroke-width=".7"/><circle cx="1419.5" cy="1497.8" r="3" fill="#0808ee" stroke="#111" stroke-width=".7"/>
<circle cx="1510.9" cy="1462.2" r="3" fill="#f00808" stroke="#111" stroke-width=".7"/><circle cx="1515.1" cy="1467" r="3" fill="#f00808" stroke="#111" stroke-width=".7"/><circle cx="1527.9" cy="1486.9" r="3" fill="#f00808" stroke="#111" stroke-width=".7"/><circle cx="1522.8" cy="1491.7" r="3" fill="#f00808" stroke="#111" stroke-width=".7"/><circle cx="1530.8" cy="1494" r="3" fill="#f00808" stroke="#111" stroke-width=".7"/><circle cx="1634" cy="1312.8" r="3" fill="#f00808" stroke="#111" stroke-width=".7"/><circle cx="1643.3" cy="1340.7" r="3" fill="#f00808" stroke="#111" stroke-width=".7"/><circle cx="1636.6" cy="1407.7" r="3" fill="#f00808" stroke="#111" stroke-width=".7"/><circle cx="1630.8" cy="1428.3" r="3" fill="#f00808" stroke="#111" stroke-width=".7"/><circle cx="1623.8" cy="1430.8" r="3" fill="#f00808" stroke="#111" stroke-width=".7"/><circle cx="1629.5" cy="1469.6" r="3" fill="#f00808" stroke="#111" stroke-width=".7"/><circle cx="1622.5" cy="1482.8" r="3" fill="#f00808" stroke="#111" stroke-width=".7"/><circle cx="1621.5" cy="1490.8" r="3" fill="#f00808" stroke="#111" stroke-width=".7"/>
<text x="1468.6" y="1310.9" font-size="13" text-anchor="middle" font-weight="bold" fill="#1a1a1a"><tspan font-style="italic">P</tspan>.value = 0.8777</text><text x="1576.6" y="1310.9" font-size="13" text-anchor="middle" font-weight="bold" fill="#1a1a1a"><tspan font-style="italic">P</tspan>.value = 0.0360</text><text x="1520.5" y="1337.8" font-size="13" text-anchor="middle" font-weight="bold" fill="#1a1a1a"><tspan font-style="italic">P</tspan>.value = 0.0375</text>
<line x1="1410.9" y1="1316.4" x2="1519.6" y2="1316.4" stroke="#231815" stroke-width="1.4"/><line x1="1522.8" y1="1316.4" x2="1630.5" y2="1316.4" stroke="#231815" stroke-width="1.4"/><line x1="1410.9" y1="1343.3" x2="1630.5" y2="1343.3" stroke="#231815" stroke-width="1.4"/>
<rect x="1342.9" y="1298.1" width="356.5" height="209" fill="none" stroke="#333" stroke-width="2.7"/><path d="M1341.9 1306.7h-2.6M1341.9 1354.5h-2.6M1341.9 1402.6h-2.6M1341.9 1450.4h-2.6M1341.9 1498.1h-2.6" stroke="#333" stroke-width="1.1" fill="none"/><text x="1339.3" y="1311.1" font-size="12.6" text-anchor="end" fill="#4d4d4d">0.20</text><text x="1339.3" y="1358.9" font-size="12.6" text-anchor="end" fill="#4d4d4d">0.15</text><text x="1339.3" y="1407" font-size="12.6" text-anchor="end" fill="#4d4d4d">0.10</text><text x="1339.3" y="1454.8" font-size="12.6" text-anchor="end" fill="#4d4d4d">0.05</text><text x="1339.3" y="1502.5" font-size="12.6" text-anchor="end" fill="#4d4d4d">0.00</text>
<rect x="1342.9" y="1510.3" width="356.5" height="210" fill="#fff"/><path d="M1342.9 1519.6H1699.4M1342.9 1567.4H1699.4M1342.9 1615.2H1699.4M1342.9 1663.3H1699.4M1342.9 1711H1699.4" stroke="#a8a8a8" stroke-width="1" stroke-dasharray="5 3.5" fill="none"/><path d="M1342.9 1543.5H1699.4M1342.9 1591.3H1699.4M1342.9 1639.2H1699.4M1342.9 1687.2H1699.4" stroke="#b8b8b8" stroke-width="1" stroke-dasharray="2.2 2.2" fill="none"/><path d="M1409.6 1510.3V1720.3M1521.2 1510.3V1720.3M1632.4 1510.3V1720.3" stroke="#a8a8a8" stroke-width="1" stroke-dasharray="4 3" fill="none"/>
<line x1="1409.4" y1="1694" x2="1409.4" y2="1700.8" stroke="#3a3aff" stroke-width="1.2"/><line x1="1409.4" y1="1708.8" x2="1409.4" y2="1711.7" stroke="#3a3aff" stroke-width="1.2"/><rect x="1367.3" y="1700.8" width="84.3" height="8" fill="#fff" stroke="#3a3aff" stroke-width="1.2"/><line x1="1367.3" y1="1704.6" x2="1451.6" y2="1704.6" stroke="#3a3aff" stroke-width="2"/>
<line x1="1520.8" y1="1670.6" x2="1520.8" y2="1686.7" stroke="#3a3aff" stroke-width="1.2"/><line x1="1520.8" y1="1701.7" x2="1520.8" y2="1708.5" stroke="#3a3aff" stroke-width="1.2"/><rect x="1478.8" y="1686.7" width="84" height="15.1" fill="#fff" stroke="#3a3aff" stroke-width="1.2"/><line x1="1478.8" y1="1699.8" x2="1562.8" y2="1699.8" stroke="#3a3aff" stroke-width="2"/>
<line x1="1632.6" y1="1534.7" x2="1632.6" y2="1617.7" stroke="#ff4040" stroke-width="1.2"/><line x1="1632.6" y1="1682.2" x2="1632.6" y2="1690.8" stroke="#ff4040" stroke-width="1.2"/><rect x="1590.4" y="1617.7" width="84.3" height="64.4" fill="#fff" stroke="#ff4040" stroke-width="1.2"/><line x1="1590.4" y1="1667.1" x2="1674.7" y2="1667.1" stroke="#ff4040" stroke-width="2"/>
<circle cx="1423.7" cy="1693.7" r="3" fill="#0808ee" stroke="#111" stroke-width=".7"/><circle cx="1405.1" cy="1696.9" r="3" fill="#0808ee" stroke="#111" stroke-width=".7"/><circle cx="1420.2" cy="1696.6" r="3" fill="#0808ee" stroke="#111" stroke-width=".7"/><circle cx="1406.7" cy="1702" r="3" fill="#0808ee" stroke="#111" stroke-width=".7"/><circle cx="1422.7" cy="1700.4" r="3" fill="#0808ee" stroke="#111" stroke-width=".7"/><circle cx="1392.9" cy="1704.3" r="3" fill="#0808ee" stroke="#111" stroke-width=".7"/><circle cx="1413.1" cy="1705.9" r="3" fill="#0808ee" stroke="#111" stroke-width=".7"/><circle cx="1425.3" cy="1704.3" r="3" fill="#0808ee" stroke="#111" stroke-width=".7"/><circle cx="1399.7" cy="1708.5" r="3" fill="#0808ee" stroke="#111" stroke-width=".7"/><circle cx="1415.7" cy="1710.4" r="3" fill="#0808ee" stroke="#111" stroke-width=".7"/><circle cx="1401.3" cy="1711" r="3" fill="#0808ee" stroke="#111" stroke-width=".7"/><circle cx="1414.7" cy="1711" r="3" fill="#0808ee" stroke="#111" stroke-width=".7"/><circle cx="1405.1" cy="1702.7" r="3" fill="#0808ee" stroke="#111" stroke-width=".7"/><circle cx="1419.5" cy="1704.6" r="3" fill="#0808ee" stroke="#111" stroke-width=".7"/>
<circle cx="1533.3" cy="1670" r="3" fill="#f00808" stroke="#111" stroke-width=".7"/><circle cx="1526" cy="1687" r="3" fill="#f00808" stroke="#111" stroke-width=".7"/><circle cx="1509.3" cy="1699.8" r="3" fill="#f00808" stroke="#111" stroke-width=".7"/><circle cx="1523.4" cy="1701.7" r="3" fill="#f00808" stroke="#111" stroke-width=".7"/><circle cx="1505.8" cy="1709.1" r="3" fill="#f00808" stroke="#111" stroke-width=".7"/><circle cx="1638.2" cy="1534.7" r="3" fill="#f00808" stroke="#111" stroke-width=".7"/><circle cx="1620.2" cy="1594.3" r="3" fill="#f00808" stroke="#111" stroke-width=".7"/><circle cx="1626" cy="1626.1" r="3" fill="#f00808" stroke="#111" stroke-width=".7"/><circle cx="1632.4" cy="1663.6" r="3" fill="#f00808" stroke="#111" stroke-width=".7"/><circle cx="1630.8" cy="1670.6" r="3" fill="#f00808" stroke="#111" stroke-width=".7"/><circle cx="1619.3" cy="1680.2" r="3" fill="#f00808" stroke="#111" stroke-width=".7"/><circle cx="1636.9" cy="1687.9" r="3" fill="#f00808" stroke="#111" stroke-width=".7"/><circle cx="1626" cy="1690.8" r="3" fill="#f00808" stroke="#111" stroke-width=".7"/>
<text x="1465.1" y="1524.1" font-size="13" text-anchor="middle" font-weight="bold" fill="#1a1a1a"><tspan font-style="italic">P</tspan>.value = 0.2054</text><text x="1576.6" y="1524.1" font-size="13" text-anchor="middle" font-weight="bold" fill="#1a1a1a"><tspan font-style="italic">P</tspan>.value = 0.0396</text><text x="1520.2" y="1545.6" font-size="13" text-anchor="middle" font-weight="bold" fill="#1a1a1a"><tspan font-style="italic">P</tspan>.value = 0.0201</text>
<line x1="1410.9" y1="1529.2" x2="1519.6" y2="1529.2" stroke="#231815" stroke-width="1.4"/><line x1="1522.8" y1="1529.2" x2="1630.5" y2="1529.2" stroke="#231815" stroke-width="1.4"/><line x1="1410.9" y1="1550.7" x2="1630.5" y2="1550.7" stroke="#231815" stroke-width="1.4"/>
<rect x="1349" y="1558.4" width="113.2" height="117.7" fill="#8cb81f" stroke="#2a2a1a" stroke-width="1.8"/>
<text x="1355.4" y="1576.4" font-size="11.8" font-weight="bold" fill="#1a1a1a">Patient</text>
<text x="1355.4" y="1634.7" font-size="11.8" font-weight="bold" fill="#1a1a1a">Source</text>
<text x="1373" y="1594.6" font-size="10.3" fill="#1a1a1a">PTs with TT</text>
<line x1="1360.5" y1="1586.3" x2="1360.5" y2="1595.3" stroke="#ff4040" stroke-width="1"/><rect x="1356" y="1587.8" width="9" height="6" fill="none" stroke="#ff4040" stroke-width="1"/><line x1="1356" y1="1590.8" x2="1365" y2="1590.8" stroke="#ff4040" stroke-width="1"/>
<text x="1373" y="1606.8" font-size="10.3" fill="#1a1a1a">PTs without TT</text>
<line x1="1360.5" y1="1598.5" x2="1360.5" y2="1607.5" stroke="#3a3aff" stroke-width="1"/><rect x="1356" y="1600" width="9" height="6" fill="none" stroke="#3a3aff" stroke-width="1"/><line x1="1356" y1="1603" x2="1365" y2="1603" stroke="#3a3aff" stroke-width="1"/>
<text x="1373" y="1651.7" font-size="10.3" fill="#1a1a1a">Our data</text>
<circle cx="1360.5" cy="1648.5" r="2.6" fill="#f00808" stroke="#111" stroke-width=".6"/>
<text x="1373" y="1663.9" font-size="10.3" fill="#1a1a1a">Zhenyuan Yu et al</text>
<circle cx="1360.5" cy="1660.7" r="2.6" fill="#0808ee" stroke="#111" stroke-width=".6"/>
<rect x="1342.9" y="1510.3" width="356.5" height="210" fill="none" stroke="#333" stroke-width="2.7"/><path d="M1341.9 1519.6h-2.6M1341.9 1567.4h-2.6M1341.9 1615.2h-2.6M1341.9 1663.3h-2.6M1341.9 1711h-2.6" stroke="#333" stroke-width="1.1" fill="none"/><text x="1339.3" y="1524" font-size="12.6" text-anchor="end" fill="#4d4d4d">0.20</text><text x="1339.3" y="1571.8" font-size="12.6" text-anchor="end" fill="#4d4d4d">0.15</text><text x="1339.3" y="1619.6" font-size="12.6" text-anchor="end" fill="#4d4d4d">0.10</text><text x="1339.3" y="1667.7" font-size="12.6" text-anchor="end" fill="#4d4d4d">0.05</text><text x="1339.3" y="1715.4" font-size="12.6" text-anchor="end" fill="#4d4d4d">0.00</text>
<path d="M1409.6 1721.5v4M1521.2 1721.5v4M1632.4 1721.5v4" stroke="#333" stroke-width="1.1" fill="none"/>
<text x="1409.6" y="1734.2" font-size="13.8" text-anchor="middle" font-weight="bold" fill="#1a1a1a">PTs without TT</text>
<text x="1409.6" y="1749.2" font-size="13.8" text-anchor="middle" font-weight="bold" fill="#1a1a1a">Zhenyuan Yu et al</text>
<text x="1521.2" y="1734.2" font-size="13.8" text-anchor="middle" font-weight="bold" fill="#1a1a1a">PTs without TT</text>
<text x="1521.2" y="1749.2" font-size="13.8" text-anchor="middle" font-weight="bold" fill="#1a1a1a">Our data</text>
<text x="1632.4" y="1734.2" font-size="13.8" text-anchor="middle" font-weight="bold" fill="#1a1a1a">PTs with TT</text>
<text x="1632.4" y="1749.2" font-size="13.8" text-anchor="middle" font-weight="bold" fill="#1a1a1a">Our data</text>
<text font-size="17.8" text-anchor="middle" font-weight="bold" fill="#111" transform="translate(1285 1406.1) rotate(-90)">Cell proportion of</text>
<text font-size="17.8" text-anchor="middle" font-weight="bold" fill="#111" transform="translate(1306.5 1406.1) rotate(-90)"><tspan font-style="italic">FAP</tspan><tspan dx="-0.03em" dy="-0.62em" font-size="56%" font-style="normal">+</tspan><tspan dy="0.347em">​</tspan> Fibroblast</text>
<text font-size="17.8" text-anchor="middle" font-weight="bold" fill="#111" transform="translate(1285 1621.9) rotate(-90)">Cell proportion of</text>
<text font-size="17.8" text-anchor="middle" font-weight="bold" fill="#111" transform="translate(1306.5 1621.9) rotate(-90)"><tspan font-style="italic">CYSLTR2</tspan><tspan dx="-0.03em" dy="-0.62em" font-size="56%" font-style="normal">+</tspan><tspan dy="0.347em">​</tspan> Fibroblast</text>
</g>
<g id="panelG">
<text x="1.5" y="2074" font-size="36.3" font-weight="bold">G</text>
<rect x="69.2" y="2090.3" width="4.9" height="57.9" fill="#cfe3d0"/>
<rect x="73.8" y="2090.3" width="10.4" height="57.9" fill="#f5d9e6"/>
<rect x="83.8" y="2090.3" width="28" height="57.9" fill="#d0d0dd"/>
<rect x="111.5" y="2090.3" width="122.7" height="57.9" fill="#ddcce0"/>
<rect x="233.9" y="2090.3" width="60.3" height="57.9" fill="#fbf6c0"/>
<rect x="293.9" y="2090.3" width="79.1" height="57.9" fill="#fde4b4"/>
<rect x="410.8" y="2090.3" width="15.4" height="57.9" fill="#f2d0d6"/>
<rect x="425.9" y="2090.3" width="1.6" height="57.9" fill="#f6d6c2"/>
<rect x="427.2" y="2090.3" width="24.2" height="57.9" fill="#f7b9b9"/>
<rect x="451.1" y="2090.3" width="40.1" height="57.9" fill="#f9d0d0"/>
<rect x="372.7" y="2090.9" width="18" height="56.7" fill="#439684" stroke="#111" stroke-width="1.7"/>
<rect x="390.7" y="2090.9" width="20.1" height="56.7" fill="#b4732c" stroke="#111" stroke-width="1.7"/>
<text x="52.8" y="2125.3" font-size="16.4" text-anchor="middle" font-weight="bold" fill="#ff0000">P28</text>
<rect x="69.2" y="2154" width="4.1" height="57.9" fill="#cfe3d0"/>
<rect x="72.9" y="2154" width="10.8" height="57.9" fill="#f5d9e6"/>
<rect x="83.4" y="2154" width="46" height="57.9" fill="#d0d0dd"/>
<rect x="129.1" y="2154" width="82.9" height="57.9" fill="#ddcce0"/>
<rect x="211.7" y="2154" width="20.4" height="57.9" fill="#fbf6c0"/>
<rect x="231.8" y="2154" width="151.2" height="57.9" fill="#fde4b4"/>
<rect x="410" y="2154" width="13.3" height="57.9" fill="#f2d0d6"/>
<rect x="423" y="2154" width="2.4" height="57.9" fill="#f6d6c2"/>
<rect x="425.1" y="2154" width="25.9" height="57.9" fill="#f7b9b9"/>
<rect x="450.7" y="2154" width="0.7" height="57.9" fill="#f08a8a"/>
<rect x="451.1" y="2154" width="40.1" height="57.9" fill="#f9d0d0"/>
<rect x="382.8" y="2154.6" width="7.5" height="56.7" fill="#439684" stroke="#111" stroke-width="1.7"/>
<rect x="390.3" y="2154.6" width="19.7" height="56.7" fill="#b4732c" stroke="#111" stroke-width="1.7"/>
<text x="52.8" y="2189.1" font-size="16.4" text-anchor="middle" font-weight="bold" fill="#ff0000">P27</text>
<rect x="69.2" y="2216.9" width="38" height="57.9" fill="#cfe3d0"/>
<rect x="106.9" y="2216.9" width="15.8" height="57.9" fill="#f5d9e6"/>
<rect x="122.4" y="2216.9" width="44.7" height="57.9" fill="#ddcce0"/>
<rect x="166.9" y="2216.9" width="5.3" height="57.9" fill="#fbf6c0"/>
<rect x="171.9" y="2216.9" width="108.9" height="57.9" fill="#fde4b4"/>
<rect x="349.2" y="2216.9" width="68.2" height="57.9" fill="#f2d0d6"/>
<rect x="417.1" y="2216.9" width="9.9" height="57.9" fill="#f6d6c2"/>
<rect x="426.8" y="2216.9" width="13.7" height="57.9" fill="#f0e3b8"/>
<rect x="440.2" y="2216.9" width="1.6" height="57.9" fill="#f08a8a"/>
<rect x="441.5" y="2216.9" width="49.8" height="57.9" fill="#f9d0d0"/>
<rect x="280.5" y="2217.5" width="15.9" height="56.7" fill="#439684" stroke="#111" stroke-width="1.7"/>
<rect x="296.4" y="2217.5" width="52.8" height="56.7" fill="#b4732c" stroke="#111" stroke-width="1.7"/>
<text x="52.8" y="2251.9" font-size="16.4" text-anchor="middle" font-weight="bold" fill="#ff0000">P26</text>
<rect x="69.2" y="2280.2" width="21.7" height="57.9" fill="#f5d9e6"/>
<rect x="90.6" y="2280.2" width="3.2" height="57.9" fill="#cfe3d0"/>
<rect x="93.5" y="2280.2" width="123.6" height="57.9" fill="#d0d0dd"/>
<rect x="216.7" y="2280.2" width="34.3" height="57.9" fill="#ddcce0"/>
<rect x="250.7" y="2280.2" width="181.4" height="57.9" fill="#fbf6c0"/>
<rect x="431.8" y="2280.2" width="8.7" height="57.9" fill="#fde4b4"/>
<rect x="445.2" y="2280.2" width="43.5" height="57.9" fill="#f7b9b9"/>
<rect x="488.4" y="2280.2" width="2.8" height="57.9" fill="#f9d0d0"/>
<rect x="440.2" y="2280.8" width="1.7" height="56.7" fill="#439684" stroke="#111" stroke-width="1.7"/>
<rect x="441.9" y="2280.8" width="3.4" height="56.7" fill="#b4732c" stroke="#111" stroke-width="1.7"/>
<text x="52.8" y="2315.2" font-size="16.4" text-anchor="middle" font-weight="bold" fill="#0000ff">P25</text>
<rect x="69.2" y="2343.5" width="1.6" height="57.4" fill="#cfe3d0"/>
<rect x="70.4" y="2343.5" width="36.4" height="57.4" fill="#f5d9e6"/>
<rect x="106.5" y="2343.5" width="54.8" height="57.4" fill="#d0d0dd"/>
<rect x="161" y="2343.5" width="120.2" height="57.4" fill="#ddcce0"/>
<rect x="280.9" y="2343.5" width="131.1" height="57.4" fill="#fbf6c0"/>
<rect x="411.7" y="2343.5" width="47.7" height="57.4" fill="#fde4b4"/>
<rect x="465.8" y="2343.5" width="2.4" height="57.4" fill="#f0e3b8"/>
<rect x="467.9" y="2343.5" width="2.8" height="57.4" fill="#f6d6c2"/>
<rect x="470.4" y="2343.5" width="17.5" height="57.4" fill="#f7b9b9"/>
<rect x="487.6" y="2343.5" width="3.7" height="57.4" fill="#f9d0d0"/>
<rect x="459.1" y="2344.1" width="4.6" height="56.2" fill="#439684" stroke="#111" stroke-width="1.7"/>
<rect x="463.7" y="2344.1" width="2.1" height="56.2" fill="#b4732c" stroke="#111" stroke-width="1.7"/>
<text x="52.8" y="2378.3" font-size="16.4" text-anchor="middle" font-weight="bold" fill="#0000ff">P24</text>
<rect x="69.2" y="2406.8" width="5.3" height="57.4" fill="#cfe3d0"/>
<rect x="74.2" y="2406.8" width="22.9" height="57.4" fill="#f5d9e6"/>
<rect x="96.8" y="2406.8" width="28.4" height="57.4" fill="#d0d0dd"/>
<rect x="124.9" y="2406.8" width="142.4" height="57.4" fill="#ddcce0"/>
<rect x="267.1" y="2406.8" width="96.7" height="57.4" fill="#fbf6c0"/>
<rect x="363.5" y="2406.8" width="82.5" height="57.4" fill="#fde4b4"/>
<rect x="455.3" y="2406.8" width="8.3" height="57.4" fill="#f0e3b8"/>
<rect x="463.3" y="2406.8" width="22.1" height="57.4" fill="#f7b9b9"/>
<rect x="485.1" y="2406.8" width="6.2" height="57.4" fill="#f9d0d0"/>
<rect x="445.6" y="2407.4" width="2.9" height="56.2" fill="#439684" stroke="#111" stroke-width="1.7"/>
<rect x="448.6" y="2407.4" width="6.7" height="56.2" fill="#b4732c" stroke="#111" stroke-width="1.7"/>
<text x="52.8" y="2441.6" font-size="16.4" text-anchor="middle" font-weight="bold" fill="#0000ff">P23</text>
<text font-size="20.6" text-anchor="middle" font-weight="bold" fill="#ff0000" transform="translate(24 2180.9) rotate(-90)">PTs with TT</text>
<text font-size="20.6" text-anchor="middle" font-weight="bold" fill="#0000ff" transform="translate(24 2374.1) rotate(-90)">PTs without TT</text>
<text x="69.2" y="2489.3" font-size="12.4" text-anchor="middle" font-weight="bold">0.00</text>
<text x="174.4" y="2489.3" font-size="12.4" text-anchor="middle" font-weight="bold">0.25</text>
<text x="280" y="2489.3" font-size="12.4" text-anchor="middle" font-weight="bold">0.50</text>
<text x="385.3" y="2489.3" font-size="12.4" text-anchor="middle" font-weight="bold">0.75</text>
<text x="490.9" y="2489.3" font-size="12.4" text-anchor="middle" font-weight="bold">1.00</text>
<path d="M69.2 2465.9v4M174.4 2465.9v4M280 2465.9v4M385.3 2465.9v4M490.9 2465.9v4" stroke="#333" stroke-width="1" fill="none"/>
<rect x="495.5" y="2093" width="24.7" height="25.9" fill="#9b9b9b"/>
<text x="526.1" y="2110.4" font-size="12.6" font-weight="bold" fill="#1a1a1a">Mesangial cell</text>
<rect x="495.5" y="2119.8" width="24.7" height="25.9" fill="#69638f"/>
<text x="526.1" y="2137.3" font-size="12.6" font-weight="bold" fill="#1a1a1a">vSMC 1</text>
<rect x="495.5" y="2146.7" width="24.7" height="25.9" fill="#91579c"/>
<text x="526.1" y="2164.1" font-size="12.6" font-weight="bold" fill="#1a1a1a">vSMC 2</text>
<rect x="495.5" y="2173.5" width="24.7" height="25.9" fill="#60a05c"/>
<text x="526.1" y="2190.9" font-size="12.6" font-weight="bold" fill="#1a1a1a">Cycling Pericyte</text>
<rect x="495.5" y="2200.3" width="24.7" height="25.9" fill="#dd88b6"/>
<text x="526.1" y="2217.7" font-size="12.6" font-weight="bold" fill="#1a1a1a"><tspan font-style="italic">IFI</tspan><tspan dx="-0.03em" dy="-0.62em" font-size="56%" font-style="normal">+</tspan><tspan dy="0.347em">​</tspan> Pericyte</text>
<rect x="495.5" y="2227.2" width="24.7" height="25.9" fill="#f4ec34"/>
<text x="526.1" y="2244.6" font-size="12.6" font-weight="bold" fill="#1a1a1a">Pericyte 1</text>
<rect x="495.5" y="2254" width="24.7" height="25.9" fill="#fcae1e"/>
<text x="526.1" y="2271.4" font-size="12.6" font-weight="bold" fill="#1a1a1a">Pericyte 2</text>
<rect x="496.2" y="2280.9" width="23.3" height="25.4" fill="#439684" stroke="#111" stroke-width="1.4"/>
<text x="526.1" y="2298.2" font-size="12.6" font-weight="bold" fill="#1a1a1a"><tspan font-style="italic">CYSLTR2</tspan><tspan dx="-0.03em" dy="-0.62em" font-size="56%" font-style="normal">+</tspan><tspan dy="0.347em">​</tspan> Fibroblast</text>
<rect x="496.2" y="2307.8" width="23.3" height="25.4" fill="#b4732c" stroke="#111" stroke-width="1.4"/>
<text x="526.1" y="2325.1" font-size="12.6" font-weight="bold" fill="#1a1a1a"><tspan font-style="italic">FAP</tspan><tspan dx="-0.03em" dy="-0.62em" font-size="56%" font-style="normal">+</tspan><tspan dy="0.347em">​</tspan> Fibroblast</text>
<rect x="495.5" y="2334.5" width="24.7" height="25.9" fill="#d46e7c"/>
<text x="526.1" y="2351.9" font-size="12.6" font-weight="bold" fill="#1a1a1a"><tspan font-style="italic">FBLN5</tspan><tspan dx="-0.03em" dy="-0.62em" font-size="56%" font-style="normal">+</tspan><tspan dy="0.347em">​</tspan> Fibroblast</text>
<rect x="495.5" y="2361.3" width="24.7" height="25.9" fill="#dc7040"/>
<text x="526.1" y="2378.7" font-size="12.6" font-weight="bold" fill="#1a1a1a"><tspan font-style="italic">MFAP5</tspan><tspan dx="-0.03em" dy="-0.62em" font-size="56%" font-style="normal">+</tspan><tspan dy="0.347em">​</tspan> Fibroblast</text>
<rect x="495.5" y="2388.1" width="24.7" height="25.9" fill="#d0a434"/>
<text x="526.1" y="2405.6" font-size="12.6" font-weight="bold" fill="#1a1a1a">LRRC15+ Fibroblast</text>
<rect x="495.5" y="2415" width="24.7" height="25.9" fill="#e41e20"/>
<text x="526.1" y="2432.4" font-size="12.6" font-weight="bold" fill="#1a1a1a">ADH1B+ Fibroblast 1</text>
<rect x="495.5" y="2441.8" width="24.7" height="25.9" fill="#ee6060"/>
<text x="526.1" y="2459.2" font-size="12.6" font-weight="bold" fill="#1a1a1a">ADH1B+ Fibroblast 2</text>
</g>
<g id="panelH">
<text x="565.5" y="1788.7" font-size="36.3" font-weight="bold">H</text>
<rect x="604.1" y="1774.7" width="711.7" height="31.8" fill="#231815"/>
<text x="815.9" y="1798.4" font-size="22.6" text-anchor="middle" font-weight="bold" fill="#22ac38">DCN</text>
<text x="959.7" y="1798.4" font-size="22.6" text-anchor="middle" font-weight="bold" fill="#e60012">FAP</text>
<text x="1103" y="1798.4" font-size="22.6" text-anchor="middle" font-weight="bold" fill="#0000ff">DAPI</text>
<text x="1247" y="1798.4" font-size="22.6" text-anchor="middle" font-weight="bold" fill="#fff">Merge</text>
<rect x="566.2" y="1812.2" width="31.3" height="137.1" fill="#231815"/>
<text font-size="20.2" text-anchor="middle" font-weight="bold" fill="#fff" transform="translate(589.5 1882.2) rotate(-90)" textLength="127.4" lengthAdjust="spacingAndGlyphs">PTs without TT</text>
<rect x="566.2" y="1956" width="31.3" height="137.1" fill="#231815"/>
<text font-size="20.2" text-anchor="middle" font-weight="bold" fill="#fff" transform="translate(589.5 2025) rotate(-90)" textLength="99.9" lengthAdjust="spacingAndGlyphs">PTs with TT</text>
<g transform="translate(604.1 1812.2)" clip-path="url(#c1)"><rect width="136.9" height="137.1" fill="#000"/><g clip-path="url(#ovc1)"><circle cx="65.7" cy="65.1" r="65" fill="#0a0418"/><rect x="0" y="0" width="136.9" height="137.1" filter="url(#n1)"/><rect x="0" y="0" width="136.9" height="137.1" filter="url(#n2)"/><rect x="0" y="0" width="136.9" height="137.1" filter="url(#n3)"/></g></g>
<g transform="translate(748 1812.2)" clip-path="url(#c1)"><rect width="136.9" height="137.1" fill="#000"/><rect x="0" y="0" width="136.9" height="137.1" filter="url(#n4)"/><rect x="0" y="0" width="136.9" height="137.1" filter="url(#n5)"/><rect x="0" y="0" width="136.9" height="137.1" fill="url(#g6)"/></g>
<g transform="translate(891.4 1812.2)" clip-path="url(#c1)"><rect width="136.9" height="137.1" fill="#050000"/><rect x="0" y="0" width="136.9" height="137.1" filter="url(#n7)"/></g>
<g transform="translate(1035.2 1812.2)" clip-path="url(#c1)"><rect width="136.9" height="137.1" fill="#00000c"/><rect x="-102.8" y="-102.8" width="342.5" height="342.8" filter="url(#n8)" transform="rotate(-30 68.5 68.5)"/></g>
<g transform="translate(1179 1812.2)" clip-path="url(#c1)"><rect width="136.9" height="137.1" fill="#050003"/><rect x="0" y="0" width="136.9" height="137.1" filter="url(#n7)"/><rect x="0" y="0" width="136.9" height="137.1" filter="url(#n4)"/><rect x="0" y="0" width="136.9" height="137.1" filter="url(#n5)"/><rect x="0" y="0" width="136.9" height="137.1" fill="url(#g10)"/><rect x="-102.8" y="-102.8" width="342.5" height="342.8" filter="url(#n11)" transform="rotate(-30 68.5 68.5)"/></g>
<g transform="translate(604.1 1956)" clip-path="url(#c1)"><rect width="136.9" height="137.1" fill="#000"/><g clip-path="url(#ovc2)"><rect width="137" height="137" fill="#0a0524"/><rect x="0" y="0" width="136.9" height="137.1" filter="url(#n12)"/><rect x="0" y="0" width="136.9" height="137.1" filter="url(#n13)"/><rect x="-102.8" y="-102.8" width="342.5" height="342.8" filter="url(#n14)" transform="rotate(-80 68.5 68.5)"/></g></g>
<g transform="translate(748 1956)" clip-path="url(#c1)"><rect width="136.9" height="137.1" fill="#000"/><rect x="-102.8" y="-102.8" width="342.5" height="342.8" filter="url(#n15)" transform="rotate(-62 68.5 68.5)"/><rect x="0" y="0" width="136.9" height="137.1" fill="url(#g16)"/></g>
<g transform="translate(891.4 1956)" clip-path="url(#c1)"><rect width="136.9" height="137.1" fill="#080000"/><rect x="-102.8" y="-102.8" width="342.5" height="342.8" filter="url(#n17)" transform="rotate(-55 68.5 68.5)"/><rect x="0" y="0" width="136.9" height="137.1" filter="url(#n18)"/></g>
<g transform="translate(1035.2 1956)" clip-path="url(#c1)"><rect width="136.9" height="137.1" fill="#00000c"/><rect x="-102.8" y="-102.8" width="342.5" height="342.8" filter="url(#n19)" transform="rotate(-58 68.5 68.5)"/><rect x="0" y="0" width="136.9" height="137.1" fill="url(#g20)"/></g>
<g transform="translate(1179 1956)" clip-path="url(#c1)"><rect width="136.9" height="137.1" fill="#040004"/><rect x="-102.8" y="-102.8" width="342.5" height="342.8" filter="url(#n15)" transform="rotate(-62 68.5 68.5)"/><rect x="0" y="0" width="136.9" height="137.1" fill="url(#g21)"/><rect x="-102.8" y="-102.8" width="342.5" height="342.8" filter="url(#n22)" transform="rotate(-55 68.5 68.5)"/><rect x="-102.8" y="-102.8" width="342.5" height="342.8" filter="url(#n23)" transform="rotate(-58 68.5 68.5)"/></g>
<rect x="649.1" y="1838.2" width="27.3" height="27.3" fill="none" stroke="#e0e0e0" stroke-width="1"/>
<line x1="676.4" y1="1838.2" x2="741" y2="1812.2" stroke="#e0e0e0" stroke-width="0.9"/><line x1="676.4" y1="1865.5" x2="741" y2="1949.3" stroke="#e0e0e0" stroke-width="0.9"/>
<rect x="672.1" y="2016.7" width="27.3" height="27.3" fill="none" stroke="#e0e0e0" stroke-width="1"/>
<line x1="699.4" y1="2016.7" x2="741" y2="1956" stroke="#e0e0e0" stroke-width="0.9"/><line x1="699.4" y1="2044" x2="741" y2="2093.1" stroke="#e0e0e0" stroke-width="0.9"/>
<rect x="721.9" y="1938.9" width="14.2" height="3" fill="#fff"/>
<rect x="718.9" y="2084.4" width="14" height="3" fill="#fff"/>
<rect x="1290.5" y="1939.5" width="18.5" height="3" fill="#fff"/>
<rect x="1292" y="2084.7" width="18.5" height="3" fill="#fff"/>
<text x="1448.6" y="1798.8" font-size="20.4" text-anchor="middle" font-weight="bold">FAP<tspan dx="-0.03em" dy="-0.62em" font-size="56%" font-style="normal">+</tspan><tspan dy="0.347em">​</tspan> Fibroblast</text><text x="1441.8" y="1823.7" font-size="17.6" text-anchor="middle" font-weight="bold"><tspan font-style="italic">P</tspan>=0.002</text><line x1="1425.4" y1="1948" x2="1425.4" y2="1995.6" stroke="#000" stroke-width="2.4"/><line x1="1417.4" y1="1948" x2="1433.4" y2="1948" stroke="#000" stroke-width="2.4"/><line x1="1417.4" y1="1995.6" x2="1433.4" y2="1995.6" stroke="#000" stroke-width="2.4"/><rect x="1409.8" y="1984.8" width="31.2" height="10.8" fill="#6666ff" stroke="#000" stroke-width="2.6"/><line x1="1408.8" y1="1993.9" x2="1442" y2="1993.9" stroke="#000" stroke-width="2.4"/><circle cx="1423.4" cy="1948" r="3.2" fill="#000"/><circle cx="1423.4" cy="1983.1" r="3.2" fill="#000"/><circle cx="1423.4" cy="1992.8" r="3.2" fill="#000"/><circle cx="1427.4" cy="1993.1" r="3.2" fill="#000"/><line x1="1471.4" y1="1833.1" x2="1471.4" y2="1983.1" stroke="#000" stroke-width="2.4"/><line x1="1463.4" y1="1833.1" x2="1479.4" y2="1833.1" stroke="#000" stroke-width="2.4"/><line x1="1463.4" y1="1983.1" x2="1479.4" y2="1983.1" stroke="#000" stroke-width="2.4"/><rect x="1456" y="1887.8" width="30.9" height="79.4" fill="#ff6666" stroke="#000" stroke-width="2.6"/><line x1="1455" y1="1935.5" x2="1487.9" y2="1935.5" stroke="#000" stroke-width="2.4"/><rect x="1468.2" y="1829.9" width="6.4" height="6.4" fill="#000"/><rect x="1468.2" y="1880.7" width="6.4" height="6.4" fill="#000"/><rect x="1468.2" y="1892.3" width="6.4" height="6.4" fill="#000"/><rect x="1468.2" y="1916.4" width="6.4" height="6.4" fill="#000"/><rect x="1468.2" y="1948.4" width="6.4" height="6.4" fill="#000"/><rect x="1468.2" y="1964" width="6.4" height="6.4" fill="#000"/><rect x="1468.2" y="1979.9" width="6.4" height="6.4" fill="#000"/><path d="M1394.4 1817.5V1996.2H1504.2" stroke="#000" stroke-width="2.5" fill="none"/><text x="1385.9" y="1822.8" font-size="12.3" text-anchor="end" font-weight="bold">0.25</text><text x="1385.9" y="1858.6" font-size="12.3" text-anchor="end" font-weight="bold">0.20</text><text x="1385.9" y="1894" font-size="12.3" text-anchor="end" font-weight="bold">0.15</text><text x="1385.9" y="1929.8" font-size="12.3" text-anchor="end" font-weight="bold">0.10</text><text x="1385.9" y="1965.2" font-size="12.3" text-anchor="end" font-weight="bold">0.05</text><text x="1385.9" y="2000.7" font-size="12.3" text-anchor="end" font-weight="bold">0.00</text><path d="M1394.4 1818.6h-7M1394.4 1854.4h-7M1394.4 1889.8h-7M1394.4 1925.6h-7M1394.4 1961h-7M1394.4 1996.5h-7M1425.4 1996.2v8M1471.3 1996.2v8" stroke="#000" stroke-width="2.4" fill="none"/><text font-size="18.3" text-anchor="end" font-weight="bold" transform="translate(1445.2 2008.7) rotate(-44)">PTs without TT</text><text font-size="18.3" text-anchor="end" font-weight="bold" transform="translate(1491.2 2008.7) rotate(-44)">PTs with TT</text><text font-size="19.7" text-anchor="middle" font-weight="bold" transform="translate(1336.5 1907.4) rotate(-90)">The relative proportion of</text><text font-size="19.7" text-anchor="middle" font-weight="bold" transform="translate(1358 1907.4) rotate(-90)">DCN<tspan dx="-0.03em" dy="-0.62em" font-size="56%" font-style="normal">+</tspan><tspan dy="0.347em">​</tspan>FAP<tspan dx="-0.03em" dy="-0.62em" font-size="56%" font-style="normal">+</tspan><tspan dy="0.347em">​</tspan> cell</text>
</g>
<g id="panelI">
<text x="1540.5" y="1788.3" font-size="36.3" font-weight="bold">I</text>
<text x="1671.5" y="1792.5" font-size="23.4" text-anchor="middle" font-weight="bold" fill="#1a1a1a">Cell Niche 15</text>
<rect x="1662.5" y="1828.8" width="110" height="252.2" fill="#fff" stroke="#333" stroke-width="1.2"/>
<path d="M1667.3 1829.5V2080.5M1689.7 1829.5V2080.5M1711.8 1829.5V2080.5M1734.5 1829.5V2080.5M1756.6 1829.5V2080.5" stroke="#d0d0d0" stroke-width="1" fill="none"/>
<path d="M1667.3 1828.8v-3.5M1689.7 1828.8v-3.5M1711.8 1828.8v-3.5M1734.5 1828.8v-3.5M1756.6 1828.8v-3.5M1662.5 1840.2h-3.5M1662.5 1862.9h-3.5M1662.5 1886.1h-3.5M1662.5 1908.8h-3.5M1662.5 1931.8h-3.5M1662.5 1954.8h-3.5M1662.5 1977.5h-3.5M1662.5 2000.7h-3.5M1662.5 2023.4h-3.5M1662.5 2046.7h-3.5M1662.5 2069.6h-3.5" stroke="#333" stroke-width="1" fill="none"/>
<text font-size="10.4" fill="#1a1a1a" transform="translate(1663.7 1802.6) rotate(90)">0.00</text>
<text font-size="10.4" fill="#1a1a1a" transform="translate(1686.1 1802.6) rotate(90)">0.05</text>
<text font-size="10.4" fill="#1a1a1a" transform="translate(1708.2 1802.6) rotate(90)">0.10</text>
<text font-size="10.4" fill="#1a1a1a" transform="translate(1730.9 1802.6) rotate(90)">0.15</text>
<text font-size="10.4" fill="#1a1a1a" transform="translate(1753 1802.6) rotate(90)">0.20</text>
<path d="M1667.3 1837.4C1667.4 1835.6 1667.7 1833.9 1668.1 1832.8C1668.5 1831.7 1669.1 1830.7 1669.5 1830.8C1670 1830.9 1670.5 1832.1 1671 1833.4C1671.4 1834.7 1671.9 1837.1 1672.1 1838.5C1672.3 1839.9 1672.3 1840.5 1672.1 1841.9C1671.9 1843.3 1671.4 1845.7 1671 1847C1670.5 1848.3 1670 1849.5 1669.5 1849.5C1669.1 1849.6 1668.5 1848.6 1668.1 1847.6C1667.7 1846.5 1667.4 1844.7 1667.3 1843C1667.1 1841.3 1667.1 1839.1 1667.3 1837.4Z" fill="#d8221f" stroke="#444" stroke-width="1.4"/>
<text x="1656" y="1844.4" font-size="13.3" text-anchor="end" font-weight="bold" fill="#1a1a1a"><tspan font-style="italic">ADH1B</tspan><tspan dx="-0.03em" dy="-0.62em" font-size="56%" font-style="normal">+</tspan><tspan dy="0.347em">​</tspan> Fibroblast</text>
<path d="M1667.3 1859.5C1667.4 1857.6 1667.7 1855.9 1668.1 1854.9C1668.5 1853.9 1669.1 1853.3 1669.5 1853.5C1670 1853.7 1670.5 1854.8 1671 1856.1C1671.4 1857.3 1671.9 1859.8 1672.1 1861.2C1672.3 1862.6 1672.3 1863.2 1672.1 1864.6C1671.9 1866 1671.4 1868.4 1671 1869.7C1670.5 1871 1670 1872 1669.5 1872.2C1669.1 1872.4 1668.5 1871.8 1668.1 1870.8C1667.7 1869.8 1667.4 1868.2 1667.3 1866.3C1667.1 1864.4 1667.1 1861.4 1667.3 1859.5Z" fill="#3d9083" stroke="#444" stroke-width="1.4"/>
<text x="1656" y="1867.1" font-size="13.3" text-anchor="end" font-weight="bold" fill="#1a1a1a"><tspan font-style="italic">CYSLTR2</tspan><tspan dx="-0.03em" dy="-0.62em" font-size="56%" font-style="normal">+</tspan><tspan dy="0.347em">​</tspan> Fibroblast</text>
<path d="M1667.3 1883.3C1667.5 1881.4 1668.2 1878.7 1668.7 1877.6C1669.2 1876.5 1669.7 1876.3 1670.4 1876.8C1671.1 1877.2 1672 1879.3 1672.9 1880.5C1673.8 1881.6 1674.8 1882.8 1675.8 1883.6C1676.7 1884.3 1677.7 1884.8 1678.6 1885C1679.6 1885.2 1680.6 1884.8 1681.5 1884.7C1682.3 1884.6 1682.9 1884.3 1683.4 1884.4C1684 1884.6 1684.6 1885.2 1684.9 1885.6C1685.1 1885.9 1685.1 1886.3 1684.9 1886.7C1684.6 1887.1 1684 1887.7 1683.4 1887.8C1682.9 1888 1682.3 1887.6 1681.5 1887.5C1680.6 1887.5 1679.6 1887.1 1678.6 1887.3C1677.7 1887.5 1676.7 1887.9 1675.8 1888.7C1674.8 1889.4 1673.8 1890.7 1672.9 1891.8C1672 1892.9 1671.1 1895 1670.4 1895.5C1669.7 1896 1669.2 1895.7 1668.7 1894.6C1668.2 1893.6 1667.5 1890.9 1667.3 1889C1667 1887.1 1667 1885.2 1667.3 1883.3Z" fill="#5b9c58" stroke="#444" stroke-width="1.4"/>
<text x="1656" y="1890.3" font-size="13.3" text-anchor="end" font-weight="bold" fill="#1a1a1a">Cycling Pericyte</text>
<path d="M1667.8 1904.3C1668.2 1902.2 1669 1901.7 1670.1 1900.9C1671.2 1900.1 1672.5 1899.7 1674.4 1899.5C1676.3 1899.2 1679.1 1898.9 1681.5 1899.2C1683.8 1899.5 1685.9 1900.5 1688.5 1901.2C1691.1 1901.8 1694.2 1902.5 1697.1 1903.1C1699.9 1903.8 1702.7 1904.6 1705.6 1905.1C1708.4 1905.7 1710.8 1906.2 1714.1 1906.6C1717.4 1906.9 1721.2 1907.2 1725.4 1907.4C1729.7 1907.6 1734.5 1907.7 1739.6 1907.8C1744.7 1908 1753.3 1908 1756 1908.3C1758.8 1908.5 1758.8 1909.1 1756 1909.4C1753.3 1909.6 1744.7 1909.7 1739.6 1909.8C1734.5 1910 1729.7 1910 1725.4 1910.2C1721.2 1910.5 1717.4 1910.7 1714.1 1911.1C1710.8 1911.5 1708.4 1911.9 1705.6 1912.5C1702.7 1913.1 1699.9 1913.8 1697.1 1914.5C1694.2 1915.2 1691.1 1915.8 1688.5 1916.5C1685.9 1917.1 1683.8 1918.2 1681.5 1918.5C1679.1 1918.7 1676.3 1918.5 1674.4 1918.2C1672.5 1917.9 1671.2 1917.6 1670.1 1916.8C1669 1916 1668.2 1915.4 1667.8 1913.4C1667.5 1911.3 1667.5 1906.4 1667.8 1904.3Z" fill="#b2702b" stroke="#444" stroke-width="1.4"/>
<text x="1656" y="1913" font-size="13.3" text-anchor="end" font-weight="bold" fill="#1a1a1a"><tspan font-style="italic">FAP</tspan><tspan dx="-0.03em" dy="-0.62em" font-size="56%" font-style="normal">+</tspan><tspan dy="0.347em">​</tspan> Fibroblast</text>
<path d="M1667.3 1928.4C1667.5 1926.4 1668 1924.3 1668.7 1923.3C1669.4 1922.3 1670.5 1922.1 1671.5 1922.4C1672.6 1922.8 1673.5 1924.5 1674.9 1925.6C1676.3 1926.6 1678.2 1927.9 1680 1928.7C1681.8 1929.5 1684.1 1930 1685.7 1930.4C1687.4 1930.8 1688.6 1930.8 1690 1930.9C1691.3 1931.1 1693 1931 1693.6 1931.2C1694.3 1931.5 1694.3 1932.1 1693.6 1932.4C1693 1932.6 1691.3 1932.5 1690 1932.6C1688.6 1932.8 1687.4 1932.8 1685.7 1933.2C1684.1 1933.6 1681.8 1934.1 1680 1934.9C1678.2 1935.7 1676.3 1937 1674.9 1938C1673.5 1939.1 1672.6 1940.8 1671.5 1941.2C1670.5 1941.5 1669.4 1941.3 1668.7 1940.3C1668 1939.3 1667.5 1937.2 1667.3 1935.2C1667 1933.2 1667 1930.4 1667.3 1928.4Z" fill="#cb6a7c" stroke="#444" stroke-width="1.4"/>
<text x="1656" y="1936" font-size="13.3" text-anchor="end" font-weight="bold" fill="#1a1a1a"><tspan font-style="italic">FBLN5</tspan><tspan dx="-0.03em" dy="-0.62em" font-size="56%" font-style="normal">+</tspan><tspan dy="0.347em">​</tspan> Fibroblast</text>
<path d="M1667.3 1951.4C1667.5 1949.4 1668.1 1947.2 1668.7 1946.3C1669.3 1945.3 1670.1 1944.8 1671 1945.4C1671.8 1946 1672.8 1948.5 1673.8 1949.7C1674.8 1950.8 1675.9 1951.8 1677.2 1952.5C1678.5 1953.2 1679.8 1953.6 1681.5 1953.9C1683.1 1954.2 1686.2 1954 1687.1 1954.2C1688.1 1954.4 1688.1 1955.1 1687.1 1955.3C1686.2 1955.6 1683.1 1955.3 1681.5 1955.6C1679.8 1955.9 1678.5 1956.3 1677.2 1957C1675.9 1957.7 1674.8 1958.7 1673.8 1959.9C1672.8 1961.1 1671.8 1963.6 1671 1964.1C1670.1 1964.7 1669.3 1964.3 1668.7 1963.3C1668.1 1962.3 1667.5 1960.2 1667.3 1958.2C1667 1956.2 1667 1953.3 1667.3 1951.4Z" fill="#d480b0" stroke="#444" stroke-width="1.4"/>
<text x="1656" y="1959" font-size="13.3" text-anchor="end" font-weight="bold" fill="#1a1a1a"><tspan font-style="italic">IFI</tspan><tspan dx="-0.03em" dy="-0.62em" font-size="56%" font-style="normal">+</tspan><tspan dy="0.347em">​</tspan> Pericyte</text>
<path d="M1667.3 1974C1667.5 1972.1 1668 1969.9 1668.7 1968.9C1669.4 1968 1670.5 1967.5 1671.5 1968.1C1672.6 1968.7 1673.7 1971.2 1674.9 1972.3C1676.1 1973.5 1677.4 1974.5 1678.6 1974.9C1679.8 1975.3 1680.9 1974.9 1682 1974.9C1683.1 1974.9 1684.1 1974.4 1685.1 1974.6C1686.1 1974.9 1687.5 1975.7 1688 1976.3C1688.4 1977 1688.4 1977.9 1688 1978.6C1687.5 1979.2 1686.1 1980.1 1685.1 1980.3C1684.1 1980.5 1683.1 1980.1 1682 1980C1680.9 1980 1679.8 1979.6 1678.6 1980C1677.4 1980.4 1676.1 1981.4 1674.9 1982.6C1673.7 1983.7 1672.6 1986.2 1671.5 1986.8C1670.5 1987.4 1669.4 1987 1668.7 1986C1668 1985 1667.5 1982.8 1667.3 1980.9C1667 1978.9 1667 1976 1667.3 1974Z" fill="#d2693e" stroke="#444" stroke-width="1.4"/>
<text x="1656" y="1981.7" font-size="13.3" text-anchor="end" font-weight="bold" fill="#1a1a1a"><tspan font-style="italic">MFAP5</tspan><tspan dx="-0.03em" dy="-0.62em" font-size="56%" font-style="normal">+</tspan><tspan dy="0.347em">​</tspan> Fibroblast</text>
<path d="M1667.3 1997.9C1667.5 1996.1 1668 1993.8 1668.4 1992.8C1668.8 1991.8 1669.3 1991.3 1669.8 1991.9C1670.3 1992.6 1671 1995.5 1671.5 1996.7C1672.1 1998 1672.5 1998.7 1673.2 1999.3C1673.9 1999.8 1674.9 1999.9 1675.8 2000C1676.7 2000.1 1678.1 1999.9 1678.6 2000.1C1679.1 2000.4 1679.1 2001.1 1678.6 2001.3C1678.1 2001.5 1676.7 2001.3 1675.8 2001.4C1674.9 2001.6 1673.9 2001.6 1673.2 2002.1C1672.5 2002.7 1672.1 2003.5 1671.5 2004.7C1671 2005.9 1670.3 2008.8 1669.8 2009.5C1669.3 2010.2 1668.8 2009.6 1668.4 2008.7C1668 2007.7 1667.5 2005.3 1667.3 2003.5C1667.1 2001.7 1667.1 1999.7 1667.3 1997.9Z" fill="#e8dc3a" stroke="#444" stroke-width="1.4"/>
<text x="1656" y="2004.9" font-size="13.3" text-anchor="end" font-weight="bold" fill="#1a1a1a">Pericyte 1</text>
<path d="M1667.3 2020C1667.5 2018 1668 2015.9 1668.7 2014.9C1669.4 2013.9 1670.5 2013.6 1671.5 2014C1672.6 2014.5 1673.7 2016.6 1674.9 2017.7C1676.1 2018.8 1677.5 2019.9 1678.6 2020.6C1679.7 2021.2 1680.7 2021.3 1681.5 2021.7C1682.2 2022.1 1682.6 2022.5 1682.9 2022.8C1683.1 2023.2 1683.1 2023.6 1682.9 2024C1682.6 2024.3 1682.2 2024.7 1681.5 2025.1C1680.7 2025.5 1679.7 2025.6 1678.6 2026.2C1677.5 2026.9 1676.1 2028 1674.9 2029.1C1673.7 2030.2 1672.6 2032.3 1671.5 2032.8C1670.5 2033.2 1669.4 2032.9 1668.7 2031.9C1668 2030.9 1667.5 2028.8 1667.3 2026.8C1667 2024.8 1667 2022 1667.3 2020Z" fill="#f0a422" stroke="#444" stroke-width="1.4"/>
<text x="1656" y="2027.6" font-size="13.3" text-anchor="end" font-weight="bold" fill="#1a1a1a">Pericyte 2</text>
<path d="M1667.3 2043.3C1667.5 2041.3 1668.2 2039.1 1668.7 2038.1C1669.2 2037.2 1669.6 2036.7 1670.4 2037.3C1671.1 2037.9 1672.1 2040.3 1673.2 2041.5C1674.4 2042.8 1675.6 2044.2 1677.2 2045C1678.8 2045.7 1680.5 2045.6 1682.9 2045.8C1685.2 2046 1688.9 2046 1691.4 2046.1C1693.8 2046.2 1696.6 2046.1 1697.6 2046.2C1698.7 2046.4 1698.7 2046.9 1697.6 2047.1C1696.6 2047.2 1693.8 2047.1 1691.4 2047.2C1688.9 2047.3 1685.2 2047.3 1682.9 2047.5C1680.5 2047.7 1678.8 2047.6 1677.2 2048.4C1675.6 2049.1 1674.4 2050.5 1673.2 2051.8C1672.1 2053 1671.1 2055.4 1670.4 2056C1669.6 2056.6 1669.2 2056.2 1668.7 2055.2C1668.2 2054.2 1667.5 2052 1667.3 2050.1C1667 2048.1 1667 2045.2 1667.3 2043.3Z" fill="#645e8c" stroke="#444" stroke-width="1.4"/>
<text x="1656" y="2050.9" font-size="13.3" text-anchor="end" font-weight="bold" fill="#1a1a1a">vSMC 1</text>
<path d="M1667.3 2066.2C1667.5 2064.2 1668.2 2062.1 1668.7 2061.1C1669.2 2060.1 1669.7 2059.7 1670.4 2060.3C1671.1 2060.8 1672 2063.4 1672.9 2064.5C1673.8 2065.7 1674.7 2066.5 1675.8 2067.1C1676.9 2067.6 1678.5 2067.6 1679.5 2067.9C1680.4 2068.3 1681.1 2068.7 1681.5 2069.1C1681.8 2069.4 1681.8 2069.8 1681.5 2070.2C1681.1 2070.6 1680.4 2071 1679.5 2071.3C1678.5 2071.7 1676.9 2071.6 1675.8 2072.2C1674.7 2072.7 1673.8 2073.6 1672.9 2074.7C1672 2075.9 1671.1 2078.4 1670.4 2079C1669.7 2079.6 1669.2 2079.1 1668.7 2078.1C1668.2 2077.1 1667.5 2075 1667.3 2073C1667 2071 1667 2068.2 1667.3 2066.2Z" fill="#8d529b" stroke="#444" stroke-width="1.4"/>
<text x="1656" y="2073.8" font-size="13.3" text-anchor="end" font-weight="bold" fill="#1a1a1a">vSMC 2</text>
</g>
<g id="panelJ">
<text x="671" y="2136" font-size="36.3" font-weight="bold">J</text>
<rect x="708.3" y="2113.9" width="832.3" height="30.5" fill="#231815"/>
<text x="914.7" y="2136.4" font-size="21.8" text-anchor="middle" font-weight="bold" fill="#22ac38">DCN</text>
<text x="1054.5" y="2136.4" font-size="21.8" text-anchor="middle" font-weight="bold" fill="#e60012">FAP</text>
<text x="1193.8" y="2136.4" font-size="21.8" text-anchor="middle" font-weight="bold" fill="#dcdcdc">PLOD2</text>
<text x="1333.7" y="2136.4" font-size="21.8" text-anchor="middle" font-weight="bold" fill="#0000ff">DAPI</text>
<text x="1473.5" y="2136.4" font-size="21.8" text-anchor="middle" font-weight="bold" fill="#fff">Merge</text>
<rect x="672.2" y="2151.6" width="30.5" height="136.8" fill="#231815"/>
<text font-size="18.3" text-anchor="middle" font-weight="bold" fill="#fff" transform="translate(693.2 2220.8) rotate(-90)">PTs without TT</text>
<rect x="672.2" y="2294.8" width="30.5" height="136.8" fill="#231815"/>
<text font-size="18.3" text-anchor="middle" font-weight="bold" fill="#fff" transform="translate(693.2 2363.8) rotate(-90)">PTs with TT</text>
<g transform="translate(708.8 2151.6)" clip-path="url(#c2)"><rect width="133.2" height="136.8" fill="#050510"/><g clip-path="url(#ovc3)"><rect width="137" height="137" fill="#161234"/><rect x="0" y="0" width="133.2" height="136.8" filter="url(#n24)"/><rect x="0" y="0" width="133.2" height="136.8" filter="url(#n25)"/><rect x="0" y="0" width="133.2" height="136.8" fill="url(#g26)"/><g clip-path="url(#jarc)"><rect x="0" y="0" width="133.2" height="136.8" filter="url(#n27)"/></g></g></g>
<g transform="translate(848.7 2151.6)" clip-path="url(#c2)"><rect width="133.2" height="136.8" fill="#000"/><rect x="0" y="0" width="133.2" height="136.8" filter="url(#n28)"/><rect x="0" y="0" width="133.2" height="136.8" fill="url(#g29)"/></g>
<g transform="translate(988.5 2151.6)" clip-path="url(#c2)"><rect width="133.2" height="136.8" fill="#160000"/><rect x="0" y="0" width="133.2" height="136.8" filter="url(#n30)"/></g>
<g transform="translate(1128.3 2151.6)" clip-path="url(#c2)"><rect width="133.2" height="136.8" fill="#050505"/><rect x="0" y="0" width="133.2" height="136.8" filter="url(#n31)"/><rect x="0" y="0" width="133.2" height="136.8" fill="url(#g32)"/></g>
<g transform="translate(1268.2 2151.6)" clip-path="url(#c2)"><rect width="133.2" height="136.8" fill="#00000e"/><rect x="0" y="0" width="133.2" height="136.8" filter="url(#n33)"/><rect x="0" y="0" width="133.2" height="136.8" fill="url(#g34)"/></g>
<g transform="translate(1407.5 2151.6)" clip-path="url(#c2)"><rect width="133.2" height="136.8" fill="#060410"/><rect x="0" y="0" width="133.2" height="136.8" filter="url(#n35)"/><rect x="0" y="0" width="133.2" height="136.8" filter="url(#n36)"/><rect x="0" y="0" width="133.2" height="136.8" fill="url(#g37)"/><g clip-path="url(#jleft)"><rect x="0" y="0" width="133.2" height="136.8" filter="url(#n39)"/></g></g>
<g transform="translate(708.8 2294.8)" clip-path="url(#c2)"><rect width="133.2" height="136.8" fill="#000"/><rect y="14" width="137" height="110" fill="#07071a"/><g clip-path="url(#ovc4)"><rect width="137" height="137" fill="#1a1444"/><rect x="0" y="0" width="133.2" height="136.8" filter="url(#n40)"/><rect x="0" y="0" width="133.2" height="136.8" filter="url(#n41)"/><rect x="0" y="0" width="133.2" height="136.8" filter="url(#n42)"/><rect x="0" y="0" width="133.2" height="136.8" filter="url(#n43)"/></g></g>
<g transform="translate(848.7 2294.8)" clip-path="url(#c2)"><rect width="133.2" height="136.8" fill="#000"/><rect x="-102.6" y="-102.6" width="338.4" height="342" filter="url(#n44)" transform="rotate(-35 66.6 68.4)"/><rect x="0" y="0" width="133.2" height="136.8" fill="url(#g45)"/></g>
<g transform="translate(988.5 2294.8)" clip-path="url(#c2)"><rect width="133.2" height="136.8" fill="#0c0000"/><rect x="-102.6" y="-102.6" width="338.4" height="342" filter="url(#n46)" transform="rotate(-30 66.6 68.4)"/><rect x="0" y="0" width="133.2" height="136.8" filter="url(#n47)"/></g>
<g transform="translate(1128.3 2294.8)" clip-path="url(#c2)"><rect width="133.2" height="136.8" fill="#060606"/><rect x="-102.6" y="-102.6" width="338.4" height="342" filter="url(#n48)" transform="rotate(25 66.6 68.4)"/></g>
<g transform="translate(1268.2 2294.8)" clip-path="url(#c2)"><rect width="133.2" height="136.8" fill="#00000e"/><rect x="0" y="0" width="133.2" height="136.8" filter="url(#n49)"/></g>
<g transform="translate(1407.5 2294.8)" clip-path="url(#c2)"><rect width="133.2" height="136.8" fill="#0a0618"/><rect x="-102.6" y="-102.6" width="338.4" height="342" filter="url(#n50)" transform="rotate(25 66.6 68.4)"/><rect x="0" y="0" width="133.2" height="136.8" filter="url(#n51)"/><rect x="-102.6" y="-102.6" width="338.4" height="342" filter="url(#n52)" transform="rotate(-35 66.6 68.4)"/><rect x="-102.6" y="-102.6" width="338.4" height="342" filter="url(#n53)" transform="rotate(-30 66.6 68.4)"/></g>
<rect x="725.3" y="2191.6" width="27" height="27" fill="none" stroke="#e0e0e0" stroke-width="1"/>
<line x1="752.3" y1="2191.6" x2="842" y2="2151.6" stroke="#e0e0e0" stroke-width="0.9"/><line x1="752.3" y1="2218.6" x2="842" y2="2288.4" stroke="#e0e0e0" stroke-width="0.9"/>
<rect x="745.8" y="2337.7" width="26.5" height="26.5" fill="none" stroke="#e0e0e0" stroke-width="1"/>
<line x1="772.3" y1="2337.7" x2="842" y2="2294.8" stroke="#e0e0e0" stroke-width="0.9"/><line x1="772.3" y1="2364.2" x2="842" y2="2431.6" stroke="#e0e0e0" stroke-width="0.9"/>
<rect x="822.7" y="2280.8" width="13.6" height="2.8" fill="#fff"/>
<rect x="822.7" y="2423.8" width="13.6" height="2.8" fill="#fff"/>
<rect x="1509" y="2278.1" width="22" height="3" fill="#fff"/>
<rect x="1512.5" y="2421.8" width="17" height="3" fill="#fff"/>
<text x="1666.5" y="2130.5" font-size="20.1" text-anchor="middle" font-weight="bold">CN15-like regions</text><text x="1670.2" y="2163" font-size="17.4" text-anchor="middle" font-weight="bold"><tspan font-style="italic">P</tspan>=0.008</text><line x1="1645.1" y1="2304" x2="1645.1" y2="2336.6" stroke="#000" stroke-width="2.6"/><line x1="1636.6" y1="2304" x2="1653.6" y2="2304" stroke="#000" stroke-width="2.6"/><line x1="1636.6" y1="2336.6" x2="1653.6" y2="2336.6" stroke="#000" stroke-width="2.6"/><rect x="1631.8" y="2314.1" width="26.6" height="22.5" fill="#6666ff" stroke="#000" stroke-width="2.8"/><line x1="1630.3" y1="2327.9" x2="1659.8" y2="2327.9" stroke="#000" stroke-width="2.6"/><circle cx="1647.1" cy="2304" r="3.3" fill="#000"/><circle cx="1644.1" cy="2322.3" r="3.3" fill="#000"/><circle cx="1644.1" cy="2327.9" r="3.3" fill="#000"/><circle cx="1647.1" cy="2333.7" r="3.3" fill="#000"/><line x1="1688.4" y1="2190.1" x2="1688.4" y2="2283.9" stroke="#000" stroke-width="2.6"/><line x1="1679.9" y1="2190.1" x2="1696.9" y2="2190.1" stroke="#000" stroke-width="2.6"/><line x1="1679.9" y1="2283.9" x2="1696.9" y2="2283.9" stroke="#000" stroke-width="2.6"/><rect x="1675.1" y="2216.6" width="26.6" height="59.9" fill="#ff6666" stroke="#000" stroke-width="2.8"/><line x1="1673.6" y1="2247.6" x2="1703.2" y2="2247.6" stroke="#000" stroke-width="2.6"/><rect x="1685.2" y="2186.9" width="6.4" height="6.4" fill="#000"/><rect x="1685.2" y="2237.9" width="6.4" height="6.4" fill="#000"/><rect x="1685.2" y="2244.4" width="6.4" height="6.4" fill="#000"/><rect x="1685.2" y="2267.6" width="6.4" height="6.4" fill="#000"/><rect x="1685.2" y="2280.7" width="6.4" height="6.4" fill="#000"/><path d="M1616.4 2149.9V2339.3H1719.1" stroke="#000" stroke-width="2.8" fill="none"/><text x="1607.3" y="2155.7" font-size="13.2" text-anchor="end" font-weight="bold">0.6</text><text x="1607.3" y="2218.4" font-size="13.2" text-anchor="end" font-weight="bold">0.4</text><text x="1607.3" y="2281.2" font-size="13.2" text-anchor="end" font-weight="bold">0.2</text><text x="1607.3" y="2343.9" font-size="13.2" text-anchor="end" font-weight="bold">0.0</text><path d="M1616.4 2151.1h-8M1616.4 2213.8h-8M1616.4 2276.6h-8M1616.4 2339.3h-8M1644.9 2339.3v9M1688.2 2339.3v9" stroke="#000" stroke-width="2.6" fill="none"/><text font-size="18.3" text-anchor="end" font-weight="bold" transform="translate(1664.1 2355.2) rotate(-44)">PTs without TT</text><text font-size="18.3" text-anchor="end" font-weight="bold" transform="translate(1706.6 2355.2) rotate(-44)">PTs with TT</text><text font-size="18.2" text-anchor="middle" font-weight="bold" transform="translate(1564.5 2256.8) rotate(-90)">DCN<tspan dx="-0.03em" dy="-0.62em" font-size="56%" font-style="normal">+</tspan><tspan dy="0.347em">​</tspan>FAP<tspan dx="-0.03em" dy="-0.62em" font-size="56%" font-style="normal">+</tspan><tspan dy="0.347em">​</tspan> / PLOD2<tspan dx="-0.03em" dy="-0.62em" font-size="56%" font-style="normal">+</tspan><tspan dy="0.347em">​</tspan> Interface</text><text font-size="18.2" text-anchor="middle" font-weight="bold" transform="translate(1586.5 2256.8) rotate(-90)">(% Tissue Area)</text>
</g>
</svg>
</body></html>
